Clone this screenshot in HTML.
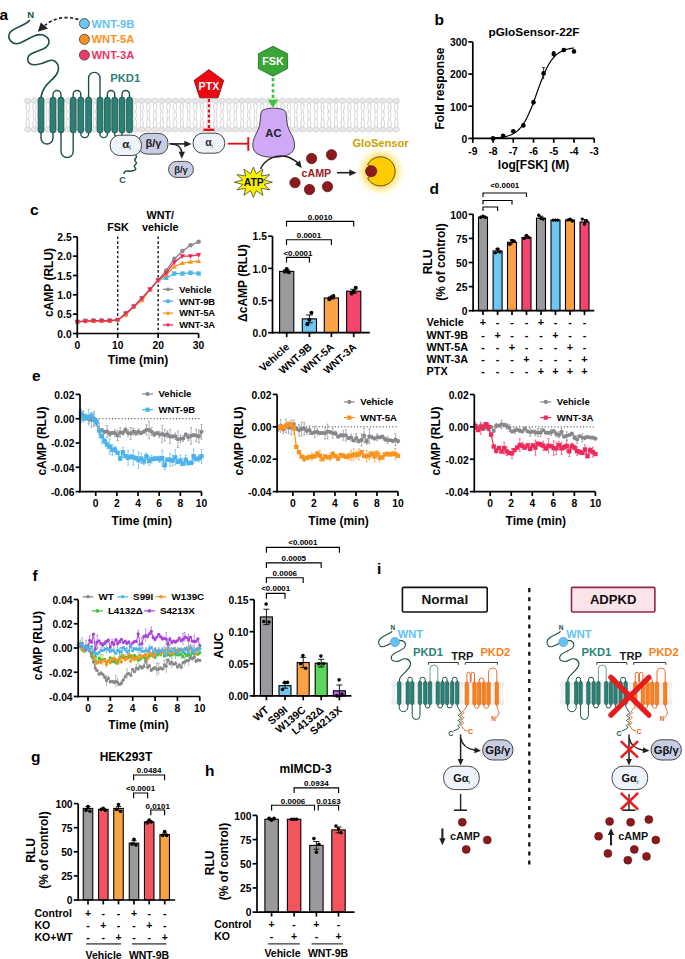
<!DOCTYPE html>
<html><head><meta charset="utf-8"><style>
html,body{margin:0;padding:0;background:#fff;}
svg{display:block;font-family:"Liberation Sans", sans-serif;}
</style></head><body>
<svg width="685" height="959" viewBox="0 0 685 959">
<rect width="685" height="959" fill="#fff"/>
<text x="-0.5" y="19.75" font-size="15.5" font-weight="bold" text-anchor="start" fill="#000">a</text>
<path d="M26.75,102.87 L25.95,107.15 L27.05,111.43 L26.25,114.86 M28.75,102.87 L29.55,107.15 L28.45,111.43 L29.25,114.86 M26.75,127.33 L25.95,123.05 L27.05,118.77 L26.25,115.34 M28.75,127.33 L29.55,123.05 L28.45,118.77 L29.25,115.34 M33.45,102.87 L32.65,107.15 L33.75,111.43 L32.95,114.86 M35.45,102.87 L36.25,107.15 L35.15,111.43 L35.95,114.86 M33.45,127.33 L32.65,123.05 L33.75,118.77 L32.95,115.34 M35.45,127.33 L36.25,123.05 L35.15,118.77 L35.95,115.34 M40.15,102.87 L39.35,107.15 L40.45,111.43 L39.65,114.86 M42.15,102.87 L42.95,107.15 L41.85,111.43 L42.65,114.86 M40.15,127.33 L39.35,123.05 L40.45,118.77 L39.65,115.34 M42.15,127.33 L42.95,123.05 L41.85,118.77 L42.65,115.34 M46.85,102.87 L46.05,107.15 L47.15,111.43 L46.35,114.86 M48.85,102.87 L49.65,107.15 L48.55,111.43 L49.35,114.86 M46.85,127.33 L46.05,123.05 L47.15,118.77 L46.35,115.34 M48.85,127.33 L49.65,123.05 L48.55,118.77 L49.35,115.34 M53.55,102.87 L52.75,107.15 L53.85,111.43 L53.05,114.86 M55.55,102.87 L56.35,107.15 L55.25,111.43 L56.05,114.86 M53.55,127.33 L52.75,123.05 L53.85,118.77 L53.05,115.34 M55.55,127.33 L56.35,123.05 L55.25,118.77 L56.05,115.34 M60.25,102.87 L59.45,107.15 L60.55,111.43 L59.75,114.86 M62.25,102.87 L63.05,107.15 L61.95,111.43 L62.75,114.86 M60.25,127.33 L59.45,123.05 L60.55,118.77 L59.75,115.34 M62.25,127.33 L63.05,123.05 L61.95,118.77 L62.75,115.34 M66.95,102.87 L66.15,107.15 L67.25,111.43 L66.45,114.86 M68.95,102.87 L69.75,107.15 L68.65,111.43 L69.45,114.86 M66.95,127.33 L66.15,123.05 L67.25,118.77 L66.45,115.34 M68.95,127.33 L69.75,123.05 L68.65,118.77 L69.45,115.34 M73.65,102.87 L72.85,107.15 L73.95,111.43 L73.15,114.86 M75.65,102.87 L76.45,107.15 L75.35,111.43 L76.15,114.86 M73.65,127.33 L72.85,123.05 L73.95,118.77 L73.15,115.34 M75.65,127.33 L76.45,123.05 L75.35,118.77 L76.15,115.34 M80.35,102.87 L79.55,107.15 L80.65,111.43 L79.85,114.86 M82.35,102.87 L83.15,107.15 L82.05,111.43 L82.85,114.86 M80.35,127.33 L79.55,123.05 L80.65,118.77 L79.85,115.34 M82.35,127.33 L83.15,123.05 L82.05,118.77 L82.85,115.34 M87.05,102.87 L86.25,107.15 L87.35,111.43 L86.55,114.86 M89.05,102.87 L89.85,107.15 L88.75,111.43 L89.55,114.86 M87.05,127.33 L86.25,123.05 L87.35,118.77 L86.55,115.34 M89.05,127.33 L89.85,123.05 L88.75,118.77 L89.55,115.34 M93.75,102.87 L92.95,107.15 L94.05,111.43 L93.25,114.86 M95.75,102.87 L96.55,107.15 L95.45,111.43 L96.25,114.86 M93.75,127.33 L92.95,123.05 L94.05,118.77 L93.25,115.34 M95.75,127.33 L96.55,123.05 L95.45,118.77 L96.25,115.34 M100.45,102.87 L99.65,107.15 L100.75,111.43 L99.95,114.86 M102.45,102.87 L103.25,107.15 L102.15,111.43 L102.95,114.86 M100.45,127.33 L99.65,123.05 L100.75,118.77 L99.95,115.34 M102.45,127.33 L103.25,123.05 L102.15,118.77 L102.95,115.34 M107.15,102.87 L106.35,107.15 L107.45,111.43 L106.65,114.86 M109.15,102.87 L109.95,107.15 L108.85,111.43 L109.65,114.86 M107.15,127.33 L106.35,123.05 L107.45,118.77 L106.65,115.34 M109.15,127.33 L109.95,123.05 L108.85,118.77 L109.65,115.34 M113.85,102.87 L113.05,107.15 L114.15,111.43 L113.35,114.86 M115.85,102.87 L116.65,107.15 L115.55,111.43 L116.35,114.86 M113.85,127.33 L113.05,123.05 L114.15,118.77 L113.35,115.34 M115.85,127.33 L116.65,123.05 L115.55,118.77 L116.35,115.34 M120.55,102.87 L119.75,107.15 L120.85,111.43 L120.05,114.86 M122.55,102.87 L123.35,107.15 L122.25,111.43 L123.05,114.86 M120.55,127.33 L119.75,123.05 L120.85,118.77 L120.05,115.34 M122.55,127.33 L123.35,123.05 L122.25,118.77 L123.05,115.34 M127.25,102.87 L126.45,107.15 L127.55,111.43 L126.75,114.86 M129.25,102.87 L130.05,107.15 L128.95,111.43 L129.75,114.86 M127.25,127.33 L126.45,123.05 L127.55,118.77 L126.75,115.34 M129.25,127.33 L130.05,123.05 L128.95,118.77 L129.75,115.34 M133.95,102.87 L133.15,107.15 L134.25,111.43 L133.45,114.86 M135.95,102.87 L136.75,107.15 L135.65,111.43 L136.45,114.86 M133.95,127.33 L133.15,123.05 L134.25,118.77 L133.45,115.34 M135.95,127.33 L136.75,123.05 L135.65,118.77 L136.45,115.34 M140.65,102.87 L139.85,107.15 L140.95,111.43 L140.15,114.86 M142.65,102.87 L143.45,107.15 L142.35,111.43 L143.15,114.86 M140.65,127.33 L139.85,123.05 L140.95,118.77 L140.15,115.34 M142.65,127.33 L143.45,123.05 L142.35,118.77 L143.15,115.34 M147.35,102.87 L146.55,107.15 L147.65,111.43 L146.85,114.86 M149.35,102.87 L150.15,107.15 L149.05,111.43 L149.85,114.86 M147.35,127.33 L146.55,123.05 L147.65,118.77 L146.85,115.34 M149.35,127.33 L150.15,123.05 L149.05,118.77 L149.85,115.34 M154.05,102.87 L153.25,107.15 L154.35,111.43 L153.55,114.86 M156.05,102.87 L156.85,107.15 L155.75,111.43 L156.55,114.86 M154.05,127.33 L153.25,123.05 L154.35,118.77 L153.55,115.34 M156.05,127.33 L156.85,123.05 L155.75,118.77 L156.55,115.34 M160.75,102.87 L159.95,107.15 L161.05,111.43 L160.25,114.86 M162.75,102.87 L163.55,107.15 L162.45,111.43 L163.25,114.86 M160.75,127.33 L159.95,123.05 L161.05,118.77 L160.25,115.34 M162.75,127.33 L163.55,123.05 L162.45,118.77 L163.25,115.34 M167.45,102.87 L166.65,107.15 L167.75,111.43 L166.95,114.86 M169.45,102.87 L170.25,107.15 L169.15,111.43 L169.95,114.86 M167.45,127.33 L166.65,123.05 L167.75,118.77 L166.95,115.34 M169.45,127.33 L170.25,123.05 L169.15,118.77 L169.95,115.34 M174.15,102.87 L173.35,107.15 L174.45,111.43 L173.65,114.86 M176.15,102.87 L176.95,107.15 L175.85,111.43 L176.65,114.86 M174.15,127.33 L173.35,123.05 L174.45,118.77 L173.65,115.34 M176.15,127.33 L176.95,123.05 L175.85,118.77 L176.65,115.34 M180.85,102.87 L180.05,107.15 L181.15,111.43 L180.35,114.86 M182.85,102.87 L183.65,107.15 L182.55,111.43 L183.35,114.86 M180.85,127.33 L180.05,123.05 L181.15,118.77 L180.35,115.34 M182.85,127.33 L183.65,123.05 L182.55,118.77 L183.35,115.34 M187.55,102.87 L186.75,107.15 L187.85,111.43 L187.05,114.86 M189.55,102.87 L190.35,107.15 L189.25,111.43 L190.05,114.86 M187.55,127.33 L186.75,123.05 L187.85,118.77 L187.05,115.34 M189.55,127.33 L190.35,123.05 L189.25,118.77 L190.05,115.34 M194.25,102.87 L193.45,107.15 L194.55,111.43 L193.75,114.86 M196.25,102.87 L197.05,107.15 L195.95,111.43 L196.75,114.86 M194.25,127.33 L193.45,123.05 L194.55,118.77 L193.75,115.34 M196.25,127.33 L197.05,123.05 L195.95,118.77 L196.75,115.34 M200.95,102.87 L200.15,107.15 L201.25,111.43 L200.45,114.86 M202.95,102.87 L203.75,107.15 L202.65,111.43 L203.45,114.86 M200.95,127.33 L200.15,123.05 L201.25,118.77 L200.45,115.34 M202.95,127.33 L203.75,123.05 L202.65,118.77 L203.45,115.34 M207.65,102.87 L206.85,107.15 L207.95,111.43 L207.15,114.86 M209.65,102.87 L210.45,107.15 L209.35,111.43 L210.15,114.86 M207.65,127.33 L206.85,123.05 L207.95,118.77 L207.15,115.34 M209.65,127.33 L210.45,123.05 L209.35,118.77 L210.15,115.34 M214.35,102.87 L213.55,107.15 L214.65,111.43 L213.85,114.86 M216.35,102.87 L217.15,107.15 L216.05,111.43 L216.85,114.86 M214.35,127.33 L213.55,123.05 L214.65,118.77 L213.85,115.34 M216.35,127.33 L217.15,123.05 L216.05,118.77 L216.85,115.34 M221.05,102.87 L220.25,107.15 L221.35,111.43 L220.55,114.86 M223.05,102.87 L223.85,107.15 L222.75,111.43 L223.55,114.86 M221.05,127.33 L220.25,123.05 L221.35,118.77 L220.55,115.34 M223.05,127.33 L223.85,123.05 L222.75,118.77 L223.55,115.34 M227.75,102.87 L226.95,107.15 L228.05,111.43 L227.25,114.86 M229.75,102.87 L230.55,107.15 L229.45,111.43 L230.25,114.86 M227.75,127.33 L226.95,123.05 L228.05,118.77 L227.25,115.34 M229.75,127.33 L230.55,123.05 L229.45,118.77 L230.25,115.34 M234.45,102.87 L233.65,107.15 L234.75,111.43 L233.95,114.86 M236.45,102.87 L237.25,107.15 L236.15,111.43 L236.95,114.86 M234.45,127.33 L233.65,123.05 L234.75,118.77 L233.95,115.34 M236.45,127.33 L237.25,123.05 L236.15,118.77 L236.95,115.34 M241.15,102.87 L240.35,107.15 L241.45,111.43 L240.65,114.86 M243.15,102.87 L243.95,107.15 L242.85,111.43 L243.65,114.86 M241.15,127.33 L240.35,123.05 L241.45,118.77 L240.65,115.34 M243.15,127.33 L243.95,123.05 L242.85,118.77 L243.65,115.34 M247.85,102.87 L247.05,107.15 L248.15,111.43 L247.35,114.86 M249.85,102.87 L250.65,107.15 L249.55,111.43 L250.35,114.86 M247.85,127.33 L247.05,123.05 L248.15,118.77 L247.35,115.34 M249.85,127.33 L250.65,123.05 L249.55,118.77 L250.35,115.34 M254.55,102.87 L253.75,107.15 L254.85,111.43 L254.05,114.86 M256.55,102.87 L257.35,107.15 L256.25,111.43 L257.05,114.86 M254.55,127.33 L253.75,123.05 L254.85,118.77 L254.05,115.34 M256.55,127.33 L257.35,123.05 L256.25,118.77 L257.05,115.34 M261.25,102.87 L260.45,107.15 L261.55,111.43 L260.75,114.86 M263.25,102.87 L264.05,107.15 L262.95,111.43 L263.75,114.86 M261.25,127.33 L260.45,123.05 L261.55,118.77 L260.75,115.34 M263.25,127.33 L264.05,123.05 L262.95,118.77 L263.75,115.34 M267.95,102.87 L267.15,107.15 L268.25,111.43 L267.45,114.86 M269.95,102.87 L270.75,107.15 L269.65,111.43 L270.45,114.86 M267.95,127.33 L267.15,123.05 L268.25,118.77 L267.45,115.34 M269.95,127.33 L270.75,123.05 L269.65,118.77 L270.45,115.34 M274.65,102.87 L273.85,107.15 L274.95,111.43 L274.15,114.86 M276.65,102.87 L277.45,107.15 L276.35,111.43 L277.15,114.86 M274.65,127.33 L273.85,123.05 L274.95,118.77 L274.15,115.34 M276.65,127.33 L277.45,123.05 L276.35,118.77 L277.15,115.34 M281.35,102.87 L280.55,107.15 L281.65,111.43 L280.85,114.86 M283.35,102.87 L284.15,107.15 L283.05,111.43 L283.85,114.86 M281.35,127.33 L280.55,123.05 L281.65,118.77 L280.85,115.34 M283.35,127.33 L284.15,123.05 L283.05,118.77 L283.85,115.34 M288.05,102.87 L287.25,107.15 L288.35,111.43 L287.55,114.86 M290.05,102.87 L290.85,107.15 L289.75,111.43 L290.55,114.86 M288.05,127.33 L287.25,123.05 L288.35,118.77 L287.55,115.34 M290.05,127.33 L290.85,123.05 L289.75,118.77 L290.55,115.34 M294.75,102.87 L293.95,107.15 L295.05,111.43 L294.25,114.86 M296.75,102.87 L297.55,107.15 L296.45,111.43 L297.25,114.86 M294.75,127.33 L293.95,123.05 L295.05,118.77 L294.25,115.34 M296.75,127.33 L297.55,123.05 L296.45,118.77 L297.25,115.34 M301.45,102.87 L300.65,107.15 L301.75,111.43 L300.95,114.86 M303.45,102.87 L304.25,107.15 L303.15,111.43 L303.95,114.86 M301.45,127.33 L300.65,123.05 L301.75,118.77 L300.95,115.34 M303.45,127.33 L304.25,123.05 L303.15,118.77 L303.95,115.34 M308.15,102.87 L307.35,107.15 L308.45,111.43 L307.65,114.86 M310.15,102.87 L310.95,107.15 L309.85,111.43 L310.65,114.86 M308.15,127.33 L307.35,123.05 L308.45,118.77 L307.65,115.34 M310.15,127.33 L310.95,123.05 L309.85,118.77 L310.65,115.34 M314.85,102.87 L314.05,107.15 L315.15,111.43 L314.35,114.86 M316.85,102.87 L317.65,107.15 L316.55,111.43 L317.35,114.86 M314.85,127.33 L314.05,123.05 L315.15,118.77 L314.35,115.34 M316.85,127.33 L317.65,123.05 L316.55,118.77 L317.35,115.34 M321.55,102.87 L320.75,107.15 L321.85,111.43 L321.05,114.86 M323.55,102.87 L324.35,107.15 L323.25,111.43 L324.05,114.86 M321.55,127.33 L320.75,123.05 L321.85,118.77 L321.05,115.34 M323.55,127.33 L324.35,123.05 L323.25,118.77 L324.05,115.34 M328.25,102.87 L327.45,107.15 L328.55,111.43 L327.75,114.86 M330.25,102.87 L331.05,107.15 L329.95,111.43 L330.75,114.86 M328.25,127.33 L327.45,123.05 L328.55,118.77 L327.75,115.34 M330.25,127.33 L331.05,123.05 L329.95,118.77 L330.75,115.34 M334.95,102.87 L334.15,107.15 L335.25,111.43 L334.45,114.86 M336.95,102.87 L337.75,107.15 L336.65,111.43 L337.45,114.86 M334.95,127.33 L334.15,123.05 L335.25,118.77 L334.45,115.34 M336.95,127.33 L337.75,123.05 L336.65,118.77 L337.45,115.34 M341.65,102.87 L340.85,107.15 L341.95,111.43 L341.15,114.86 M343.65,102.87 L344.45,107.15 L343.35,111.43 L344.15,114.86 M341.65,127.33 L340.85,123.05 L341.95,118.77 L341.15,115.34 M343.65,127.33 L344.45,123.05 L343.35,118.77 L344.15,115.34 M348.35,102.87 L347.55,107.15 L348.65,111.43 L347.85,114.86 M350.35,102.87 L351.15,107.15 L350.05,111.43 L350.85,114.86 M348.35,127.33 L347.55,123.05 L348.65,118.77 L347.85,115.34 M350.35,127.33 L351.15,123.05 L350.05,118.77 L350.85,115.34 M355.05,102.87 L354.25,107.15 L355.35,111.43 L354.55,114.86 M357.05,102.87 L357.85,107.15 L356.75,111.43 L357.55,114.86 M355.05,127.33 L354.25,123.05 L355.35,118.77 L354.55,115.34 M357.05,127.33 L357.85,123.05 L356.75,118.77 L357.55,115.34 M361.75,102.87 L360.95,107.15 L362.05,111.43 L361.25,114.86 M363.75,102.87 L364.55,107.15 L363.45,111.43 L364.25,114.86 M361.75,127.33 L360.95,123.05 L362.05,118.77 L361.25,115.34 M363.75,127.33 L364.55,123.05 L363.45,118.77 L364.25,115.34 M368.45,102.87 L367.65,107.15 L368.75,111.43 L367.95,114.86 M370.45,102.87 L371.25,107.15 L370.15,111.43 L370.95,114.86 M368.45,127.33 L367.65,123.05 L368.75,118.77 L367.95,115.34 M370.45,127.33 L371.25,123.05 L370.15,118.77 L370.95,115.34 M375.15,102.87 L374.35,107.15 L375.45,111.43 L374.65,114.86 M377.15,102.87 L377.95,107.15 L376.85,111.43 L377.65,114.86 M375.15,127.33 L374.35,123.05 L375.45,118.77 L374.65,115.34 M377.15,127.33 L377.95,123.05 L376.85,118.77 L377.65,115.34 M381.85,102.87 L381.05,107.15 L382.15,111.43 L381.35,114.86 M383.85,102.87 L384.65,107.15 L383.55,111.43 L384.35,114.86 M381.85,127.33 L381.05,123.05 L382.15,118.77 L381.35,115.34 M383.85,127.33 L384.65,123.05 L383.55,118.77 L384.35,115.34 M388.55,102.87 L387.75,107.15 L388.85,111.43 L388.05,114.86 M390.55,102.87 L391.35,107.15 L390.25,111.43 L391.05,114.86 M388.55,127.33 L387.75,123.05 L388.85,118.77 L388.05,115.34 M390.55,127.33 L391.35,123.05 L390.25,118.77 L391.05,115.34 M395.25,102.87 L394.45,107.15 L395.55,111.43 L394.75,114.86 M397.25,102.87 L398.05,107.15 L396.95,111.43 L397.75,114.86 M395.25,127.33 L394.45,123.05 L395.55,118.77 L394.75,115.34 M397.25,127.33 L398.05,123.05 L396.95,118.77 L397.75,115.34" stroke="#b9b9b9" stroke-width="0.6" fill="none"/>
<g fill="#e7e7e7" stroke="#c9c9c9" stroke-width="0.55"><ellipse cx="27.75" cy="100.75" rx="3.2" ry="2.65"/><ellipse cx="27.75" cy="129.45" rx="3.2" ry="2.65"/><ellipse cx="34.45" cy="100.75" rx="3.2" ry="2.65"/><ellipse cx="34.45" cy="129.45" rx="3.2" ry="2.65"/><ellipse cx="41.15" cy="100.75" rx="3.2" ry="2.65"/><ellipse cx="41.15" cy="129.45" rx="3.2" ry="2.65"/><ellipse cx="47.85" cy="100.75" rx="3.2" ry="2.65"/><ellipse cx="47.85" cy="129.45" rx="3.2" ry="2.65"/><ellipse cx="54.55" cy="100.75" rx="3.2" ry="2.65"/><ellipse cx="54.55" cy="129.45" rx="3.2" ry="2.65"/><ellipse cx="61.25" cy="100.75" rx="3.2" ry="2.65"/><ellipse cx="61.25" cy="129.45" rx="3.2" ry="2.65"/><ellipse cx="67.95" cy="100.75" rx="3.2" ry="2.65"/><ellipse cx="67.95" cy="129.45" rx="3.2" ry="2.65"/><ellipse cx="74.65" cy="100.75" rx="3.2" ry="2.65"/><ellipse cx="74.65" cy="129.45" rx="3.2" ry="2.65"/><ellipse cx="81.35" cy="100.75" rx="3.2" ry="2.65"/><ellipse cx="81.35" cy="129.45" rx="3.2" ry="2.65"/><ellipse cx="88.05" cy="100.75" rx="3.2" ry="2.65"/><ellipse cx="88.05" cy="129.45" rx="3.2" ry="2.65"/><ellipse cx="94.75" cy="100.75" rx="3.2" ry="2.65"/><ellipse cx="94.75" cy="129.45" rx="3.2" ry="2.65"/><ellipse cx="101.45" cy="100.75" rx="3.2" ry="2.65"/><ellipse cx="101.45" cy="129.45" rx="3.2" ry="2.65"/><ellipse cx="108.15" cy="100.75" rx="3.2" ry="2.65"/><ellipse cx="108.15" cy="129.45" rx="3.2" ry="2.65"/><ellipse cx="114.85" cy="100.75" rx="3.2" ry="2.65"/><ellipse cx="114.85" cy="129.45" rx="3.2" ry="2.65"/><ellipse cx="121.55" cy="100.75" rx="3.2" ry="2.65"/><ellipse cx="121.55" cy="129.45" rx="3.2" ry="2.65"/><ellipse cx="128.25" cy="100.75" rx="3.2" ry="2.65"/><ellipse cx="128.25" cy="129.45" rx="3.2" ry="2.65"/><ellipse cx="134.95" cy="100.75" rx="3.2" ry="2.65"/><ellipse cx="134.95" cy="129.45" rx="3.2" ry="2.65"/><ellipse cx="141.65" cy="100.75" rx="3.2" ry="2.65"/><ellipse cx="141.65" cy="129.45" rx="3.2" ry="2.65"/><ellipse cx="148.35" cy="100.75" rx="3.2" ry="2.65"/><ellipse cx="148.35" cy="129.45" rx="3.2" ry="2.65"/><ellipse cx="155.05" cy="100.75" rx="3.2" ry="2.65"/><ellipse cx="155.05" cy="129.45" rx="3.2" ry="2.65"/><ellipse cx="161.75" cy="100.75" rx="3.2" ry="2.65"/><ellipse cx="161.75" cy="129.45" rx="3.2" ry="2.65"/><ellipse cx="168.45" cy="100.75" rx="3.2" ry="2.65"/><ellipse cx="168.45" cy="129.45" rx="3.2" ry="2.65"/><ellipse cx="175.15" cy="100.75" rx="3.2" ry="2.65"/><ellipse cx="175.15" cy="129.45" rx="3.2" ry="2.65"/><ellipse cx="181.85" cy="100.75" rx="3.2" ry="2.65"/><ellipse cx="181.85" cy="129.45" rx="3.2" ry="2.65"/><ellipse cx="188.55" cy="100.75" rx="3.2" ry="2.65"/><ellipse cx="188.55" cy="129.45" rx="3.2" ry="2.65"/><ellipse cx="195.25" cy="100.75" rx="3.2" ry="2.65"/><ellipse cx="195.25" cy="129.45" rx="3.2" ry="2.65"/><ellipse cx="201.95" cy="100.75" rx="3.2" ry="2.65"/><ellipse cx="201.95" cy="129.45" rx="3.2" ry="2.65"/><ellipse cx="208.65" cy="100.75" rx="3.2" ry="2.65"/><ellipse cx="208.65" cy="129.45" rx="3.2" ry="2.65"/><ellipse cx="215.35" cy="100.75" rx="3.2" ry="2.65"/><ellipse cx="215.35" cy="129.45" rx="3.2" ry="2.65"/><ellipse cx="222.05" cy="100.75" rx="3.2" ry="2.65"/><ellipse cx="222.05" cy="129.45" rx="3.2" ry="2.65"/><ellipse cx="228.75" cy="100.75" rx="3.2" ry="2.65"/><ellipse cx="228.75" cy="129.45" rx="3.2" ry="2.65"/><ellipse cx="235.45" cy="100.75" rx="3.2" ry="2.65"/><ellipse cx="235.45" cy="129.45" rx="3.2" ry="2.65"/><ellipse cx="242.15" cy="100.75" rx="3.2" ry="2.65"/><ellipse cx="242.15" cy="129.45" rx="3.2" ry="2.65"/><ellipse cx="248.85" cy="100.75" rx="3.2" ry="2.65"/><ellipse cx="248.85" cy="129.45" rx="3.2" ry="2.65"/><ellipse cx="255.55" cy="100.75" rx="3.2" ry="2.65"/><ellipse cx="255.55" cy="129.45" rx="3.2" ry="2.65"/><ellipse cx="262.25" cy="100.75" rx="3.2" ry="2.65"/><ellipse cx="262.25" cy="129.45" rx="3.2" ry="2.65"/><ellipse cx="268.95" cy="100.75" rx="3.2" ry="2.65"/><ellipse cx="268.95" cy="129.45" rx="3.2" ry="2.65"/><ellipse cx="275.65" cy="100.75" rx="3.2" ry="2.65"/><ellipse cx="275.65" cy="129.45" rx="3.2" ry="2.65"/><ellipse cx="282.35" cy="100.75" rx="3.2" ry="2.65"/><ellipse cx="282.35" cy="129.45" rx="3.2" ry="2.65"/><ellipse cx="289.05" cy="100.75" rx="3.2" ry="2.65"/><ellipse cx="289.05" cy="129.45" rx="3.2" ry="2.65"/><ellipse cx="295.75" cy="100.75" rx="3.2" ry="2.65"/><ellipse cx="295.75" cy="129.45" rx="3.2" ry="2.65"/><ellipse cx="302.45" cy="100.75" rx="3.2" ry="2.65"/><ellipse cx="302.45" cy="129.45" rx="3.2" ry="2.65"/><ellipse cx="309.15" cy="100.75" rx="3.2" ry="2.65"/><ellipse cx="309.15" cy="129.45" rx="3.2" ry="2.65"/><ellipse cx="315.85" cy="100.75" rx="3.2" ry="2.65"/><ellipse cx="315.85" cy="129.45" rx="3.2" ry="2.65"/><ellipse cx="322.55" cy="100.75" rx="3.2" ry="2.65"/><ellipse cx="322.55" cy="129.45" rx="3.2" ry="2.65"/><ellipse cx="329.25" cy="100.75" rx="3.2" ry="2.65"/><ellipse cx="329.25" cy="129.45" rx="3.2" ry="2.65"/><ellipse cx="335.95" cy="100.75" rx="3.2" ry="2.65"/><ellipse cx="335.95" cy="129.45" rx="3.2" ry="2.65"/><ellipse cx="342.65" cy="100.75" rx="3.2" ry="2.65"/><ellipse cx="342.65" cy="129.45" rx="3.2" ry="2.65"/><ellipse cx="349.35" cy="100.75" rx="3.2" ry="2.65"/><ellipse cx="349.35" cy="129.45" rx="3.2" ry="2.65"/><ellipse cx="356.05" cy="100.75" rx="3.2" ry="2.65"/><ellipse cx="356.05" cy="129.45" rx="3.2" ry="2.65"/><ellipse cx="362.75" cy="100.75" rx="3.2" ry="2.65"/><ellipse cx="362.75" cy="129.45" rx="3.2" ry="2.65"/><ellipse cx="369.45" cy="100.75" rx="3.2" ry="2.65"/><ellipse cx="369.45" cy="129.45" rx="3.2" ry="2.65"/><ellipse cx="376.15" cy="100.75" rx="3.2" ry="2.65"/><ellipse cx="376.15" cy="129.45" rx="3.2" ry="2.65"/><ellipse cx="382.85" cy="100.75" rx="3.2" ry="2.65"/><ellipse cx="382.85" cy="129.45" rx="3.2" ry="2.65"/><ellipse cx="389.55" cy="100.75" rx="3.2" ry="2.65"/><ellipse cx="389.55" cy="129.45" rx="3.2" ry="2.65"/><ellipse cx="396.25" cy="100.75" rx="3.2" ry="2.65"/><ellipse cx="396.25" cy="129.45" rx="3.2" ry="2.65"/></g>
<circle cx="84.4" cy="23.6" r="5" fill="#6cc6f2" stroke="#3c3c3c" stroke-width="0.8"/>
<text x="91.5" y="27.61" font-size="11.2" font-weight="bold" text-anchor="start" fill="#62c2f2">WNT-9B</text>
<circle cx="84.4" cy="39.35" r="5" fill="#f7911f" stroke="#3c3c3c" stroke-width="0.8"/>
<text x="91.5" y="43.36" font-size="11.2" font-weight="bold" text-anchor="start" fill="#f7911f">WNT-5A</text>
<circle cx="84.4" cy="55.1" r="5" fill="#ee3a66" stroke="#3c3c3c" stroke-width="0.8"/>
<text x="91.5" y="59.11" font-size="11.2" font-weight="bold" text-anchor="start" fill="#ec3563">WNT-3A</text>
<path d="M78.5,19.5 C66,15.5 53,18 45,25.5" stroke="#222" stroke-width="1.7" fill="none" stroke-dasharray="3.2,2.3"/>
<path d="M37.8,31.8 L40.8,22.6 L48,28.6 Z" stroke="none" stroke-width="0" fill="#222"/>
<text x="30.6" y="18.2" font-size="9.5" font-weight="bold" text-anchor="middle" fill="#1c4f49">N</text>
<path d="M29.8,20 C27,25 15,27 10.5,32 C6,38 12,46 20,43 C28,40 35,33 43,35 C51,38 51,45 43,49 C35,52 26,54 28,61 C30,67 40,65 48,61 C56,58 61,66 57,73.5 C53,81 43,84 41,97" stroke="#1c4f49" stroke-width="1.6" fill="none"/>
<path d="M53,100 L53,94.5 A4,4 0 0 1 61,94.5 L61,100" stroke="#1c4f49" stroke-width="1.4" fill="none"/>
<path d="M73.2,100 L73.2,94.3 A3.8,3.8 0 0 1 80.8,94.3 L80.8,100" stroke="#1c4f49" stroke-width="1.4" fill="none"/>
<path d="M88.6,100 L88.6,78.1 A5.7,5.7 0 0 1 100,78.1 L100,100" stroke="#1c4f49" stroke-width="1.4" fill="none"/>
<path d="M107.4,100 L107.4,94.15 A3.65,3.65 0 0 1 114.7,94.15 L114.7,100" stroke="#1c4f49" stroke-width="1.4" fill="none"/>
<path d="M122,100 L122,94.25 A3.75,3.75 0 0 1 129.5,94.25 L129.5,100" stroke="#1c4f49" stroke-width="1.4" fill="none"/>
<path d="M41,130 L41,138 A6,6 0 0 0 53,138 L53,130" stroke="#1c4f49" stroke-width="1.4" fill="none"/>
<path d="M61,130 L61,151.4 A6.1,6.1 0 0 0 73.2,151.4 L73.2,130" stroke="#1c4f49" stroke-width="1.4" fill="none"/>
<path d="M80.8,130 L80.8,133.7 A3.9,3.9 0 0 0 88.6,133.7 L88.6,130" stroke="#1c4f49" stroke-width="1.4" fill="none"/>
<path d="M100,130 L100,133.9 A3.7,3.7 0 0 0 107.4,133.9 L107.4,130" stroke="#1c4f49" stroke-width="1.4" fill="none"/>
<path d="M114.7,130 L114.7,133.95 A3.65,3.65 0 0 0 122,133.95 L122,130" stroke="#1c4f49" stroke-width="1.4" fill="none"/>
<rect x="38.1" y="97" width="5.8" height="36" rx="2.9" fill="#2a8276" stroke="#1c4f49" stroke-width="0.8"/>
<rect x="50.1" y="97" width="5.8" height="36" rx="2.9" fill="#2a8276" stroke="#1c4f49" stroke-width="0.8"/>
<rect x="58.1" y="97" width="5.8" height="36" rx="2.9" fill="#2a8276" stroke="#1c4f49" stroke-width="0.8"/>
<rect x="70.3" y="97" width="5.8" height="36" rx="2.9" fill="#2a8276" stroke="#1c4f49" stroke-width="0.8"/>
<rect x="77.9" y="97" width="5.8" height="36" rx="2.9" fill="#2a8276" stroke="#1c4f49" stroke-width="0.8"/>
<rect x="85.7" y="97" width="5.8" height="36" rx="2.9" fill="#2a8276" stroke="#1c4f49" stroke-width="0.8"/>
<rect x="97.1" y="97" width="5.8" height="36" rx="2.9" fill="#2a8276" stroke="#1c4f49" stroke-width="0.8"/>
<rect x="104.5" y="97" width="5.8" height="36" rx="2.9" fill="#2a8276" stroke="#1c4f49" stroke-width="0.8"/>
<rect x="111.8" y="97" width="5.8" height="36" rx="2.9" fill="#2a8276" stroke="#1c4f49" stroke-width="0.8"/>
<rect x="119.1" y="97" width="5.8" height="36" rx="2.9" fill="#2a8276" stroke="#1c4f49" stroke-width="0.8"/>
<rect x="126.6" y="97" width="5.8" height="36" rx="2.9" fill="#2a8276" stroke="#1c4f49" stroke-width="0.8"/>
<text x="125.2" y="82.25" font-size="11.3" font-weight="bold" text-anchor="middle" fill="#2a8276">PKD1</text>
<path d="M135.5,155 C139,157.5 132.5,159 135.5,161.5 C139,164 132,165 135,167.5 C138,170.5 131,171.5 128,171 C125,170.5 124,172.5 123.8,174" stroke="#1c4f49" stroke-width="1.5" fill="none"/>
<text x="122.6" y="182.72" font-size="9" font-weight="bold" text-anchor="middle" fill="#1c4f49">C</text>
<rect x="138.2" y="133.4" width="29.7" height="20.7" rx="9" fill="#c8cde4" stroke="#333" stroke-width="0.9"/>
<rect x="110.2" y="135.2" width="31.3" height="20.3" rx="9.5" fill="#eef2fa" stroke="#333" stroke-width="0.9"/>
<text x="126.5" y="148.45" font-size="11.5" font-weight="bold" text-anchor="middle" fill="#222">α<tspan font-size="6.33" dy="2" font-weight="normal">i</tspan></text>
<text x="153.5" y="147.31" font-size="11.2" font-weight="bold" text-anchor="middle" fill="#222">β/γ</text>
<line x1="169.3" y1="143.9" x2="185" y2="143.9" stroke="#222" stroke-width="1.6"/>
<path d="M191.5,143.9 L184.3,147.14 L184.3,140.66 Z" stroke="none" stroke-width="0" fill="#222"/>
<path d="M171,143.9 C178,144 181.5,148 181.8,152.5" stroke="#222" stroke-width="1.6" fill="none"/>
<path d="M181.8,158.8 L178.65,151.8 L184.95,151.8 Z" stroke="none" stroke-width="0" fill="#222"/>
<rect x="168.6" y="161.4" width="24.8" height="16" rx="8" fill="#c8cde4" stroke="#333" stroke-width="0.9"/>
<text x="181" y="172.8" font-size="9.5" font-weight="bold" text-anchor="middle" fill="#222">β/γ</text>
<rect x="193.1" y="133.2" width="31.6" height="20" rx="9.5" fill="#eef2fa" stroke="#333" stroke-width="0.9"/>
<text x="209" y="146.35" font-size="10.5" font-weight="bold" text-anchor="middle" fill="#222">α<tspan font-size="5.78" dy="2" font-weight="normal">i</tspan></text>
<polygon points="208.9,69.6 223.74,80.38 218.07,97.82 199.73,97.82 194.06,80.38" fill="#ea0a12" stroke="#8a0a0a" stroke-width="0.8"/>
<text x="208.9" y="89.79" font-size="10.6" font-weight="bold" text-anchor="middle" fill="#fff">PTX</text>
<line x1="208.9" y1="99" x2="208.9" y2="128" stroke="#ea0a12" stroke-width="2.2" stroke-dasharray="3,2.2"/>
<line x1="203.5" y1="129.8" x2="214.3" y2="129.8" stroke="#ea0a12" stroke-width="2.4"/>
<line x1="227.7" y1="143.7" x2="248.3" y2="143.7" stroke="#ea0a12" stroke-width="1.8"/>
<line x1="248.3" y1="137" x2="248.3" y2="150.8" stroke="#ea0a12" stroke-width="1.9"/>
<polygon points="273,46.2 287.6,53.8 287.6,68.6 273,76.2 258.4,68.6 258.4,53.8" fill="#38a534" stroke="#1d6b1d" stroke-width="0.8"/>
<text x="273" y="65.27" font-size="10.8" font-weight="bold" text-anchor="middle" fill="#fff">FSK</text>
<line x1="273" y1="78" x2="273" y2="100.5" stroke="#3cc43c" stroke-width="2.6" stroke-dasharray="3.2,2.4"/>
<path d="M267.8,99.8 L278.2,99.8 L273,107.6 Z" stroke="none" stroke-width="0" fill="#3cc43c"/>
<path d="M261,113 C261,106.5 286,106.5 286,113 L287.2,124 C288.5,132 295,137 294.6,146 C294.2,154.5 284,157.3 273.5,157.3 C263,157.3 253,154.5 252.8,146 C252.5,137 258.5,132 259.8,124 Z" stroke="#333" stroke-width="0.9" fill="#cfa8f6"/>
<text x="273.4" y="136.81" font-size="11.2" font-weight="bold" text-anchor="middle" fill="#222">AC</text>
<polygon points="253.4,167 256.25,173.7 262.9,169.04 261.18,175.98 269.85,174.6 264.03,179.92 272.4,182.2 264.03,184.48 269.85,189.8 261.18,188.42 262.9,195.36 256.25,190.7 253.4,197.4 250.55,190.7 243.9,195.36 245.62,188.42 236.95,189.8 242.77,184.48 234.4,182.2 242.77,179.92 236.95,174.6 245.62,175.98 243.9,169.04 250.55,173.7" fill="#f7f000" stroke="#333" stroke-width="0.7"/>
<text x="253.7" y="186.42" font-size="10.4" font-weight="bold" text-anchor="middle" fill="#111">ATP</text>
<path d="M260.5,169 C265,159 277,153.5 288,157 C293,159 296,161 298,163.5" stroke="#222" stroke-width="1.5" fill="none"/>
<path d="M301.8,168 L295.01,164.42 L299.97,160.54 Z" stroke="none" stroke-width="0" fill="#222"/>
<text x="316.4" y="177.23" font-size="10.7" font-weight="bold" text-anchor="middle" fill="#9a1c1f">cAMP</text>
<circle cx="311.6" cy="158.5" r="5.2" fill="#8c1a1c" stroke="#4a0c0c" stroke-width="0.6"/>
<circle cx="331.5" cy="154.8" r="5.2" fill="#8c1a1c" stroke="#4a0c0c" stroke-width="0.6"/>
<circle cx="295" cy="182.6" r="5.2" fill="#8c1a1c" stroke="#4a0c0c" stroke-width="0.6"/>
<circle cx="309.5" cy="189.5" r="5.2" fill="#8c1a1c" stroke="#4a0c0c" stroke-width="0.6"/>
<circle cx="327.5" cy="186.6" r="5.2" fill="#8c1a1c" stroke="#4a0c0c" stroke-width="0.6"/>
<line x1="337" y1="172.7" x2="350" y2="172.7" stroke="#222" stroke-width="1.6"/>
<path d="M356.5,172.7 L349.3,175.94 L349.3,169.46 Z" stroke="none" stroke-width="0" fill="#222"/>
<defs><radialGradient id="glow"><stop offset="0.55" stop-color="#ffd94a" stop-opacity="0.95"/><stop offset="0.75" stop-color="#ffe98a" stop-opacity="0.6"/><stop offset="1" stop-color="#fff6c8" stop-opacity="0"/></radialGradient></defs>
<circle cx="380.5" cy="171.4" r="25" fill="url(#glow)" stroke="none" stroke-width="1"/>
<path d="M367.6,164.6 A14.6,14.6 0 1 1 367.6,178.2 A7.4,7.4 0 0 0 367.6,164.6 Z" stroke="#333" stroke-width="0.8" fill="#fecc00"/>
<circle cx="371.2" cy="171.2" r="5.6" fill="#8c1a1c" stroke="#4a0c0c" stroke-width="0.6"/>
<text x="380.5" y="147.17" font-size="11.1" font-weight="bold" text-anchor="middle" fill="#c9a000">GloSensor</text>
<text x="434.5" y="25.05" font-size="15.5" font-weight="bold" text-anchor="start" fill="#000">b</text>
<text x="534" y="36.42" font-size="11.8" font-weight="bold" text-anchor="middle" fill="#000">pGloSensor-22F</text>
<line x1="472.8" y1="41.9" x2="472.8" y2="139.25" stroke="#000" stroke-width="1.7"/>
<line x1="468.4" y1="138.4" x2="472.8" y2="138.4" stroke="#000" stroke-width="1.7"/>
<text x="467.2" y="142.69" font-size="10.3" font-weight="bold" text-anchor="end" fill="#000">0</text>
<line x1="468.4" y1="106.23" x2="472.8" y2="106.23" stroke="#000" stroke-width="1.7"/>
<text x="467.2" y="110.52" font-size="10.3" font-weight="bold" text-anchor="end" fill="#000">100</text>
<line x1="468.4" y1="74.07" x2="472.8" y2="74.07" stroke="#000" stroke-width="1.7"/>
<text x="467.2" y="78.35" font-size="10.3" font-weight="bold" text-anchor="end" fill="#000">200</text>
<line x1="468.4" y1="41.9" x2="472.8" y2="41.9" stroke="#000" stroke-width="1.7"/>
<text x="467.2" y="46.19" font-size="10.3" font-weight="bold" text-anchor="end" fill="#000">300</text>
<line x1="471.95" y1="138.4" x2="594.2" y2="138.4" stroke="#000" stroke-width="1.7"/>
<line x1="472.8" y1="138.4" x2="472.8" y2="142.8" stroke="#000" stroke-width="1.7"/>
<text x="472.8" y="154.89" font-size="10.3" font-weight="bold" text-anchor="middle" fill="#000">-9</text>
<line x1="493.03" y1="138.4" x2="493.03" y2="142.8" stroke="#000" stroke-width="1.7"/>
<text x="493.03" y="154.89" font-size="10.3" font-weight="bold" text-anchor="middle" fill="#000">-8</text>
<line x1="513.27" y1="138.4" x2="513.27" y2="142.8" stroke="#000" stroke-width="1.7"/>
<text x="513.27" y="154.89" font-size="10.3" font-weight="bold" text-anchor="middle" fill="#000">-7</text>
<line x1="533.5" y1="138.4" x2="533.5" y2="142.8" stroke="#000" stroke-width="1.7"/>
<text x="533.5" y="154.89" font-size="10.3" font-weight="bold" text-anchor="middle" fill="#000">-6</text>
<line x1="553.73" y1="138.4" x2="553.73" y2="142.8" stroke="#000" stroke-width="1.7"/>
<text x="553.73" y="154.89" font-size="10.3" font-weight="bold" text-anchor="middle" fill="#000">-5</text>
<line x1="573.97" y1="138.4" x2="573.97" y2="142.8" stroke="#000" stroke-width="1.7"/>
<text x="573.97" y="154.89" font-size="10.3" font-weight="bold" text-anchor="middle" fill="#000">-4</text>
<line x1="594.2" y1="138.4" x2="594.2" y2="142.8" stroke="#000" stroke-width="1.7"/>
<text x="594.2" y="154.89" font-size="10.3" font-weight="bold" text-anchor="middle" fill="#000">-3</text>
<text x="533.5" y="169.2" font-size="12" font-weight="bold" text-anchor="middle" fill="#000">log[FSK] (M)</text>
<text x="440.2" y="92.8" font-size="12" font-weight="bold" text-anchor="middle" fill="#000" transform="rotate(-90 440.2 88.5)">Fold response</text>
<path d="M493.03,137.99 L494.05,137.93 L495.06,137.87 L496.07,137.8 L497.08,137.72 L498.09,137.64 L499.1,137.54 L500.12,137.42 L501.13,137.29 L502.14,137.15 L503.15,136.99 L504.16,136.8 L505.17,136.6 L506.19,136.36 L507.2,136.1 L508.21,135.8 L509.22,135.47 L510.23,135.1 L511.24,134.68 L512.25,134.21 L513.27,133.68 L514.28,133.09 L515.29,132.43 L516.3,131.7 L517.31,130.89 L518.33,129.98 L519.34,128.98 L520.35,127.88 L521.36,126.67 L522.37,125.34 L523.38,123.88 L524.39,122.3 L525.41,120.58 L526.42,118.73 L527.43,116.74 L528.44,114.62 L529.45,112.37 L530.47,110 L531.48,107.51 L532.49,104.92 L533.5,102.24 L534.51,99.49 L535.52,96.69 L536.54,93.86 L537.55,91.02 L538.56,88.19 L539.57,85.4 L540.58,82.67 L541.59,80.01 L542.61,77.43 L543.62,74.97 L544.63,72.62 L545.64,70.39 L546.65,68.3 L547.66,66.34 L548.68,64.51 L549.69,62.82 L550.7,61.27 L551.71,59.84 L552.72,58.53 L553.73,57.34 L554.75,56.26 L555.76,55.28 L556.77,54.39 L557.78,53.59 L558.79,52.88 L559.8,52.23 L560.82,51.66 L561.83,51.14 L562.84,50.68 L563.85,50.27 L564.86,49.91 L565.87,49.58 L566.88,49.29 L567.9,49.04 L568.91,48.81 L569.92,48.61 L570.93,48.43 L571.94,48.27 L572.96,48.13 L573.97,48" stroke="#000" stroke-width="1.2" fill="none"/>
<line x1="493.03" y1="137.76" x2="493.03" y2="139.04" stroke="#000" stroke-width="0.8"/>
<line x1="491.53" y1="137.76" x2="494.53" y2="137.76" stroke="#000" stroke-width="0.8"/>
<circle cx="493.03" cy="138.4" r="2.3" fill="#000" stroke="none" stroke-width="1"/>
<line x1="503.15" y1="134.86" x2="503.15" y2="136.79" stroke="#000" stroke-width="0.8"/>
<line x1="501.65" y1="134.86" x2="504.65" y2="134.86" stroke="#000" stroke-width="0.8"/>
<circle cx="503.15" cy="135.83" r="2.3" fill="#000" stroke="none" stroke-width="1"/>
<line x1="513.27" y1="130.36" x2="513.27" y2="132.29" stroke="#000" stroke-width="0.8"/>
<line x1="511.77" y1="130.36" x2="514.77" y2="130.36" stroke="#000" stroke-width="0.8"/>
<circle cx="513.27" cy="131.32" r="2.3" fill="#000" stroke="none" stroke-width="1"/>
<line x1="523.38" y1="123.6" x2="523.38" y2="127.46" stroke="#000" stroke-width="0.8"/>
<line x1="521.88" y1="123.6" x2="524.88" y2="123.6" stroke="#000" stroke-width="0.8"/>
<circle cx="523.38" cy="125.53" r="2.3" fill="#000" stroke="none" stroke-width="1"/>
<line x1="533.5" y1="100.44" x2="533.5" y2="104.3" stroke="#000" stroke-width="0.8"/>
<line x1="532" y1="100.44" x2="535" y2="100.44" stroke="#000" stroke-width="0.8"/>
<circle cx="533.5" cy="102.37" r="2.3" fill="#000" stroke="none" stroke-width="1"/>
<line x1="543.62" y1="67.63" x2="543.62" y2="79.21" stroke="#000" stroke-width="0.8"/>
<line x1="542.12" y1="67.63" x2="545.12" y2="67.63" stroke="#000" stroke-width="0.8"/>
<circle cx="543.62" cy="73.42" r="2.3" fill="#000" stroke="none" stroke-width="1"/>
<line x1="553.73" y1="51.55" x2="553.73" y2="56.7" stroke="#000" stroke-width="0.8"/>
<line x1="552.23" y1="51.55" x2="555.23" y2="51.55" stroke="#000" stroke-width="0.8"/>
<circle cx="553.73" cy="54.12" r="2.3" fill="#000" stroke="none" stroke-width="1"/>
<line x1="563.85" y1="48.66" x2="563.85" y2="51.23" stroke="#000" stroke-width="0.8"/>
<line x1="562.35" y1="48.66" x2="565.35" y2="48.66" stroke="#000" stroke-width="0.8"/>
<circle cx="563.85" cy="49.94" r="2.3" fill="#000" stroke="none" stroke-width="1"/>
<line x1="573.97" y1="49.94" x2="573.97" y2="53.16" stroke="#000" stroke-width="0.8"/>
<line x1="572.47" y1="49.94" x2="575.47" y2="49.94" stroke="#000" stroke-width="0.8"/>
<circle cx="573.97" cy="51.55" r="2.3" fill="#000" stroke="none" stroke-width="1"/>
<text x="30" y="214.85" font-size="15.5" font-weight="bold" text-anchor="start" fill="#000">c</text>
<line x1="117.73" y1="236.5" x2="117.73" y2="333.5" stroke="#111" stroke-width="1.35" stroke-dasharray="2.6,2.2"/>
<line x1="158.17" y1="236.5" x2="158.17" y2="333.5" stroke="#111" stroke-width="1.35" stroke-dasharray="2.6,2.2"/>
<text x="118" y="231.17" font-size="10.8" font-weight="bold" text-anchor="middle" fill="#000">FSK</text>
<text x="160.3" y="219.17" font-size="10.8" font-weight="bold" text-anchor="middle" fill="#000">WNT/</text>
<text x="160.3" y="231.17" font-size="10.8" font-weight="bold" text-anchor="middle" fill="#000">vehicle</text>
<path d="M77.3,321.9 L85.39,321.12 L93.47,320.74 L101.56,320.74 L109.65,320.74 L117.73,319.96 L125.82,313.39 L133.91,306.42 L141.99,298.3 L150.08,289.4 L158.17,280.12 L166.25,270.45 L174.34,258.85 L182.43,251.11 L190.51,245.31 L198.6,241.83" stroke="#86868b" stroke-width="1.3" fill="none"/>
<circle cx="77.3" cy="321.9" r="2.28" fill="#8a8a8f" stroke="none" stroke-width="1"/>
<circle cx="85.39" cy="321.12" r="2.28" fill="#8a8a8f" stroke="none" stroke-width="1"/>
<circle cx="93.47" cy="320.74" r="2.28" fill="#8a8a8f" stroke="none" stroke-width="1"/>
<circle cx="101.56" cy="320.74" r="2.28" fill="#8a8a8f" stroke="none" stroke-width="1"/>
<circle cx="109.65" cy="320.74" r="2.28" fill="#8a8a8f" stroke="none" stroke-width="1"/>
<circle cx="117.73" cy="319.96" r="2.28" fill="#8a8a8f" stroke="none" stroke-width="1"/>
<circle cx="125.82" cy="313.39" r="2.28" fill="#8a8a8f" stroke="none" stroke-width="1"/>
<circle cx="133.91" cy="306.42" r="2.28" fill="#8a8a8f" stroke="none" stroke-width="1"/>
<circle cx="141.99" cy="298.3" r="2.28" fill="#8a8a8f" stroke="none" stroke-width="1"/>
<circle cx="150.08" cy="289.4" r="2.28" fill="#8a8a8f" stroke="none" stroke-width="1"/>
<circle cx="158.17" cy="280.12" r="2.28" fill="#8a8a8f" stroke="none" stroke-width="1"/>
<circle cx="166.25" cy="270.45" r="2.28" fill="#8a8a8f" stroke="none" stroke-width="1"/>
<circle cx="174.34" cy="258.85" r="2.28" fill="#8a8a8f" stroke="none" stroke-width="1"/>
<circle cx="182.43" cy="251.11" r="2.28" fill="#8a8a8f" stroke="none" stroke-width="1"/>
<circle cx="190.51" cy="245.31" r="2.28" fill="#8a8a8f" stroke="none" stroke-width="1"/>
<circle cx="198.6" cy="241.83" r="2.28" fill="#8a8a8f" stroke="none" stroke-width="1"/>
<path d="M77.3,321.9 L85.39,320.74 L93.47,320.74 L101.56,320.74 L109.65,320.74 L117.73,319.96 L125.82,314.16 L133.91,306.42 L141.99,298.3 L150.08,289.4 L158.17,280.12 L166.25,277.8 L174.34,273.55 L182.43,273.55 L190.51,272.77 L198.6,273.55" stroke="#56b6ea" stroke-width="1.3" fill="none"/>
<rect x="75.11" y="319.71" width="4.37" height="4.37" fill="#4fb3ec" stroke="none" stroke-width="0"/>
<rect x="83.2" y="318.55" width="4.37" height="4.37" fill="#4fb3ec" stroke="none" stroke-width="0"/>
<rect x="91.29" y="318.55" width="4.37" height="4.37" fill="#4fb3ec" stroke="none" stroke-width="0"/>
<rect x="99.38" y="318.55" width="4.37" height="4.37" fill="#4fb3ec" stroke="none" stroke-width="0"/>
<rect x="107.46" y="318.55" width="4.37" height="4.37" fill="#4fb3ec" stroke="none" stroke-width="0"/>
<rect x="115.55" y="317.78" width="4.37" height="4.37" fill="#4fb3ec" stroke="none" stroke-width="0"/>
<rect x="123.63" y="311.98" width="4.37" height="4.37" fill="#4fb3ec" stroke="none" stroke-width="0"/>
<rect x="131.72" y="304.24" width="4.37" height="4.37" fill="#4fb3ec" stroke="none" stroke-width="0"/>
<rect x="139.81" y="296.12" width="4.37" height="4.37" fill="#4fb3ec" stroke="none" stroke-width="0"/>
<rect x="147.89" y="287.22" width="4.37" height="4.37" fill="#4fb3ec" stroke="none" stroke-width="0"/>
<rect x="155.98" y="277.94" width="4.37" height="4.37" fill="#4fb3ec" stroke="none" stroke-width="0"/>
<rect x="164.07" y="275.62" width="4.37" height="4.37" fill="#4fb3ec" stroke="none" stroke-width="0"/>
<rect x="172.15" y="271.36" width="4.37" height="4.37" fill="#4fb3ec" stroke="none" stroke-width="0"/>
<rect x="180.24" y="271.36" width="4.37" height="4.37" fill="#4fb3ec" stroke="none" stroke-width="0"/>
<rect x="188.33" y="270.59" width="4.37" height="4.37" fill="#4fb3ec" stroke="none" stroke-width="0"/>
<rect x="196.41" y="271.36" width="4.37" height="4.37" fill="#4fb3ec" stroke="none" stroke-width="0"/>
<path d="M77.3,321.9 L85.39,321.12 L93.47,320.74 L101.56,320.74 L109.65,320.74 L117.73,319.96 L125.82,314.93 L133.91,306.42 L141.99,300.24 L150.08,289.4 L158.17,280.12 L166.25,274.71 L174.34,266.58 L182.43,263.1 L190.51,261.94 L198.6,261.17" stroke="#f7941f" stroke-width="1.3" fill="none"/>
<path d="M77.3,319.24 L79.86,323.8 L74.73,323.8 Z" stroke="none" stroke-width="0" fill="#f7941f"/>
<path d="M85.39,318.46 L87.95,323.02 L82.82,323.02 Z" stroke="none" stroke-width="0" fill="#f7941f"/>
<path d="M93.47,318.08 L96.04,322.64 L90.91,322.64 Z" stroke="none" stroke-width="0" fill="#f7941f"/>
<path d="M101.56,318.08 L104.12,322.64 L99,322.64 Z" stroke="none" stroke-width="0" fill="#f7941f"/>
<path d="M109.65,318.08 L112.21,322.64 L107.08,322.64 Z" stroke="none" stroke-width="0" fill="#f7941f"/>
<path d="M117.73,317.3 L120.3,321.86 L115.17,321.86 Z" stroke="none" stroke-width="0" fill="#f7941f"/>
<path d="M125.82,312.27 L128.38,316.83 L123.25,316.83 Z" stroke="none" stroke-width="0" fill="#f7941f"/>
<path d="M133.91,303.76 L136.47,308.32 L131.34,308.32 Z" stroke="none" stroke-width="0" fill="#f7941f"/>
<path d="M141.99,297.58 L144.56,302.14 L139.43,302.14 Z" stroke="none" stroke-width="0" fill="#f7941f"/>
<path d="M150.08,286.74 L152.64,291.3 L147.51,291.3 Z" stroke="none" stroke-width="0" fill="#f7941f"/>
<path d="M158.17,277.46 L160.73,282.02 L155.6,282.02 Z" stroke="none" stroke-width="0" fill="#f7941f"/>
<path d="M166.25,272.05 L168.82,276.61 L163.69,276.61 Z" stroke="none" stroke-width="0" fill="#f7941f"/>
<path d="M174.34,263.92 L176.9,268.48 L171.77,268.48 Z" stroke="none" stroke-width="0" fill="#f7941f"/>
<path d="M182.43,260.44 L184.99,265 L179.86,265 Z" stroke="none" stroke-width="0" fill="#f7941f"/>
<path d="M190.51,259.28 L193.08,263.84 L187.95,263.84 Z" stroke="none" stroke-width="0" fill="#f7941f"/>
<path d="M198.6,258.51 L201.16,263.07 L196.03,263.07 Z" stroke="none" stroke-width="0" fill="#f7941f"/>
<path d="M77.3,321.9 L85.39,321.12 L93.47,320.74 L101.56,320.74 L109.65,320.74 L117.73,319.96 L125.82,313.39 L133.91,306.42 L141.99,298.3 L150.08,289.4 L158.17,280.12 L166.25,273.16 L174.34,262.33 L182.43,256.14 L190.51,256.14 L198.6,254.98" stroke="#ef2659" stroke-width="1.3" fill="none"/>
<path d="M77.3,324.56 L79.86,320 L74.73,320 Z" stroke="none" stroke-width="0" fill="#ef2659"/>
<path d="M85.39,323.78 L87.95,319.22 L82.82,319.22 Z" stroke="none" stroke-width="0" fill="#ef2659"/>
<path d="M93.47,323.4 L96.04,318.84 L90.91,318.84 Z" stroke="none" stroke-width="0" fill="#ef2659"/>
<path d="M101.56,323.4 L104.12,318.84 L99,318.84 Z" stroke="none" stroke-width="0" fill="#ef2659"/>
<path d="M109.65,323.4 L112.21,318.84 L107.08,318.84 Z" stroke="none" stroke-width="0" fill="#ef2659"/>
<path d="M117.73,322.62 L120.3,318.06 L115.17,318.06 Z" stroke="none" stroke-width="0" fill="#ef2659"/>
<path d="M125.82,316.05 L128.38,311.49 L123.25,311.49 Z" stroke="none" stroke-width="0" fill="#ef2659"/>
<path d="M133.91,309.08 L136.47,304.52 L131.34,304.52 Z" stroke="none" stroke-width="0" fill="#ef2659"/>
<path d="M141.99,300.96 L144.56,296.4 L139.43,296.4 Z" stroke="none" stroke-width="0" fill="#ef2659"/>
<path d="M150.08,292.06 L152.64,287.5 L147.51,287.5 Z" stroke="none" stroke-width="0" fill="#ef2659"/>
<path d="M158.17,282.78 L160.73,278.22 L155.6,278.22 Z" stroke="none" stroke-width="0" fill="#ef2659"/>
<path d="M166.25,275.82 L168.82,271.26 L163.69,271.26 Z" stroke="none" stroke-width="0" fill="#ef2659"/>
<path d="M174.34,264.99 L176.9,260.43 L171.77,260.43 Z" stroke="none" stroke-width="0" fill="#ef2659"/>
<path d="M182.43,258.8 L184.99,254.24 L179.86,254.24 Z" stroke="none" stroke-width="0" fill="#ef2659"/>
<path d="M190.51,258.8 L193.08,254.24 L187.95,254.24 Z" stroke="none" stroke-width="0" fill="#ef2659"/>
<path d="M198.6,257.64 L201.16,253.08 L196.03,253.08 Z" stroke="none" stroke-width="0" fill="#ef2659"/>
<line x1="77.3" y1="236.8" x2="77.3" y2="334.35" stroke="#000" stroke-width="1.7"/>
<line x1="72.9" y1="333.5" x2="77.3" y2="333.5" stroke="#000" stroke-width="1.7"/>
<text x="71.7" y="337.79" font-size="10.3" font-weight="bold" text-anchor="end" fill="#000">0.0</text>
<line x1="72.9" y1="314.16" x2="77.3" y2="314.16" stroke="#000" stroke-width="1.7"/>
<text x="71.7" y="318.45" font-size="10.3" font-weight="bold" text-anchor="end" fill="#000">0.5</text>
<line x1="72.9" y1="294.82" x2="77.3" y2="294.82" stroke="#000" stroke-width="1.7"/>
<text x="71.7" y="299.11" font-size="10.3" font-weight="bold" text-anchor="end" fill="#000">1.0</text>
<line x1="72.9" y1="275.48" x2="77.3" y2="275.48" stroke="#000" stroke-width="1.7"/>
<text x="71.7" y="279.77" font-size="10.3" font-weight="bold" text-anchor="end" fill="#000">1.5</text>
<line x1="72.9" y1="256.14" x2="77.3" y2="256.14" stroke="#000" stroke-width="1.7"/>
<text x="71.7" y="260.43" font-size="10.3" font-weight="bold" text-anchor="end" fill="#000">2.0</text>
<line x1="72.9" y1="236.8" x2="77.3" y2="236.8" stroke="#000" stroke-width="1.7"/>
<text x="71.7" y="241.09" font-size="10.3" font-weight="bold" text-anchor="end" fill="#000">2.5</text>
<line x1="76.45" y1="333.5" x2="198.6" y2="333.5" stroke="#000" stroke-width="1.7"/>
<line x1="77.3" y1="333.5" x2="77.3" y2="337.9" stroke="#000" stroke-width="1.7"/>
<text x="77.3" y="349.39" font-size="10.3" font-weight="bold" text-anchor="middle" fill="#000">0</text>
<line x1="117.73" y1="333.5" x2="117.73" y2="337.9" stroke="#000" stroke-width="1.7"/>
<text x="117.73" y="349.39" font-size="10.3" font-weight="bold" text-anchor="middle" fill="#000">10</text>
<line x1="158.17" y1="333.5" x2="158.17" y2="337.9" stroke="#000" stroke-width="1.7"/>
<text x="158.17" y="349.39" font-size="10.3" font-weight="bold" text-anchor="middle" fill="#000">20</text>
<line x1="198.6" y1="333.5" x2="198.6" y2="337.9" stroke="#000" stroke-width="1.7"/>
<text x="198.6" y="349.39" font-size="10.3" font-weight="bold" text-anchor="middle" fill="#000">30</text>
<text x="138" y="363.7" font-size="12" font-weight="bold" text-anchor="middle" fill="#000">Time (min)</text>
<text x="48.8" y="286.8" font-size="12" font-weight="bold" text-anchor="middle" fill="#000" transform="rotate(-90 48.8 282.5)">cAMP (RLU)</text>
<line x1="162.8" y1="289.3" x2="173.2" y2="289.3" stroke="#86868b" stroke-width="1.3"/>
<circle cx="168" cy="289.3" r="1.92" fill="#8a8a8f" stroke="none" stroke-width="1"/>
<text x="179.2" y="292.67" font-size="9.4" font-weight="bold" text-anchor="start" fill="#000">Vehicle</text>
<line x1="162.8" y1="301.2" x2="173.2" y2="301.2" stroke="#56b6ea" stroke-width="1.3"/>
<rect x="166.16" y="299.36" width="3.68" height="3.68" fill="#4fb3ec" stroke="none" stroke-width="0"/>
<text x="179.2" y="304.57" font-size="9.4" font-weight="bold" text-anchor="start" fill="#000">WNT-9B</text>
<line x1="162.8" y1="313.1" x2="173.2" y2="313.1" stroke="#f7941f" stroke-width="1.3"/>
<path d="M168,310.86 L170.16,314.7 L165.84,314.7 Z" stroke="none" stroke-width="0" fill="#f7941f"/>
<text x="179.2" y="316.47" font-size="9.4" font-weight="bold" text-anchor="start" fill="#000">WNT-5A</text>
<line x1="162.8" y1="325" x2="173.2" y2="325" stroke="#ef2659" stroke-width="1.3"/>
<path d="M168,327.24 L170.16,323.4 L165.84,323.4 Z" stroke="none" stroke-width="0" fill="#ef2659"/>
<text x="179.2" y="328.37" font-size="9.4" font-weight="bold" text-anchor="start" fill="#000">WNT-3A</text>
<rect x="279.6" y="271.39" width="14.2" height="61.31" fill="#9a999e" stroke="#000" stroke-width="1.1"/>
<rect x="302.3" y="318.87" width="14.2" height="13.83" fill="#6ec6f2" stroke="#000" stroke-width="1.1"/>
<rect x="324.3" y="297.96" width="14.2" height="34.74" fill="#fba244" stroke="#000" stroke-width="1.1"/>
<rect x="346.6" y="291.2" width="14.2" height="41.5" fill="#f5456f" stroke="#000" stroke-width="1.1"/>
<line x1="286.7" y1="270.1" x2="286.7" y2="272.68" stroke="#000" stroke-width="0.9"/>
<line x1="283.2" y1="270.1" x2="290.2" y2="270.1" stroke="#000" stroke-width="0.9"/>
<line x1="283.2" y1="272.68" x2="290.2" y2="272.68" stroke="#000" stroke-width="0.9"/>
<circle cx="284.7" cy="271.58" r="2" fill="#000" stroke="none" stroke-width="1"/>
<circle cx="286.7" cy="269.01" r="2" fill="#000" stroke="none" stroke-width="1"/>
<circle cx="288.7" cy="272.23" r="2" fill="#000" stroke="none" stroke-width="1"/>
<line x1="309.4" y1="315.01" x2="309.4" y2="322.73" stroke="#000" stroke-width="0.9"/>
<line x1="305.9" y1="315.01" x2="312.9" y2="315.01" stroke="#000" stroke-width="0.9"/>
<line x1="305.9" y1="322.73" x2="312.9" y2="322.73" stroke="#000" stroke-width="0.9"/>
<circle cx="307.4" cy="324.34" r="2" fill="#000" stroke="none" stroke-width="1"/>
<circle cx="309.4" cy="319.83" r="2" fill="#000" stroke="none" stroke-width="1"/>
<circle cx="311.4" cy="312.76" r="2" fill="#000" stroke="none" stroke-width="1"/>
<line x1="331.4" y1="297" x2="331.4" y2="298.93" stroke="#000" stroke-width="0.9"/>
<line x1="327.9" y1="297" x2="334.9" y2="297" stroke="#000" stroke-width="0.9"/>
<line x1="327.9" y1="298.93" x2="334.9" y2="298.93" stroke="#000" stroke-width="0.9"/>
<circle cx="329.4" cy="299.25" r="2" fill="#000" stroke="none" stroke-width="1"/>
<circle cx="331.4" cy="297.32" r="2" fill="#000" stroke="none" stroke-width="1"/>
<circle cx="333.4" cy="296.03" r="2" fill="#000" stroke="none" stroke-width="1"/>
<line x1="353.7" y1="289.27" x2="353.7" y2="293.13" stroke="#000" stroke-width="0.9"/>
<line x1="350.2" y1="289.27" x2="357.2" y2="289.27" stroke="#000" stroke-width="0.9"/>
<line x1="350.2" y1="293.13" x2="357.2" y2="293.13" stroke="#000" stroke-width="0.9"/>
<circle cx="351.7" cy="293.46" r="2" fill="#000" stroke="none" stroke-width="1"/>
<circle cx="353.7" cy="291.53" r="2" fill="#000" stroke="none" stroke-width="1"/>
<circle cx="355.7" cy="287.67" r="2" fill="#000" stroke="none" stroke-width="1"/>
<line x1="272.5" y1="236.2" x2="272.5" y2="333.55" stroke="#000" stroke-width="1.7"/>
<line x1="268.1" y1="332.7" x2="272.5" y2="332.7" stroke="#000" stroke-width="1.7"/>
<text x="266.9" y="336.99" font-size="10.3" font-weight="bold" text-anchor="end" fill="#000">0.0</text>
<line x1="268.1" y1="300.53" x2="272.5" y2="300.53" stroke="#000" stroke-width="1.7"/>
<text x="266.9" y="304.82" font-size="10.3" font-weight="bold" text-anchor="end" fill="#000">0.5</text>
<line x1="268.1" y1="268.37" x2="272.5" y2="268.37" stroke="#000" stroke-width="1.7"/>
<text x="266.9" y="272.65" font-size="10.3" font-weight="bold" text-anchor="end" fill="#000">1.0</text>
<line x1="268.1" y1="236.2" x2="272.5" y2="236.2" stroke="#000" stroke-width="1.7"/>
<text x="266.9" y="240.49" font-size="10.3" font-weight="bold" text-anchor="end" fill="#000">1.5</text>
<line x1="271.65" y1="332.7" x2="369.8" y2="332.7" stroke="#000" stroke-width="1.7"/>
<line x1="286.7" y1="332.7" x2="286.7" y2="337.1" stroke="#000" stroke-width="1.7"/>
<line x1="309.4" y1="332.7" x2="309.4" y2="337.1" stroke="#000" stroke-width="1.7"/>
<line x1="331.4" y1="332.7" x2="331.4" y2="337.1" stroke="#000" stroke-width="1.7"/>
<line x1="353.7" y1="332.7" x2="353.7" y2="337.1" stroke="#000" stroke-width="1.7"/>
<text x="287.6" y="348.9" font-size="10.4" font-weight="bold" text-anchor="end" transform="rotate(-42 287.6 345.3)">Vehicle</text>
<text x="310.3" y="348.9" font-size="10.4" font-weight="bold" text-anchor="end" transform="rotate(-42 310.3 345.3)">WNT-9B</text>
<text x="332.3" y="348.9" font-size="10.4" font-weight="bold" text-anchor="end" transform="rotate(-42 332.3 345.3)">WNT-5A</text>
<text x="354.6" y="348.9" font-size="10.4" font-weight="bold" text-anchor="end" transform="rotate(-42 354.6 345.3)">WNT-3A</text>
<text x="242.4" y="287.3" font-size="12" font-weight="bold" text-anchor="middle" fill="#000" transform="rotate(-90 242.4 283)">ΔcAMP (RLU)</text>
<path d="M286.5,262.6 L286.5,257.3 L309.4,257.3 L309.4,262.6" stroke="#000" stroke-width="1.15" fill="none"/>
<text x="297.95" y="255.56" font-size="8" font-weight="bold" text-anchor="middle" fill="#000">&lt;0.0001</text>
<path d="M286.5,245 L286.5,239.7 L331.4,239.7 L331.4,245" stroke="#000" stroke-width="1.15" fill="none"/>
<text x="308.95" y="237.96" font-size="8" font-weight="bold" text-anchor="middle" fill="#000">0.0001</text>
<path d="M286.5,226.6 L286.5,221.3 L353.7,221.3 L353.7,226.6" stroke="#000" stroke-width="1.15" fill="none"/>
<text x="320.1" y="219.56" font-size="8" font-weight="bold" text-anchor="middle" fill="#000">0.0010</text>
<text x="429.5" y="194.05" font-size="15.5" font-weight="bold" text-anchor="start" fill="#000">d</text>
<rect x="478.5" y="217.19" width="9" height="93.51" fill="#9a999e" stroke="#000" stroke-width="1.1"/>
<rect x="493.1" y="250.93" width="9" height="59.77" fill="#6ec6f2" stroke="#000" stroke-width="1.1"/>
<rect x="507.5" y="242.26" width="9" height="68.44" fill="#fba244" stroke="#000" stroke-width="1.1"/>
<rect x="522" y="237.44" width="9" height="73.26" fill="#f5456f" stroke="#000" stroke-width="1.1"/>
<rect x="536.5" y="218.16" width="9" height="92.54" fill="#9a999e" stroke="#000" stroke-width="1.1"/>
<rect x="551" y="220.08" width="9" height="90.62" fill="#6ec6f2" stroke="#000" stroke-width="1.1"/>
<rect x="565.5" y="220.08" width="9" height="90.62" fill="#fba244" stroke="#000" stroke-width="1.1"/>
<rect x="580" y="222.01" width="9" height="88.69" fill="#f5456f" stroke="#000" stroke-width="1.1"/>
<line x1="483" y1="216.23" x2="483" y2="218.16" stroke="#000" stroke-width="0.9"/>
<line x1="480.5" y1="216.23" x2="485.5" y2="216.23" stroke="#000" stroke-width="0.9"/>
<circle cx="480.8" cy="217.19" r="1.7" fill="#000" stroke="none" stroke-width="1"/>
<circle cx="483" cy="216.23" r="1.7" fill="#000" stroke="none" stroke-width="1"/>
<circle cx="485.2" cy="217.19" r="1.7" fill="#000" stroke="none" stroke-width="1"/>
<line x1="497.6" y1="249" x2="497.6" y2="252.86" stroke="#000" stroke-width="0.9"/>
<line x1="495.1" y1="249" x2="500.1" y2="249" stroke="#000" stroke-width="0.9"/>
<circle cx="495.4" cy="252.86" r="1.7" fill="#000" stroke="none" stroke-width="1"/>
<circle cx="497.6" cy="249" r="1.7" fill="#000" stroke="none" stroke-width="1"/>
<circle cx="499.8" cy="251.9" r="1.7" fill="#000" stroke="none" stroke-width="1"/>
<line x1="512" y1="239.85" x2="512" y2="244.67" stroke="#000" stroke-width="0.9"/>
<line x1="509.5" y1="239.85" x2="514.5" y2="239.85" stroke="#000" stroke-width="0.9"/>
<circle cx="509.8" cy="244.18" r="1.7" fill="#000" stroke="none" stroke-width="1"/>
<circle cx="512" cy="240.33" r="1.7" fill="#000" stroke="none" stroke-width="1"/>
<circle cx="514.2" cy="241.29" r="1.7" fill="#000" stroke="none" stroke-width="1"/>
<line x1="526.5" y1="235.99" x2="526.5" y2="238.88" stroke="#000" stroke-width="0.9"/>
<line x1="524" y1="235.99" x2="529" y2="235.99" stroke="#000" stroke-width="0.9"/>
<circle cx="524.3" cy="238.4" r="1.7" fill="#000" stroke="none" stroke-width="1"/>
<circle cx="526.5" cy="235.51" r="1.7" fill="#000" stroke="none" stroke-width="1"/>
<circle cx="528.7" cy="237.44" r="1.7" fill="#000" stroke="none" stroke-width="1"/>
<line x1="541" y1="216.23" x2="541" y2="220.08" stroke="#000" stroke-width="0.9"/>
<line x1="538.5" y1="216.23" x2="543.5" y2="216.23" stroke="#000" stroke-width="0.9"/>
<circle cx="538.8" cy="215.26" r="1.7" fill="#000" stroke="none" stroke-width="1"/>
<circle cx="541" cy="218.16" r="1.7" fill="#000" stroke="none" stroke-width="1"/>
<circle cx="543.2" cy="219.12" r="1.7" fill="#000" stroke="none" stroke-width="1"/>
<line x1="555.5" y1="219.6" x2="555.5" y2="220.57" stroke="#000" stroke-width="0.9"/>
<line x1="553" y1="219.6" x2="558" y2="219.6" stroke="#000" stroke-width="0.9"/>
<circle cx="553.3" cy="220.08" r="1.7" fill="#000" stroke="none" stroke-width="1"/>
<circle cx="555.5" cy="220.08" r="1.7" fill="#000" stroke="none" stroke-width="1"/>
<circle cx="557.7" cy="220.08" r="1.7" fill="#000" stroke="none" stroke-width="1"/>
<line x1="570" y1="219.12" x2="570" y2="221.05" stroke="#000" stroke-width="0.9"/>
<line x1="567.5" y1="219.12" x2="572.5" y2="219.12" stroke="#000" stroke-width="0.9"/>
<circle cx="567.8" cy="220.08" r="1.7" fill="#000" stroke="none" stroke-width="1"/>
<circle cx="570" cy="219.12" r="1.7" fill="#000" stroke="none" stroke-width="1"/>
<circle cx="572.2" cy="221.05" r="1.7" fill="#000" stroke="none" stroke-width="1"/>
<line x1="584.5" y1="219.6" x2="584.5" y2="224.42" stroke="#000" stroke-width="0.9"/>
<line x1="582" y1="219.6" x2="587" y2="219.6" stroke="#000" stroke-width="0.9"/>
<circle cx="582.3" cy="219.12" r="1.7" fill="#000" stroke="none" stroke-width="1"/>
<circle cx="584.5" cy="223.94" r="1.7" fill="#000" stroke="none" stroke-width="1"/>
<circle cx="586.7" cy="221.05" r="1.7" fill="#000" stroke="none" stroke-width="1"/>
<line x1="473.1" y1="214.3" x2="473.1" y2="311.55" stroke="#000" stroke-width="1.7"/>
<line x1="468.7" y1="310.7" x2="473.1" y2="310.7" stroke="#000" stroke-width="1.7"/>
<text x="467.5" y="314.99" font-size="10.3" font-weight="bold" text-anchor="end" fill="#000">0</text>
<line x1="468.7" y1="286.6" x2="473.1" y2="286.6" stroke="#000" stroke-width="1.7"/>
<text x="467.5" y="290.89" font-size="10.3" font-weight="bold" text-anchor="end" fill="#000">25</text>
<line x1="468.7" y1="262.5" x2="473.1" y2="262.5" stroke="#000" stroke-width="1.7"/>
<text x="467.5" y="266.79" font-size="10.3" font-weight="bold" text-anchor="end" fill="#000">50</text>
<line x1="468.7" y1="238.4" x2="473.1" y2="238.4" stroke="#000" stroke-width="1.7"/>
<text x="467.5" y="242.69" font-size="10.3" font-weight="bold" text-anchor="end" fill="#000">75</text>
<line x1="468.7" y1="214.3" x2="473.1" y2="214.3" stroke="#000" stroke-width="1.7"/>
<text x="467.5" y="218.59" font-size="10.3" font-weight="bold" text-anchor="end" fill="#000">100</text>
<line x1="472.25" y1="310.7" x2="594.3" y2="310.7" stroke="#000" stroke-width="1.7"/>
<line x1="483" y1="310.7" x2="483" y2="315.1" stroke="#000" stroke-width="1.7"/>
<line x1="497.6" y1="310.7" x2="497.6" y2="315.1" stroke="#000" stroke-width="1.7"/>
<line x1="512" y1="310.7" x2="512" y2="315.1" stroke="#000" stroke-width="1.7"/>
<line x1="526.5" y1="310.7" x2="526.5" y2="315.1" stroke="#000" stroke-width="1.7"/>
<line x1="541" y1="310.7" x2="541" y2="315.1" stroke="#000" stroke-width="1.7"/>
<line x1="555.5" y1="310.7" x2="555.5" y2="315.1" stroke="#000" stroke-width="1.7"/>
<line x1="570" y1="310.7" x2="570" y2="315.1" stroke="#000" stroke-width="1.7"/>
<line x1="584.5" y1="310.7" x2="584.5" y2="315.1" stroke="#000" stroke-width="1.7"/>
<text x="427.3" y="266.3" font-size="12" font-weight="bold" text-anchor="middle" fill="#000" transform="rotate(-90 427.3 262)">RLU</text>
<text x="440.5" y="266.3" font-size="12" font-weight="bold" text-anchor="middle" fill="#000" transform="rotate(-90 440.5 262)">(% of control)</text>
<path d="M483,211 L483,207 L497.6,207 L497.6,211" stroke="#000" stroke-width="1.15" fill="none"/>
<text x="490.3" y="205.26" font-size="8" font-weight="bold" text-anchor="middle" fill="#000"></text>
<path d="M483,204.5 L483,200.5 L512,200.5 L512,204.5" stroke="#000" stroke-width="1.15" fill="none"/>
<text x="497.5" y="198.76" font-size="8" font-weight="bold" text-anchor="middle" fill="#000"></text>
<path d="M483,197 L483,193 L526.5,193 L526.5,197" stroke="#000" stroke-width="1.15" fill="none"/>
<text x="504.75" y="188.26" font-size="8" font-weight="bold" text-anchor="middle" fill="#000">&lt;0.0001</text>
<text x="426.6" y="326.47" font-size="10.8" font-weight="bold" text-anchor="start" fill="#000">Vehicle</text>
<text x="483" y="326.47" font-size="10.8" font-weight="bold" text-anchor="middle" fill="#000">+</text>
<text x="497.6" y="326.47" font-size="10.8" font-weight="bold" text-anchor="middle" fill="#000">-</text>
<text x="512" y="326.47" font-size="10.8" font-weight="bold" text-anchor="middle" fill="#000">-</text>
<text x="526.5" y="326.47" font-size="10.8" font-weight="bold" text-anchor="middle" fill="#000">-</text>
<text x="541" y="326.47" font-size="10.8" font-weight="bold" text-anchor="middle" fill="#000">+</text>
<text x="555.5" y="326.47" font-size="10.8" font-weight="bold" text-anchor="middle" fill="#000">-</text>
<text x="570" y="326.47" font-size="10.8" font-weight="bold" text-anchor="middle" fill="#000">-</text>
<text x="584.5" y="326.47" font-size="10.8" font-weight="bold" text-anchor="middle" fill="#000">-</text>
<text x="426.6" y="338.67" font-size="10.8" font-weight="bold" text-anchor="start" fill="#000">WNT-9B</text>
<text x="483" y="338.67" font-size="10.8" font-weight="bold" text-anchor="middle" fill="#000">-</text>
<text x="497.6" y="338.67" font-size="10.8" font-weight="bold" text-anchor="middle" fill="#000">+</text>
<text x="512" y="338.67" font-size="10.8" font-weight="bold" text-anchor="middle" fill="#000">-</text>
<text x="526.5" y="338.67" font-size="10.8" font-weight="bold" text-anchor="middle" fill="#000">-</text>
<text x="541" y="338.67" font-size="10.8" font-weight="bold" text-anchor="middle" fill="#000">-</text>
<text x="555.5" y="338.67" font-size="10.8" font-weight="bold" text-anchor="middle" fill="#000">+</text>
<text x="570" y="338.67" font-size="10.8" font-weight="bold" text-anchor="middle" fill="#000">-</text>
<text x="584.5" y="338.67" font-size="10.8" font-weight="bold" text-anchor="middle" fill="#000">-</text>
<text x="426.6" y="350.87" font-size="10.8" font-weight="bold" text-anchor="start" fill="#000">WNT-5A</text>
<text x="483" y="350.87" font-size="10.8" font-weight="bold" text-anchor="middle" fill="#000">-</text>
<text x="497.6" y="350.87" font-size="10.8" font-weight="bold" text-anchor="middle" fill="#000">-</text>
<text x="512" y="350.87" font-size="10.8" font-weight="bold" text-anchor="middle" fill="#000">+</text>
<text x="526.5" y="350.87" font-size="10.8" font-weight="bold" text-anchor="middle" fill="#000">-</text>
<text x="541" y="350.87" font-size="10.8" font-weight="bold" text-anchor="middle" fill="#000">-</text>
<text x="555.5" y="350.87" font-size="10.8" font-weight="bold" text-anchor="middle" fill="#000">-</text>
<text x="570" y="350.87" font-size="10.8" font-weight="bold" text-anchor="middle" fill="#000">+</text>
<text x="584.5" y="350.87" font-size="10.8" font-weight="bold" text-anchor="middle" fill="#000">-</text>
<text x="426.6" y="363.07" font-size="10.8" font-weight="bold" text-anchor="start" fill="#000">WNT-3A</text>
<text x="483" y="363.07" font-size="10.8" font-weight="bold" text-anchor="middle" fill="#000">-</text>
<text x="497.6" y="363.07" font-size="10.8" font-weight="bold" text-anchor="middle" fill="#000">-</text>
<text x="512" y="363.07" font-size="10.8" font-weight="bold" text-anchor="middle" fill="#000">-</text>
<text x="526.5" y="363.07" font-size="10.8" font-weight="bold" text-anchor="middle" fill="#000">+</text>
<text x="541" y="363.07" font-size="10.8" font-weight="bold" text-anchor="middle" fill="#000">-</text>
<text x="555.5" y="363.07" font-size="10.8" font-weight="bold" text-anchor="middle" fill="#000">-</text>
<text x="570" y="363.07" font-size="10.8" font-weight="bold" text-anchor="middle" fill="#000">-</text>
<text x="584.5" y="363.07" font-size="10.8" font-weight="bold" text-anchor="middle" fill="#000">+</text>
<text x="426.6" y="375.27" font-size="10.8" font-weight="bold" text-anchor="start" fill="#000">PTX</text>
<text x="483" y="375.27" font-size="10.8" font-weight="bold" text-anchor="middle" fill="#000">-</text>
<text x="497.6" y="375.27" font-size="10.8" font-weight="bold" text-anchor="middle" fill="#000">-</text>
<text x="512" y="375.27" font-size="10.8" font-weight="bold" text-anchor="middle" fill="#000">-</text>
<text x="526.5" y="375.27" font-size="10.8" font-weight="bold" text-anchor="middle" fill="#000">-</text>
<text x="541" y="375.27" font-size="10.8" font-weight="bold" text-anchor="middle" fill="#000">+</text>
<text x="555.5" y="375.27" font-size="10.8" font-weight="bold" text-anchor="middle" fill="#000">+</text>
<text x="570" y="375.27" font-size="10.8" font-weight="bold" text-anchor="middle" fill="#000">+</text>
<text x="584.5" y="375.27" font-size="10.8" font-weight="bold" text-anchor="middle" fill="#000">+</text>
<text x="32" y="381.05" font-size="15.5" font-weight="bold" text-anchor="start" fill="#000">e</text>
<line x1="80" y1="418.7" x2="201.5" y2="418.7" stroke="#222" stroke-width="0.9" stroke-dasharray="1.1,2.1"/>
<line x1="80.89" y1="409.03" x2="80.89" y2="422.18" stroke="#88878c" stroke-width="0.65"/>
<line x1="79.89" y1="409.03" x2="81.89" y2="409.03" stroke="#88878c" stroke-width="0.65"/>
<line x1="79.89" y1="422.18" x2="81.89" y2="422.18" stroke="#88878c" stroke-width="0.65"/>
<line x1="83.51" y1="410.88" x2="83.51" y2="420.3" stroke="#88878c" stroke-width="0.65"/>
<line x1="82.51" y1="410.88" x2="84.51" y2="410.88" stroke="#88878c" stroke-width="0.65"/>
<line x1="82.51" y1="420.3" x2="84.51" y2="420.3" stroke="#88878c" stroke-width="0.65"/>
<line x1="86.13" y1="415.89" x2="86.13" y2="419.75" stroke="#88878c" stroke-width="0.65"/>
<line x1="85.13" y1="415.89" x2="87.13" y2="415.89" stroke="#88878c" stroke-width="0.65"/>
<line x1="85.13" y1="419.75" x2="87.13" y2="419.75" stroke="#88878c" stroke-width="0.65"/>
<line x1="88.75" y1="415.35" x2="88.75" y2="423.14" stroke="#88878c" stroke-width="0.65"/>
<line x1="87.75" y1="415.35" x2="89.75" y2="415.35" stroke="#88878c" stroke-width="0.65"/>
<line x1="87.75" y1="423.14" x2="89.75" y2="423.14" stroke="#88878c" stroke-width="0.65"/>
<line x1="91.38" y1="412.67" x2="91.38" y2="427.21" stroke="#88878c" stroke-width="0.65"/>
<line x1="90.38" y1="412.67" x2="92.38" y2="412.67" stroke="#88878c" stroke-width="0.65"/>
<line x1="90.38" y1="427.21" x2="92.38" y2="427.21" stroke="#88878c" stroke-width="0.65"/>
<line x1="94" y1="411.73" x2="94" y2="425.3" stroke="#88878c" stroke-width="0.65"/>
<line x1="93" y1="411.73" x2="95" y2="411.73" stroke="#88878c" stroke-width="0.65"/>
<line x1="93" y1="425.3" x2="95" y2="425.3" stroke="#88878c" stroke-width="0.65"/>
<line x1="96.62" y1="419.81" x2="96.62" y2="426.21" stroke="#88878c" stroke-width="0.65"/>
<line x1="95.62" y1="419.81" x2="97.62" y2="419.81" stroke="#88878c" stroke-width="0.65"/>
<line x1="95.62" y1="426.21" x2="97.62" y2="426.21" stroke="#88878c" stroke-width="0.65"/>
<line x1="99.24" y1="426.86" x2="99.24" y2="434.68" stroke="#88878c" stroke-width="0.65"/>
<line x1="98.24" y1="426.86" x2="100.24" y2="426.86" stroke="#88878c" stroke-width="0.65"/>
<line x1="98.24" y1="434.68" x2="100.24" y2="434.68" stroke="#88878c" stroke-width="0.65"/>
<line x1="101.86" y1="428.97" x2="101.86" y2="431.41" stroke="#88878c" stroke-width="0.65"/>
<line x1="100.86" y1="428.97" x2="102.86" y2="428.97" stroke="#88878c" stroke-width="0.65"/>
<line x1="100.86" y1="431.41" x2="102.86" y2="431.41" stroke="#88878c" stroke-width="0.65"/>
<line x1="104.49" y1="430.23" x2="104.49" y2="433.57" stroke="#88878c" stroke-width="0.65"/>
<line x1="103.49" y1="430.23" x2="105.49" y2="430.23" stroke="#88878c" stroke-width="0.65"/>
<line x1="103.49" y1="433.57" x2="105.49" y2="433.57" stroke="#88878c" stroke-width="0.65"/>
<line x1="107.11" y1="425.39" x2="107.11" y2="437.71" stroke="#88878c" stroke-width="0.65"/>
<line x1="106.11" y1="425.39" x2="108.11" y2="425.39" stroke="#88878c" stroke-width="0.65"/>
<line x1="106.11" y1="437.71" x2="108.11" y2="437.71" stroke="#88878c" stroke-width="0.65"/>
<line x1="109.73" y1="431.38" x2="109.73" y2="436.48" stroke="#88878c" stroke-width="0.65"/>
<line x1="108.73" y1="431.38" x2="110.73" y2="431.38" stroke="#88878c" stroke-width="0.65"/>
<line x1="108.73" y1="436.48" x2="110.73" y2="436.48" stroke="#88878c" stroke-width="0.65"/>
<line x1="112.35" y1="431.39" x2="112.35" y2="434.29" stroke="#88878c" stroke-width="0.65"/>
<line x1="111.35" y1="431.39" x2="113.35" y2="431.39" stroke="#88878c" stroke-width="0.65"/>
<line x1="111.35" y1="434.29" x2="113.35" y2="434.29" stroke="#88878c" stroke-width="0.65"/>
<line x1="114.97" y1="429.64" x2="114.97" y2="436.75" stroke="#88878c" stroke-width="0.65"/>
<line x1="113.97" y1="429.64" x2="115.97" y2="429.64" stroke="#88878c" stroke-width="0.65"/>
<line x1="113.97" y1="436.75" x2="115.97" y2="436.75" stroke="#88878c" stroke-width="0.65"/>
<line x1="117.6" y1="430.42" x2="117.6" y2="440.53" stroke="#88878c" stroke-width="0.65"/>
<line x1="116.6" y1="430.42" x2="118.6" y2="430.42" stroke="#88878c" stroke-width="0.65"/>
<line x1="116.6" y1="440.53" x2="118.6" y2="440.53" stroke="#88878c" stroke-width="0.65"/>
<line x1="120.22" y1="427.74" x2="120.22" y2="437.25" stroke="#88878c" stroke-width="0.65"/>
<line x1="119.22" y1="427.74" x2="121.22" y2="427.74" stroke="#88878c" stroke-width="0.65"/>
<line x1="119.22" y1="437.25" x2="121.22" y2="437.25" stroke="#88878c" stroke-width="0.65"/>
<line x1="122.84" y1="430.51" x2="122.84" y2="435.12" stroke="#88878c" stroke-width="0.65"/>
<line x1="121.84" y1="430.51" x2="123.84" y2="430.51" stroke="#88878c" stroke-width="0.65"/>
<line x1="121.84" y1="435.12" x2="123.84" y2="435.12" stroke="#88878c" stroke-width="0.65"/>
<line x1="125.46" y1="427.08" x2="125.46" y2="432.51" stroke="#88878c" stroke-width="0.65"/>
<line x1="124.46" y1="427.08" x2="126.46" y2="427.08" stroke="#88878c" stroke-width="0.65"/>
<line x1="124.46" y1="432.51" x2="126.46" y2="432.51" stroke="#88878c" stroke-width="0.65"/>
<line x1="128.08" y1="429.76" x2="128.08" y2="436.21" stroke="#88878c" stroke-width="0.65"/>
<line x1="127.08" y1="429.76" x2="129.08" y2="429.76" stroke="#88878c" stroke-width="0.65"/>
<line x1="127.08" y1="436.21" x2="129.08" y2="436.21" stroke="#88878c" stroke-width="0.65"/>
<line x1="130.71" y1="427.56" x2="130.71" y2="439.42" stroke="#88878c" stroke-width="0.65"/>
<line x1="129.71" y1="427.56" x2="131.71" y2="427.56" stroke="#88878c" stroke-width="0.65"/>
<line x1="129.71" y1="439.42" x2="131.71" y2="439.42" stroke="#88878c" stroke-width="0.65"/>
<line x1="133.33" y1="428.16" x2="133.33" y2="434.81" stroke="#88878c" stroke-width="0.65"/>
<line x1="132.33" y1="428.16" x2="134.33" y2="428.16" stroke="#88878c" stroke-width="0.65"/>
<line x1="132.33" y1="434.81" x2="134.33" y2="434.81" stroke="#88878c" stroke-width="0.65"/>
<line x1="135.95" y1="430.57" x2="135.95" y2="435.41" stroke="#88878c" stroke-width="0.65"/>
<line x1="134.95" y1="430.57" x2="136.95" y2="430.57" stroke="#88878c" stroke-width="0.65"/>
<line x1="134.95" y1="435.41" x2="136.95" y2="435.41" stroke="#88878c" stroke-width="0.65"/>
<line x1="138.57" y1="428.75" x2="138.57" y2="434.91" stroke="#88878c" stroke-width="0.65"/>
<line x1="137.57" y1="428.75" x2="139.57" y2="428.75" stroke="#88878c" stroke-width="0.65"/>
<line x1="137.57" y1="434.91" x2="139.57" y2="434.91" stroke="#88878c" stroke-width="0.65"/>
<line x1="141.19" y1="431.86" x2="141.19" y2="434.31" stroke="#88878c" stroke-width="0.65"/>
<line x1="140.19" y1="431.86" x2="142.19" y2="431.86" stroke="#88878c" stroke-width="0.65"/>
<line x1="140.19" y1="434.31" x2="142.19" y2="434.31" stroke="#88878c" stroke-width="0.65"/>
<line x1="143.82" y1="430.4" x2="143.82" y2="432.86" stroke="#88878c" stroke-width="0.65"/>
<line x1="142.82" y1="430.4" x2="144.82" y2="430.4" stroke="#88878c" stroke-width="0.65"/>
<line x1="142.82" y1="432.86" x2="144.82" y2="432.86" stroke="#88878c" stroke-width="0.65"/>
<line x1="146.44" y1="424.79" x2="146.44" y2="434.92" stroke="#88878c" stroke-width="0.65"/>
<line x1="145.44" y1="424.79" x2="147.44" y2="424.79" stroke="#88878c" stroke-width="0.65"/>
<line x1="145.44" y1="434.92" x2="147.44" y2="434.92" stroke="#88878c" stroke-width="0.65"/>
<line x1="149.06" y1="421.26" x2="149.06" y2="438.73" stroke="#88878c" stroke-width="0.65"/>
<line x1="148.06" y1="421.26" x2="150.06" y2="421.26" stroke="#88878c" stroke-width="0.65"/>
<line x1="148.06" y1="438.73" x2="150.06" y2="438.73" stroke="#88878c" stroke-width="0.65"/>
<line x1="151.68" y1="427.77" x2="151.68" y2="435.68" stroke="#88878c" stroke-width="0.65"/>
<line x1="150.68" y1="427.77" x2="152.68" y2="427.77" stroke="#88878c" stroke-width="0.65"/>
<line x1="150.68" y1="435.68" x2="152.68" y2="435.68" stroke="#88878c" stroke-width="0.65"/>
<line x1="154.3" y1="431.97" x2="154.3" y2="436.81" stroke="#88878c" stroke-width="0.65"/>
<line x1="153.3" y1="431.97" x2="155.3" y2="431.97" stroke="#88878c" stroke-width="0.65"/>
<line x1="153.3" y1="436.81" x2="155.3" y2="436.81" stroke="#88878c" stroke-width="0.65"/>
<line x1="156.93" y1="431.63" x2="156.93" y2="434.51" stroke="#88878c" stroke-width="0.65"/>
<line x1="155.93" y1="431.63" x2="157.93" y2="431.63" stroke="#88878c" stroke-width="0.65"/>
<line x1="155.93" y1="434.51" x2="157.93" y2="434.51" stroke="#88878c" stroke-width="0.65"/>
<line x1="159.55" y1="431.27" x2="159.55" y2="437.62" stroke="#88878c" stroke-width="0.65"/>
<line x1="158.55" y1="431.27" x2="160.55" y2="431.27" stroke="#88878c" stroke-width="0.65"/>
<line x1="158.55" y1="437.62" x2="160.55" y2="437.62" stroke="#88878c" stroke-width="0.65"/>
<line x1="162.17" y1="425.24" x2="162.17" y2="442.67" stroke="#88878c" stroke-width="0.65"/>
<line x1="161.17" y1="425.24" x2="163.17" y2="425.24" stroke="#88878c" stroke-width="0.65"/>
<line x1="161.17" y1="442.67" x2="163.17" y2="442.67" stroke="#88878c" stroke-width="0.65"/>
<line x1="164.79" y1="429.31" x2="164.79" y2="440.98" stroke="#88878c" stroke-width="0.65"/>
<line x1="163.79" y1="429.31" x2="165.79" y2="429.31" stroke="#88878c" stroke-width="0.65"/>
<line x1="163.79" y1="440.98" x2="165.79" y2="440.98" stroke="#88878c" stroke-width="0.65"/>
<line x1="167.41" y1="430.85" x2="167.41" y2="437.81" stroke="#88878c" stroke-width="0.65"/>
<line x1="166.41" y1="430.85" x2="168.41" y2="430.85" stroke="#88878c" stroke-width="0.65"/>
<line x1="166.41" y1="437.81" x2="168.41" y2="437.81" stroke="#88878c" stroke-width="0.65"/>
<line x1="170.04" y1="429.47" x2="170.04" y2="443.41" stroke="#88878c" stroke-width="0.65"/>
<line x1="169.04" y1="429.47" x2="171.04" y2="429.47" stroke="#88878c" stroke-width="0.65"/>
<line x1="169.04" y1="443.41" x2="171.04" y2="443.41" stroke="#88878c" stroke-width="0.65"/>
<line x1="172.66" y1="434.89" x2="172.66" y2="438.16" stroke="#88878c" stroke-width="0.65"/>
<line x1="171.66" y1="434.89" x2="173.66" y2="434.89" stroke="#88878c" stroke-width="0.65"/>
<line x1="171.66" y1="438.16" x2="173.66" y2="438.16" stroke="#88878c" stroke-width="0.65"/>
<line x1="175.28" y1="433.03" x2="175.28" y2="439.56" stroke="#88878c" stroke-width="0.65"/>
<line x1="174.28" y1="433.03" x2="176.28" y2="433.03" stroke="#88878c" stroke-width="0.65"/>
<line x1="174.28" y1="439.56" x2="176.28" y2="439.56" stroke="#88878c" stroke-width="0.65"/>
<line x1="177.9" y1="431.04" x2="177.9" y2="447.57" stroke="#88878c" stroke-width="0.65"/>
<line x1="176.9" y1="431.04" x2="178.9" y2="431.04" stroke="#88878c" stroke-width="0.65"/>
<line x1="176.9" y1="447.57" x2="178.9" y2="447.57" stroke="#88878c" stroke-width="0.65"/>
<line x1="180.52" y1="434.89" x2="180.52" y2="442.52" stroke="#88878c" stroke-width="0.65"/>
<line x1="179.52" y1="434.89" x2="181.52" y2="434.89" stroke="#88878c" stroke-width="0.65"/>
<line x1="179.52" y1="442.52" x2="181.52" y2="442.52" stroke="#88878c" stroke-width="0.65"/>
<line x1="183.15" y1="435.69" x2="183.15" y2="441.4" stroke="#88878c" stroke-width="0.65"/>
<line x1="182.15" y1="435.69" x2="184.15" y2="435.69" stroke="#88878c" stroke-width="0.65"/>
<line x1="182.15" y1="441.4" x2="184.15" y2="441.4" stroke="#88878c" stroke-width="0.65"/>
<line x1="185.77" y1="432.85" x2="185.77" y2="436.41" stroke="#88878c" stroke-width="0.65"/>
<line x1="184.77" y1="432.85" x2="186.77" y2="432.85" stroke="#88878c" stroke-width="0.65"/>
<line x1="184.77" y1="436.41" x2="186.77" y2="436.41" stroke="#88878c" stroke-width="0.65"/>
<line x1="188.39" y1="433.8" x2="188.39" y2="440.9" stroke="#88878c" stroke-width="0.65"/>
<line x1="187.39" y1="433.8" x2="189.39" y2="433.8" stroke="#88878c" stroke-width="0.65"/>
<line x1="187.39" y1="440.9" x2="189.39" y2="440.9" stroke="#88878c" stroke-width="0.65"/>
<line x1="191.01" y1="427.6" x2="191.01" y2="444.28" stroke="#88878c" stroke-width="0.65"/>
<line x1="190.01" y1="427.6" x2="192.01" y2="427.6" stroke="#88878c" stroke-width="0.65"/>
<line x1="190.01" y1="444.28" x2="192.01" y2="444.28" stroke="#88878c" stroke-width="0.65"/>
<line x1="193.63" y1="433.87" x2="193.63" y2="436.3" stroke="#88878c" stroke-width="0.65"/>
<line x1="192.63" y1="433.87" x2="194.63" y2="433.87" stroke="#88878c" stroke-width="0.65"/>
<line x1="192.63" y1="436.3" x2="194.63" y2="436.3" stroke="#88878c" stroke-width="0.65"/>
<line x1="196.26" y1="429.51" x2="196.26" y2="441.49" stroke="#88878c" stroke-width="0.65"/>
<line x1="195.26" y1="429.51" x2="197.26" y2="429.51" stroke="#88878c" stroke-width="0.65"/>
<line x1="195.26" y1="441.49" x2="197.26" y2="441.49" stroke="#88878c" stroke-width="0.65"/>
<line x1="198.88" y1="429.99" x2="198.88" y2="442.89" stroke="#88878c" stroke-width="0.65"/>
<line x1="197.88" y1="429.99" x2="199.88" y2="429.99" stroke="#88878c" stroke-width="0.65"/>
<line x1="197.88" y1="442.89" x2="199.88" y2="442.89" stroke="#88878c" stroke-width="0.65"/>
<line x1="201.5" y1="424.55" x2="201.5" y2="439.19" stroke="#88878c" stroke-width="0.65"/>
<line x1="200.5" y1="424.55" x2="202.5" y2="424.55" stroke="#88878c" stroke-width="0.65"/>
<line x1="200.5" y1="439.19" x2="202.5" y2="439.19" stroke="#88878c" stroke-width="0.65"/>
<path d="M80.89,415.61 L83.51,415.59 L86.13,417.82 L88.75,419.24 L91.38,419.94 L94,418.51 L96.62,423.01 L99.24,430.77 L101.86,430.19 L104.49,431.9 L107.11,431.55 L109.73,433.93 L112.35,432.84 L114.97,433.19 L117.6,435.48 L120.22,432.5 L122.84,432.81 L125.46,429.8 L128.08,432.98 L130.71,433.49 L133.33,431.48 L135.95,432.99 L138.57,431.83 L141.19,433.08 L143.82,431.63 L146.44,429.85 L149.06,429.99 L151.68,431.72 L154.3,434.39 L156.93,433.07 L159.55,434.45 L162.17,433.96 L164.79,435.15 L167.41,434.33 L170.04,436.44 L172.66,436.52 L175.28,436.3 L177.9,439.3 L180.52,438.7 L183.15,438.55 L185.77,434.63 L188.39,437.35 L191.01,435.94 L193.63,435.09 L196.26,435.5 L198.88,436.44 L201.5,431.87" stroke="#88878c" stroke-width="1.2" fill="none"/>
<circle cx="80.89" cy="415.61" r="2.07" fill="#88878c" stroke="none" stroke-width="1"/>
<circle cx="83.51" cy="415.59" r="2.07" fill="#88878c" stroke="none" stroke-width="1"/>
<circle cx="86.13" cy="417.82" r="2.07" fill="#88878c" stroke="none" stroke-width="1"/>
<circle cx="88.75" cy="419.24" r="2.07" fill="#88878c" stroke="none" stroke-width="1"/>
<circle cx="91.38" cy="419.94" r="2.07" fill="#88878c" stroke="none" stroke-width="1"/>
<circle cx="94" cy="418.51" r="2.07" fill="#88878c" stroke="none" stroke-width="1"/>
<circle cx="96.62" cy="423.01" r="2.07" fill="#88878c" stroke="none" stroke-width="1"/>
<circle cx="99.24" cy="430.77" r="2.07" fill="#88878c" stroke="none" stroke-width="1"/>
<circle cx="101.86" cy="430.19" r="2.07" fill="#88878c" stroke="none" stroke-width="1"/>
<circle cx="104.49" cy="431.9" r="2.07" fill="#88878c" stroke="none" stroke-width="1"/>
<circle cx="107.11" cy="431.55" r="2.07" fill="#88878c" stroke="none" stroke-width="1"/>
<circle cx="109.73" cy="433.93" r="2.07" fill="#88878c" stroke="none" stroke-width="1"/>
<circle cx="112.35" cy="432.84" r="2.07" fill="#88878c" stroke="none" stroke-width="1"/>
<circle cx="114.97" cy="433.19" r="2.07" fill="#88878c" stroke="none" stroke-width="1"/>
<circle cx="117.6" cy="435.48" r="2.07" fill="#88878c" stroke="none" stroke-width="1"/>
<circle cx="120.22" cy="432.5" r="2.07" fill="#88878c" stroke="none" stroke-width="1"/>
<circle cx="122.84" cy="432.81" r="2.07" fill="#88878c" stroke="none" stroke-width="1"/>
<circle cx="125.46" cy="429.8" r="2.07" fill="#88878c" stroke="none" stroke-width="1"/>
<circle cx="128.08" cy="432.98" r="2.07" fill="#88878c" stroke="none" stroke-width="1"/>
<circle cx="130.71" cy="433.49" r="2.07" fill="#88878c" stroke="none" stroke-width="1"/>
<circle cx="133.33" cy="431.48" r="2.07" fill="#88878c" stroke="none" stroke-width="1"/>
<circle cx="135.95" cy="432.99" r="2.07" fill="#88878c" stroke="none" stroke-width="1"/>
<circle cx="138.57" cy="431.83" r="2.07" fill="#88878c" stroke="none" stroke-width="1"/>
<circle cx="141.19" cy="433.08" r="2.07" fill="#88878c" stroke="none" stroke-width="1"/>
<circle cx="143.82" cy="431.63" r="2.07" fill="#88878c" stroke="none" stroke-width="1"/>
<circle cx="146.44" cy="429.85" r="2.07" fill="#88878c" stroke="none" stroke-width="1"/>
<circle cx="149.06" cy="429.99" r="2.07" fill="#88878c" stroke="none" stroke-width="1"/>
<circle cx="151.68" cy="431.72" r="2.07" fill="#88878c" stroke="none" stroke-width="1"/>
<circle cx="154.3" cy="434.39" r="2.07" fill="#88878c" stroke="none" stroke-width="1"/>
<circle cx="156.93" cy="433.07" r="2.07" fill="#88878c" stroke="none" stroke-width="1"/>
<circle cx="159.55" cy="434.45" r="2.07" fill="#88878c" stroke="none" stroke-width="1"/>
<circle cx="162.17" cy="433.96" r="2.07" fill="#88878c" stroke="none" stroke-width="1"/>
<circle cx="164.79" cy="435.15" r="2.07" fill="#88878c" stroke="none" stroke-width="1"/>
<circle cx="167.41" cy="434.33" r="2.07" fill="#88878c" stroke="none" stroke-width="1"/>
<circle cx="170.04" cy="436.44" r="2.07" fill="#88878c" stroke="none" stroke-width="1"/>
<circle cx="172.66" cy="436.52" r="2.07" fill="#88878c" stroke="none" stroke-width="1"/>
<circle cx="175.28" cy="436.3" r="2.07" fill="#88878c" stroke="none" stroke-width="1"/>
<circle cx="177.9" cy="439.3" r="2.07" fill="#88878c" stroke="none" stroke-width="1"/>
<circle cx="180.52" cy="438.7" r="2.07" fill="#88878c" stroke="none" stroke-width="1"/>
<circle cx="183.15" cy="438.55" r="2.07" fill="#88878c" stroke="none" stroke-width="1"/>
<circle cx="185.77" cy="434.63" r="2.07" fill="#88878c" stroke="none" stroke-width="1"/>
<circle cx="188.39" cy="437.35" r="2.07" fill="#88878c" stroke="none" stroke-width="1"/>
<circle cx="191.01" cy="435.94" r="2.07" fill="#88878c" stroke="none" stroke-width="1"/>
<circle cx="193.63" cy="435.09" r="2.07" fill="#88878c" stroke="none" stroke-width="1"/>
<circle cx="196.26" cy="435.5" r="2.07" fill="#88878c" stroke="none" stroke-width="1"/>
<circle cx="198.88" cy="436.44" r="2.07" fill="#88878c" stroke="none" stroke-width="1"/>
<circle cx="201.5" cy="431.87" r="2.07" fill="#88878c" stroke="none" stroke-width="1"/>
<line x1="80.89" y1="410.64" x2="80.89" y2="416.38" stroke="#4cb3ea" stroke-width="0.65"/>
<line x1="79.89" y1="410.64" x2="81.89" y2="410.64" stroke="#4cb3ea" stroke-width="0.65"/>
<line x1="79.89" y1="416.38" x2="81.89" y2="416.38" stroke="#4cb3ea" stroke-width="0.65"/>
<line x1="83.51" y1="415.21" x2="83.51" y2="422.01" stroke="#4cb3ea" stroke-width="0.65"/>
<line x1="82.51" y1="415.21" x2="84.51" y2="415.21" stroke="#4cb3ea" stroke-width="0.65"/>
<line x1="82.51" y1="422.01" x2="84.51" y2="422.01" stroke="#4cb3ea" stroke-width="0.65"/>
<line x1="86.13" y1="413.73" x2="86.13" y2="419.9" stroke="#4cb3ea" stroke-width="0.65"/>
<line x1="85.13" y1="413.73" x2="87.13" y2="413.73" stroke="#4cb3ea" stroke-width="0.65"/>
<line x1="85.13" y1="419.9" x2="87.13" y2="419.9" stroke="#4cb3ea" stroke-width="0.65"/>
<line x1="88.75" y1="409.37" x2="88.75" y2="425.1" stroke="#4cb3ea" stroke-width="0.65"/>
<line x1="87.75" y1="409.37" x2="89.75" y2="409.37" stroke="#4cb3ea" stroke-width="0.65"/>
<line x1="87.75" y1="425.1" x2="89.75" y2="425.1" stroke="#4cb3ea" stroke-width="0.65"/>
<line x1="91.38" y1="412.9" x2="91.38" y2="419.23" stroke="#4cb3ea" stroke-width="0.65"/>
<line x1="90.38" y1="412.9" x2="92.38" y2="412.9" stroke="#4cb3ea" stroke-width="0.65"/>
<line x1="90.38" y1="419.23" x2="92.38" y2="419.23" stroke="#4cb3ea" stroke-width="0.65"/>
<line x1="94" y1="413.28" x2="94" y2="426.46" stroke="#4cb3ea" stroke-width="0.65"/>
<line x1="93" y1="413.28" x2="95" y2="413.28" stroke="#4cb3ea" stroke-width="0.65"/>
<line x1="93" y1="426.46" x2="95" y2="426.46" stroke="#4cb3ea" stroke-width="0.65"/>
<line x1="96.62" y1="419.17" x2="96.62" y2="423.55" stroke="#4cb3ea" stroke-width="0.65"/>
<line x1="95.62" y1="419.17" x2="97.62" y2="419.17" stroke="#4cb3ea" stroke-width="0.65"/>
<line x1="95.62" y1="423.55" x2="97.62" y2="423.55" stroke="#4cb3ea" stroke-width="0.65"/>
<line x1="99.24" y1="423.16" x2="99.24" y2="437.71" stroke="#4cb3ea" stroke-width="0.65"/>
<line x1="98.24" y1="423.16" x2="100.24" y2="423.16" stroke="#4cb3ea" stroke-width="0.65"/>
<line x1="98.24" y1="437.71" x2="100.24" y2="437.71" stroke="#4cb3ea" stroke-width="0.65"/>
<line x1="101.86" y1="428.75" x2="101.86" y2="443.77" stroke="#4cb3ea" stroke-width="0.65"/>
<line x1="100.86" y1="428.75" x2="102.86" y2="428.75" stroke="#4cb3ea" stroke-width="0.65"/>
<line x1="100.86" y1="443.77" x2="102.86" y2="443.77" stroke="#4cb3ea" stroke-width="0.65"/>
<line x1="104.49" y1="438.13" x2="104.49" y2="443.87" stroke="#4cb3ea" stroke-width="0.65"/>
<line x1="103.49" y1="438.13" x2="105.49" y2="438.13" stroke="#4cb3ea" stroke-width="0.65"/>
<line x1="103.49" y1="443.87" x2="105.49" y2="443.87" stroke="#4cb3ea" stroke-width="0.65"/>
<line x1="107.11" y1="440.91" x2="107.11" y2="448.35" stroke="#4cb3ea" stroke-width="0.65"/>
<line x1="106.11" y1="440.91" x2="108.11" y2="440.91" stroke="#4cb3ea" stroke-width="0.65"/>
<line x1="106.11" y1="448.35" x2="108.11" y2="448.35" stroke="#4cb3ea" stroke-width="0.65"/>
<line x1="109.73" y1="438.86" x2="109.73" y2="454.46" stroke="#4cb3ea" stroke-width="0.65"/>
<line x1="108.73" y1="438.86" x2="110.73" y2="438.86" stroke="#4cb3ea" stroke-width="0.65"/>
<line x1="108.73" y1="454.46" x2="110.73" y2="454.46" stroke="#4cb3ea" stroke-width="0.65"/>
<line x1="112.35" y1="444.65" x2="112.35" y2="455.23" stroke="#4cb3ea" stroke-width="0.65"/>
<line x1="111.35" y1="444.65" x2="113.35" y2="444.65" stroke="#4cb3ea" stroke-width="0.65"/>
<line x1="111.35" y1="455.23" x2="113.35" y2="455.23" stroke="#4cb3ea" stroke-width="0.65"/>
<line x1="114.97" y1="446.43" x2="114.97" y2="452.54" stroke="#4cb3ea" stroke-width="0.65"/>
<line x1="113.97" y1="446.43" x2="115.97" y2="446.43" stroke="#4cb3ea" stroke-width="0.65"/>
<line x1="113.97" y1="452.54" x2="115.97" y2="452.54" stroke="#4cb3ea" stroke-width="0.65"/>
<line x1="117.6" y1="451.18" x2="117.6" y2="454.37" stroke="#4cb3ea" stroke-width="0.65"/>
<line x1="116.6" y1="451.18" x2="118.6" y2="451.18" stroke="#4cb3ea" stroke-width="0.65"/>
<line x1="116.6" y1="454.37" x2="118.6" y2="454.37" stroke="#4cb3ea" stroke-width="0.65"/>
<line x1="120.22" y1="456.45" x2="120.22" y2="460.52" stroke="#4cb3ea" stroke-width="0.65"/>
<line x1="119.22" y1="456.45" x2="121.22" y2="456.45" stroke="#4cb3ea" stroke-width="0.65"/>
<line x1="119.22" y1="460.52" x2="121.22" y2="460.52" stroke="#4cb3ea" stroke-width="0.65"/>
<line x1="122.84" y1="447.21" x2="122.84" y2="457.25" stroke="#4cb3ea" stroke-width="0.65"/>
<line x1="121.84" y1="447.21" x2="123.84" y2="447.21" stroke="#4cb3ea" stroke-width="0.65"/>
<line x1="121.84" y1="457.25" x2="123.84" y2="457.25" stroke="#4cb3ea" stroke-width="0.65"/>
<line x1="125.46" y1="454.69" x2="125.46" y2="457.55" stroke="#4cb3ea" stroke-width="0.65"/>
<line x1="124.46" y1="454.69" x2="126.46" y2="454.69" stroke="#4cb3ea" stroke-width="0.65"/>
<line x1="124.46" y1="457.55" x2="126.46" y2="457.55" stroke="#4cb3ea" stroke-width="0.65"/>
<line x1="128.08" y1="450.15" x2="128.08" y2="465.4" stroke="#4cb3ea" stroke-width="0.65"/>
<line x1="127.08" y1="450.15" x2="129.08" y2="450.15" stroke="#4cb3ea" stroke-width="0.65"/>
<line x1="127.08" y1="465.4" x2="129.08" y2="465.4" stroke="#4cb3ea" stroke-width="0.65"/>
<line x1="130.71" y1="454.88" x2="130.71" y2="458.43" stroke="#4cb3ea" stroke-width="0.65"/>
<line x1="129.71" y1="454.88" x2="131.71" y2="454.88" stroke="#4cb3ea" stroke-width="0.65"/>
<line x1="129.71" y1="458.43" x2="131.71" y2="458.43" stroke="#4cb3ea" stroke-width="0.65"/>
<line x1="133.33" y1="449.65" x2="133.33" y2="465" stroke="#4cb3ea" stroke-width="0.65"/>
<line x1="132.33" y1="449.65" x2="134.33" y2="449.65" stroke="#4cb3ea" stroke-width="0.65"/>
<line x1="132.33" y1="465" x2="134.33" y2="465" stroke="#4cb3ea" stroke-width="0.65"/>
<line x1="135.95" y1="456.27" x2="135.95" y2="460.19" stroke="#4cb3ea" stroke-width="0.65"/>
<line x1="134.95" y1="456.27" x2="136.95" y2="456.27" stroke="#4cb3ea" stroke-width="0.65"/>
<line x1="134.95" y1="460.19" x2="136.95" y2="460.19" stroke="#4cb3ea" stroke-width="0.65"/>
<line x1="138.57" y1="451.91" x2="138.57" y2="468.59" stroke="#4cb3ea" stroke-width="0.65"/>
<line x1="137.57" y1="451.91" x2="139.57" y2="451.91" stroke="#4cb3ea" stroke-width="0.65"/>
<line x1="137.57" y1="468.59" x2="139.57" y2="468.59" stroke="#4cb3ea" stroke-width="0.65"/>
<line x1="141.19" y1="453.38" x2="141.19" y2="463.56" stroke="#4cb3ea" stroke-width="0.65"/>
<line x1="140.19" y1="453.38" x2="142.19" y2="453.38" stroke="#4cb3ea" stroke-width="0.65"/>
<line x1="140.19" y1="463.56" x2="142.19" y2="463.56" stroke="#4cb3ea" stroke-width="0.65"/>
<line x1="143.82" y1="458.22" x2="143.82" y2="464.6" stroke="#4cb3ea" stroke-width="0.65"/>
<line x1="142.82" y1="458.22" x2="144.82" y2="458.22" stroke="#4cb3ea" stroke-width="0.65"/>
<line x1="142.82" y1="464.6" x2="144.82" y2="464.6" stroke="#4cb3ea" stroke-width="0.65"/>
<line x1="146.44" y1="453.04" x2="146.44" y2="459.64" stroke="#4cb3ea" stroke-width="0.65"/>
<line x1="145.44" y1="453.04" x2="147.44" y2="453.04" stroke="#4cb3ea" stroke-width="0.65"/>
<line x1="145.44" y1="459.64" x2="147.44" y2="459.64" stroke="#4cb3ea" stroke-width="0.65"/>
<line x1="149.06" y1="456.43" x2="149.06" y2="465.46" stroke="#4cb3ea" stroke-width="0.65"/>
<line x1="148.06" y1="456.43" x2="150.06" y2="456.43" stroke="#4cb3ea" stroke-width="0.65"/>
<line x1="148.06" y1="465.46" x2="150.06" y2="465.46" stroke="#4cb3ea" stroke-width="0.65"/>
<line x1="151.68" y1="455.24" x2="151.68" y2="463.05" stroke="#4cb3ea" stroke-width="0.65"/>
<line x1="150.68" y1="455.24" x2="152.68" y2="455.24" stroke="#4cb3ea" stroke-width="0.65"/>
<line x1="150.68" y1="463.05" x2="152.68" y2="463.05" stroke="#4cb3ea" stroke-width="0.65"/>
<line x1="154.3" y1="456.79" x2="154.3" y2="460.73" stroke="#4cb3ea" stroke-width="0.65"/>
<line x1="153.3" y1="456.79" x2="155.3" y2="456.79" stroke="#4cb3ea" stroke-width="0.65"/>
<line x1="153.3" y1="460.73" x2="155.3" y2="460.73" stroke="#4cb3ea" stroke-width="0.65"/>
<line x1="156.93" y1="456.87" x2="156.93" y2="459.97" stroke="#4cb3ea" stroke-width="0.65"/>
<line x1="155.93" y1="456.87" x2="157.93" y2="456.87" stroke="#4cb3ea" stroke-width="0.65"/>
<line x1="155.93" y1="459.97" x2="157.93" y2="459.97" stroke="#4cb3ea" stroke-width="0.65"/>
<line x1="159.55" y1="455.98" x2="159.55" y2="462.49" stroke="#4cb3ea" stroke-width="0.65"/>
<line x1="158.55" y1="455.98" x2="160.55" y2="455.98" stroke="#4cb3ea" stroke-width="0.65"/>
<line x1="158.55" y1="462.49" x2="160.55" y2="462.49" stroke="#4cb3ea" stroke-width="0.65"/>
<line x1="162.17" y1="450.14" x2="162.17" y2="466.15" stroke="#4cb3ea" stroke-width="0.65"/>
<line x1="161.17" y1="450.14" x2="163.17" y2="450.14" stroke="#4cb3ea" stroke-width="0.65"/>
<line x1="161.17" y1="466.15" x2="163.17" y2="466.15" stroke="#4cb3ea" stroke-width="0.65"/>
<line x1="164.79" y1="461.06" x2="164.79" y2="469.54" stroke="#4cb3ea" stroke-width="0.65"/>
<line x1="163.79" y1="461.06" x2="165.79" y2="461.06" stroke="#4cb3ea" stroke-width="0.65"/>
<line x1="163.79" y1="469.54" x2="165.79" y2="469.54" stroke="#4cb3ea" stroke-width="0.65"/>
<line x1="167.41" y1="458.41" x2="167.41" y2="460.92" stroke="#4cb3ea" stroke-width="0.65"/>
<line x1="166.41" y1="458.41" x2="168.41" y2="458.41" stroke="#4cb3ea" stroke-width="0.65"/>
<line x1="166.41" y1="460.92" x2="168.41" y2="460.92" stroke="#4cb3ea" stroke-width="0.65"/>
<line x1="170.04" y1="453.46" x2="170.04" y2="466.36" stroke="#4cb3ea" stroke-width="0.65"/>
<line x1="169.04" y1="453.46" x2="171.04" y2="453.46" stroke="#4cb3ea" stroke-width="0.65"/>
<line x1="169.04" y1="466.36" x2="171.04" y2="466.36" stroke="#4cb3ea" stroke-width="0.65"/>
<line x1="172.66" y1="455.21" x2="172.66" y2="465.84" stroke="#4cb3ea" stroke-width="0.65"/>
<line x1="171.66" y1="455.21" x2="173.66" y2="455.21" stroke="#4cb3ea" stroke-width="0.65"/>
<line x1="171.66" y1="465.84" x2="173.66" y2="465.84" stroke="#4cb3ea" stroke-width="0.65"/>
<line x1="175.28" y1="449.72" x2="175.28" y2="464.96" stroke="#4cb3ea" stroke-width="0.65"/>
<line x1="174.28" y1="449.72" x2="176.28" y2="449.72" stroke="#4cb3ea" stroke-width="0.65"/>
<line x1="174.28" y1="464.96" x2="176.28" y2="464.96" stroke="#4cb3ea" stroke-width="0.65"/>
<line x1="177.9" y1="460.25" x2="177.9" y2="463.25" stroke="#4cb3ea" stroke-width="0.65"/>
<line x1="176.9" y1="460.25" x2="178.9" y2="460.25" stroke="#4cb3ea" stroke-width="0.65"/>
<line x1="176.9" y1="463.25" x2="178.9" y2="463.25" stroke="#4cb3ea" stroke-width="0.65"/>
<line x1="180.52" y1="454.84" x2="180.52" y2="465.9" stroke="#4cb3ea" stroke-width="0.65"/>
<line x1="179.52" y1="454.84" x2="181.52" y2="454.84" stroke="#4cb3ea" stroke-width="0.65"/>
<line x1="179.52" y1="465.9" x2="181.52" y2="465.9" stroke="#4cb3ea" stroke-width="0.65"/>
<line x1="183.15" y1="462.45" x2="183.15" y2="464.94" stroke="#4cb3ea" stroke-width="0.65"/>
<line x1="182.15" y1="462.45" x2="184.15" y2="462.45" stroke="#4cb3ea" stroke-width="0.65"/>
<line x1="182.15" y1="464.94" x2="184.15" y2="464.94" stroke="#4cb3ea" stroke-width="0.65"/>
<line x1="185.77" y1="455.24" x2="185.77" y2="464.3" stroke="#4cb3ea" stroke-width="0.65"/>
<line x1="184.77" y1="455.24" x2="186.77" y2="455.24" stroke="#4cb3ea" stroke-width="0.65"/>
<line x1="184.77" y1="464.3" x2="186.77" y2="464.3" stroke="#4cb3ea" stroke-width="0.65"/>
<line x1="188.39" y1="461.21" x2="188.39" y2="464.8" stroke="#4cb3ea" stroke-width="0.65"/>
<line x1="187.39" y1="461.21" x2="189.39" y2="461.21" stroke="#4cb3ea" stroke-width="0.65"/>
<line x1="187.39" y1="464.8" x2="189.39" y2="464.8" stroke="#4cb3ea" stroke-width="0.65"/>
<line x1="191.01" y1="461.3" x2="191.01" y2="464.53" stroke="#4cb3ea" stroke-width="0.65"/>
<line x1="190.01" y1="461.3" x2="192.01" y2="461.3" stroke="#4cb3ea" stroke-width="0.65"/>
<line x1="190.01" y1="464.53" x2="192.01" y2="464.53" stroke="#4cb3ea" stroke-width="0.65"/>
<line x1="193.63" y1="449.03" x2="193.63" y2="463.38" stroke="#4cb3ea" stroke-width="0.65"/>
<line x1="192.63" y1="449.03" x2="194.63" y2="449.03" stroke="#4cb3ea" stroke-width="0.65"/>
<line x1="192.63" y1="463.38" x2="194.63" y2="463.38" stroke="#4cb3ea" stroke-width="0.65"/>
<line x1="196.26" y1="457.7" x2="196.26" y2="460.3" stroke="#4cb3ea" stroke-width="0.65"/>
<line x1="195.26" y1="457.7" x2="197.26" y2="457.7" stroke="#4cb3ea" stroke-width="0.65"/>
<line x1="195.26" y1="460.3" x2="197.26" y2="460.3" stroke="#4cb3ea" stroke-width="0.65"/>
<line x1="198.88" y1="455.07" x2="198.88" y2="461.75" stroke="#4cb3ea" stroke-width="0.65"/>
<line x1="197.88" y1="455.07" x2="199.88" y2="455.07" stroke="#4cb3ea" stroke-width="0.65"/>
<line x1="197.88" y1="461.75" x2="199.88" y2="461.75" stroke="#4cb3ea" stroke-width="0.65"/>
<line x1="201.5" y1="449.41" x2="201.5" y2="463.18" stroke="#4cb3ea" stroke-width="0.65"/>
<line x1="200.5" y1="449.41" x2="202.5" y2="449.41" stroke="#4cb3ea" stroke-width="0.65"/>
<line x1="200.5" y1="463.18" x2="202.5" y2="463.18" stroke="#4cb3ea" stroke-width="0.65"/>
<path d="M80.89,413.51 L83.51,418.61 L86.13,416.81 L88.75,417.24 L91.38,416.06 L94,419.87 L96.62,421.36 L99.24,430.44 L101.86,436.26 L104.49,441 L107.11,444.63 L109.73,446.66 L112.35,449.94 L114.97,449.49 L117.6,452.77 L120.22,458.49 L122.84,452.23 L125.46,456.12 L128.08,457.78 L130.71,456.66 L133.33,457.33 L135.95,458.23 L138.57,460.25 L141.19,458.47 L143.82,461.41 L146.44,456.34 L149.06,460.95 L151.68,459.15 L154.3,458.76 L156.93,458.42 L159.55,459.24 L162.17,458.15 L164.79,465.3 L167.41,459.67 L170.04,459.91 L172.66,460.53 L175.28,457.34 L177.9,461.75 L180.52,460.37 L183.15,463.7 L185.77,459.77 L188.39,463 L191.01,462.92 L193.63,456.2 L196.26,459 L198.88,458.41 L201.5,456.3" stroke="#4cb3ea" stroke-width="1.2" fill="none"/>
<rect x="78.7" y="411.32" width="4.37" height="4.37" fill="#4cb3ea" stroke="none" stroke-width="0"/>
<rect x="81.33" y="416.43" width="4.37" height="4.37" fill="#4cb3ea" stroke="none" stroke-width="0"/>
<rect x="83.95" y="414.63" width="4.37" height="4.37" fill="#4cb3ea" stroke="none" stroke-width="0"/>
<rect x="86.57" y="415.05" width="4.37" height="4.37" fill="#4cb3ea" stroke="none" stroke-width="0"/>
<rect x="89.19" y="413.88" width="4.37" height="4.37" fill="#4cb3ea" stroke="none" stroke-width="0"/>
<rect x="91.81" y="417.68" width="4.37" height="4.37" fill="#4cb3ea" stroke="none" stroke-width="0"/>
<rect x="94.44" y="419.18" width="4.37" height="4.37" fill="#4cb3ea" stroke="none" stroke-width="0"/>
<rect x="97.06" y="428.25" width="4.37" height="4.37" fill="#4cb3ea" stroke="none" stroke-width="0"/>
<rect x="99.68" y="434.07" width="4.37" height="4.37" fill="#4cb3ea" stroke="none" stroke-width="0"/>
<rect x="102.3" y="438.82" width="4.37" height="4.37" fill="#4cb3ea" stroke="none" stroke-width="0"/>
<rect x="104.92" y="442.45" width="4.37" height="4.37" fill="#4cb3ea" stroke="none" stroke-width="0"/>
<rect x="107.55" y="444.47" width="4.37" height="4.37" fill="#4cb3ea" stroke="none" stroke-width="0"/>
<rect x="110.17" y="447.76" width="4.37" height="4.37" fill="#4cb3ea" stroke="none" stroke-width="0"/>
<rect x="112.79" y="447.3" width="4.37" height="4.37" fill="#4cb3ea" stroke="none" stroke-width="0"/>
<rect x="115.41" y="450.59" width="4.37" height="4.37" fill="#4cb3ea" stroke="none" stroke-width="0"/>
<rect x="118.03" y="456.3" width="4.37" height="4.37" fill="#4cb3ea" stroke="none" stroke-width="0"/>
<rect x="120.66" y="450.04" width="4.37" height="4.37" fill="#4cb3ea" stroke="none" stroke-width="0"/>
<rect x="123.28" y="453.94" width="4.37" height="4.37" fill="#4cb3ea" stroke="none" stroke-width="0"/>
<rect x="125.9" y="455.59" width="4.37" height="4.37" fill="#4cb3ea" stroke="none" stroke-width="0"/>
<rect x="128.52" y="454.47" width="4.37" height="4.37" fill="#4cb3ea" stroke="none" stroke-width="0"/>
<rect x="131.14" y="455.14" width="4.37" height="4.37" fill="#4cb3ea" stroke="none" stroke-width="0"/>
<rect x="133.76" y="456.04" width="4.37" height="4.37" fill="#4cb3ea" stroke="none" stroke-width="0"/>
<rect x="136.39" y="458.06" width="4.37" height="4.37" fill="#4cb3ea" stroke="none" stroke-width="0"/>
<rect x="139.01" y="456.28" width="4.37" height="4.37" fill="#4cb3ea" stroke="none" stroke-width="0"/>
<rect x="141.63" y="459.23" width="4.37" height="4.37" fill="#4cb3ea" stroke="none" stroke-width="0"/>
<rect x="144.25" y="454.15" width="4.37" height="4.37" fill="#4cb3ea" stroke="none" stroke-width="0"/>
<rect x="146.88" y="458.76" width="4.37" height="4.37" fill="#4cb3ea" stroke="none" stroke-width="0"/>
<rect x="149.5" y="456.96" width="4.37" height="4.37" fill="#4cb3ea" stroke="none" stroke-width="0"/>
<rect x="152.12" y="456.58" width="4.37" height="4.37" fill="#4cb3ea" stroke="none" stroke-width="0"/>
<rect x="154.74" y="456.24" width="4.37" height="4.37" fill="#4cb3ea" stroke="none" stroke-width="0"/>
<rect x="157.36" y="457.05" width="4.37" height="4.37" fill="#4cb3ea" stroke="none" stroke-width="0"/>
<rect x="159.99" y="455.96" width="4.37" height="4.37" fill="#4cb3ea" stroke="none" stroke-width="0"/>
<rect x="162.61" y="463.11" width="4.37" height="4.37" fill="#4cb3ea" stroke="none" stroke-width="0"/>
<rect x="165.23" y="457.48" width="4.37" height="4.37" fill="#4cb3ea" stroke="none" stroke-width="0"/>
<rect x="167.85" y="457.73" width="4.37" height="4.37" fill="#4cb3ea" stroke="none" stroke-width="0"/>
<rect x="170.47" y="458.34" width="4.37" height="4.37" fill="#4cb3ea" stroke="none" stroke-width="0"/>
<rect x="173.1" y="455.15" width="4.37" height="4.37" fill="#4cb3ea" stroke="none" stroke-width="0"/>
<rect x="175.72" y="459.57" width="4.37" height="4.37" fill="#4cb3ea" stroke="none" stroke-width="0"/>
<rect x="178.34" y="458.19" width="4.37" height="4.37" fill="#4cb3ea" stroke="none" stroke-width="0"/>
<rect x="180.96" y="461.51" width="4.37" height="4.37" fill="#4cb3ea" stroke="none" stroke-width="0"/>
<rect x="183.58" y="457.58" width="4.37" height="4.37" fill="#4cb3ea" stroke="none" stroke-width="0"/>
<rect x="186.21" y="460.82" width="4.37" height="4.37" fill="#4cb3ea" stroke="none" stroke-width="0"/>
<rect x="188.83" y="460.73" width="4.37" height="4.37" fill="#4cb3ea" stroke="none" stroke-width="0"/>
<rect x="191.45" y="454.02" width="4.37" height="4.37" fill="#4cb3ea" stroke="none" stroke-width="0"/>
<rect x="194.07" y="456.81" width="4.37" height="4.37" fill="#4cb3ea" stroke="none" stroke-width="0"/>
<rect x="196.69" y="456.23" width="4.37" height="4.37" fill="#4cb3ea" stroke="none" stroke-width="0"/>
<rect x="199.31" y="454.11" width="4.37" height="4.37" fill="#4cb3ea" stroke="none" stroke-width="0"/>
<line x1="80" y1="394.4" x2="80" y2="492.45" stroke="#000" stroke-width="1.7"/>
<line x1="75.6" y1="394.4" x2="80" y2="394.4" stroke="#000" stroke-width="1.7"/>
<text x="74.4" y="398.69" font-size="10.3" font-weight="bold" text-anchor="end" fill="#000">0.02</text>
<line x1="75.6" y1="418.7" x2="80" y2="418.7" stroke="#000" stroke-width="1.7"/>
<text x="74.4" y="422.99" font-size="10.3" font-weight="bold" text-anchor="end" fill="#000">0.00</text>
<line x1="75.6" y1="443" x2="80" y2="443" stroke="#000" stroke-width="1.7"/>
<text x="74.4" y="447.29" font-size="10.3" font-weight="bold" text-anchor="end" fill="#000">-0.02</text>
<line x1="75.6" y1="467.3" x2="80" y2="467.3" stroke="#000" stroke-width="1.7"/>
<text x="74.4" y="471.59" font-size="10.3" font-weight="bold" text-anchor="end" fill="#000">-0.04</text>
<line x1="75.6" y1="491.6" x2="80" y2="491.6" stroke="#000" stroke-width="1.7"/>
<text x="74.4" y="495.89" font-size="10.3" font-weight="bold" text-anchor="end" fill="#000">-0.06</text>
<line x1="79.15" y1="491.6" x2="201.5" y2="491.6" stroke="#000" stroke-width="1.7"/>
<line x1="95.7" y1="491.6" x2="95.7" y2="496" stroke="#000" stroke-width="1.7"/>
<text x="95.7" y="507.29" font-size="10.3" font-weight="bold" text-anchor="middle" fill="#000">0</text>
<line x1="116.86" y1="491.6" x2="116.86" y2="496" stroke="#000" stroke-width="1.7"/>
<text x="116.86" y="507.29" font-size="10.3" font-weight="bold" text-anchor="middle" fill="#000">2</text>
<line x1="138.02" y1="491.6" x2="138.02" y2="496" stroke="#000" stroke-width="1.7"/>
<text x="138.02" y="507.29" font-size="10.3" font-weight="bold" text-anchor="middle" fill="#000">4</text>
<line x1="159.18" y1="491.6" x2="159.18" y2="496" stroke="#000" stroke-width="1.7"/>
<text x="159.18" y="507.29" font-size="10.3" font-weight="bold" text-anchor="middle" fill="#000">6</text>
<line x1="180.34" y1="491.6" x2="180.34" y2="496" stroke="#000" stroke-width="1.7"/>
<text x="180.34" y="507.29" font-size="10.3" font-weight="bold" text-anchor="middle" fill="#000">8</text>
<line x1="201.5" y1="491.6" x2="201.5" y2="496" stroke="#000" stroke-width="1.7"/>
<text x="201.5" y="507.29" font-size="10.3" font-weight="bold" text-anchor="middle" fill="#000">10</text>
<text x="141.75" y="524.7" font-size="12" font-weight="bold" text-anchor="middle" fill="#000">Time (min)</text>
<text x="42" y="445.3" font-size="12" font-weight="bold" text-anchor="middle" fill="#000" transform="rotate(-90 42 441)">cAMP (RLU)</text>
<line x1="142" y1="394" x2="153" y2="394" stroke="#88878c" stroke-width="1.2"/>
<circle cx="147.5" cy="394" r="2.1" fill="#88878c" stroke="none" stroke-width="1"/>
<text x="158.5" y="397.42" font-size="9.55" font-weight="bold" text-anchor="start" fill="#000">Vehicle</text>
<line x1="142" y1="409.7" x2="153" y2="409.7" stroke="#4cb3ea" stroke-width="1.2"/>
<rect x="145.4" y="407.6" width="4.2" height="4.2" fill="#4cb3ea" stroke="none" stroke-width="0"/>
<text x="158.5" y="413.12" font-size="9.55" font-weight="bold" text-anchor="start" fill="#000">WNT-9B</text>
<line x1="277.1" y1="426.8" x2="398" y2="426.8" stroke="#222" stroke-width="0.9" stroke-dasharray="1.1,2.1"/>
<line x1="278.19" y1="425.03" x2="278.19" y2="431.48" stroke="#88878c" stroke-width="0.65"/>
<line x1="277.19" y1="425.03" x2="279.19" y2="425.03" stroke="#88878c" stroke-width="0.65"/>
<line x1="277.19" y1="431.48" x2="279.19" y2="431.48" stroke="#88878c" stroke-width="0.65"/>
<line x1="280.79" y1="419.6" x2="280.79" y2="432.22" stroke="#88878c" stroke-width="0.65"/>
<line x1="279.79" y1="419.6" x2="281.79" y2="419.6" stroke="#88878c" stroke-width="0.65"/>
<line x1="279.79" y1="432.22" x2="281.79" y2="432.22" stroke="#88878c" stroke-width="0.65"/>
<line x1="283.4" y1="425.48" x2="283.4" y2="433.53" stroke="#88878c" stroke-width="0.65"/>
<line x1="282.4" y1="425.48" x2="284.4" y2="425.48" stroke="#88878c" stroke-width="0.65"/>
<line x1="282.4" y1="433.53" x2="284.4" y2="433.53" stroke="#88878c" stroke-width="0.65"/>
<line x1="286" y1="419.19" x2="286" y2="432.4" stroke="#88878c" stroke-width="0.65"/>
<line x1="285" y1="419.19" x2="287" y2="419.19" stroke="#88878c" stroke-width="0.65"/>
<line x1="285" y1="432.4" x2="287" y2="432.4" stroke="#88878c" stroke-width="0.65"/>
<line x1="288.6" y1="421.97" x2="288.6" y2="433.5" stroke="#88878c" stroke-width="0.65"/>
<line x1="287.6" y1="421.97" x2="289.6" y2="421.97" stroke="#88878c" stroke-width="0.65"/>
<line x1="287.6" y1="433.5" x2="289.6" y2="433.5" stroke="#88878c" stroke-width="0.65"/>
<line x1="291.21" y1="420.08" x2="291.21" y2="434.83" stroke="#88878c" stroke-width="0.65"/>
<line x1="290.21" y1="420.08" x2="292.21" y2="420.08" stroke="#88878c" stroke-width="0.65"/>
<line x1="290.21" y1="434.83" x2="292.21" y2="434.83" stroke="#88878c" stroke-width="0.65"/>
<line x1="293.81" y1="420.05" x2="293.81" y2="427.91" stroke="#88878c" stroke-width="0.65"/>
<line x1="292.81" y1="420.05" x2="294.81" y2="420.05" stroke="#88878c" stroke-width="0.65"/>
<line x1="292.81" y1="427.91" x2="294.81" y2="427.91" stroke="#88878c" stroke-width="0.65"/>
<line x1="296.42" y1="427.5" x2="296.42" y2="429.87" stroke="#88878c" stroke-width="0.65"/>
<line x1="295.42" y1="427.5" x2="297.42" y2="427.5" stroke="#88878c" stroke-width="0.65"/>
<line x1="295.42" y1="429.87" x2="297.42" y2="429.87" stroke="#88878c" stroke-width="0.65"/>
<line x1="299.02" y1="424.39" x2="299.02" y2="436.02" stroke="#88878c" stroke-width="0.65"/>
<line x1="298.02" y1="424.39" x2="300.02" y2="424.39" stroke="#88878c" stroke-width="0.65"/>
<line x1="298.02" y1="436.02" x2="300.02" y2="436.02" stroke="#88878c" stroke-width="0.65"/>
<line x1="301.63" y1="422.05" x2="301.63" y2="436.14" stroke="#88878c" stroke-width="0.65"/>
<line x1="300.63" y1="422.05" x2="302.63" y2="422.05" stroke="#88878c" stroke-width="0.65"/>
<line x1="300.63" y1="436.14" x2="302.63" y2="436.14" stroke="#88878c" stroke-width="0.65"/>
<line x1="304.23" y1="422.34" x2="304.23" y2="434.97" stroke="#88878c" stroke-width="0.65"/>
<line x1="303.23" y1="422.34" x2="305.23" y2="422.34" stroke="#88878c" stroke-width="0.65"/>
<line x1="303.23" y1="434.97" x2="305.23" y2="434.97" stroke="#88878c" stroke-width="0.65"/>
<line x1="306.84" y1="427.88" x2="306.84" y2="434.1" stroke="#88878c" stroke-width="0.65"/>
<line x1="305.84" y1="427.88" x2="307.84" y2="427.88" stroke="#88878c" stroke-width="0.65"/>
<line x1="305.84" y1="434.1" x2="307.84" y2="434.1" stroke="#88878c" stroke-width="0.65"/>
<line x1="309.44" y1="425.84" x2="309.44" y2="434.47" stroke="#88878c" stroke-width="0.65"/>
<line x1="308.44" y1="425.84" x2="310.44" y2="425.84" stroke="#88878c" stroke-width="0.65"/>
<line x1="308.44" y1="434.47" x2="310.44" y2="434.47" stroke="#88878c" stroke-width="0.65"/>
<line x1="312.05" y1="431.9" x2="312.05" y2="434.5" stroke="#88878c" stroke-width="0.65"/>
<line x1="311.05" y1="431.9" x2="313.05" y2="431.9" stroke="#88878c" stroke-width="0.65"/>
<line x1="311.05" y1="434.5" x2="313.05" y2="434.5" stroke="#88878c" stroke-width="0.65"/>
<line x1="314.65" y1="426.71" x2="314.65" y2="437.69" stroke="#88878c" stroke-width="0.65"/>
<line x1="313.65" y1="426.71" x2="315.65" y2="426.71" stroke="#88878c" stroke-width="0.65"/>
<line x1="313.65" y1="437.69" x2="315.65" y2="437.69" stroke="#88878c" stroke-width="0.65"/>
<line x1="317.26" y1="428.78" x2="317.26" y2="435.07" stroke="#88878c" stroke-width="0.65"/>
<line x1="316.26" y1="428.78" x2="318.26" y2="428.78" stroke="#88878c" stroke-width="0.65"/>
<line x1="316.26" y1="435.07" x2="318.26" y2="435.07" stroke="#88878c" stroke-width="0.65"/>
<line x1="319.86" y1="431.58" x2="319.86" y2="434.66" stroke="#88878c" stroke-width="0.65"/>
<line x1="318.86" y1="431.58" x2="320.86" y2="431.58" stroke="#88878c" stroke-width="0.65"/>
<line x1="318.86" y1="434.66" x2="320.86" y2="434.66" stroke="#88878c" stroke-width="0.65"/>
<line x1="322.47" y1="431.99" x2="322.47" y2="434.07" stroke="#88878c" stroke-width="0.65"/>
<line x1="321.47" y1="431.99" x2="323.47" y2="431.99" stroke="#88878c" stroke-width="0.65"/>
<line x1="321.47" y1="434.07" x2="323.47" y2="434.07" stroke="#88878c" stroke-width="0.65"/>
<line x1="325.07" y1="427.4" x2="325.07" y2="438.87" stroke="#88878c" stroke-width="0.65"/>
<line x1="324.07" y1="427.4" x2="326.07" y2="427.4" stroke="#88878c" stroke-width="0.65"/>
<line x1="324.07" y1="438.87" x2="326.07" y2="438.87" stroke="#88878c" stroke-width="0.65"/>
<line x1="327.67" y1="424.1" x2="327.67" y2="438.83" stroke="#88878c" stroke-width="0.65"/>
<line x1="326.67" y1="424.1" x2="328.67" y2="424.1" stroke="#88878c" stroke-width="0.65"/>
<line x1="326.67" y1="438.83" x2="328.67" y2="438.83" stroke="#88878c" stroke-width="0.65"/>
<line x1="330.28" y1="431.09" x2="330.28" y2="433.21" stroke="#88878c" stroke-width="0.65"/>
<line x1="329.28" y1="431.09" x2="331.28" y2="431.09" stroke="#88878c" stroke-width="0.65"/>
<line x1="329.28" y1="433.21" x2="331.28" y2="433.21" stroke="#88878c" stroke-width="0.65"/>
<line x1="332.88" y1="428.05" x2="332.88" y2="438.38" stroke="#88878c" stroke-width="0.65"/>
<line x1="331.88" y1="428.05" x2="333.88" y2="428.05" stroke="#88878c" stroke-width="0.65"/>
<line x1="331.88" y1="438.38" x2="333.88" y2="438.38" stroke="#88878c" stroke-width="0.65"/>
<line x1="335.49" y1="431.22" x2="335.49" y2="435.43" stroke="#88878c" stroke-width="0.65"/>
<line x1="334.49" y1="431.22" x2="336.49" y2="431.22" stroke="#88878c" stroke-width="0.65"/>
<line x1="334.49" y1="435.43" x2="336.49" y2="435.43" stroke="#88878c" stroke-width="0.65"/>
<line x1="338.09" y1="435.47" x2="338.09" y2="437.79" stroke="#88878c" stroke-width="0.65"/>
<line x1="337.09" y1="435.47" x2="339.09" y2="435.47" stroke="#88878c" stroke-width="0.65"/>
<line x1="337.09" y1="437.79" x2="339.09" y2="437.79" stroke="#88878c" stroke-width="0.65"/>
<line x1="340.7" y1="433.62" x2="340.7" y2="436.77" stroke="#88878c" stroke-width="0.65"/>
<line x1="339.7" y1="433.62" x2="341.7" y2="433.62" stroke="#88878c" stroke-width="0.65"/>
<line x1="339.7" y1="436.77" x2="341.7" y2="436.77" stroke="#88878c" stroke-width="0.65"/>
<line x1="343.3" y1="430.59" x2="343.3" y2="440.28" stroke="#88878c" stroke-width="0.65"/>
<line x1="342.3" y1="430.59" x2="344.3" y2="430.59" stroke="#88878c" stroke-width="0.65"/>
<line x1="342.3" y1="440.28" x2="344.3" y2="440.28" stroke="#88878c" stroke-width="0.65"/>
<line x1="345.91" y1="429.26" x2="345.91" y2="441.15" stroke="#88878c" stroke-width="0.65"/>
<line x1="344.91" y1="429.26" x2="346.91" y2="429.26" stroke="#88878c" stroke-width="0.65"/>
<line x1="344.91" y1="441.15" x2="346.91" y2="441.15" stroke="#88878c" stroke-width="0.65"/>
<line x1="348.51" y1="437.16" x2="348.51" y2="439.21" stroke="#88878c" stroke-width="0.65"/>
<line x1="347.51" y1="437.16" x2="349.51" y2="437.16" stroke="#88878c" stroke-width="0.65"/>
<line x1="347.51" y1="439.21" x2="349.51" y2="439.21" stroke="#88878c" stroke-width="0.65"/>
<line x1="351.12" y1="434.06" x2="351.12" y2="440.98" stroke="#88878c" stroke-width="0.65"/>
<line x1="350.12" y1="434.06" x2="352.12" y2="434.06" stroke="#88878c" stroke-width="0.65"/>
<line x1="350.12" y1="440.98" x2="352.12" y2="440.98" stroke="#88878c" stroke-width="0.65"/>
<line x1="353.72" y1="439.51" x2="353.72" y2="441.56" stroke="#88878c" stroke-width="0.65"/>
<line x1="352.72" y1="439.51" x2="354.72" y2="439.51" stroke="#88878c" stroke-width="0.65"/>
<line x1="352.72" y1="441.56" x2="354.72" y2="441.56" stroke="#88878c" stroke-width="0.65"/>
<line x1="356.33" y1="433.62" x2="356.33" y2="442.33" stroke="#88878c" stroke-width="0.65"/>
<line x1="355.33" y1="433.62" x2="357.33" y2="433.62" stroke="#88878c" stroke-width="0.65"/>
<line x1="355.33" y1="442.33" x2="357.33" y2="442.33" stroke="#88878c" stroke-width="0.65"/>
<line x1="358.93" y1="439.4" x2="358.93" y2="442.85" stroke="#88878c" stroke-width="0.65"/>
<line x1="357.93" y1="439.4" x2="359.93" y2="439.4" stroke="#88878c" stroke-width="0.65"/>
<line x1="357.93" y1="442.85" x2="359.93" y2="442.85" stroke="#88878c" stroke-width="0.65"/>
<line x1="361.53" y1="433.83" x2="361.53" y2="445.92" stroke="#88878c" stroke-width="0.65"/>
<line x1="360.53" y1="433.83" x2="362.53" y2="433.83" stroke="#88878c" stroke-width="0.65"/>
<line x1="360.53" y1="445.92" x2="362.53" y2="445.92" stroke="#88878c" stroke-width="0.65"/>
<line x1="364.14" y1="428.27" x2="364.14" y2="442.76" stroke="#88878c" stroke-width="0.65"/>
<line x1="363.14" y1="428.27" x2="365.14" y2="428.27" stroke="#88878c" stroke-width="0.65"/>
<line x1="363.14" y1="442.76" x2="365.14" y2="442.76" stroke="#88878c" stroke-width="0.65"/>
<line x1="366.74" y1="438.87" x2="366.74" y2="444.21" stroke="#88878c" stroke-width="0.65"/>
<line x1="365.74" y1="438.87" x2="367.74" y2="438.87" stroke="#88878c" stroke-width="0.65"/>
<line x1="365.74" y1="444.21" x2="367.74" y2="444.21" stroke="#88878c" stroke-width="0.65"/>
<line x1="369.35" y1="428.85" x2="369.35" y2="443.8" stroke="#88878c" stroke-width="0.65"/>
<line x1="368.35" y1="428.85" x2="370.35" y2="428.85" stroke="#88878c" stroke-width="0.65"/>
<line x1="368.35" y1="443.8" x2="370.35" y2="443.8" stroke="#88878c" stroke-width="0.65"/>
<line x1="371.95" y1="435.66" x2="371.95" y2="438.93" stroke="#88878c" stroke-width="0.65"/>
<line x1="370.95" y1="435.66" x2="372.95" y2="435.66" stroke="#88878c" stroke-width="0.65"/>
<line x1="370.95" y1="438.93" x2="372.95" y2="438.93" stroke="#88878c" stroke-width="0.65"/>
<line x1="374.56" y1="437.52" x2="374.56" y2="439.62" stroke="#88878c" stroke-width="0.65"/>
<line x1="373.56" y1="437.52" x2="375.56" y2="437.52" stroke="#88878c" stroke-width="0.65"/>
<line x1="373.56" y1="439.62" x2="375.56" y2="439.62" stroke="#88878c" stroke-width="0.65"/>
<line x1="377.16" y1="433.99" x2="377.16" y2="440.68" stroke="#88878c" stroke-width="0.65"/>
<line x1="376.16" y1="433.99" x2="378.16" y2="433.99" stroke="#88878c" stroke-width="0.65"/>
<line x1="376.16" y1="440.68" x2="378.16" y2="440.68" stroke="#88878c" stroke-width="0.65"/>
<line x1="379.77" y1="436.4" x2="379.77" y2="438.43" stroke="#88878c" stroke-width="0.65"/>
<line x1="378.77" y1="436.4" x2="380.77" y2="436.4" stroke="#88878c" stroke-width="0.65"/>
<line x1="378.77" y1="438.43" x2="380.77" y2="438.43" stroke="#88878c" stroke-width="0.65"/>
<line x1="382.37" y1="435.43" x2="382.37" y2="437.96" stroke="#88878c" stroke-width="0.65"/>
<line x1="381.37" y1="435.43" x2="383.37" y2="435.43" stroke="#88878c" stroke-width="0.65"/>
<line x1="381.37" y1="437.96" x2="383.37" y2="437.96" stroke="#88878c" stroke-width="0.65"/>
<line x1="384.98" y1="437.08" x2="384.98" y2="441.26" stroke="#88878c" stroke-width="0.65"/>
<line x1="383.98" y1="437.08" x2="385.98" y2="437.08" stroke="#88878c" stroke-width="0.65"/>
<line x1="383.98" y1="441.26" x2="385.98" y2="441.26" stroke="#88878c" stroke-width="0.65"/>
<line x1="387.58" y1="436.58" x2="387.58" y2="443.44" stroke="#88878c" stroke-width="0.65"/>
<line x1="386.58" y1="436.58" x2="388.58" y2="436.58" stroke="#88878c" stroke-width="0.65"/>
<line x1="386.58" y1="443.44" x2="388.58" y2="443.44" stroke="#88878c" stroke-width="0.65"/>
<line x1="390.19" y1="439.06" x2="390.19" y2="441.41" stroke="#88878c" stroke-width="0.65"/>
<line x1="389.19" y1="439.06" x2="391.19" y2="439.06" stroke="#88878c" stroke-width="0.65"/>
<line x1="389.19" y1="441.41" x2="391.19" y2="441.41" stroke="#88878c" stroke-width="0.65"/>
<line x1="392.79" y1="440.09" x2="392.79" y2="442.14" stroke="#88878c" stroke-width="0.65"/>
<line x1="391.79" y1="440.09" x2="393.79" y2="440.09" stroke="#88878c" stroke-width="0.65"/>
<line x1="391.79" y1="442.14" x2="393.79" y2="442.14" stroke="#88878c" stroke-width="0.65"/>
<line x1="395.4" y1="433.75" x2="395.4" y2="445.53" stroke="#88878c" stroke-width="0.65"/>
<line x1="394.4" y1="433.75" x2="396.4" y2="433.75" stroke="#88878c" stroke-width="0.65"/>
<line x1="394.4" y1="445.53" x2="396.4" y2="445.53" stroke="#88878c" stroke-width="0.65"/>
<line x1="398" y1="439.51" x2="398" y2="442.81" stroke="#88878c" stroke-width="0.65"/>
<line x1="397" y1="439.51" x2="399" y2="439.51" stroke="#88878c" stroke-width="0.65"/>
<line x1="397" y1="442.81" x2="399" y2="442.81" stroke="#88878c" stroke-width="0.65"/>
<path d="M278.19,428.25 L280.79,425.91 L283.4,429.51 L286,425.79 L288.6,427.73 L291.21,427.45 L293.81,423.98 L296.42,428.69 L299.02,430.21 L301.63,429.1 L304.23,428.66 L306.84,430.99 L309.44,430.15 L312.05,433.2 L314.65,432.2 L317.26,431.93 L319.86,433.12 L322.47,433.03 L325.07,433.14 L327.67,431.47 L330.28,432.15 L332.88,433.22 L335.49,433.33 L338.09,436.63 L340.7,435.2 L343.3,435.43 L345.91,435.21 L348.51,438.19 L351.12,437.52 L353.72,440.54 L356.33,437.98 L358.93,441.13 L361.53,439.88 L364.14,435.52 L366.74,441.54 L369.35,436.32 L371.95,437.3 L374.56,438.57 L377.16,437.34 L379.77,437.41 L382.37,436.69 L384.98,439.17 L387.58,440.01 L390.19,440.24 L392.79,441.12 L395.4,439.64 L398,441.16" stroke="#88878c" stroke-width="1.2" fill="none"/>
<circle cx="278.19" cy="428.25" r="2.07" fill="#88878c" stroke="none" stroke-width="1"/>
<circle cx="280.79" cy="425.91" r="2.07" fill="#88878c" stroke="none" stroke-width="1"/>
<circle cx="283.4" cy="429.51" r="2.07" fill="#88878c" stroke="none" stroke-width="1"/>
<circle cx="286" cy="425.79" r="2.07" fill="#88878c" stroke="none" stroke-width="1"/>
<circle cx="288.6" cy="427.73" r="2.07" fill="#88878c" stroke="none" stroke-width="1"/>
<circle cx="291.21" cy="427.45" r="2.07" fill="#88878c" stroke="none" stroke-width="1"/>
<circle cx="293.81" cy="423.98" r="2.07" fill="#88878c" stroke="none" stroke-width="1"/>
<circle cx="296.42" cy="428.69" r="2.07" fill="#88878c" stroke="none" stroke-width="1"/>
<circle cx="299.02" cy="430.21" r="2.07" fill="#88878c" stroke="none" stroke-width="1"/>
<circle cx="301.63" cy="429.1" r="2.07" fill="#88878c" stroke="none" stroke-width="1"/>
<circle cx="304.23" cy="428.66" r="2.07" fill="#88878c" stroke="none" stroke-width="1"/>
<circle cx="306.84" cy="430.99" r="2.07" fill="#88878c" stroke="none" stroke-width="1"/>
<circle cx="309.44" cy="430.15" r="2.07" fill="#88878c" stroke="none" stroke-width="1"/>
<circle cx="312.05" cy="433.2" r="2.07" fill="#88878c" stroke="none" stroke-width="1"/>
<circle cx="314.65" cy="432.2" r="2.07" fill="#88878c" stroke="none" stroke-width="1"/>
<circle cx="317.26" cy="431.93" r="2.07" fill="#88878c" stroke="none" stroke-width="1"/>
<circle cx="319.86" cy="433.12" r="2.07" fill="#88878c" stroke="none" stroke-width="1"/>
<circle cx="322.47" cy="433.03" r="2.07" fill="#88878c" stroke="none" stroke-width="1"/>
<circle cx="325.07" cy="433.14" r="2.07" fill="#88878c" stroke="none" stroke-width="1"/>
<circle cx="327.67" cy="431.47" r="2.07" fill="#88878c" stroke="none" stroke-width="1"/>
<circle cx="330.28" cy="432.15" r="2.07" fill="#88878c" stroke="none" stroke-width="1"/>
<circle cx="332.88" cy="433.22" r="2.07" fill="#88878c" stroke="none" stroke-width="1"/>
<circle cx="335.49" cy="433.33" r="2.07" fill="#88878c" stroke="none" stroke-width="1"/>
<circle cx="338.09" cy="436.63" r="2.07" fill="#88878c" stroke="none" stroke-width="1"/>
<circle cx="340.7" cy="435.2" r="2.07" fill="#88878c" stroke="none" stroke-width="1"/>
<circle cx="343.3" cy="435.43" r="2.07" fill="#88878c" stroke="none" stroke-width="1"/>
<circle cx="345.91" cy="435.21" r="2.07" fill="#88878c" stroke="none" stroke-width="1"/>
<circle cx="348.51" cy="438.19" r="2.07" fill="#88878c" stroke="none" stroke-width="1"/>
<circle cx="351.12" cy="437.52" r="2.07" fill="#88878c" stroke="none" stroke-width="1"/>
<circle cx="353.72" cy="440.54" r="2.07" fill="#88878c" stroke="none" stroke-width="1"/>
<circle cx="356.33" cy="437.98" r="2.07" fill="#88878c" stroke="none" stroke-width="1"/>
<circle cx="358.93" cy="441.13" r="2.07" fill="#88878c" stroke="none" stroke-width="1"/>
<circle cx="361.53" cy="439.88" r="2.07" fill="#88878c" stroke="none" stroke-width="1"/>
<circle cx="364.14" cy="435.52" r="2.07" fill="#88878c" stroke="none" stroke-width="1"/>
<circle cx="366.74" cy="441.54" r="2.07" fill="#88878c" stroke="none" stroke-width="1"/>
<circle cx="369.35" cy="436.32" r="2.07" fill="#88878c" stroke="none" stroke-width="1"/>
<circle cx="371.95" cy="437.3" r="2.07" fill="#88878c" stroke="none" stroke-width="1"/>
<circle cx="374.56" cy="438.57" r="2.07" fill="#88878c" stroke="none" stroke-width="1"/>
<circle cx="377.16" cy="437.34" r="2.07" fill="#88878c" stroke="none" stroke-width="1"/>
<circle cx="379.77" cy="437.41" r="2.07" fill="#88878c" stroke="none" stroke-width="1"/>
<circle cx="382.37" cy="436.69" r="2.07" fill="#88878c" stroke="none" stroke-width="1"/>
<circle cx="384.98" cy="439.17" r="2.07" fill="#88878c" stroke="none" stroke-width="1"/>
<circle cx="387.58" cy="440.01" r="2.07" fill="#88878c" stroke="none" stroke-width="1"/>
<circle cx="390.19" cy="440.24" r="2.07" fill="#88878c" stroke="none" stroke-width="1"/>
<circle cx="392.79" cy="441.12" r="2.07" fill="#88878c" stroke="none" stroke-width="1"/>
<circle cx="395.4" cy="439.64" r="2.07" fill="#88878c" stroke="none" stroke-width="1"/>
<circle cx="398" cy="441.16" r="2.07" fill="#88878c" stroke="none" stroke-width="1"/>
<line x1="278.19" y1="427.54" x2="278.19" y2="429.18" stroke="#f7931e" stroke-width="0.65"/>
<line x1="277.19" y1="427.54" x2="279.19" y2="427.54" stroke="#f7931e" stroke-width="0.65"/>
<line x1="277.19" y1="429.18" x2="279.19" y2="429.18" stroke="#f7931e" stroke-width="0.65"/>
<line x1="280.79" y1="424.17" x2="280.79" y2="429.86" stroke="#f7931e" stroke-width="0.65"/>
<line x1="279.79" y1="424.17" x2="281.79" y2="424.17" stroke="#f7931e" stroke-width="0.65"/>
<line x1="279.79" y1="429.86" x2="281.79" y2="429.86" stroke="#f7931e" stroke-width="0.65"/>
<line x1="283.4" y1="426.41" x2="283.4" y2="428.85" stroke="#f7931e" stroke-width="0.65"/>
<line x1="282.4" y1="426.41" x2="284.4" y2="426.41" stroke="#f7931e" stroke-width="0.65"/>
<line x1="282.4" y1="428.85" x2="284.4" y2="428.85" stroke="#f7931e" stroke-width="0.65"/>
<line x1="286" y1="423.42" x2="286" y2="428.01" stroke="#f7931e" stroke-width="0.65"/>
<line x1="285" y1="423.42" x2="287" y2="423.42" stroke="#f7931e" stroke-width="0.65"/>
<line x1="285" y1="428.01" x2="287" y2="428.01" stroke="#f7931e" stroke-width="0.65"/>
<line x1="288.6" y1="422.19" x2="288.6" y2="426.11" stroke="#f7931e" stroke-width="0.65"/>
<line x1="287.6" y1="422.19" x2="289.6" y2="422.19" stroke="#f7931e" stroke-width="0.65"/>
<line x1="287.6" y1="426.11" x2="289.6" y2="426.11" stroke="#f7931e" stroke-width="0.65"/>
<line x1="291.21" y1="423.16" x2="291.21" y2="426" stroke="#f7931e" stroke-width="0.65"/>
<line x1="290.21" y1="423.16" x2="292.21" y2="423.16" stroke="#f7931e" stroke-width="0.65"/>
<line x1="290.21" y1="426" x2="292.21" y2="426" stroke="#f7931e" stroke-width="0.65"/>
<line x1="293.81" y1="422.57" x2="293.81" y2="434.5" stroke="#f7931e" stroke-width="0.65"/>
<line x1="292.81" y1="422.57" x2="294.81" y2="422.57" stroke="#f7931e" stroke-width="0.65"/>
<line x1="292.81" y1="434.5" x2="294.81" y2="434.5" stroke="#f7931e" stroke-width="0.65"/>
<line x1="296.42" y1="445.84" x2="296.42" y2="447.86" stroke="#f7931e" stroke-width="0.65"/>
<line x1="295.42" y1="445.84" x2="297.42" y2="445.84" stroke="#f7931e" stroke-width="0.65"/>
<line x1="295.42" y1="447.86" x2="297.42" y2="447.86" stroke="#f7931e" stroke-width="0.65"/>
<line x1="299.02" y1="450.46" x2="299.02" y2="453.85" stroke="#f7931e" stroke-width="0.65"/>
<line x1="298.02" y1="450.46" x2="300.02" y2="450.46" stroke="#f7931e" stroke-width="0.65"/>
<line x1="298.02" y1="453.85" x2="300.02" y2="453.85" stroke="#f7931e" stroke-width="0.65"/>
<line x1="301.63" y1="455.53" x2="301.63" y2="457.57" stroke="#f7931e" stroke-width="0.65"/>
<line x1="300.63" y1="455.53" x2="302.63" y2="455.53" stroke="#f7931e" stroke-width="0.65"/>
<line x1="300.63" y1="457.57" x2="302.63" y2="457.57" stroke="#f7931e" stroke-width="0.65"/>
<line x1="304.23" y1="455.81" x2="304.23" y2="461.58" stroke="#f7931e" stroke-width="0.65"/>
<line x1="303.23" y1="455.81" x2="305.23" y2="455.81" stroke="#f7931e" stroke-width="0.65"/>
<line x1="303.23" y1="461.58" x2="305.23" y2="461.58" stroke="#f7931e" stroke-width="0.65"/>
<line x1="306.84" y1="456.51" x2="306.84" y2="458.92" stroke="#f7931e" stroke-width="0.65"/>
<line x1="305.84" y1="456.51" x2="307.84" y2="456.51" stroke="#f7931e" stroke-width="0.65"/>
<line x1="305.84" y1="458.92" x2="307.84" y2="458.92" stroke="#f7931e" stroke-width="0.65"/>
<line x1="309.44" y1="455.56" x2="309.44" y2="458.49" stroke="#f7931e" stroke-width="0.65"/>
<line x1="308.44" y1="455.56" x2="310.44" y2="455.56" stroke="#f7931e" stroke-width="0.65"/>
<line x1="308.44" y1="458.49" x2="310.44" y2="458.49" stroke="#f7931e" stroke-width="0.65"/>
<line x1="312.05" y1="452.93" x2="312.05" y2="460.34" stroke="#f7931e" stroke-width="0.65"/>
<line x1="311.05" y1="452.93" x2="313.05" y2="452.93" stroke="#f7931e" stroke-width="0.65"/>
<line x1="311.05" y1="460.34" x2="313.05" y2="460.34" stroke="#f7931e" stroke-width="0.65"/>
<line x1="314.65" y1="455.06" x2="314.65" y2="457.75" stroke="#f7931e" stroke-width="0.65"/>
<line x1="313.65" y1="455.06" x2="315.65" y2="455.06" stroke="#f7931e" stroke-width="0.65"/>
<line x1="313.65" y1="457.75" x2="315.65" y2="457.75" stroke="#f7931e" stroke-width="0.65"/>
<line x1="317.26" y1="451.36" x2="317.26" y2="456.22" stroke="#f7931e" stroke-width="0.65"/>
<line x1="316.26" y1="451.36" x2="318.26" y2="451.36" stroke="#f7931e" stroke-width="0.65"/>
<line x1="316.26" y1="456.22" x2="318.26" y2="456.22" stroke="#f7931e" stroke-width="0.65"/>
<line x1="319.86" y1="450.64" x2="319.86" y2="460.74" stroke="#f7931e" stroke-width="0.65"/>
<line x1="318.86" y1="450.64" x2="320.86" y2="450.64" stroke="#f7931e" stroke-width="0.65"/>
<line x1="318.86" y1="460.74" x2="320.86" y2="460.74" stroke="#f7931e" stroke-width="0.65"/>
<line x1="322.47" y1="458.31" x2="322.47" y2="460.03" stroke="#f7931e" stroke-width="0.65"/>
<line x1="321.47" y1="458.31" x2="323.47" y2="458.31" stroke="#f7931e" stroke-width="0.65"/>
<line x1="321.47" y1="460.03" x2="323.47" y2="460.03" stroke="#f7931e" stroke-width="0.65"/>
<line x1="325.07" y1="455.59" x2="325.07" y2="457.25" stroke="#f7931e" stroke-width="0.65"/>
<line x1="324.07" y1="455.59" x2="326.07" y2="455.59" stroke="#f7931e" stroke-width="0.65"/>
<line x1="324.07" y1="457.25" x2="326.07" y2="457.25" stroke="#f7931e" stroke-width="0.65"/>
<line x1="327.67" y1="456.35" x2="327.67" y2="458.51" stroke="#f7931e" stroke-width="0.65"/>
<line x1="326.67" y1="456.35" x2="328.67" y2="456.35" stroke="#f7931e" stroke-width="0.65"/>
<line x1="326.67" y1="458.51" x2="328.67" y2="458.51" stroke="#f7931e" stroke-width="0.65"/>
<line x1="330.28" y1="453.23" x2="330.28" y2="460.92" stroke="#f7931e" stroke-width="0.65"/>
<line x1="329.28" y1="453.23" x2="331.28" y2="453.23" stroke="#f7931e" stroke-width="0.65"/>
<line x1="329.28" y1="460.92" x2="331.28" y2="460.92" stroke="#f7931e" stroke-width="0.65"/>
<line x1="332.88" y1="451.44" x2="332.88" y2="456.99" stroke="#f7931e" stroke-width="0.65"/>
<line x1="331.88" y1="451.44" x2="333.88" y2="451.44" stroke="#f7931e" stroke-width="0.65"/>
<line x1="331.88" y1="456.99" x2="333.88" y2="456.99" stroke="#f7931e" stroke-width="0.65"/>
<line x1="335.49" y1="455.14" x2="335.49" y2="457.34" stroke="#f7931e" stroke-width="0.65"/>
<line x1="334.49" y1="455.14" x2="336.49" y2="455.14" stroke="#f7931e" stroke-width="0.65"/>
<line x1="334.49" y1="457.34" x2="336.49" y2="457.34" stroke="#f7931e" stroke-width="0.65"/>
<line x1="338.09" y1="457.18" x2="338.09" y2="459.94" stroke="#f7931e" stroke-width="0.65"/>
<line x1="337.09" y1="457.18" x2="339.09" y2="457.18" stroke="#f7931e" stroke-width="0.65"/>
<line x1="337.09" y1="459.94" x2="339.09" y2="459.94" stroke="#f7931e" stroke-width="0.65"/>
<line x1="340.7" y1="454.09" x2="340.7" y2="456.04" stroke="#f7931e" stroke-width="0.65"/>
<line x1="339.7" y1="454.09" x2="341.7" y2="454.09" stroke="#f7931e" stroke-width="0.65"/>
<line x1="339.7" y1="456.04" x2="341.7" y2="456.04" stroke="#f7931e" stroke-width="0.65"/>
<line x1="343.3" y1="453.84" x2="343.3" y2="457.64" stroke="#f7931e" stroke-width="0.65"/>
<line x1="342.3" y1="453.84" x2="344.3" y2="453.84" stroke="#f7931e" stroke-width="0.65"/>
<line x1="342.3" y1="457.64" x2="344.3" y2="457.64" stroke="#f7931e" stroke-width="0.65"/>
<line x1="345.91" y1="456.01" x2="345.91" y2="457.65" stroke="#f7931e" stroke-width="0.65"/>
<line x1="344.91" y1="456.01" x2="346.91" y2="456.01" stroke="#f7931e" stroke-width="0.65"/>
<line x1="344.91" y1="457.65" x2="346.91" y2="457.65" stroke="#f7931e" stroke-width="0.65"/>
<line x1="348.51" y1="452.93" x2="348.51" y2="459.59" stroke="#f7931e" stroke-width="0.65"/>
<line x1="347.51" y1="452.93" x2="349.51" y2="452.93" stroke="#f7931e" stroke-width="0.65"/>
<line x1="347.51" y1="459.59" x2="349.51" y2="459.59" stroke="#f7931e" stroke-width="0.65"/>
<line x1="351.12" y1="450.65" x2="351.12" y2="460.6" stroke="#f7931e" stroke-width="0.65"/>
<line x1="350.12" y1="450.65" x2="352.12" y2="450.65" stroke="#f7931e" stroke-width="0.65"/>
<line x1="350.12" y1="460.6" x2="352.12" y2="460.6" stroke="#f7931e" stroke-width="0.65"/>
<line x1="353.72" y1="449.01" x2="353.72" y2="460.08" stroke="#f7931e" stroke-width="0.65"/>
<line x1="352.72" y1="449.01" x2="354.72" y2="449.01" stroke="#f7931e" stroke-width="0.65"/>
<line x1="352.72" y1="460.08" x2="354.72" y2="460.08" stroke="#f7931e" stroke-width="0.65"/>
<line x1="356.33" y1="451.38" x2="356.33" y2="458.59" stroke="#f7931e" stroke-width="0.65"/>
<line x1="355.33" y1="451.38" x2="357.33" y2="451.38" stroke="#f7931e" stroke-width="0.65"/>
<line x1="355.33" y1="458.59" x2="357.33" y2="458.59" stroke="#f7931e" stroke-width="0.65"/>
<line x1="358.93" y1="448.83" x2="358.93" y2="460.01" stroke="#f7931e" stroke-width="0.65"/>
<line x1="357.93" y1="448.83" x2="359.93" y2="448.83" stroke="#f7931e" stroke-width="0.65"/>
<line x1="357.93" y1="460.01" x2="359.93" y2="460.01" stroke="#f7931e" stroke-width="0.65"/>
<line x1="361.53" y1="451.19" x2="361.53" y2="452.82" stroke="#f7931e" stroke-width="0.65"/>
<line x1="360.53" y1="451.19" x2="362.53" y2="451.19" stroke="#f7931e" stroke-width="0.65"/>
<line x1="360.53" y1="452.82" x2="362.53" y2="452.82" stroke="#f7931e" stroke-width="0.65"/>
<line x1="364.14" y1="454.77" x2="364.14" y2="457.25" stroke="#f7931e" stroke-width="0.65"/>
<line x1="363.14" y1="454.77" x2="365.14" y2="454.77" stroke="#f7931e" stroke-width="0.65"/>
<line x1="363.14" y1="457.25" x2="365.14" y2="457.25" stroke="#f7931e" stroke-width="0.65"/>
<line x1="366.74" y1="450.53" x2="366.74" y2="461.83" stroke="#f7931e" stroke-width="0.65"/>
<line x1="365.74" y1="450.53" x2="367.74" y2="450.53" stroke="#f7931e" stroke-width="0.65"/>
<line x1="365.74" y1="461.83" x2="367.74" y2="461.83" stroke="#f7931e" stroke-width="0.65"/>
<line x1="369.35" y1="451.6" x2="369.35" y2="459.45" stroke="#f7931e" stroke-width="0.65"/>
<line x1="368.35" y1="451.6" x2="370.35" y2="451.6" stroke="#f7931e" stroke-width="0.65"/>
<line x1="368.35" y1="459.45" x2="370.35" y2="459.45" stroke="#f7931e" stroke-width="0.65"/>
<line x1="371.95" y1="452.05" x2="371.95" y2="455.41" stroke="#f7931e" stroke-width="0.65"/>
<line x1="370.95" y1="452.05" x2="372.95" y2="452.05" stroke="#f7931e" stroke-width="0.65"/>
<line x1="370.95" y1="455.41" x2="372.95" y2="455.41" stroke="#f7931e" stroke-width="0.65"/>
<line x1="374.56" y1="451.09" x2="374.56" y2="461.94" stroke="#f7931e" stroke-width="0.65"/>
<line x1="373.56" y1="451.09" x2="375.56" y2="451.09" stroke="#f7931e" stroke-width="0.65"/>
<line x1="373.56" y1="461.94" x2="375.56" y2="461.94" stroke="#f7931e" stroke-width="0.65"/>
<line x1="377.16" y1="450.75" x2="377.16" y2="456.36" stroke="#f7931e" stroke-width="0.65"/>
<line x1="376.16" y1="450.75" x2="378.16" y2="450.75" stroke="#f7931e" stroke-width="0.65"/>
<line x1="376.16" y1="456.36" x2="378.16" y2="456.36" stroke="#f7931e" stroke-width="0.65"/>
<line x1="379.77" y1="453.44" x2="379.77" y2="461.99" stroke="#f7931e" stroke-width="0.65"/>
<line x1="378.77" y1="453.44" x2="380.77" y2="453.44" stroke="#f7931e" stroke-width="0.65"/>
<line x1="378.77" y1="461.99" x2="380.77" y2="461.99" stroke="#f7931e" stroke-width="0.65"/>
<line x1="382.37" y1="456.12" x2="382.37" y2="458.64" stroke="#f7931e" stroke-width="0.65"/>
<line x1="381.37" y1="456.12" x2="383.37" y2="456.12" stroke="#f7931e" stroke-width="0.65"/>
<line x1="381.37" y1="458.64" x2="383.37" y2="458.64" stroke="#f7931e" stroke-width="0.65"/>
<line x1="384.98" y1="453.35" x2="384.98" y2="455.35" stroke="#f7931e" stroke-width="0.65"/>
<line x1="383.98" y1="453.35" x2="385.98" y2="453.35" stroke="#f7931e" stroke-width="0.65"/>
<line x1="383.98" y1="455.35" x2="385.98" y2="455.35" stroke="#f7931e" stroke-width="0.65"/>
<line x1="387.58" y1="452.17" x2="387.58" y2="455.84" stroke="#f7931e" stroke-width="0.65"/>
<line x1="386.58" y1="452.17" x2="388.58" y2="452.17" stroke="#f7931e" stroke-width="0.65"/>
<line x1="386.58" y1="455.84" x2="388.58" y2="455.84" stroke="#f7931e" stroke-width="0.65"/>
<line x1="390.19" y1="453.55" x2="390.19" y2="455.36" stroke="#f7931e" stroke-width="0.65"/>
<line x1="389.19" y1="453.55" x2="391.19" y2="453.55" stroke="#f7931e" stroke-width="0.65"/>
<line x1="389.19" y1="455.36" x2="391.19" y2="455.36" stroke="#f7931e" stroke-width="0.65"/>
<line x1="392.79" y1="452.13" x2="392.79" y2="455.26" stroke="#f7931e" stroke-width="0.65"/>
<line x1="391.79" y1="452.13" x2="393.79" y2="452.13" stroke="#f7931e" stroke-width="0.65"/>
<line x1="391.79" y1="455.26" x2="393.79" y2="455.26" stroke="#f7931e" stroke-width="0.65"/>
<line x1="395.4" y1="448.5" x2="395.4" y2="459.71" stroke="#f7931e" stroke-width="0.65"/>
<line x1="394.4" y1="448.5" x2="396.4" y2="448.5" stroke="#f7931e" stroke-width="0.65"/>
<line x1="394.4" y1="459.71" x2="396.4" y2="459.71" stroke="#f7931e" stroke-width="0.65"/>
<line x1="398" y1="454.41" x2="398" y2="457.17" stroke="#f7931e" stroke-width="0.65"/>
<line x1="397" y1="454.41" x2="399" y2="454.41" stroke="#f7931e" stroke-width="0.65"/>
<line x1="397" y1="457.17" x2="399" y2="457.17" stroke="#f7931e" stroke-width="0.65"/>
<path d="M278.19,428.36 L280.79,427.01 L283.4,427.63 L286,425.72 L288.6,424.15 L291.21,424.58 L293.81,428.54 L296.42,446.85 L299.02,452.15 L301.63,456.55 L304.23,458.69 L306.84,457.72 L309.44,457.02 L312.05,456.64 L314.65,456.41 L317.26,453.79 L319.86,455.69 L322.47,459.17 L325.07,456.42 L327.67,457.43 L330.28,457.07 L332.88,454.21 L335.49,456.24 L338.09,458.56 L340.7,455.06 L343.3,455.74 L345.91,456.83 L348.51,456.26 L351.12,455.62 L353.72,454.55 L356.33,454.98 L358.93,454.42 L361.53,452.01 L364.14,456.01 L366.74,456.18 L369.35,455.53 L371.95,453.73 L374.56,456.52 L377.16,453.56 L379.77,457.72 L382.37,457.38 L384.98,454.35 L387.58,454.01 L390.19,454.45 L392.79,453.7 L395.4,454.1 L398,455.79" stroke="#f7931e" stroke-width="1.2" fill="none"/>
<rect x="276" y="426.18" width="4.37" height="4.37" fill="#f7931e" stroke="none" stroke-width="0"/>
<rect x="278.61" y="424.83" width="4.37" height="4.37" fill="#f7931e" stroke="none" stroke-width="0"/>
<rect x="281.21" y="425.45" width="4.37" height="4.37" fill="#f7931e" stroke="none" stroke-width="0"/>
<rect x="283.81" y="423.53" width="4.37" height="4.37" fill="#f7931e" stroke="none" stroke-width="0"/>
<rect x="286.42" y="421.96" width="4.37" height="4.37" fill="#f7931e" stroke="none" stroke-width="0"/>
<rect x="289.02" y="422.4" width="4.37" height="4.37" fill="#f7931e" stroke="none" stroke-width="0"/>
<rect x="291.63" y="426.35" width="4.37" height="4.37" fill="#f7931e" stroke="none" stroke-width="0"/>
<rect x="294.23" y="444.66" width="4.37" height="4.37" fill="#f7931e" stroke="none" stroke-width="0"/>
<rect x="296.84" y="449.97" width="4.37" height="4.37" fill="#f7931e" stroke="none" stroke-width="0"/>
<rect x="299.44" y="454.36" width="4.37" height="4.37" fill="#f7931e" stroke="none" stroke-width="0"/>
<rect x="302.05" y="456.51" width="4.37" height="4.37" fill="#f7931e" stroke="none" stroke-width="0"/>
<rect x="304.65" y="455.53" width="4.37" height="4.37" fill="#f7931e" stroke="none" stroke-width="0"/>
<rect x="307.26" y="454.84" width="4.37" height="4.37" fill="#f7931e" stroke="none" stroke-width="0"/>
<rect x="309.86" y="454.45" width="4.37" height="4.37" fill="#f7931e" stroke="none" stroke-width="0"/>
<rect x="312.47" y="454.22" width="4.37" height="4.37" fill="#f7931e" stroke="none" stroke-width="0"/>
<rect x="315.07" y="451.6" width="4.37" height="4.37" fill="#f7931e" stroke="none" stroke-width="0"/>
<rect x="317.68" y="453.5" width="4.37" height="4.37" fill="#f7931e" stroke="none" stroke-width="0"/>
<rect x="320.28" y="456.99" width="4.37" height="4.37" fill="#f7931e" stroke="none" stroke-width="0"/>
<rect x="322.88" y="454.24" width="4.37" height="4.37" fill="#f7931e" stroke="none" stroke-width="0"/>
<rect x="325.49" y="455.24" width="4.37" height="4.37" fill="#f7931e" stroke="none" stroke-width="0"/>
<rect x="328.09" y="454.89" width="4.37" height="4.37" fill="#f7931e" stroke="none" stroke-width="0"/>
<rect x="330.7" y="452.03" width="4.37" height="4.37" fill="#f7931e" stroke="none" stroke-width="0"/>
<rect x="333.3" y="454.06" width="4.37" height="4.37" fill="#f7931e" stroke="none" stroke-width="0"/>
<rect x="335.91" y="456.38" width="4.37" height="4.37" fill="#f7931e" stroke="none" stroke-width="0"/>
<rect x="338.51" y="452.88" width="4.37" height="4.37" fill="#f7931e" stroke="none" stroke-width="0"/>
<rect x="341.12" y="453.56" width="4.37" height="4.37" fill="#f7931e" stroke="none" stroke-width="0"/>
<rect x="343.72" y="454.64" width="4.37" height="4.37" fill="#f7931e" stroke="none" stroke-width="0"/>
<rect x="346.33" y="454.07" width="4.37" height="4.37" fill="#f7931e" stroke="none" stroke-width="0"/>
<rect x="348.93" y="453.44" width="4.37" height="4.37" fill="#f7931e" stroke="none" stroke-width="0"/>
<rect x="351.54" y="452.36" width="4.37" height="4.37" fill="#f7931e" stroke="none" stroke-width="0"/>
<rect x="354.14" y="452.8" width="4.37" height="4.37" fill="#f7931e" stroke="none" stroke-width="0"/>
<rect x="356.75" y="452.23" width="4.37" height="4.37" fill="#f7931e" stroke="none" stroke-width="0"/>
<rect x="359.35" y="449.82" width="4.37" height="4.37" fill="#f7931e" stroke="none" stroke-width="0"/>
<rect x="361.95" y="453.83" width="4.37" height="4.37" fill="#f7931e" stroke="none" stroke-width="0"/>
<rect x="364.56" y="454" width="4.37" height="4.37" fill="#f7931e" stroke="none" stroke-width="0"/>
<rect x="367.16" y="453.34" width="4.37" height="4.37" fill="#f7931e" stroke="none" stroke-width="0"/>
<rect x="369.77" y="451.54" width="4.37" height="4.37" fill="#f7931e" stroke="none" stroke-width="0"/>
<rect x="372.37" y="454.33" width="4.37" height="4.37" fill="#f7931e" stroke="none" stroke-width="0"/>
<rect x="374.98" y="451.37" width="4.37" height="4.37" fill="#f7931e" stroke="none" stroke-width="0"/>
<rect x="377.58" y="455.53" width="4.37" height="4.37" fill="#f7931e" stroke="none" stroke-width="0"/>
<rect x="380.19" y="455.2" width="4.37" height="4.37" fill="#f7931e" stroke="none" stroke-width="0"/>
<rect x="382.79" y="452.16" width="4.37" height="4.37" fill="#f7931e" stroke="none" stroke-width="0"/>
<rect x="385.4" y="451.82" width="4.37" height="4.37" fill="#f7931e" stroke="none" stroke-width="0"/>
<rect x="388" y="452.27" width="4.37" height="4.37" fill="#f7931e" stroke="none" stroke-width="0"/>
<rect x="390.61" y="451.51" width="4.37" height="4.37" fill="#f7931e" stroke="none" stroke-width="0"/>
<rect x="393.21" y="451.92" width="4.37" height="4.37" fill="#f7931e" stroke="none" stroke-width="0"/>
<rect x="395.81" y="453.61" width="4.37" height="4.37" fill="#f7931e" stroke="none" stroke-width="0"/>
<line x1="277.1" y1="394.4" x2="277.1" y2="492.45" stroke="#000" stroke-width="1.7"/>
<line x1="272.7" y1="394.4" x2="277.1" y2="394.4" stroke="#000" stroke-width="1.7"/>
<text x="271.5" y="398.69" font-size="10.3" font-weight="bold" text-anchor="end" fill="#000">0.02</text>
<line x1="272.7" y1="426.8" x2="277.1" y2="426.8" stroke="#000" stroke-width="1.7"/>
<text x="271.5" y="431.09" font-size="10.3" font-weight="bold" text-anchor="end" fill="#000">0.00</text>
<line x1="272.7" y1="459.2" x2="277.1" y2="459.2" stroke="#000" stroke-width="1.7"/>
<text x="271.5" y="463.49" font-size="10.3" font-weight="bold" text-anchor="end" fill="#000">-0.02</text>
<line x1="272.7" y1="491.6" x2="277.1" y2="491.6" stroke="#000" stroke-width="1.7"/>
<text x="271.5" y="495.89" font-size="10.3" font-weight="bold" text-anchor="end" fill="#000">-0.04</text>
<line x1="276.25" y1="491.6" x2="398" y2="491.6" stroke="#000" stroke-width="1.7"/>
<line x1="292.9" y1="491.6" x2="292.9" y2="496" stroke="#000" stroke-width="1.7"/>
<text x="292.9" y="507.29" font-size="10.3" font-weight="bold" text-anchor="middle" fill="#000">0</text>
<line x1="313.92" y1="491.6" x2="313.92" y2="496" stroke="#000" stroke-width="1.7"/>
<text x="313.92" y="507.29" font-size="10.3" font-weight="bold" text-anchor="middle" fill="#000">2</text>
<line x1="334.94" y1="491.6" x2="334.94" y2="496" stroke="#000" stroke-width="1.7"/>
<text x="334.94" y="507.29" font-size="10.3" font-weight="bold" text-anchor="middle" fill="#000">4</text>
<line x1="355.96" y1="491.6" x2="355.96" y2="496" stroke="#000" stroke-width="1.7"/>
<text x="355.96" y="507.29" font-size="10.3" font-weight="bold" text-anchor="middle" fill="#000">6</text>
<line x1="376.98" y1="491.6" x2="376.98" y2="496" stroke="#000" stroke-width="1.7"/>
<text x="376.98" y="507.29" font-size="10.3" font-weight="bold" text-anchor="middle" fill="#000">8</text>
<line x1="398" y1="491.6" x2="398" y2="496" stroke="#000" stroke-width="1.7"/>
<text x="398" y="507.29" font-size="10.3" font-weight="bold" text-anchor="middle" fill="#000">10</text>
<text x="338.55" y="524.7" font-size="12" font-weight="bold" text-anchor="middle" fill="#000">Time (min)</text>
<text x="238.5" y="445.3" font-size="12" font-weight="bold" text-anchor="middle" fill="#000" transform="rotate(-90 238.5 441)">cAMP (RLU)</text>
<line x1="343.8" y1="401.9" x2="354.8" y2="401.9" stroke="#88878c" stroke-width="1.2"/>
<circle cx="349.3" cy="401.9" r="2.1" fill="#88878c" stroke="none" stroke-width="1"/>
<text x="360.3" y="405.32" font-size="9.55" font-weight="bold" text-anchor="start" fill="#000">Vehicle</text>
<line x1="343.8" y1="417.6" x2="354.8" y2="417.6" stroke="#f7931e" stroke-width="1.2"/>
<rect x="347.2" y="415.5" width="4.2" height="4.2" fill="#f7931e" stroke="none" stroke-width="0"/>
<text x="360.3" y="421.02" font-size="9.55" font-weight="bold" text-anchor="start" fill="#000">WNT-5A</text>
<line x1="474.3" y1="426.87" x2="595.4" y2="426.87" stroke="#222" stroke-width="0.9" stroke-dasharray="1.1,2.1"/>
<line x1="475.47" y1="426.79" x2="475.47" y2="428" stroke="#88878c" stroke-width="0.65"/>
<line x1="474.47" y1="426.79" x2="476.47" y2="426.79" stroke="#88878c" stroke-width="0.65"/>
<line x1="474.47" y1="428" x2="476.47" y2="428" stroke="#88878c" stroke-width="0.65"/>
<line x1="478.08" y1="425.11" x2="478.08" y2="429.89" stroke="#88878c" stroke-width="0.65"/>
<line x1="477.08" y1="425.11" x2="479.08" y2="425.11" stroke="#88878c" stroke-width="0.65"/>
<line x1="477.08" y1="429.89" x2="479.08" y2="429.89" stroke="#88878c" stroke-width="0.65"/>
<line x1="480.69" y1="424.54" x2="480.69" y2="426.64" stroke="#88878c" stroke-width="0.65"/>
<line x1="479.69" y1="424.54" x2="481.69" y2="424.54" stroke="#88878c" stroke-width="0.65"/>
<line x1="479.69" y1="426.64" x2="481.69" y2="426.64" stroke="#88878c" stroke-width="0.65"/>
<line x1="483.29" y1="428.11" x2="483.29" y2="430.07" stroke="#88878c" stroke-width="0.65"/>
<line x1="482.29" y1="428.11" x2="484.29" y2="428.11" stroke="#88878c" stroke-width="0.65"/>
<line x1="482.29" y1="430.07" x2="484.29" y2="430.07" stroke="#88878c" stroke-width="0.65"/>
<line x1="485.9" y1="423.58" x2="485.9" y2="430" stroke="#88878c" stroke-width="0.65"/>
<line x1="484.9" y1="423.58" x2="486.9" y2="423.58" stroke="#88878c" stroke-width="0.65"/>
<line x1="484.9" y1="430" x2="486.9" y2="430" stroke="#88878c" stroke-width="0.65"/>
<line x1="488.51" y1="427.82" x2="488.51" y2="430.83" stroke="#88878c" stroke-width="0.65"/>
<line x1="487.51" y1="427.82" x2="489.51" y2="427.82" stroke="#88878c" stroke-width="0.65"/>
<line x1="487.51" y1="430.83" x2="489.51" y2="430.83" stroke="#88878c" stroke-width="0.65"/>
<line x1="491.11" y1="426.03" x2="491.11" y2="428.02" stroke="#88878c" stroke-width="0.65"/>
<line x1="490.11" y1="426.03" x2="492.11" y2="426.03" stroke="#88878c" stroke-width="0.65"/>
<line x1="490.11" y1="428.02" x2="492.11" y2="428.02" stroke="#88878c" stroke-width="0.65"/>
<line x1="493.72" y1="429.42" x2="493.72" y2="432.44" stroke="#88878c" stroke-width="0.65"/>
<line x1="492.72" y1="429.42" x2="494.72" y2="429.42" stroke="#88878c" stroke-width="0.65"/>
<line x1="492.72" y1="432.44" x2="494.72" y2="432.44" stroke="#88878c" stroke-width="0.65"/>
<line x1="496.33" y1="423.08" x2="496.33" y2="428.15" stroke="#88878c" stroke-width="0.65"/>
<line x1="495.33" y1="423.08" x2="497.33" y2="423.08" stroke="#88878c" stroke-width="0.65"/>
<line x1="495.33" y1="428.15" x2="497.33" y2="428.15" stroke="#88878c" stroke-width="0.65"/>
<line x1="498.94" y1="425.07" x2="498.94" y2="426.31" stroke="#88878c" stroke-width="0.65"/>
<line x1="497.94" y1="425.07" x2="499.94" y2="425.07" stroke="#88878c" stroke-width="0.65"/>
<line x1="497.94" y1="426.31" x2="499.94" y2="426.31" stroke="#88878c" stroke-width="0.65"/>
<line x1="501.54" y1="420.11" x2="501.54" y2="428.71" stroke="#88878c" stroke-width="0.65"/>
<line x1="500.54" y1="420.11" x2="502.54" y2="420.11" stroke="#88878c" stroke-width="0.65"/>
<line x1="500.54" y1="428.71" x2="502.54" y2="428.71" stroke="#88878c" stroke-width="0.65"/>
<line x1="504.15" y1="424.33" x2="504.15" y2="425.55" stroke="#88878c" stroke-width="0.65"/>
<line x1="503.15" y1="424.33" x2="505.15" y2="424.33" stroke="#88878c" stroke-width="0.65"/>
<line x1="503.15" y1="425.55" x2="505.15" y2="425.55" stroke="#88878c" stroke-width="0.65"/>
<line x1="506.76" y1="423.32" x2="506.76" y2="428.9" stroke="#88878c" stroke-width="0.65"/>
<line x1="505.76" y1="423.32" x2="507.76" y2="423.32" stroke="#88878c" stroke-width="0.65"/>
<line x1="505.76" y1="428.9" x2="507.76" y2="428.9" stroke="#88878c" stroke-width="0.65"/>
<line x1="509.36" y1="424.54" x2="509.36" y2="431.3" stroke="#88878c" stroke-width="0.65"/>
<line x1="508.36" y1="424.54" x2="510.36" y2="424.54" stroke="#88878c" stroke-width="0.65"/>
<line x1="508.36" y1="431.3" x2="510.36" y2="431.3" stroke="#88878c" stroke-width="0.65"/>
<line x1="511.97" y1="430.98" x2="511.97" y2="432.19" stroke="#88878c" stroke-width="0.65"/>
<line x1="510.97" y1="430.98" x2="512.97" y2="430.98" stroke="#88878c" stroke-width="0.65"/>
<line x1="510.97" y1="432.19" x2="512.97" y2="432.19" stroke="#88878c" stroke-width="0.65"/>
<line x1="514.58" y1="427.74" x2="514.58" y2="433.78" stroke="#88878c" stroke-width="0.65"/>
<line x1="513.58" y1="427.74" x2="515.58" y2="427.74" stroke="#88878c" stroke-width="0.65"/>
<line x1="513.58" y1="433.78" x2="515.58" y2="433.78" stroke="#88878c" stroke-width="0.65"/>
<line x1="517.19" y1="428.64" x2="517.19" y2="430.9" stroke="#88878c" stroke-width="0.65"/>
<line x1="516.19" y1="428.64" x2="518.19" y2="428.64" stroke="#88878c" stroke-width="0.65"/>
<line x1="516.19" y1="430.9" x2="518.19" y2="430.9" stroke="#88878c" stroke-width="0.65"/>
<line x1="519.79" y1="428.79" x2="519.79" y2="432.6" stroke="#88878c" stroke-width="0.65"/>
<line x1="518.79" y1="428.79" x2="520.79" y2="428.79" stroke="#88878c" stroke-width="0.65"/>
<line x1="518.79" y1="432.6" x2="520.79" y2="432.6" stroke="#88878c" stroke-width="0.65"/>
<line x1="522.4" y1="430.82" x2="522.4" y2="432.03" stroke="#88878c" stroke-width="0.65"/>
<line x1="521.4" y1="430.82" x2="523.4" y2="430.82" stroke="#88878c" stroke-width="0.65"/>
<line x1="521.4" y1="432.03" x2="523.4" y2="432.03" stroke="#88878c" stroke-width="0.65"/>
<line x1="525.01" y1="428.07" x2="525.01" y2="429.3" stroke="#88878c" stroke-width="0.65"/>
<line x1="524.01" y1="428.07" x2="526.01" y2="428.07" stroke="#88878c" stroke-width="0.65"/>
<line x1="524.01" y1="429.3" x2="526.01" y2="429.3" stroke="#88878c" stroke-width="0.65"/>
<line x1="527.61" y1="430.56" x2="527.61" y2="432.03" stroke="#88878c" stroke-width="0.65"/>
<line x1="526.61" y1="430.56" x2="528.61" y2="430.56" stroke="#88878c" stroke-width="0.65"/>
<line x1="526.61" y1="432.03" x2="528.61" y2="432.03" stroke="#88878c" stroke-width="0.65"/>
<line x1="530.22" y1="428.08" x2="530.22" y2="436.38" stroke="#88878c" stroke-width="0.65"/>
<line x1="529.22" y1="428.08" x2="531.22" y2="428.08" stroke="#88878c" stroke-width="0.65"/>
<line x1="529.22" y1="436.38" x2="531.22" y2="436.38" stroke="#88878c" stroke-width="0.65"/>
<line x1="532.83" y1="430.83" x2="532.83" y2="432.34" stroke="#88878c" stroke-width="0.65"/>
<line x1="531.83" y1="430.83" x2="533.83" y2="430.83" stroke="#88878c" stroke-width="0.65"/>
<line x1="531.83" y1="432.34" x2="533.83" y2="432.34" stroke="#88878c" stroke-width="0.65"/>
<line x1="535.44" y1="429.73" x2="535.44" y2="435.38" stroke="#88878c" stroke-width="0.65"/>
<line x1="534.44" y1="429.73" x2="536.44" y2="429.73" stroke="#88878c" stroke-width="0.65"/>
<line x1="534.44" y1="435.38" x2="536.44" y2="435.38" stroke="#88878c" stroke-width="0.65"/>
<line x1="538.04" y1="428.64" x2="538.04" y2="436.56" stroke="#88878c" stroke-width="0.65"/>
<line x1="537.04" y1="428.64" x2="539.04" y2="428.64" stroke="#88878c" stroke-width="0.65"/>
<line x1="537.04" y1="436.56" x2="539.04" y2="436.56" stroke="#88878c" stroke-width="0.65"/>
<line x1="540.65" y1="428.71" x2="540.65" y2="436.82" stroke="#88878c" stroke-width="0.65"/>
<line x1="539.65" y1="428.71" x2="541.65" y2="428.71" stroke="#88878c" stroke-width="0.65"/>
<line x1="539.65" y1="436.82" x2="541.65" y2="436.82" stroke="#88878c" stroke-width="0.65"/>
<line x1="543.26" y1="429.2" x2="543.26" y2="431.34" stroke="#88878c" stroke-width="0.65"/>
<line x1="542.26" y1="429.2" x2="544.26" y2="429.2" stroke="#88878c" stroke-width="0.65"/>
<line x1="542.26" y1="431.34" x2="544.26" y2="431.34" stroke="#88878c" stroke-width="0.65"/>
<line x1="545.86" y1="431.65" x2="545.86" y2="433.84" stroke="#88878c" stroke-width="0.65"/>
<line x1="544.86" y1="431.65" x2="546.86" y2="431.65" stroke="#88878c" stroke-width="0.65"/>
<line x1="544.86" y1="433.84" x2="546.86" y2="433.84" stroke="#88878c" stroke-width="0.65"/>
<line x1="548.47" y1="431.09" x2="548.47" y2="434.44" stroke="#88878c" stroke-width="0.65"/>
<line x1="547.47" y1="431.09" x2="549.47" y2="431.09" stroke="#88878c" stroke-width="0.65"/>
<line x1="547.47" y1="434.44" x2="549.47" y2="434.44" stroke="#88878c" stroke-width="0.65"/>
<line x1="551.08" y1="429.46" x2="551.08" y2="435.35" stroke="#88878c" stroke-width="0.65"/>
<line x1="550.08" y1="429.46" x2="552.08" y2="429.46" stroke="#88878c" stroke-width="0.65"/>
<line x1="550.08" y1="435.35" x2="552.08" y2="435.35" stroke="#88878c" stroke-width="0.65"/>
<line x1="553.69" y1="430.46" x2="553.69" y2="431.76" stroke="#88878c" stroke-width="0.65"/>
<line x1="552.69" y1="430.46" x2="554.69" y2="430.46" stroke="#88878c" stroke-width="0.65"/>
<line x1="552.69" y1="431.76" x2="554.69" y2="431.76" stroke="#88878c" stroke-width="0.65"/>
<line x1="556.29" y1="431.27" x2="556.29" y2="436.83" stroke="#88878c" stroke-width="0.65"/>
<line x1="555.29" y1="431.27" x2="557.29" y2="431.27" stroke="#88878c" stroke-width="0.65"/>
<line x1="555.29" y1="436.83" x2="557.29" y2="436.83" stroke="#88878c" stroke-width="0.65"/>
<line x1="558.9" y1="431.83" x2="558.9" y2="437.98" stroke="#88878c" stroke-width="0.65"/>
<line x1="557.9" y1="431.83" x2="559.9" y2="431.83" stroke="#88878c" stroke-width="0.65"/>
<line x1="557.9" y1="437.98" x2="559.9" y2="437.98" stroke="#88878c" stroke-width="0.65"/>
<line x1="561.51" y1="428.32" x2="561.51" y2="435.27" stroke="#88878c" stroke-width="0.65"/>
<line x1="560.51" y1="428.32" x2="562.51" y2="428.32" stroke="#88878c" stroke-width="0.65"/>
<line x1="560.51" y1="435.27" x2="562.51" y2="435.27" stroke="#88878c" stroke-width="0.65"/>
<line x1="564.11" y1="436.04" x2="564.11" y2="437.27" stroke="#88878c" stroke-width="0.65"/>
<line x1="563.11" y1="436.04" x2="565.11" y2="436.04" stroke="#88878c" stroke-width="0.65"/>
<line x1="563.11" y1="437.27" x2="565.11" y2="437.27" stroke="#88878c" stroke-width="0.65"/>
<line x1="566.72" y1="431.74" x2="566.72" y2="439.9" stroke="#88878c" stroke-width="0.65"/>
<line x1="565.72" y1="431.74" x2="567.72" y2="431.74" stroke="#88878c" stroke-width="0.65"/>
<line x1="565.72" y1="439.9" x2="567.72" y2="439.9" stroke="#88878c" stroke-width="0.65"/>
<line x1="569.33" y1="434.41" x2="569.33" y2="435.69" stroke="#88878c" stroke-width="0.65"/>
<line x1="568.33" y1="434.41" x2="570.33" y2="434.41" stroke="#88878c" stroke-width="0.65"/>
<line x1="568.33" y1="435.69" x2="570.33" y2="435.69" stroke="#88878c" stroke-width="0.65"/>
<line x1="571.94" y1="432.56" x2="571.94" y2="434.67" stroke="#88878c" stroke-width="0.65"/>
<line x1="570.94" y1="432.56" x2="572.94" y2="432.56" stroke="#88878c" stroke-width="0.65"/>
<line x1="570.94" y1="434.67" x2="572.94" y2="434.67" stroke="#88878c" stroke-width="0.65"/>
<line x1="574.54" y1="435.61" x2="574.54" y2="439.72" stroke="#88878c" stroke-width="0.65"/>
<line x1="573.54" y1="435.61" x2="575.54" y2="435.61" stroke="#88878c" stroke-width="0.65"/>
<line x1="573.54" y1="439.72" x2="575.54" y2="439.72" stroke="#88878c" stroke-width="0.65"/>
<line x1="577.15" y1="435.66" x2="577.15" y2="443.42" stroke="#88878c" stroke-width="0.65"/>
<line x1="576.15" y1="435.66" x2="578.15" y2="435.66" stroke="#88878c" stroke-width="0.65"/>
<line x1="576.15" y1="443.42" x2="578.15" y2="443.42" stroke="#88878c" stroke-width="0.65"/>
<line x1="579.76" y1="435.19" x2="579.76" y2="437.3" stroke="#88878c" stroke-width="0.65"/>
<line x1="578.76" y1="435.19" x2="580.76" y2="435.19" stroke="#88878c" stroke-width="0.65"/>
<line x1="578.76" y1="437.3" x2="580.76" y2="437.3" stroke="#88878c" stroke-width="0.65"/>
<line x1="582.36" y1="433.86" x2="582.36" y2="441.71" stroke="#88878c" stroke-width="0.65"/>
<line x1="581.36" y1="433.86" x2="583.36" y2="433.86" stroke="#88878c" stroke-width="0.65"/>
<line x1="581.36" y1="441.71" x2="583.36" y2="441.71" stroke="#88878c" stroke-width="0.65"/>
<line x1="584.97" y1="436.07" x2="584.97" y2="439.59" stroke="#88878c" stroke-width="0.65"/>
<line x1="583.97" y1="436.07" x2="585.97" y2="436.07" stroke="#88878c" stroke-width="0.65"/>
<line x1="583.97" y1="439.59" x2="585.97" y2="439.59" stroke="#88878c" stroke-width="0.65"/>
<line x1="587.58" y1="436.08" x2="587.58" y2="438.06" stroke="#88878c" stroke-width="0.65"/>
<line x1="586.58" y1="436.08" x2="588.58" y2="436.08" stroke="#88878c" stroke-width="0.65"/>
<line x1="586.58" y1="438.06" x2="588.58" y2="438.06" stroke="#88878c" stroke-width="0.65"/>
<line x1="590.19" y1="436.54" x2="590.19" y2="438.54" stroke="#88878c" stroke-width="0.65"/>
<line x1="589.19" y1="436.54" x2="591.19" y2="436.54" stroke="#88878c" stroke-width="0.65"/>
<line x1="589.19" y1="438.54" x2="591.19" y2="438.54" stroke="#88878c" stroke-width="0.65"/>
<line x1="592.79" y1="436.94" x2="592.79" y2="438.39" stroke="#88878c" stroke-width="0.65"/>
<line x1="591.79" y1="436.94" x2="593.79" y2="436.94" stroke="#88878c" stroke-width="0.65"/>
<line x1="591.79" y1="438.39" x2="593.79" y2="438.39" stroke="#88878c" stroke-width="0.65"/>
<line x1="595.4" y1="438.05" x2="595.4" y2="439.31" stroke="#88878c" stroke-width="0.65"/>
<line x1="594.4" y1="438.05" x2="596.4" y2="438.05" stroke="#88878c" stroke-width="0.65"/>
<line x1="594.4" y1="439.31" x2="596.4" y2="439.31" stroke="#88878c" stroke-width="0.65"/>
<path d="M475.47,427.39 L478.08,427.5 L480.69,425.59 L483.29,429.09 L485.9,426.79 L488.51,429.33 L491.11,427.03 L493.72,430.93 L496.33,425.61 L498.94,425.69 L501.54,424.41 L504.15,424.94 L506.76,426.11 L509.36,427.92 L511.97,431.58 L514.58,430.76 L517.19,429.77 L519.79,430.7 L522.4,431.43 L525.01,428.68 L527.61,431.3 L530.22,432.23 L532.83,431.58 L535.44,432.56 L538.04,432.6 L540.65,432.76 L543.26,430.27 L545.86,432.74 L548.47,432.77 L551.08,432.4 L553.69,431.11 L556.29,434.05 L558.9,434.91 L561.51,431.8 L564.11,436.65 L566.72,435.82 L569.33,435.05 L571.94,433.62 L574.54,437.67 L577.15,439.54 L579.76,436.24 L582.36,437.78 L584.97,437.83 L587.58,437.07 L590.19,437.54 L592.79,437.66 L595.4,438.68" stroke="#88878c" stroke-width="1.2" fill="none"/>
<circle cx="475.47" cy="427.39" r="2.07" fill="#88878c" stroke="none" stroke-width="1"/>
<circle cx="478.08" cy="427.5" r="2.07" fill="#88878c" stroke="none" stroke-width="1"/>
<circle cx="480.69" cy="425.59" r="2.07" fill="#88878c" stroke="none" stroke-width="1"/>
<circle cx="483.29" cy="429.09" r="2.07" fill="#88878c" stroke="none" stroke-width="1"/>
<circle cx="485.9" cy="426.79" r="2.07" fill="#88878c" stroke="none" stroke-width="1"/>
<circle cx="488.51" cy="429.33" r="2.07" fill="#88878c" stroke="none" stroke-width="1"/>
<circle cx="491.11" cy="427.03" r="2.07" fill="#88878c" stroke="none" stroke-width="1"/>
<circle cx="493.72" cy="430.93" r="2.07" fill="#88878c" stroke="none" stroke-width="1"/>
<circle cx="496.33" cy="425.61" r="2.07" fill="#88878c" stroke="none" stroke-width="1"/>
<circle cx="498.94" cy="425.69" r="2.07" fill="#88878c" stroke="none" stroke-width="1"/>
<circle cx="501.54" cy="424.41" r="2.07" fill="#88878c" stroke="none" stroke-width="1"/>
<circle cx="504.15" cy="424.94" r="2.07" fill="#88878c" stroke="none" stroke-width="1"/>
<circle cx="506.76" cy="426.11" r="2.07" fill="#88878c" stroke="none" stroke-width="1"/>
<circle cx="509.36" cy="427.92" r="2.07" fill="#88878c" stroke="none" stroke-width="1"/>
<circle cx="511.97" cy="431.58" r="2.07" fill="#88878c" stroke="none" stroke-width="1"/>
<circle cx="514.58" cy="430.76" r="2.07" fill="#88878c" stroke="none" stroke-width="1"/>
<circle cx="517.19" cy="429.77" r="2.07" fill="#88878c" stroke="none" stroke-width="1"/>
<circle cx="519.79" cy="430.7" r="2.07" fill="#88878c" stroke="none" stroke-width="1"/>
<circle cx="522.4" cy="431.43" r="2.07" fill="#88878c" stroke="none" stroke-width="1"/>
<circle cx="525.01" cy="428.68" r="2.07" fill="#88878c" stroke="none" stroke-width="1"/>
<circle cx="527.61" cy="431.3" r="2.07" fill="#88878c" stroke="none" stroke-width="1"/>
<circle cx="530.22" cy="432.23" r="2.07" fill="#88878c" stroke="none" stroke-width="1"/>
<circle cx="532.83" cy="431.58" r="2.07" fill="#88878c" stroke="none" stroke-width="1"/>
<circle cx="535.44" cy="432.56" r="2.07" fill="#88878c" stroke="none" stroke-width="1"/>
<circle cx="538.04" cy="432.6" r="2.07" fill="#88878c" stroke="none" stroke-width="1"/>
<circle cx="540.65" cy="432.76" r="2.07" fill="#88878c" stroke="none" stroke-width="1"/>
<circle cx="543.26" cy="430.27" r="2.07" fill="#88878c" stroke="none" stroke-width="1"/>
<circle cx="545.86" cy="432.74" r="2.07" fill="#88878c" stroke="none" stroke-width="1"/>
<circle cx="548.47" cy="432.77" r="2.07" fill="#88878c" stroke="none" stroke-width="1"/>
<circle cx="551.08" cy="432.4" r="2.07" fill="#88878c" stroke="none" stroke-width="1"/>
<circle cx="553.69" cy="431.11" r="2.07" fill="#88878c" stroke="none" stroke-width="1"/>
<circle cx="556.29" cy="434.05" r="2.07" fill="#88878c" stroke="none" stroke-width="1"/>
<circle cx="558.9" cy="434.91" r="2.07" fill="#88878c" stroke="none" stroke-width="1"/>
<circle cx="561.51" cy="431.8" r="2.07" fill="#88878c" stroke="none" stroke-width="1"/>
<circle cx="564.11" cy="436.65" r="2.07" fill="#88878c" stroke="none" stroke-width="1"/>
<circle cx="566.72" cy="435.82" r="2.07" fill="#88878c" stroke="none" stroke-width="1"/>
<circle cx="569.33" cy="435.05" r="2.07" fill="#88878c" stroke="none" stroke-width="1"/>
<circle cx="571.94" cy="433.62" r="2.07" fill="#88878c" stroke="none" stroke-width="1"/>
<circle cx="574.54" cy="437.67" r="2.07" fill="#88878c" stroke="none" stroke-width="1"/>
<circle cx="577.15" cy="439.54" r="2.07" fill="#88878c" stroke="none" stroke-width="1"/>
<circle cx="579.76" cy="436.24" r="2.07" fill="#88878c" stroke="none" stroke-width="1"/>
<circle cx="582.36" cy="437.78" r="2.07" fill="#88878c" stroke="none" stroke-width="1"/>
<circle cx="584.97" cy="437.83" r="2.07" fill="#88878c" stroke="none" stroke-width="1"/>
<circle cx="587.58" cy="437.07" r="2.07" fill="#88878c" stroke="none" stroke-width="1"/>
<circle cx="590.19" cy="437.54" r="2.07" fill="#88878c" stroke="none" stroke-width="1"/>
<circle cx="592.79" cy="437.66" r="2.07" fill="#88878c" stroke="none" stroke-width="1"/>
<circle cx="595.4" cy="438.68" r="2.07" fill="#88878c" stroke="none" stroke-width="1"/>
<line x1="475.47" y1="422.72" x2="475.47" y2="429.24" stroke="#ee2a5b" stroke-width="0.65"/>
<line x1="474.47" y1="422.72" x2="476.47" y2="422.72" stroke="#ee2a5b" stroke-width="0.65"/>
<line x1="474.47" y1="429.24" x2="476.47" y2="429.24" stroke="#ee2a5b" stroke-width="0.65"/>
<line x1="478.08" y1="428.99" x2="478.08" y2="431.12" stroke="#ee2a5b" stroke-width="0.65"/>
<line x1="477.08" y1="428.99" x2="479.08" y2="428.99" stroke="#ee2a5b" stroke-width="0.65"/>
<line x1="477.08" y1="431.12" x2="479.08" y2="431.12" stroke="#ee2a5b" stroke-width="0.65"/>
<line x1="480.69" y1="422.22" x2="480.69" y2="434.27" stroke="#ee2a5b" stroke-width="0.65"/>
<line x1="479.69" y1="422.22" x2="481.69" y2="422.22" stroke="#ee2a5b" stroke-width="0.65"/>
<line x1="479.69" y1="434.27" x2="481.69" y2="434.27" stroke="#ee2a5b" stroke-width="0.65"/>
<line x1="483.29" y1="423.94" x2="483.29" y2="429.53" stroke="#ee2a5b" stroke-width="0.65"/>
<line x1="482.29" y1="423.94" x2="484.29" y2="423.94" stroke="#ee2a5b" stroke-width="0.65"/>
<line x1="482.29" y1="429.53" x2="484.29" y2="429.53" stroke="#ee2a5b" stroke-width="0.65"/>
<line x1="485.9" y1="423.14" x2="485.9" y2="425.34" stroke="#ee2a5b" stroke-width="0.65"/>
<line x1="484.9" y1="423.14" x2="486.9" y2="423.14" stroke="#ee2a5b" stroke-width="0.65"/>
<line x1="484.9" y1="425.34" x2="486.9" y2="425.34" stroke="#ee2a5b" stroke-width="0.65"/>
<line x1="488.51" y1="423" x2="488.51" y2="430.71" stroke="#ee2a5b" stroke-width="0.65"/>
<line x1="487.51" y1="423" x2="489.51" y2="423" stroke="#ee2a5b" stroke-width="0.65"/>
<line x1="487.51" y1="430.71" x2="489.51" y2="430.71" stroke="#ee2a5b" stroke-width="0.65"/>
<line x1="491.11" y1="432.96" x2="491.11" y2="436.25" stroke="#ee2a5b" stroke-width="0.65"/>
<line x1="490.11" y1="432.96" x2="492.11" y2="432.96" stroke="#ee2a5b" stroke-width="0.65"/>
<line x1="490.11" y1="436.25" x2="492.11" y2="436.25" stroke="#ee2a5b" stroke-width="0.65"/>
<line x1="493.72" y1="445.29" x2="493.72" y2="447.81" stroke="#ee2a5b" stroke-width="0.65"/>
<line x1="492.72" y1="445.29" x2="494.72" y2="445.29" stroke="#ee2a5b" stroke-width="0.65"/>
<line x1="492.72" y1="447.81" x2="494.72" y2="447.81" stroke="#ee2a5b" stroke-width="0.65"/>
<line x1="496.33" y1="448.22" x2="496.33" y2="453.27" stroke="#ee2a5b" stroke-width="0.65"/>
<line x1="495.33" y1="448.22" x2="497.33" y2="448.22" stroke="#ee2a5b" stroke-width="0.65"/>
<line x1="495.33" y1="453.27" x2="497.33" y2="453.27" stroke="#ee2a5b" stroke-width="0.65"/>
<line x1="498.94" y1="446.79" x2="498.94" y2="449.06" stroke="#ee2a5b" stroke-width="0.65"/>
<line x1="497.94" y1="446.79" x2="499.94" y2="446.79" stroke="#ee2a5b" stroke-width="0.65"/>
<line x1="497.94" y1="449.06" x2="499.94" y2="449.06" stroke="#ee2a5b" stroke-width="0.65"/>
<line x1="501.54" y1="450.3" x2="501.54" y2="452.89" stroke="#ee2a5b" stroke-width="0.65"/>
<line x1="500.54" y1="450.3" x2="502.54" y2="450.3" stroke="#ee2a5b" stroke-width="0.65"/>
<line x1="500.54" y1="452.89" x2="502.54" y2="452.89" stroke="#ee2a5b" stroke-width="0.65"/>
<line x1="504.15" y1="442.11" x2="504.15" y2="453.83" stroke="#ee2a5b" stroke-width="0.65"/>
<line x1="503.15" y1="442.11" x2="505.15" y2="442.11" stroke="#ee2a5b" stroke-width="0.65"/>
<line x1="503.15" y1="453.83" x2="505.15" y2="453.83" stroke="#ee2a5b" stroke-width="0.65"/>
<line x1="506.76" y1="447.21" x2="506.76" y2="455.54" stroke="#ee2a5b" stroke-width="0.65"/>
<line x1="505.76" y1="447.21" x2="507.76" y2="447.21" stroke="#ee2a5b" stroke-width="0.65"/>
<line x1="505.76" y1="455.54" x2="507.76" y2="455.54" stroke="#ee2a5b" stroke-width="0.65"/>
<line x1="509.36" y1="451.95" x2="509.36" y2="453.98" stroke="#ee2a5b" stroke-width="0.65"/>
<line x1="508.36" y1="451.95" x2="510.36" y2="451.95" stroke="#ee2a5b" stroke-width="0.65"/>
<line x1="508.36" y1="453.98" x2="510.36" y2="453.98" stroke="#ee2a5b" stroke-width="0.65"/>
<line x1="511.97" y1="448.49" x2="511.97" y2="458.35" stroke="#ee2a5b" stroke-width="0.65"/>
<line x1="510.97" y1="448.49" x2="512.97" y2="448.49" stroke="#ee2a5b" stroke-width="0.65"/>
<line x1="510.97" y1="458.35" x2="512.97" y2="458.35" stroke="#ee2a5b" stroke-width="0.65"/>
<line x1="514.58" y1="449.23" x2="514.58" y2="451.26" stroke="#ee2a5b" stroke-width="0.65"/>
<line x1="513.58" y1="449.23" x2="515.58" y2="449.23" stroke="#ee2a5b" stroke-width="0.65"/>
<line x1="513.58" y1="451.26" x2="515.58" y2="451.26" stroke="#ee2a5b" stroke-width="0.65"/>
<line x1="517.19" y1="445.88" x2="517.19" y2="449.33" stroke="#ee2a5b" stroke-width="0.65"/>
<line x1="516.19" y1="445.88" x2="518.19" y2="445.88" stroke="#ee2a5b" stroke-width="0.65"/>
<line x1="516.19" y1="449.33" x2="518.19" y2="449.33" stroke="#ee2a5b" stroke-width="0.65"/>
<line x1="519.79" y1="438.77" x2="519.79" y2="451.38" stroke="#ee2a5b" stroke-width="0.65"/>
<line x1="518.79" y1="438.77" x2="520.79" y2="438.77" stroke="#ee2a5b" stroke-width="0.65"/>
<line x1="518.79" y1="451.38" x2="520.79" y2="451.38" stroke="#ee2a5b" stroke-width="0.65"/>
<line x1="522.4" y1="442.31" x2="522.4" y2="449.31" stroke="#ee2a5b" stroke-width="0.65"/>
<line x1="521.4" y1="442.31" x2="523.4" y2="442.31" stroke="#ee2a5b" stroke-width="0.65"/>
<line x1="521.4" y1="449.31" x2="523.4" y2="449.31" stroke="#ee2a5b" stroke-width="0.65"/>
<line x1="525.01" y1="445.98" x2="525.01" y2="449.22" stroke="#ee2a5b" stroke-width="0.65"/>
<line x1="524.01" y1="445.98" x2="526.01" y2="445.98" stroke="#ee2a5b" stroke-width="0.65"/>
<line x1="524.01" y1="449.22" x2="526.01" y2="449.22" stroke="#ee2a5b" stroke-width="0.65"/>
<line x1="527.61" y1="443.46" x2="527.61" y2="447.33" stroke="#ee2a5b" stroke-width="0.65"/>
<line x1="526.61" y1="443.46" x2="528.61" y2="443.46" stroke="#ee2a5b" stroke-width="0.65"/>
<line x1="526.61" y1="447.33" x2="528.61" y2="447.33" stroke="#ee2a5b" stroke-width="0.65"/>
<line x1="530.22" y1="446.85" x2="530.22" y2="450.84" stroke="#ee2a5b" stroke-width="0.65"/>
<line x1="529.22" y1="446.85" x2="531.22" y2="446.85" stroke="#ee2a5b" stroke-width="0.65"/>
<line x1="529.22" y1="450.84" x2="531.22" y2="450.84" stroke="#ee2a5b" stroke-width="0.65"/>
<line x1="532.83" y1="444.27" x2="532.83" y2="446.5" stroke="#ee2a5b" stroke-width="0.65"/>
<line x1="531.83" y1="444.27" x2="533.83" y2="444.27" stroke="#ee2a5b" stroke-width="0.65"/>
<line x1="531.83" y1="446.5" x2="533.83" y2="446.5" stroke="#ee2a5b" stroke-width="0.65"/>
<line x1="535.44" y1="440.14" x2="535.44" y2="455.11" stroke="#ee2a5b" stroke-width="0.65"/>
<line x1="534.44" y1="440.14" x2="536.44" y2="440.14" stroke="#ee2a5b" stroke-width="0.65"/>
<line x1="534.44" y1="455.11" x2="536.44" y2="455.11" stroke="#ee2a5b" stroke-width="0.65"/>
<line x1="538.04" y1="442.59" x2="538.04" y2="444.65" stroke="#ee2a5b" stroke-width="0.65"/>
<line x1="537.04" y1="442.59" x2="539.04" y2="442.59" stroke="#ee2a5b" stroke-width="0.65"/>
<line x1="537.04" y1="444.65" x2="539.04" y2="444.65" stroke="#ee2a5b" stroke-width="0.65"/>
<line x1="540.65" y1="442.35" x2="540.65" y2="446.69" stroke="#ee2a5b" stroke-width="0.65"/>
<line x1="539.65" y1="442.35" x2="541.65" y2="442.35" stroke="#ee2a5b" stroke-width="0.65"/>
<line x1="539.65" y1="446.69" x2="541.65" y2="446.69" stroke="#ee2a5b" stroke-width="0.65"/>
<line x1="543.26" y1="441.05" x2="543.26" y2="450.29" stroke="#ee2a5b" stroke-width="0.65"/>
<line x1="542.26" y1="441.05" x2="544.26" y2="441.05" stroke="#ee2a5b" stroke-width="0.65"/>
<line x1="542.26" y1="450.29" x2="544.26" y2="450.29" stroke="#ee2a5b" stroke-width="0.65"/>
<line x1="545.86" y1="446.31" x2="545.86" y2="450.38" stroke="#ee2a5b" stroke-width="0.65"/>
<line x1="544.86" y1="446.31" x2="546.86" y2="446.31" stroke="#ee2a5b" stroke-width="0.65"/>
<line x1="544.86" y1="450.38" x2="546.86" y2="450.38" stroke="#ee2a5b" stroke-width="0.65"/>
<line x1="548.47" y1="438.5" x2="548.47" y2="452.98" stroke="#ee2a5b" stroke-width="0.65"/>
<line x1="547.47" y1="438.5" x2="549.47" y2="438.5" stroke="#ee2a5b" stroke-width="0.65"/>
<line x1="547.47" y1="452.98" x2="549.47" y2="452.98" stroke="#ee2a5b" stroke-width="0.65"/>
<line x1="551.08" y1="444.87" x2="551.08" y2="447.67" stroke="#ee2a5b" stroke-width="0.65"/>
<line x1="550.08" y1="444.87" x2="552.08" y2="444.87" stroke="#ee2a5b" stroke-width="0.65"/>
<line x1="550.08" y1="447.67" x2="552.08" y2="447.67" stroke="#ee2a5b" stroke-width="0.65"/>
<line x1="553.69" y1="440.88" x2="553.69" y2="455.32" stroke="#ee2a5b" stroke-width="0.65"/>
<line x1="552.69" y1="440.88" x2="554.69" y2="440.88" stroke="#ee2a5b" stroke-width="0.65"/>
<line x1="552.69" y1="455.32" x2="554.69" y2="455.32" stroke="#ee2a5b" stroke-width="0.65"/>
<line x1="556.29" y1="442.27" x2="556.29" y2="454.6" stroke="#ee2a5b" stroke-width="0.65"/>
<line x1="555.29" y1="442.27" x2="557.29" y2="442.27" stroke="#ee2a5b" stroke-width="0.65"/>
<line x1="555.29" y1="454.6" x2="557.29" y2="454.6" stroke="#ee2a5b" stroke-width="0.65"/>
<line x1="558.9" y1="441.34" x2="558.9" y2="449.18" stroke="#ee2a5b" stroke-width="0.65"/>
<line x1="557.9" y1="441.34" x2="559.9" y2="441.34" stroke="#ee2a5b" stroke-width="0.65"/>
<line x1="557.9" y1="449.18" x2="559.9" y2="449.18" stroke="#ee2a5b" stroke-width="0.65"/>
<line x1="561.51" y1="442.31" x2="561.51" y2="454.57" stroke="#ee2a5b" stroke-width="0.65"/>
<line x1="560.51" y1="442.31" x2="562.51" y2="442.31" stroke="#ee2a5b" stroke-width="0.65"/>
<line x1="560.51" y1="454.57" x2="562.51" y2="454.57" stroke="#ee2a5b" stroke-width="0.65"/>
<line x1="564.11" y1="444.85" x2="564.11" y2="449.46" stroke="#ee2a5b" stroke-width="0.65"/>
<line x1="563.11" y1="444.85" x2="565.11" y2="444.85" stroke="#ee2a5b" stroke-width="0.65"/>
<line x1="563.11" y1="449.46" x2="565.11" y2="449.46" stroke="#ee2a5b" stroke-width="0.65"/>
<line x1="566.72" y1="440.39" x2="566.72" y2="451.36" stroke="#ee2a5b" stroke-width="0.65"/>
<line x1="565.72" y1="440.39" x2="567.72" y2="440.39" stroke="#ee2a5b" stroke-width="0.65"/>
<line x1="565.72" y1="451.36" x2="567.72" y2="451.36" stroke="#ee2a5b" stroke-width="0.65"/>
<line x1="569.33" y1="446.28" x2="569.33" y2="456.51" stroke="#ee2a5b" stroke-width="0.65"/>
<line x1="568.33" y1="446.28" x2="570.33" y2="446.28" stroke="#ee2a5b" stroke-width="0.65"/>
<line x1="568.33" y1="456.51" x2="570.33" y2="456.51" stroke="#ee2a5b" stroke-width="0.65"/>
<line x1="571.94" y1="443.23" x2="571.94" y2="448.71" stroke="#ee2a5b" stroke-width="0.65"/>
<line x1="570.94" y1="443.23" x2="572.94" y2="443.23" stroke="#ee2a5b" stroke-width="0.65"/>
<line x1="570.94" y1="448.71" x2="572.94" y2="448.71" stroke="#ee2a5b" stroke-width="0.65"/>
<line x1="574.54" y1="445.3" x2="574.54" y2="450.19" stroke="#ee2a5b" stroke-width="0.65"/>
<line x1="573.54" y1="445.3" x2="575.54" y2="445.3" stroke="#ee2a5b" stroke-width="0.65"/>
<line x1="573.54" y1="450.19" x2="575.54" y2="450.19" stroke="#ee2a5b" stroke-width="0.65"/>
<line x1="577.15" y1="446.87" x2="577.15" y2="455.34" stroke="#ee2a5b" stroke-width="0.65"/>
<line x1="576.15" y1="446.87" x2="578.15" y2="446.87" stroke="#ee2a5b" stroke-width="0.65"/>
<line x1="576.15" y1="455.34" x2="578.15" y2="455.34" stroke="#ee2a5b" stroke-width="0.65"/>
<line x1="579.76" y1="449.95" x2="579.76" y2="454.14" stroke="#ee2a5b" stroke-width="0.65"/>
<line x1="578.76" y1="449.95" x2="580.76" y2="449.95" stroke="#ee2a5b" stroke-width="0.65"/>
<line x1="578.76" y1="454.14" x2="580.76" y2="454.14" stroke="#ee2a5b" stroke-width="0.65"/>
<line x1="582.36" y1="451.87" x2="582.36" y2="453.99" stroke="#ee2a5b" stroke-width="0.65"/>
<line x1="581.36" y1="451.87" x2="583.36" y2="451.87" stroke="#ee2a5b" stroke-width="0.65"/>
<line x1="581.36" y1="453.99" x2="583.36" y2="453.99" stroke="#ee2a5b" stroke-width="0.65"/>
<line x1="584.97" y1="444.87" x2="584.97" y2="454.11" stroke="#ee2a5b" stroke-width="0.65"/>
<line x1="583.97" y1="444.87" x2="585.97" y2="444.87" stroke="#ee2a5b" stroke-width="0.65"/>
<line x1="583.97" y1="454.11" x2="585.97" y2="454.11" stroke="#ee2a5b" stroke-width="0.65"/>
<line x1="587.58" y1="454.67" x2="587.58" y2="457.6" stroke="#ee2a5b" stroke-width="0.65"/>
<line x1="586.58" y1="454.67" x2="588.58" y2="454.67" stroke="#ee2a5b" stroke-width="0.65"/>
<line x1="586.58" y1="457.6" x2="588.58" y2="457.6" stroke="#ee2a5b" stroke-width="0.65"/>
<line x1="590.19" y1="447.75" x2="590.19" y2="452.85" stroke="#ee2a5b" stroke-width="0.65"/>
<line x1="589.19" y1="447.75" x2="591.19" y2="447.75" stroke="#ee2a5b" stroke-width="0.65"/>
<line x1="589.19" y1="452.85" x2="591.19" y2="452.85" stroke="#ee2a5b" stroke-width="0.65"/>
<line x1="592.79" y1="447.07" x2="592.79" y2="457.05" stroke="#ee2a5b" stroke-width="0.65"/>
<line x1="591.79" y1="447.07" x2="593.79" y2="447.07" stroke="#ee2a5b" stroke-width="0.65"/>
<line x1="591.79" y1="457.05" x2="593.79" y2="457.05" stroke="#ee2a5b" stroke-width="0.65"/>
<line x1="595.4" y1="452.77" x2="595.4" y2="455.18" stroke="#ee2a5b" stroke-width="0.65"/>
<line x1="594.4" y1="452.77" x2="596.4" y2="452.77" stroke="#ee2a5b" stroke-width="0.65"/>
<line x1="594.4" y1="455.18" x2="596.4" y2="455.18" stroke="#ee2a5b" stroke-width="0.65"/>
<path d="M475.47,425.98 L478.08,430.05 L480.69,428.25 L483.29,426.74 L485.9,424.24 L488.51,426.86 L491.11,434.61 L493.72,446.55 L496.33,450.74 L498.94,447.93 L501.54,451.6 L504.15,447.97 L506.76,451.37 L509.36,452.97 L511.97,453.42 L514.58,450.24 L517.19,447.6 L519.79,445.08 L522.4,445.81 L525.01,447.6 L527.61,445.4 L530.22,448.84 L532.83,445.39 L535.44,447.62 L538.04,443.62 L540.65,444.52 L543.26,445.67 L545.86,448.34 L548.47,445.74 L551.08,446.27 L553.69,448.1 L556.29,448.43 L558.9,445.26 L561.51,448.44 L564.11,447.16 L566.72,445.87 L569.33,451.39 L571.94,445.97 L574.54,447.75 L577.15,451.11 L579.76,452.05 L582.36,452.93 L584.97,449.49 L587.58,456.14 L590.19,450.3 L592.79,452.06 L595.4,453.98" stroke="#ee2a5b" stroke-width="1.2" fill="none"/>
<rect x="473.29" y="423.79" width="4.37" height="4.37" fill="#ee2a5b" stroke="none" stroke-width="0"/>
<rect x="475.89" y="427.87" width="4.37" height="4.37" fill="#ee2a5b" stroke="none" stroke-width="0"/>
<rect x="478.5" y="426.06" width="4.37" height="4.37" fill="#ee2a5b" stroke="none" stroke-width="0"/>
<rect x="481.11" y="424.55" width="4.37" height="4.37" fill="#ee2a5b" stroke="none" stroke-width="0"/>
<rect x="483.72" y="422.06" width="4.37" height="4.37" fill="#ee2a5b" stroke="none" stroke-width="0"/>
<rect x="486.32" y="424.67" width="4.37" height="4.37" fill="#ee2a5b" stroke="none" stroke-width="0"/>
<rect x="488.93" y="432.42" width="4.37" height="4.37" fill="#ee2a5b" stroke="none" stroke-width="0"/>
<rect x="491.54" y="444.36" width="4.37" height="4.37" fill="#ee2a5b" stroke="none" stroke-width="0"/>
<rect x="494.14" y="448.56" width="4.37" height="4.37" fill="#ee2a5b" stroke="none" stroke-width="0"/>
<rect x="496.75" y="445.74" width="4.37" height="4.37" fill="#ee2a5b" stroke="none" stroke-width="0"/>
<rect x="499.36" y="449.41" width="4.37" height="4.37" fill="#ee2a5b" stroke="none" stroke-width="0"/>
<rect x="501.97" y="445.79" width="4.37" height="4.37" fill="#ee2a5b" stroke="none" stroke-width="0"/>
<rect x="504.57" y="449.19" width="4.37" height="4.37" fill="#ee2a5b" stroke="none" stroke-width="0"/>
<rect x="507.18" y="450.78" width="4.37" height="4.37" fill="#ee2a5b" stroke="none" stroke-width="0"/>
<rect x="509.79" y="451.24" width="4.37" height="4.37" fill="#ee2a5b" stroke="none" stroke-width="0"/>
<rect x="512.39" y="448.06" width="4.37" height="4.37" fill="#ee2a5b" stroke="none" stroke-width="0"/>
<rect x="515" y="445.42" width="4.37" height="4.37" fill="#ee2a5b" stroke="none" stroke-width="0"/>
<rect x="517.61" y="442.89" width="4.37" height="4.37" fill="#ee2a5b" stroke="none" stroke-width="0"/>
<rect x="520.22" y="443.63" width="4.37" height="4.37" fill="#ee2a5b" stroke="none" stroke-width="0"/>
<rect x="522.82" y="445.42" width="4.37" height="4.37" fill="#ee2a5b" stroke="none" stroke-width="0"/>
<rect x="525.43" y="443.21" width="4.37" height="4.37" fill="#ee2a5b" stroke="none" stroke-width="0"/>
<rect x="528.04" y="446.66" width="4.37" height="4.37" fill="#ee2a5b" stroke="none" stroke-width="0"/>
<rect x="530.64" y="443.2" width="4.37" height="4.37" fill="#ee2a5b" stroke="none" stroke-width="0"/>
<rect x="533.25" y="445.44" width="4.37" height="4.37" fill="#ee2a5b" stroke="none" stroke-width="0"/>
<rect x="535.86" y="441.44" width="4.37" height="4.37" fill="#ee2a5b" stroke="none" stroke-width="0"/>
<rect x="538.47" y="442.34" width="4.37" height="4.37" fill="#ee2a5b" stroke="none" stroke-width="0"/>
<rect x="541.07" y="443.48" width="4.37" height="4.37" fill="#ee2a5b" stroke="none" stroke-width="0"/>
<rect x="543.68" y="446.16" width="4.37" height="4.37" fill="#ee2a5b" stroke="none" stroke-width="0"/>
<rect x="546.29" y="443.56" width="4.37" height="4.37" fill="#ee2a5b" stroke="none" stroke-width="0"/>
<rect x="548.89" y="444.08" width="4.37" height="4.37" fill="#ee2a5b" stroke="none" stroke-width="0"/>
<rect x="551.5" y="445.92" width="4.37" height="4.37" fill="#ee2a5b" stroke="none" stroke-width="0"/>
<rect x="554.11" y="446.25" width="4.37" height="4.37" fill="#ee2a5b" stroke="none" stroke-width="0"/>
<rect x="556.72" y="443.08" width="4.37" height="4.37" fill="#ee2a5b" stroke="none" stroke-width="0"/>
<rect x="559.32" y="446.25" width="4.37" height="4.37" fill="#ee2a5b" stroke="none" stroke-width="0"/>
<rect x="561.93" y="444.97" width="4.37" height="4.37" fill="#ee2a5b" stroke="none" stroke-width="0"/>
<rect x="564.54" y="443.69" width="4.37" height="4.37" fill="#ee2a5b" stroke="none" stroke-width="0"/>
<rect x="567.14" y="449.21" width="4.37" height="4.37" fill="#ee2a5b" stroke="none" stroke-width="0"/>
<rect x="569.75" y="443.78" width="4.37" height="4.37" fill="#ee2a5b" stroke="none" stroke-width="0"/>
<rect x="572.36" y="445.56" width="4.37" height="4.37" fill="#ee2a5b" stroke="none" stroke-width="0"/>
<rect x="574.97" y="448.92" width="4.37" height="4.37" fill="#ee2a5b" stroke="none" stroke-width="0"/>
<rect x="577.57" y="449.86" width="4.37" height="4.37" fill="#ee2a5b" stroke="none" stroke-width="0"/>
<rect x="580.18" y="450.74" width="4.37" height="4.37" fill="#ee2a5b" stroke="none" stroke-width="0"/>
<rect x="582.79" y="447.31" width="4.37" height="4.37" fill="#ee2a5b" stroke="none" stroke-width="0"/>
<rect x="585.39" y="453.95" width="4.37" height="4.37" fill="#ee2a5b" stroke="none" stroke-width="0"/>
<rect x="588" y="448.11" width="4.37" height="4.37" fill="#ee2a5b" stroke="none" stroke-width="0"/>
<rect x="590.61" y="449.87" width="4.37" height="4.37" fill="#ee2a5b" stroke="none" stroke-width="0"/>
<rect x="593.22" y="451.79" width="4.37" height="4.37" fill="#ee2a5b" stroke="none" stroke-width="0"/>
<line x1="474.3" y1="394.5" x2="474.3" y2="492.45" stroke="#000" stroke-width="1.7"/>
<line x1="469.9" y1="394.5" x2="474.3" y2="394.5" stroke="#000" stroke-width="1.7"/>
<text x="468.7" y="398.79" font-size="10.3" font-weight="bold" text-anchor="end" fill="#000">0.02</text>
<line x1="469.9" y1="426.87" x2="474.3" y2="426.87" stroke="#000" stroke-width="1.7"/>
<text x="468.7" y="431.15" font-size="10.3" font-weight="bold" text-anchor="end" fill="#000">0.00</text>
<line x1="469.9" y1="459.23" x2="474.3" y2="459.23" stroke="#000" stroke-width="1.7"/>
<text x="468.7" y="463.52" font-size="10.3" font-weight="bold" text-anchor="end" fill="#000">-0.02</text>
<line x1="469.9" y1="491.6" x2="474.3" y2="491.6" stroke="#000" stroke-width="1.7"/>
<text x="468.7" y="495.89" font-size="10.3" font-weight="bold" text-anchor="end" fill="#000">-0.04</text>
<line x1="473.45" y1="491.6" x2="595.4" y2="491.6" stroke="#000" stroke-width="1.7"/>
<line x1="490.2" y1="491.6" x2="490.2" y2="496" stroke="#000" stroke-width="1.7"/>
<text x="490.2" y="507.29" font-size="10.3" font-weight="bold" text-anchor="middle" fill="#000">0</text>
<line x1="511.24" y1="491.6" x2="511.24" y2="496" stroke="#000" stroke-width="1.7"/>
<text x="511.24" y="507.29" font-size="10.3" font-weight="bold" text-anchor="middle" fill="#000">2</text>
<line x1="532.28" y1="491.6" x2="532.28" y2="496" stroke="#000" stroke-width="1.7"/>
<text x="532.28" y="507.29" font-size="10.3" font-weight="bold" text-anchor="middle" fill="#000">4</text>
<line x1="553.32" y1="491.6" x2="553.32" y2="496" stroke="#000" stroke-width="1.7"/>
<text x="553.32" y="507.29" font-size="10.3" font-weight="bold" text-anchor="middle" fill="#000">6</text>
<line x1="574.36" y1="491.6" x2="574.36" y2="496" stroke="#000" stroke-width="1.7"/>
<text x="574.36" y="507.29" font-size="10.3" font-weight="bold" text-anchor="middle" fill="#000">8</text>
<line x1="595.4" y1="491.6" x2="595.4" y2="496" stroke="#000" stroke-width="1.7"/>
<text x="595.4" y="507.29" font-size="10.3" font-weight="bold" text-anchor="middle" fill="#000">10</text>
<text x="535.85" y="524.7" font-size="12" font-weight="bold" text-anchor="middle" fill="#000">Time (min)</text>
<text x="436" y="445.35" font-size="12" font-weight="bold" text-anchor="middle" fill="#000" transform="rotate(-90 436 441.05)">cAMP (RLU)</text>
<line x1="540.3" y1="401.9" x2="551.3" y2="401.9" stroke="#88878c" stroke-width="1.2"/>
<circle cx="545.8" cy="401.9" r="2.1" fill="#88878c" stroke="none" stroke-width="1"/>
<text x="556.8" y="405.32" font-size="9.55" font-weight="bold" text-anchor="start" fill="#000">Vehicle</text>
<line x1="540.3" y1="417.6" x2="551.3" y2="417.6" stroke="#ee2a5b" stroke-width="1.2"/>
<rect x="543.7" y="415.5" width="4.2" height="4.2" fill="#ee2a5b" stroke="none" stroke-width="0"/>
<text x="556.8" y="421.02" font-size="9.55" font-weight="bold" text-anchor="start" fill="#000">WNT-3A</text>
<text x="32.5" y="580.55" font-size="15.5" font-weight="bold" text-anchor="start" fill="#000">f</text>
<line x1="78.2" y1="648" x2="199.8" y2="648" stroke="#222" stroke-width="0.9" stroke-dasharray="1.1,2.1"/>
<line x1="78.5" y1="643.1" x2="78.5" y2="645.74" stroke="#3cc43c" stroke-width="0.6"/>
<line x1="77.7" y1="643.1" x2="79.3" y2="643.1" stroke="#3cc43c" stroke-width="0.6"/>
<line x1="80.36" y1="640.11" x2="80.36" y2="650.18" stroke="#3cc43c" stroke-width="0.6"/>
<line x1="79.56" y1="640.11" x2="81.16" y2="640.11" stroke="#3cc43c" stroke-width="0.6"/>
<line x1="82.23" y1="649.14" x2="82.23" y2="650.7" stroke="#3cc43c" stroke-width="0.6"/>
<line x1="81.43" y1="649.14" x2="83.03" y2="649.14" stroke="#3cc43c" stroke-width="0.6"/>
<line x1="84.1" y1="650.41" x2="84.1" y2="652.12" stroke="#3cc43c" stroke-width="0.6"/>
<line x1="83.3" y1="650.41" x2="84.9" y2="650.41" stroke="#3cc43c" stroke-width="0.6"/>
<line x1="85.96" y1="646.99" x2="85.96" y2="648.88" stroke="#3cc43c" stroke-width="0.6"/>
<line x1="85.16" y1="646.99" x2="86.76" y2="646.99" stroke="#3cc43c" stroke-width="0.6"/>
<line x1="87.83" y1="644.16" x2="87.83" y2="648.84" stroke="#3cc43c" stroke-width="0.6"/>
<line x1="87.03" y1="644.16" x2="88.63" y2="644.16" stroke="#3cc43c" stroke-width="0.6"/>
<line x1="89.69" y1="650.68" x2="89.69" y2="651.14" stroke="#3cc43c" stroke-width="0.6"/>
<line x1="88.89" y1="650.68" x2="90.49" y2="650.68" stroke="#3cc43c" stroke-width="0.6"/>
<line x1="91.56" y1="653.18" x2="91.56" y2="659.51" stroke="#3cc43c" stroke-width="0.6"/>
<line x1="90.76" y1="653.18" x2="92.36" y2="653.18" stroke="#3cc43c" stroke-width="0.6"/>
<line x1="93.43" y1="652.29" x2="93.43" y2="662.45" stroke="#3cc43c" stroke-width="0.6"/>
<line x1="92.63" y1="652.29" x2="94.23" y2="652.29" stroke="#3cc43c" stroke-width="0.6"/>
<line x1="95.29" y1="654.89" x2="95.29" y2="658.14" stroke="#3cc43c" stroke-width="0.6"/>
<line x1="94.49" y1="654.89" x2="96.09" y2="654.89" stroke="#3cc43c" stroke-width="0.6"/>
<line x1="97.16" y1="661.57" x2="97.16" y2="664.26" stroke="#3cc43c" stroke-width="0.6"/>
<line x1="96.36" y1="661.57" x2="97.96" y2="661.57" stroke="#3cc43c" stroke-width="0.6"/>
<line x1="99.03" y1="656.03" x2="99.03" y2="660.69" stroke="#3cc43c" stroke-width="0.6"/>
<line x1="98.23" y1="656.03" x2="99.83" y2="656.03" stroke="#3cc43c" stroke-width="0.6"/>
<line x1="100.89" y1="654.5" x2="100.89" y2="664.57" stroke="#3cc43c" stroke-width="0.6"/>
<line x1="100.09" y1="654.5" x2="101.69" y2="654.5" stroke="#3cc43c" stroke-width="0.6"/>
<line x1="102.76" y1="659.44" x2="102.76" y2="660.1" stroke="#3cc43c" stroke-width="0.6"/>
<line x1="101.96" y1="659.44" x2="103.56" y2="659.44" stroke="#3cc43c" stroke-width="0.6"/>
<line x1="104.62" y1="659.01" x2="104.62" y2="659.73" stroke="#3cc43c" stroke-width="0.6"/>
<line x1="103.82" y1="659.01" x2="105.42" y2="659.01" stroke="#3cc43c" stroke-width="0.6"/>
<line x1="106.49" y1="661.8" x2="106.49" y2="662.35" stroke="#3cc43c" stroke-width="0.6"/>
<line x1="105.69" y1="661.8" x2="107.29" y2="661.8" stroke="#3cc43c" stroke-width="0.6"/>
<line x1="108.36" y1="660.6" x2="108.36" y2="662.2" stroke="#3cc43c" stroke-width="0.6"/>
<line x1="107.56" y1="660.6" x2="109.16" y2="660.6" stroke="#3cc43c" stroke-width="0.6"/>
<line x1="110.22" y1="657.28" x2="110.22" y2="658.38" stroke="#3cc43c" stroke-width="0.6"/>
<line x1="109.42" y1="657.28" x2="111.02" y2="657.28" stroke="#3cc43c" stroke-width="0.6"/>
<line x1="112.09" y1="660.63" x2="112.09" y2="662.79" stroke="#3cc43c" stroke-width="0.6"/>
<line x1="111.29" y1="660.63" x2="112.89" y2="660.63" stroke="#3cc43c" stroke-width="0.6"/>
<line x1="113.95" y1="660.92" x2="113.95" y2="661.82" stroke="#3cc43c" stroke-width="0.6"/>
<line x1="113.15" y1="660.92" x2="114.75" y2="660.92" stroke="#3cc43c" stroke-width="0.6"/>
<line x1="115.82" y1="662.64" x2="115.82" y2="663.1" stroke="#3cc43c" stroke-width="0.6"/>
<line x1="115.02" y1="662.64" x2="116.62" y2="662.64" stroke="#3cc43c" stroke-width="0.6"/>
<line x1="117.69" y1="660.29" x2="117.69" y2="661.03" stroke="#3cc43c" stroke-width="0.6"/>
<line x1="116.89" y1="660.29" x2="118.49" y2="660.29" stroke="#3cc43c" stroke-width="0.6"/>
<line x1="119.55" y1="652.46" x2="119.55" y2="663.35" stroke="#3cc43c" stroke-width="0.6"/>
<line x1="118.75" y1="652.46" x2="120.35" y2="652.46" stroke="#3cc43c" stroke-width="0.6"/>
<line x1="121.42" y1="654.09" x2="121.42" y2="658.94" stroke="#3cc43c" stroke-width="0.6"/>
<line x1="120.62" y1="654.09" x2="122.22" y2="654.09" stroke="#3cc43c" stroke-width="0.6"/>
<line x1="123.29" y1="656.32" x2="123.29" y2="658.61" stroke="#3cc43c" stroke-width="0.6"/>
<line x1="122.49" y1="656.32" x2="124.09" y2="656.32" stroke="#3cc43c" stroke-width="0.6"/>
<line x1="125.15" y1="655.79" x2="125.15" y2="658.79" stroke="#3cc43c" stroke-width="0.6"/>
<line x1="124.35" y1="655.79" x2="125.95" y2="655.79" stroke="#3cc43c" stroke-width="0.6"/>
<line x1="127.02" y1="656.77" x2="127.02" y2="657.6" stroke="#3cc43c" stroke-width="0.6"/>
<line x1="126.22" y1="656.77" x2="127.82" y2="656.77" stroke="#3cc43c" stroke-width="0.6"/>
<line x1="128.88" y1="657.14" x2="128.88" y2="657.78" stroke="#3cc43c" stroke-width="0.6"/>
<line x1="128.08" y1="657.14" x2="129.68" y2="657.14" stroke="#3cc43c" stroke-width="0.6"/>
<line x1="130.75" y1="655.2" x2="130.75" y2="656.72" stroke="#3cc43c" stroke-width="0.6"/>
<line x1="129.95" y1="655.2" x2="131.55" y2="655.2" stroke="#3cc43c" stroke-width="0.6"/>
<line x1="132.62" y1="657.72" x2="132.62" y2="658.24" stroke="#3cc43c" stroke-width="0.6"/>
<line x1="131.82" y1="657.72" x2="133.42" y2="657.72" stroke="#3cc43c" stroke-width="0.6"/>
<line x1="134.48" y1="655.14" x2="134.48" y2="655.71" stroke="#3cc43c" stroke-width="0.6"/>
<line x1="133.68" y1="655.14" x2="135.28" y2="655.14" stroke="#3cc43c" stroke-width="0.6"/>
<line x1="136.35" y1="657.13" x2="136.35" y2="657.74" stroke="#3cc43c" stroke-width="0.6"/>
<line x1="135.55" y1="657.13" x2="137.15" y2="657.13" stroke="#3cc43c" stroke-width="0.6"/>
<line x1="138.22" y1="655.72" x2="138.22" y2="664.63" stroke="#3cc43c" stroke-width="0.6"/>
<line x1="137.42" y1="655.72" x2="139.02" y2="655.72" stroke="#3cc43c" stroke-width="0.6"/>
<line x1="140.08" y1="659.04" x2="140.08" y2="659.69" stroke="#3cc43c" stroke-width="0.6"/>
<line x1="139.28" y1="659.04" x2="140.88" y2="659.04" stroke="#3cc43c" stroke-width="0.6"/>
<line x1="141.95" y1="656.75" x2="141.95" y2="657.38" stroke="#3cc43c" stroke-width="0.6"/>
<line x1="141.15" y1="656.75" x2="142.75" y2="656.75" stroke="#3cc43c" stroke-width="0.6"/>
<line x1="143.81" y1="656.61" x2="143.81" y2="658.13" stroke="#3cc43c" stroke-width="0.6"/>
<line x1="143.01" y1="656.61" x2="144.61" y2="656.61" stroke="#3cc43c" stroke-width="0.6"/>
<line x1="145.68" y1="653.85" x2="145.68" y2="663.53" stroke="#3cc43c" stroke-width="0.6"/>
<line x1="144.88" y1="653.85" x2="146.48" y2="653.85" stroke="#3cc43c" stroke-width="0.6"/>
<line x1="147.55" y1="657.33" x2="147.55" y2="658.03" stroke="#3cc43c" stroke-width="0.6"/>
<line x1="146.75" y1="657.33" x2="148.35" y2="657.33" stroke="#3cc43c" stroke-width="0.6"/>
<line x1="149.41" y1="652.16" x2="149.41" y2="659.3" stroke="#3cc43c" stroke-width="0.6"/>
<line x1="148.61" y1="652.16" x2="150.21" y2="652.16" stroke="#3cc43c" stroke-width="0.6"/>
<line x1="151.28" y1="653.75" x2="151.28" y2="656.59" stroke="#3cc43c" stroke-width="0.6"/>
<line x1="150.48" y1="653.75" x2="152.08" y2="653.75" stroke="#3cc43c" stroke-width="0.6"/>
<line x1="153.15" y1="653.49" x2="153.15" y2="654.86" stroke="#3cc43c" stroke-width="0.6"/>
<line x1="152.34" y1="653.49" x2="153.95" y2="653.49" stroke="#3cc43c" stroke-width="0.6"/>
<line x1="155.01" y1="656.59" x2="155.01" y2="658.08" stroke="#3cc43c" stroke-width="0.6"/>
<line x1="154.21" y1="656.59" x2="155.81" y2="656.59" stroke="#3cc43c" stroke-width="0.6"/>
<line x1="156.88" y1="653.29" x2="156.88" y2="656.33" stroke="#3cc43c" stroke-width="0.6"/>
<line x1="156.08" y1="653.29" x2="157.68" y2="653.29" stroke="#3cc43c" stroke-width="0.6"/>
<line x1="158.74" y1="649.88" x2="158.74" y2="656.95" stroke="#3cc43c" stroke-width="0.6"/>
<line x1="157.94" y1="649.88" x2="159.54" y2="649.88" stroke="#3cc43c" stroke-width="0.6"/>
<line x1="160.61" y1="652.58" x2="160.61" y2="656.6" stroke="#3cc43c" stroke-width="0.6"/>
<line x1="159.81" y1="652.58" x2="161.41" y2="652.58" stroke="#3cc43c" stroke-width="0.6"/>
<line x1="162.48" y1="650.49" x2="162.48" y2="653" stroke="#3cc43c" stroke-width="0.6"/>
<line x1="161.68" y1="650.49" x2="163.28" y2="650.49" stroke="#3cc43c" stroke-width="0.6"/>
<line x1="164.34" y1="654.5" x2="164.34" y2="657.32" stroke="#3cc43c" stroke-width="0.6"/>
<line x1="163.54" y1="654.5" x2="165.14" y2="654.5" stroke="#3cc43c" stroke-width="0.6"/>
<line x1="166.21" y1="654.44" x2="166.21" y2="655.32" stroke="#3cc43c" stroke-width="0.6"/>
<line x1="165.41" y1="654.44" x2="167.01" y2="654.44" stroke="#3cc43c" stroke-width="0.6"/>
<line x1="168.07" y1="652.82" x2="168.07" y2="655.96" stroke="#3cc43c" stroke-width="0.6"/>
<line x1="167.27" y1="652.82" x2="168.87" y2="652.82" stroke="#3cc43c" stroke-width="0.6"/>
<line x1="169.94" y1="653.17" x2="169.94" y2="657.57" stroke="#3cc43c" stroke-width="0.6"/>
<line x1="169.14" y1="653.17" x2="170.74" y2="653.17" stroke="#3cc43c" stroke-width="0.6"/>
<line x1="171.81" y1="653.46" x2="171.81" y2="655.66" stroke="#3cc43c" stroke-width="0.6"/>
<line x1="171.01" y1="653.46" x2="172.61" y2="653.46" stroke="#3cc43c" stroke-width="0.6"/>
<line x1="173.67" y1="653.51" x2="173.67" y2="654.25" stroke="#3cc43c" stroke-width="0.6"/>
<line x1="172.87" y1="653.51" x2="174.47" y2="653.51" stroke="#3cc43c" stroke-width="0.6"/>
<line x1="175.54" y1="649.44" x2="175.54" y2="659.08" stroke="#3cc43c" stroke-width="0.6"/>
<line x1="174.74" y1="649.44" x2="176.34" y2="649.44" stroke="#3cc43c" stroke-width="0.6"/>
<line x1="177.41" y1="654.24" x2="177.41" y2="655.79" stroke="#3cc43c" stroke-width="0.6"/>
<line x1="176.61" y1="654.24" x2="178.21" y2="654.24" stroke="#3cc43c" stroke-width="0.6"/>
<line x1="179.27" y1="654.49" x2="179.27" y2="655.13" stroke="#3cc43c" stroke-width="0.6"/>
<line x1="178.47" y1="654.49" x2="180.07" y2="654.49" stroke="#3cc43c" stroke-width="0.6"/>
<line x1="181.14" y1="649.01" x2="181.14" y2="658.99" stroke="#3cc43c" stroke-width="0.6"/>
<line x1="180.34" y1="649.01" x2="181.94" y2="649.01" stroke="#3cc43c" stroke-width="0.6"/>
<line x1="183" y1="656.14" x2="183" y2="657.24" stroke="#3cc43c" stroke-width="0.6"/>
<line x1="182.2" y1="656.14" x2="183.8" y2="656.14" stroke="#3cc43c" stroke-width="0.6"/>
<line x1="184.87" y1="651.98" x2="184.87" y2="654.61" stroke="#3cc43c" stroke-width="0.6"/>
<line x1="184.07" y1="651.98" x2="185.67" y2="651.98" stroke="#3cc43c" stroke-width="0.6"/>
<line x1="186.74" y1="654.55" x2="186.74" y2="656.74" stroke="#3cc43c" stroke-width="0.6"/>
<line x1="185.94" y1="654.55" x2="187.54" y2="654.55" stroke="#3cc43c" stroke-width="0.6"/>
<line x1="188.6" y1="653.11" x2="188.6" y2="654.73" stroke="#3cc43c" stroke-width="0.6"/>
<line x1="187.8" y1="653.11" x2="189.4" y2="653.11" stroke="#3cc43c" stroke-width="0.6"/>
<line x1="190.47" y1="654.47" x2="190.47" y2="656.38" stroke="#3cc43c" stroke-width="0.6"/>
<line x1="189.67" y1="654.47" x2="191.27" y2="654.47" stroke="#3cc43c" stroke-width="0.6"/>
<line x1="192.34" y1="652.13" x2="192.34" y2="653.98" stroke="#3cc43c" stroke-width="0.6"/>
<line x1="191.54" y1="652.13" x2="193.14" y2="652.13" stroke="#3cc43c" stroke-width="0.6"/>
<line x1="194.2" y1="653.01" x2="194.2" y2="654.72" stroke="#3cc43c" stroke-width="0.6"/>
<line x1="193.4" y1="653.01" x2="195" y2="653.01" stroke="#3cc43c" stroke-width="0.6"/>
<line x1="196.07" y1="653.22" x2="196.07" y2="653.87" stroke="#3cc43c" stroke-width="0.6"/>
<line x1="195.27" y1="653.22" x2="196.87" y2="653.22" stroke="#3cc43c" stroke-width="0.6"/>
<line x1="197.93" y1="653.84" x2="197.93" y2="654.88" stroke="#3cc43c" stroke-width="0.6"/>
<line x1="197.13" y1="653.84" x2="198.73" y2="653.84" stroke="#3cc43c" stroke-width="0.6"/>
<line x1="199.8" y1="651.96" x2="199.8" y2="653.28" stroke="#3cc43c" stroke-width="0.6"/>
<line x1="199" y1="651.96" x2="200.6" y2="651.96" stroke="#3cc43c" stroke-width="0.6"/>
<path d="M78.5,644.42 L80.36,645.15 L82.23,649.92 L84.1,651.26 L85.96,647.94 L87.83,646.5 L89.69,650.91 L91.56,656.35 L93.43,657.37 L95.29,656.51 L97.16,662.92 L99.03,658.36 L100.89,659.53 L102.76,659.77 L104.62,659.37 L106.49,662.07 L108.36,661.4 L110.22,657.83 L112.09,661.71 L113.95,661.37 L115.82,662.87 L117.69,660.66 L119.55,657.91 L121.42,656.51 L123.29,657.46 L125.15,657.29 L127.02,657.18 L128.88,657.46 L130.75,655.96 L132.62,657.98 L134.48,655.43 L136.35,657.43 L138.22,660.18 L140.08,659.36 L141.95,657.06 L143.81,657.37 L145.68,658.69 L147.55,657.68 L149.41,655.73 L151.28,655.17 L153.15,654.17 L155.01,657.33 L156.88,654.81 L158.74,653.42 L160.61,654.59 L162.48,651.74 L164.34,655.91 L166.21,654.88 L168.07,654.39 L169.94,655.37 L171.81,654.56 L173.67,653.88 L175.54,654.26 L177.41,655.02 L179.27,654.81 L181.14,654 L183,656.69 L184.87,653.3 L186.74,655.65 L188.6,653.92 L190.47,655.43 L192.34,653.06 L194.2,653.87 L196.07,653.54 L197.93,654.36 L199.8,652.62" stroke="#3cc43c" stroke-width="1" fill="none"/>
<circle cx="78.5" cy="644.42" r="1.6" fill="#3cc43c" stroke="none" stroke-width="1"/>
<circle cx="80.36" cy="645.15" r="1.6" fill="#3cc43c" stroke="none" stroke-width="1"/>
<circle cx="82.23" cy="649.92" r="1.6" fill="#3cc43c" stroke="none" stroke-width="1"/>
<circle cx="84.1" cy="651.26" r="1.6" fill="#3cc43c" stroke="none" stroke-width="1"/>
<circle cx="85.96" cy="647.94" r="1.6" fill="#3cc43c" stroke="none" stroke-width="1"/>
<circle cx="87.83" cy="646.5" r="1.6" fill="#3cc43c" stroke="none" stroke-width="1"/>
<circle cx="89.69" cy="650.91" r="1.6" fill="#3cc43c" stroke="none" stroke-width="1"/>
<circle cx="91.56" cy="656.35" r="1.6" fill="#3cc43c" stroke="none" stroke-width="1"/>
<circle cx="93.43" cy="657.37" r="1.6" fill="#3cc43c" stroke="none" stroke-width="1"/>
<circle cx="95.29" cy="656.51" r="1.6" fill="#3cc43c" stroke="none" stroke-width="1"/>
<circle cx="97.16" cy="662.92" r="1.6" fill="#3cc43c" stroke="none" stroke-width="1"/>
<circle cx="99.03" cy="658.36" r="1.6" fill="#3cc43c" stroke="none" stroke-width="1"/>
<circle cx="100.89" cy="659.53" r="1.6" fill="#3cc43c" stroke="none" stroke-width="1"/>
<circle cx="102.76" cy="659.77" r="1.6" fill="#3cc43c" stroke="none" stroke-width="1"/>
<circle cx="104.62" cy="659.37" r="1.6" fill="#3cc43c" stroke="none" stroke-width="1"/>
<circle cx="106.49" cy="662.07" r="1.6" fill="#3cc43c" stroke="none" stroke-width="1"/>
<circle cx="108.36" cy="661.4" r="1.6" fill="#3cc43c" stroke="none" stroke-width="1"/>
<circle cx="110.22" cy="657.83" r="1.6" fill="#3cc43c" stroke="none" stroke-width="1"/>
<circle cx="112.09" cy="661.71" r="1.6" fill="#3cc43c" stroke="none" stroke-width="1"/>
<circle cx="113.95" cy="661.37" r="1.6" fill="#3cc43c" stroke="none" stroke-width="1"/>
<circle cx="115.82" cy="662.87" r="1.6" fill="#3cc43c" stroke="none" stroke-width="1"/>
<circle cx="117.69" cy="660.66" r="1.6" fill="#3cc43c" stroke="none" stroke-width="1"/>
<circle cx="119.55" cy="657.91" r="1.6" fill="#3cc43c" stroke="none" stroke-width="1"/>
<circle cx="121.42" cy="656.51" r="1.6" fill="#3cc43c" stroke="none" stroke-width="1"/>
<circle cx="123.29" cy="657.46" r="1.6" fill="#3cc43c" stroke="none" stroke-width="1"/>
<circle cx="125.15" cy="657.29" r="1.6" fill="#3cc43c" stroke="none" stroke-width="1"/>
<circle cx="127.02" cy="657.18" r="1.6" fill="#3cc43c" stroke="none" stroke-width="1"/>
<circle cx="128.88" cy="657.46" r="1.6" fill="#3cc43c" stroke="none" stroke-width="1"/>
<circle cx="130.75" cy="655.96" r="1.6" fill="#3cc43c" stroke="none" stroke-width="1"/>
<circle cx="132.62" cy="657.98" r="1.6" fill="#3cc43c" stroke="none" stroke-width="1"/>
<circle cx="134.48" cy="655.43" r="1.6" fill="#3cc43c" stroke="none" stroke-width="1"/>
<circle cx="136.35" cy="657.43" r="1.6" fill="#3cc43c" stroke="none" stroke-width="1"/>
<circle cx="138.22" cy="660.18" r="1.6" fill="#3cc43c" stroke="none" stroke-width="1"/>
<circle cx="140.08" cy="659.36" r="1.6" fill="#3cc43c" stroke="none" stroke-width="1"/>
<circle cx="141.95" cy="657.06" r="1.6" fill="#3cc43c" stroke="none" stroke-width="1"/>
<circle cx="143.81" cy="657.37" r="1.6" fill="#3cc43c" stroke="none" stroke-width="1"/>
<circle cx="145.68" cy="658.69" r="1.6" fill="#3cc43c" stroke="none" stroke-width="1"/>
<circle cx="147.55" cy="657.68" r="1.6" fill="#3cc43c" stroke="none" stroke-width="1"/>
<circle cx="149.41" cy="655.73" r="1.6" fill="#3cc43c" stroke="none" stroke-width="1"/>
<circle cx="151.28" cy="655.17" r="1.6" fill="#3cc43c" stroke="none" stroke-width="1"/>
<circle cx="153.15" cy="654.17" r="1.6" fill="#3cc43c" stroke="none" stroke-width="1"/>
<circle cx="155.01" cy="657.33" r="1.6" fill="#3cc43c" stroke="none" stroke-width="1"/>
<circle cx="156.88" cy="654.81" r="1.6" fill="#3cc43c" stroke="none" stroke-width="1"/>
<circle cx="158.74" cy="653.42" r="1.6" fill="#3cc43c" stroke="none" stroke-width="1"/>
<circle cx="160.61" cy="654.59" r="1.6" fill="#3cc43c" stroke="none" stroke-width="1"/>
<circle cx="162.48" cy="651.74" r="1.6" fill="#3cc43c" stroke="none" stroke-width="1"/>
<circle cx="164.34" cy="655.91" r="1.6" fill="#3cc43c" stroke="none" stroke-width="1"/>
<circle cx="166.21" cy="654.88" r="1.6" fill="#3cc43c" stroke="none" stroke-width="1"/>
<circle cx="168.07" cy="654.39" r="1.6" fill="#3cc43c" stroke="none" stroke-width="1"/>
<circle cx="169.94" cy="655.37" r="1.6" fill="#3cc43c" stroke="none" stroke-width="1"/>
<circle cx="171.81" cy="654.56" r="1.6" fill="#3cc43c" stroke="none" stroke-width="1"/>
<circle cx="173.67" cy="653.88" r="1.6" fill="#3cc43c" stroke="none" stroke-width="1"/>
<circle cx="175.54" cy="654.26" r="1.6" fill="#3cc43c" stroke="none" stroke-width="1"/>
<circle cx="177.41" cy="655.02" r="1.6" fill="#3cc43c" stroke="none" stroke-width="1"/>
<circle cx="179.27" cy="654.81" r="1.6" fill="#3cc43c" stroke="none" stroke-width="1"/>
<circle cx="181.14" cy="654" r="1.6" fill="#3cc43c" stroke="none" stroke-width="1"/>
<circle cx="183" cy="656.69" r="1.6" fill="#3cc43c" stroke="none" stroke-width="1"/>
<circle cx="184.87" cy="653.3" r="1.6" fill="#3cc43c" stroke="none" stroke-width="1"/>
<circle cx="186.74" cy="655.65" r="1.6" fill="#3cc43c" stroke="none" stroke-width="1"/>
<circle cx="188.6" cy="653.92" r="1.6" fill="#3cc43c" stroke="none" stroke-width="1"/>
<circle cx="190.47" cy="655.43" r="1.6" fill="#3cc43c" stroke="none" stroke-width="1"/>
<circle cx="192.34" cy="653.06" r="1.6" fill="#3cc43c" stroke="none" stroke-width="1"/>
<circle cx="194.2" cy="653.87" r="1.6" fill="#3cc43c" stroke="none" stroke-width="1"/>
<circle cx="196.07" cy="653.54" r="1.6" fill="#3cc43c" stroke="none" stroke-width="1"/>
<circle cx="197.93" cy="654.36" r="1.6" fill="#3cc43c" stroke="none" stroke-width="1"/>
<circle cx="199.8" cy="652.62" r="1.6" fill="#3cc43c" stroke="none" stroke-width="1"/>
<line x1="78.5" y1="645.78" x2="78.5" y2="648.13" stroke="#f7931e" stroke-width="0.6"/>
<line x1="77.7" y1="645.78" x2="79.3" y2="645.78" stroke="#f7931e" stroke-width="0.6"/>
<line x1="80.36" y1="642.83" x2="80.36" y2="645.33" stroke="#f7931e" stroke-width="0.6"/>
<line x1="79.56" y1="642.83" x2="81.16" y2="642.83" stroke="#f7931e" stroke-width="0.6"/>
<line x1="82.23" y1="647.96" x2="82.23" y2="649.6" stroke="#f7931e" stroke-width="0.6"/>
<line x1="81.43" y1="647.96" x2="83.03" y2="647.96" stroke="#f7931e" stroke-width="0.6"/>
<line x1="84.1" y1="650.69" x2="84.1" y2="651.22" stroke="#f7931e" stroke-width="0.6"/>
<line x1="83.3" y1="650.69" x2="84.9" y2="650.69" stroke="#f7931e" stroke-width="0.6"/>
<line x1="85.96" y1="646.71" x2="85.96" y2="647.66" stroke="#f7931e" stroke-width="0.6"/>
<line x1="85.16" y1="646.71" x2="86.76" y2="646.71" stroke="#f7931e" stroke-width="0.6"/>
<line x1="87.83" y1="645.36" x2="87.83" y2="648.01" stroke="#f7931e" stroke-width="0.6"/>
<line x1="87.03" y1="645.36" x2="88.63" y2="645.36" stroke="#f7931e" stroke-width="0.6"/>
<line x1="89.69" y1="648.68" x2="89.69" y2="651.42" stroke="#f7931e" stroke-width="0.6"/>
<line x1="88.89" y1="648.68" x2="90.49" y2="648.68" stroke="#f7931e" stroke-width="0.6"/>
<line x1="91.56" y1="651.8" x2="91.56" y2="654.13" stroke="#f7931e" stroke-width="0.6"/>
<line x1="90.76" y1="651.8" x2="92.36" y2="651.8" stroke="#f7931e" stroke-width="0.6"/>
<line x1="93.43" y1="657.06" x2="93.43" y2="657.64" stroke="#f7931e" stroke-width="0.6"/>
<line x1="92.63" y1="657.06" x2="94.23" y2="657.06" stroke="#f7931e" stroke-width="0.6"/>
<line x1="95.29" y1="657.16" x2="95.29" y2="665.74" stroke="#f7931e" stroke-width="0.6"/>
<line x1="94.49" y1="657.16" x2="96.09" y2="657.16" stroke="#f7931e" stroke-width="0.6"/>
<line x1="97.16" y1="661.33" x2="97.16" y2="664.21" stroke="#f7931e" stroke-width="0.6"/>
<line x1="96.36" y1="661.33" x2="97.96" y2="661.33" stroke="#f7931e" stroke-width="0.6"/>
<line x1="99.03" y1="660.89" x2="99.03" y2="662.84" stroke="#f7931e" stroke-width="0.6"/>
<line x1="98.23" y1="660.89" x2="99.83" y2="660.89" stroke="#f7931e" stroke-width="0.6"/>
<line x1="100.89" y1="662.08" x2="100.89" y2="662.59" stroke="#f7931e" stroke-width="0.6"/>
<line x1="100.09" y1="662.08" x2="101.69" y2="662.08" stroke="#f7931e" stroke-width="0.6"/>
<line x1="102.76" y1="654.6" x2="102.76" y2="665.27" stroke="#f7931e" stroke-width="0.6"/>
<line x1="101.96" y1="654.6" x2="103.56" y2="654.6" stroke="#f7931e" stroke-width="0.6"/>
<line x1="104.62" y1="659.92" x2="104.62" y2="661.44" stroke="#f7931e" stroke-width="0.6"/>
<line x1="103.82" y1="659.92" x2="105.42" y2="659.92" stroke="#f7931e" stroke-width="0.6"/>
<line x1="106.49" y1="661.2" x2="106.49" y2="667.78" stroke="#f7931e" stroke-width="0.6"/>
<line x1="105.69" y1="661.2" x2="107.29" y2="661.2" stroke="#f7931e" stroke-width="0.6"/>
<line x1="108.36" y1="659.86" x2="108.36" y2="661.81" stroke="#f7931e" stroke-width="0.6"/>
<line x1="107.56" y1="659.86" x2="109.16" y2="659.86" stroke="#f7931e" stroke-width="0.6"/>
<line x1="110.22" y1="659.79" x2="110.22" y2="665" stroke="#f7931e" stroke-width="0.6"/>
<line x1="109.42" y1="659.79" x2="111.02" y2="659.79" stroke="#f7931e" stroke-width="0.6"/>
<line x1="112.09" y1="657.22" x2="112.09" y2="662.01" stroke="#f7931e" stroke-width="0.6"/>
<line x1="111.29" y1="657.22" x2="112.89" y2="657.22" stroke="#f7931e" stroke-width="0.6"/>
<line x1="113.95" y1="655.8" x2="113.95" y2="660.7" stroke="#f7931e" stroke-width="0.6"/>
<line x1="113.15" y1="655.8" x2="114.75" y2="655.8" stroke="#f7931e" stroke-width="0.6"/>
<line x1="115.82" y1="659.07" x2="115.82" y2="659.9" stroke="#f7931e" stroke-width="0.6"/>
<line x1="115.02" y1="659.07" x2="116.62" y2="659.07" stroke="#f7931e" stroke-width="0.6"/>
<line x1="117.69" y1="662.44" x2="117.69" y2="664.43" stroke="#f7931e" stroke-width="0.6"/>
<line x1="116.89" y1="662.44" x2="118.49" y2="662.44" stroke="#f7931e" stroke-width="0.6"/>
<line x1="119.55" y1="656.76" x2="119.55" y2="659.4" stroke="#f7931e" stroke-width="0.6"/>
<line x1="118.75" y1="656.76" x2="120.35" y2="656.76" stroke="#f7931e" stroke-width="0.6"/>
<line x1="121.42" y1="661.44" x2="121.42" y2="662.15" stroke="#f7931e" stroke-width="0.6"/>
<line x1="120.62" y1="661.44" x2="122.22" y2="661.44" stroke="#f7931e" stroke-width="0.6"/>
<line x1="123.29" y1="655.18" x2="123.29" y2="655.72" stroke="#f7931e" stroke-width="0.6"/>
<line x1="122.49" y1="655.18" x2="124.09" y2="655.18" stroke="#f7931e" stroke-width="0.6"/>
<line x1="125.15" y1="656.57" x2="125.15" y2="662.63" stroke="#f7931e" stroke-width="0.6"/>
<line x1="124.35" y1="656.57" x2="125.95" y2="656.57" stroke="#f7931e" stroke-width="0.6"/>
<line x1="127.02" y1="657.66" x2="127.02" y2="659.3" stroke="#f7931e" stroke-width="0.6"/>
<line x1="126.22" y1="657.66" x2="127.82" y2="657.66" stroke="#f7931e" stroke-width="0.6"/>
<line x1="128.88" y1="653.34" x2="128.88" y2="655.35" stroke="#f7931e" stroke-width="0.6"/>
<line x1="128.08" y1="653.34" x2="129.68" y2="653.34" stroke="#f7931e" stroke-width="0.6"/>
<line x1="130.75" y1="660.92" x2="130.75" y2="661.39" stroke="#f7931e" stroke-width="0.6"/>
<line x1="129.95" y1="660.92" x2="131.55" y2="660.92" stroke="#f7931e" stroke-width="0.6"/>
<line x1="132.62" y1="654.68" x2="132.62" y2="660.21" stroke="#f7931e" stroke-width="0.6"/>
<line x1="131.82" y1="654.68" x2="133.42" y2="654.68" stroke="#f7931e" stroke-width="0.6"/>
<line x1="134.48" y1="657.14" x2="134.48" y2="661.66" stroke="#f7931e" stroke-width="0.6"/>
<line x1="133.68" y1="657.14" x2="135.28" y2="657.14" stroke="#f7931e" stroke-width="0.6"/>
<line x1="136.35" y1="655.92" x2="136.35" y2="660.3" stroke="#f7931e" stroke-width="0.6"/>
<line x1="135.55" y1="655.92" x2="137.15" y2="655.92" stroke="#f7931e" stroke-width="0.6"/>
<line x1="138.22" y1="658.23" x2="138.22" y2="658.69" stroke="#f7931e" stroke-width="0.6"/>
<line x1="137.42" y1="658.23" x2="139.02" y2="658.23" stroke="#f7931e" stroke-width="0.6"/>
<line x1="140.08" y1="654.84" x2="140.08" y2="655.86" stroke="#f7931e" stroke-width="0.6"/>
<line x1="139.28" y1="654.84" x2="140.88" y2="654.84" stroke="#f7931e" stroke-width="0.6"/>
<line x1="141.95" y1="655.75" x2="141.95" y2="658.41" stroke="#f7931e" stroke-width="0.6"/>
<line x1="141.15" y1="655.75" x2="142.75" y2="655.75" stroke="#f7931e" stroke-width="0.6"/>
<line x1="143.81" y1="655.36" x2="143.81" y2="655.84" stroke="#f7931e" stroke-width="0.6"/>
<line x1="143.01" y1="655.36" x2="144.61" y2="655.36" stroke="#f7931e" stroke-width="0.6"/>
<line x1="145.68" y1="653.68" x2="145.68" y2="655.2" stroke="#f7931e" stroke-width="0.6"/>
<line x1="144.88" y1="653.68" x2="146.48" y2="653.68" stroke="#f7931e" stroke-width="0.6"/>
<line x1="147.55" y1="652.86" x2="147.55" y2="664.03" stroke="#f7931e" stroke-width="0.6"/>
<line x1="146.75" y1="652.86" x2="148.35" y2="652.86" stroke="#f7931e" stroke-width="0.6"/>
<line x1="149.41" y1="651.48" x2="149.41" y2="651.98" stroke="#f7931e" stroke-width="0.6"/>
<line x1="148.61" y1="651.48" x2="150.21" y2="651.48" stroke="#f7931e" stroke-width="0.6"/>
<line x1="151.28" y1="653.16" x2="151.28" y2="655.55" stroke="#f7931e" stroke-width="0.6"/>
<line x1="150.48" y1="653.16" x2="152.08" y2="653.16" stroke="#f7931e" stroke-width="0.6"/>
<line x1="153.15" y1="655.41" x2="153.15" y2="657.63" stroke="#f7931e" stroke-width="0.6"/>
<line x1="152.34" y1="655.41" x2="153.95" y2="655.41" stroke="#f7931e" stroke-width="0.6"/>
<line x1="155.01" y1="651.46" x2="155.01" y2="656.44" stroke="#f7931e" stroke-width="0.6"/>
<line x1="154.21" y1="651.46" x2="155.81" y2="651.46" stroke="#f7931e" stroke-width="0.6"/>
<line x1="156.88" y1="650.59" x2="156.88" y2="651.06" stroke="#f7931e" stroke-width="0.6"/>
<line x1="156.08" y1="650.59" x2="157.68" y2="650.59" stroke="#f7931e" stroke-width="0.6"/>
<line x1="158.74" y1="649.92" x2="158.74" y2="651.01" stroke="#f7931e" stroke-width="0.6"/>
<line x1="157.94" y1="649.92" x2="159.54" y2="649.92" stroke="#f7931e" stroke-width="0.6"/>
<line x1="160.61" y1="652.27" x2="160.61" y2="655.09" stroke="#f7931e" stroke-width="0.6"/>
<line x1="159.81" y1="652.27" x2="161.41" y2="652.27" stroke="#f7931e" stroke-width="0.6"/>
<line x1="162.48" y1="650.79" x2="162.48" y2="653.27" stroke="#f7931e" stroke-width="0.6"/>
<line x1="161.68" y1="650.79" x2="163.28" y2="650.79" stroke="#f7931e" stroke-width="0.6"/>
<line x1="164.34" y1="650.9" x2="164.34" y2="652.41" stroke="#f7931e" stroke-width="0.6"/>
<line x1="163.54" y1="650.9" x2="165.14" y2="650.9" stroke="#f7931e" stroke-width="0.6"/>
<line x1="166.21" y1="648.69" x2="166.21" y2="651.29" stroke="#f7931e" stroke-width="0.6"/>
<line x1="165.41" y1="648.69" x2="167.01" y2="648.69" stroke="#f7931e" stroke-width="0.6"/>
<line x1="168.07" y1="650.24" x2="168.07" y2="654.14" stroke="#f7931e" stroke-width="0.6"/>
<line x1="167.27" y1="650.24" x2="168.87" y2="650.24" stroke="#f7931e" stroke-width="0.6"/>
<line x1="169.94" y1="644.57" x2="169.94" y2="655.21" stroke="#f7931e" stroke-width="0.6"/>
<line x1="169.14" y1="644.57" x2="170.74" y2="644.57" stroke="#f7931e" stroke-width="0.6"/>
<line x1="171.81" y1="651.43" x2="171.81" y2="655.53" stroke="#f7931e" stroke-width="0.6"/>
<line x1="171.01" y1="651.43" x2="172.61" y2="651.43" stroke="#f7931e" stroke-width="0.6"/>
<line x1="173.67" y1="652.49" x2="173.67" y2="653.59" stroke="#f7931e" stroke-width="0.6"/>
<line x1="172.87" y1="652.49" x2="174.47" y2="652.49" stroke="#f7931e" stroke-width="0.6"/>
<line x1="175.54" y1="647.27" x2="175.54" y2="653.14" stroke="#f7931e" stroke-width="0.6"/>
<line x1="174.74" y1="647.27" x2="176.34" y2="647.27" stroke="#f7931e" stroke-width="0.6"/>
<line x1="177.41" y1="649.63" x2="177.41" y2="650.34" stroke="#f7931e" stroke-width="0.6"/>
<line x1="176.61" y1="649.63" x2="178.21" y2="649.63" stroke="#f7931e" stroke-width="0.6"/>
<line x1="179.27" y1="651.08" x2="179.27" y2="651.54" stroke="#f7931e" stroke-width="0.6"/>
<line x1="178.47" y1="651.08" x2="180.07" y2="651.08" stroke="#f7931e" stroke-width="0.6"/>
<line x1="181.14" y1="649.23" x2="181.14" y2="650.41" stroke="#f7931e" stroke-width="0.6"/>
<line x1="180.34" y1="649.23" x2="181.94" y2="649.23" stroke="#f7931e" stroke-width="0.6"/>
<line x1="183" y1="648.97" x2="183" y2="651.83" stroke="#f7931e" stroke-width="0.6"/>
<line x1="182.2" y1="648.97" x2="183.8" y2="648.97" stroke="#f7931e" stroke-width="0.6"/>
<line x1="184.87" y1="648.07" x2="184.87" y2="650.11" stroke="#f7931e" stroke-width="0.6"/>
<line x1="184.07" y1="648.07" x2="185.67" y2="648.07" stroke="#f7931e" stroke-width="0.6"/>
<line x1="186.74" y1="647.78" x2="186.74" y2="648.43" stroke="#f7931e" stroke-width="0.6"/>
<line x1="185.94" y1="647.78" x2="187.54" y2="647.78" stroke="#f7931e" stroke-width="0.6"/>
<line x1="188.6" y1="646.15" x2="188.6" y2="652.2" stroke="#f7931e" stroke-width="0.6"/>
<line x1="187.8" y1="646.15" x2="189.4" y2="646.15" stroke="#f7931e" stroke-width="0.6"/>
<line x1="190.47" y1="644.12" x2="190.47" y2="652.63" stroke="#f7931e" stroke-width="0.6"/>
<line x1="189.67" y1="644.12" x2="191.27" y2="644.12" stroke="#f7931e" stroke-width="0.6"/>
<line x1="192.34" y1="649.49" x2="192.34" y2="651.66" stroke="#f7931e" stroke-width="0.6"/>
<line x1="191.54" y1="649.49" x2="193.14" y2="649.49" stroke="#f7931e" stroke-width="0.6"/>
<line x1="194.2" y1="649.97" x2="194.2" y2="651.43" stroke="#f7931e" stroke-width="0.6"/>
<line x1="193.4" y1="649.97" x2="195" y2="649.97" stroke="#f7931e" stroke-width="0.6"/>
<line x1="196.07" y1="652.67" x2="196.07" y2="655.41" stroke="#f7931e" stroke-width="0.6"/>
<line x1="195.27" y1="652.67" x2="196.87" y2="652.67" stroke="#f7931e" stroke-width="0.6"/>
<line x1="197.93" y1="647.33" x2="197.93" y2="649.43" stroke="#f7931e" stroke-width="0.6"/>
<line x1="197.13" y1="647.33" x2="198.73" y2="647.33" stroke="#f7931e" stroke-width="0.6"/>
<line x1="199.8" y1="647.77" x2="199.8" y2="650.08" stroke="#f7931e" stroke-width="0.6"/>
<line x1="199" y1="647.77" x2="200.6" y2="647.77" stroke="#f7931e" stroke-width="0.6"/>
<path d="M78.5,646.95 L80.36,644.08 L82.23,648.78 L84.1,650.96 L85.96,647.19 L87.83,646.69 L89.69,650.05 L91.56,652.96 L93.43,657.35 L95.29,661.45 L97.16,662.77 L99.03,661.87 L100.89,662.33 L102.76,659.93 L104.62,660.68 L106.49,664.49 L108.36,660.83 L110.22,662.4 L112.09,659.61 L113.95,658.25 L115.82,659.49 L117.69,663.44 L119.55,658.08 L121.42,661.8 L123.29,655.45 L125.15,659.6 L127.02,658.48 L128.88,654.34 L130.75,661.16 L132.62,657.44 L134.48,659.4 L136.35,658.11 L138.22,658.46 L140.08,655.35 L141.95,657.08 L143.81,655.6 L145.68,654.44 L147.55,658.45 L149.41,651.73 L151.28,654.35 L153.15,656.52 L155.01,653.95 L156.88,650.82 L158.74,650.47 L160.61,653.68 L162.48,652.03 L164.34,651.66 L166.21,649.99 L168.07,652.19 L169.94,649.89 L171.81,653.48 L173.67,653.04 L175.54,650.21 L177.41,649.99 L179.27,651.31 L181.14,649.82 L183,650.4 L184.87,649.09 L186.74,648.11 L188.6,649.18 L190.47,648.38 L192.34,650.58 L194.2,650.7 L196.07,654.04 L197.93,648.38 L199.8,648.92" stroke="#f7931e" stroke-width="1" fill="none"/>
<circle cx="78.5" cy="646.95" r="1.6" fill="#f7931e" stroke="none" stroke-width="1"/>
<circle cx="80.36" cy="644.08" r="1.6" fill="#f7931e" stroke="none" stroke-width="1"/>
<circle cx="82.23" cy="648.78" r="1.6" fill="#f7931e" stroke="none" stroke-width="1"/>
<circle cx="84.1" cy="650.96" r="1.6" fill="#f7931e" stroke="none" stroke-width="1"/>
<circle cx="85.96" cy="647.19" r="1.6" fill="#f7931e" stroke="none" stroke-width="1"/>
<circle cx="87.83" cy="646.69" r="1.6" fill="#f7931e" stroke="none" stroke-width="1"/>
<circle cx="89.69" cy="650.05" r="1.6" fill="#f7931e" stroke="none" stroke-width="1"/>
<circle cx="91.56" cy="652.96" r="1.6" fill="#f7931e" stroke="none" stroke-width="1"/>
<circle cx="93.43" cy="657.35" r="1.6" fill="#f7931e" stroke="none" stroke-width="1"/>
<circle cx="95.29" cy="661.45" r="1.6" fill="#f7931e" stroke="none" stroke-width="1"/>
<circle cx="97.16" cy="662.77" r="1.6" fill="#f7931e" stroke="none" stroke-width="1"/>
<circle cx="99.03" cy="661.87" r="1.6" fill="#f7931e" stroke="none" stroke-width="1"/>
<circle cx="100.89" cy="662.33" r="1.6" fill="#f7931e" stroke="none" stroke-width="1"/>
<circle cx="102.76" cy="659.93" r="1.6" fill="#f7931e" stroke="none" stroke-width="1"/>
<circle cx="104.62" cy="660.68" r="1.6" fill="#f7931e" stroke="none" stroke-width="1"/>
<circle cx="106.49" cy="664.49" r="1.6" fill="#f7931e" stroke="none" stroke-width="1"/>
<circle cx="108.36" cy="660.83" r="1.6" fill="#f7931e" stroke="none" stroke-width="1"/>
<circle cx="110.22" cy="662.4" r="1.6" fill="#f7931e" stroke="none" stroke-width="1"/>
<circle cx="112.09" cy="659.61" r="1.6" fill="#f7931e" stroke="none" stroke-width="1"/>
<circle cx="113.95" cy="658.25" r="1.6" fill="#f7931e" stroke="none" stroke-width="1"/>
<circle cx="115.82" cy="659.49" r="1.6" fill="#f7931e" stroke="none" stroke-width="1"/>
<circle cx="117.69" cy="663.44" r="1.6" fill="#f7931e" stroke="none" stroke-width="1"/>
<circle cx="119.55" cy="658.08" r="1.6" fill="#f7931e" stroke="none" stroke-width="1"/>
<circle cx="121.42" cy="661.8" r="1.6" fill="#f7931e" stroke="none" stroke-width="1"/>
<circle cx="123.29" cy="655.45" r="1.6" fill="#f7931e" stroke="none" stroke-width="1"/>
<circle cx="125.15" cy="659.6" r="1.6" fill="#f7931e" stroke="none" stroke-width="1"/>
<circle cx="127.02" cy="658.48" r="1.6" fill="#f7931e" stroke="none" stroke-width="1"/>
<circle cx="128.88" cy="654.34" r="1.6" fill="#f7931e" stroke="none" stroke-width="1"/>
<circle cx="130.75" cy="661.16" r="1.6" fill="#f7931e" stroke="none" stroke-width="1"/>
<circle cx="132.62" cy="657.44" r="1.6" fill="#f7931e" stroke="none" stroke-width="1"/>
<circle cx="134.48" cy="659.4" r="1.6" fill="#f7931e" stroke="none" stroke-width="1"/>
<circle cx="136.35" cy="658.11" r="1.6" fill="#f7931e" stroke="none" stroke-width="1"/>
<circle cx="138.22" cy="658.46" r="1.6" fill="#f7931e" stroke="none" stroke-width="1"/>
<circle cx="140.08" cy="655.35" r="1.6" fill="#f7931e" stroke="none" stroke-width="1"/>
<circle cx="141.95" cy="657.08" r="1.6" fill="#f7931e" stroke="none" stroke-width="1"/>
<circle cx="143.81" cy="655.6" r="1.6" fill="#f7931e" stroke="none" stroke-width="1"/>
<circle cx="145.68" cy="654.44" r="1.6" fill="#f7931e" stroke="none" stroke-width="1"/>
<circle cx="147.55" cy="658.45" r="1.6" fill="#f7931e" stroke="none" stroke-width="1"/>
<circle cx="149.41" cy="651.73" r="1.6" fill="#f7931e" stroke="none" stroke-width="1"/>
<circle cx="151.28" cy="654.35" r="1.6" fill="#f7931e" stroke="none" stroke-width="1"/>
<circle cx="153.15" cy="656.52" r="1.6" fill="#f7931e" stroke="none" stroke-width="1"/>
<circle cx="155.01" cy="653.95" r="1.6" fill="#f7931e" stroke="none" stroke-width="1"/>
<circle cx="156.88" cy="650.82" r="1.6" fill="#f7931e" stroke="none" stroke-width="1"/>
<circle cx="158.74" cy="650.47" r="1.6" fill="#f7931e" stroke="none" stroke-width="1"/>
<circle cx="160.61" cy="653.68" r="1.6" fill="#f7931e" stroke="none" stroke-width="1"/>
<circle cx="162.48" cy="652.03" r="1.6" fill="#f7931e" stroke="none" stroke-width="1"/>
<circle cx="164.34" cy="651.66" r="1.6" fill="#f7931e" stroke="none" stroke-width="1"/>
<circle cx="166.21" cy="649.99" r="1.6" fill="#f7931e" stroke="none" stroke-width="1"/>
<circle cx="168.07" cy="652.19" r="1.6" fill="#f7931e" stroke="none" stroke-width="1"/>
<circle cx="169.94" cy="649.89" r="1.6" fill="#f7931e" stroke="none" stroke-width="1"/>
<circle cx="171.81" cy="653.48" r="1.6" fill="#f7931e" stroke="none" stroke-width="1"/>
<circle cx="173.67" cy="653.04" r="1.6" fill="#f7931e" stroke="none" stroke-width="1"/>
<circle cx="175.54" cy="650.21" r="1.6" fill="#f7931e" stroke="none" stroke-width="1"/>
<circle cx="177.41" cy="649.99" r="1.6" fill="#f7931e" stroke="none" stroke-width="1"/>
<circle cx="179.27" cy="651.31" r="1.6" fill="#f7931e" stroke="none" stroke-width="1"/>
<circle cx="181.14" cy="649.82" r="1.6" fill="#f7931e" stroke="none" stroke-width="1"/>
<circle cx="183" cy="650.4" r="1.6" fill="#f7931e" stroke="none" stroke-width="1"/>
<circle cx="184.87" cy="649.09" r="1.6" fill="#f7931e" stroke="none" stroke-width="1"/>
<circle cx="186.74" cy="648.11" r="1.6" fill="#f7931e" stroke="none" stroke-width="1"/>
<circle cx="188.6" cy="649.18" r="1.6" fill="#f7931e" stroke="none" stroke-width="1"/>
<circle cx="190.47" cy="648.38" r="1.6" fill="#f7931e" stroke="none" stroke-width="1"/>
<circle cx="192.34" cy="650.58" r="1.6" fill="#f7931e" stroke="none" stroke-width="1"/>
<circle cx="194.2" cy="650.7" r="1.6" fill="#f7931e" stroke="none" stroke-width="1"/>
<circle cx="196.07" cy="654.04" r="1.6" fill="#f7931e" stroke="none" stroke-width="1"/>
<circle cx="197.93" cy="648.38" r="1.6" fill="#f7931e" stroke="none" stroke-width="1"/>
<circle cx="199.8" cy="648.92" r="1.6" fill="#f7931e" stroke="none" stroke-width="1"/>
<line x1="78.5" y1="642.62" x2="78.5" y2="647.8" stroke="#a545d8" stroke-width="0.6"/>
<line x1="77.7" y1="642.62" x2="79.3" y2="642.62" stroke="#a545d8" stroke-width="0.6"/>
<line x1="80.36" y1="644.74" x2="80.36" y2="647.04" stroke="#a545d8" stroke-width="0.6"/>
<line x1="79.56" y1="644.74" x2="81.16" y2="644.74" stroke="#a545d8" stroke-width="0.6"/>
<line x1="82.23" y1="645.36" x2="82.23" y2="646.99" stroke="#a545d8" stroke-width="0.6"/>
<line x1="81.43" y1="645.36" x2="83.03" y2="645.36" stroke="#a545d8" stroke-width="0.6"/>
<line x1="84.1" y1="645.68" x2="84.1" y2="649.73" stroke="#a545d8" stroke-width="0.6"/>
<line x1="83.3" y1="645.68" x2="84.9" y2="645.68" stroke="#a545d8" stroke-width="0.6"/>
<line x1="85.96" y1="640.23" x2="85.96" y2="651.93" stroke="#a545d8" stroke-width="0.6"/>
<line x1="85.16" y1="640.23" x2="86.76" y2="640.23" stroke="#a545d8" stroke-width="0.6"/>
<line x1="87.83" y1="644.73" x2="87.83" y2="648.88" stroke="#a545d8" stroke-width="0.6"/>
<line x1="87.03" y1="644.73" x2="88.63" y2="644.73" stroke="#a545d8" stroke-width="0.6"/>
<line x1="89.69" y1="635.66" x2="89.69" y2="645.24" stroke="#a545d8" stroke-width="0.6"/>
<line x1="88.89" y1="635.66" x2="90.49" y2="635.66" stroke="#a545d8" stroke-width="0.6"/>
<line x1="91.56" y1="640.51" x2="91.56" y2="643.75" stroke="#a545d8" stroke-width="0.6"/>
<line x1="90.76" y1="640.51" x2="92.36" y2="640.51" stroke="#a545d8" stroke-width="0.6"/>
<line x1="93.43" y1="633.87" x2="93.43" y2="634.52" stroke="#a545d8" stroke-width="0.6"/>
<line x1="92.63" y1="633.87" x2="94.23" y2="633.87" stroke="#a545d8" stroke-width="0.6"/>
<line x1="95.29" y1="642.71" x2="95.29" y2="655.69" stroke="#a545d8" stroke-width="0.6"/>
<line x1="94.49" y1="642.71" x2="96.09" y2="642.71" stroke="#a545d8" stroke-width="0.6"/>
<line x1="97.16" y1="634.95" x2="97.16" y2="649.19" stroke="#a545d8" stroke-width="0.6"/>
<line x1="96.36" y1="634.95" x2="97.96" y2="634.95" stroke="#a545d8" stroke-width="0.6"/>
<line x1="99.03" y1="640.51" x2="99.03" y2="641.25" stroke="#a545d8" stroke-width="0.6"/>
<line x1="98.23" y1="640.51" x2="99.83" y2="640.51" stroke="#a545d8" stroke-width="0.6"/>
<line x1="100.89" y1="642.83" x2="100.89" y2="644.49" stroke="#a545d8" stroke-width="0.6"/>
<line x1="100.09" y1="642.83" x2="101.69" y2="642.83" stroke="#a545d8" stroke-width="0.6"/>
<line x1="102.76" y1="642.42" x2="102.76" y2="647.68" stroke="#a545d8" stroke-width="0.6"/>
<line x1="101.96" y1="642.42" x2="103.56" y2="642.42" stroke="#a545d8" stroke-width="0.6"/>
<line x1="104.62" y1="641.04" x2="104.62" y2="645.56" stroke="#a545d8" stroke-width="0.6"/>
<line x1="103.82" y1="641.04" x2="105.42" y2="641.04" stroke="#a545d8" stroke-width="0.6"/>
<line x1="106.49" y1="641.09" x2="106.49" y2="641.73" stroke="#a545d8" stroke-width="0.6"/>
<line x1="105.69" y1="641.09" x2="107.29" y2="641.09" stroke="#a545d8" stroke-width="0.6"/>
<line x1="108.36" y1="638.97" x2="108.36" y2="641.14" stroke="#a545d8" stroke-width="0.6"/>
<line x1="107.56" y1="638.97" x2="109.16" y2="638.97" stroke="#a545d8" stroke-width="0.6"/>
<line x1="110.22" y1="645.23" x2="110.22" y2="648.77" stroke="#a545d8" stroke-width="0.6"/>
<line x1="109.42" y1="645.23" x2="111.02" y2="645.23" stroke="#a545d8" stroke-width="0.6"/>
<line x1="112.09" y1="639.19" x2="112.09" y2="645.72" stroke="#a545d8" stroke-width="0.6"/>
<line x1="111.29" y1="639.19" x2="112.89" y2="639.19" stroke="#a545d8" stroke-width="0.6"/>
<line x1="113.95" y1="641.9" x2="113.95" y2="646.92" stroke="#a545d8" stroke-width="0.6"/>
<line x1="113.15" y1="641.9" x2="114.75" y2="641.9" stroke="#a545d8" stroke-width="0.6"/>
<line x1="115.82" y1="638.42" x2="115.82" y2="641.52" stroke="#a545d8" stroke-width="0.6"/>
<line x1="115.02" y1="638.42" x2="116.62" y2="638.42" stroke="#a545d8" stroke-width="0.6"/>
<line x1="117.69" y1="640.22" x2="117.69" y2="647.13" stroke="#a545d8" stroke-width="0.6"/>
<line x1="116.89" y1="640.22" x2="118.49" y2="640.22" stroke="#a545d8" stroke-width="0.6"/>
<line x1="119.55" y1="640.55" x2="119.55" y2="643.14" stroke="#a545d8" stroke-width="0.6"/>
<line x1="118.75" y1="640.55" x2="120.35" y2="640.55" stroke="#a545d8" stroke-width="0.6"/>
<line x1="121.42" y1="638.84" x2="121.42" y2="639.75" stroke="#a545d8" stroke-width="0.6"/>
<line x1="120.62" y1="638.84" x2="122.22" y2="638.84" stroke="#a545d8" stroke-width="0.6"/>
<line x1="123.29" y1="641.5" x2="123.29" y2="643.72" stroke="#a545d8" stroke-width="0.6"/>
<line x1="122.49" y1="641.5" x2="124.09" y2="641.5" stroke="#a545d8" stroke-width="0.6"/>
<line x1="125.15" y1="640.75" x2="125.15" y2="641.39" stroke="#a545d8" stroke-width="0.6"/>
<line x1="124.35" y1="640.75" x2="125.95" y2="640.75" stroke="#a545d8" stroke-width="0.6"/>
<line x1="127.02" y1="641.63" x2="127.02" y2="645.26" stroke="#a545d8" stroke-width="0.6"/>
<line x1="126.22" y1="641.63" x2="127.82" y2="641.63" stroke="#a545d8" stroke-width="0.6"/>
<line x1="128.88" y1="640.87" x2="128.88" y2="643.22" stroke="#a545d8" stroke-width="0.6"/>
<line x1="128.08" y1="640.87" x2="129.68" y2="640.87" stroke="#a545d8" stroke-width="0.6"/>
<line x1="130.75" y1="643.97" x2="130.75" y2="648.05" stroke="#a545d8" stroke-width="0.6"/>
<line x1="129.95" y1="643.97" x2="131.55" y2="643.97" stroke="#a545d8" stroke-width="0.6"/>
<line x1="132.62" y1="642.54" x2="132.62" y2="643.67" stroke="#a545d8" stroke-width="0.6"/>
<line x1="131.82" y1="642.54" x2="133.42" y2="642.54" stroke="#a545d8" stroke-width="0.6"/>
<line x1="134.48" y1="640.56" x2="134.48" y2="642.76" stroke="#a545d8" stroke-width="0.6"/>
<line x1="133.68" y1="640.56" x2="135.28" y2="640.56" stroke="#a545d8" stroke-width="0.6"/>
<line x1="136.35" y1="640.17" x2="136.35" y2="642.83" stroke="#a545d8" stroke-width="0.6"/>
<line x1="135.55" y1="640.17" x2="137.15" y2="640.17" stroke="#a545d8" stroke-width="0.6"/>
<line x1="138.22" y1="630.28" x2="138.22" y2="637.22" stroke="#a545d8" stroke-width="0.6"/>
<line x1="137.42" y1="630.28" x2="139.02" y2="630.28" stroke="#a545d8" stroke-width="0.6"/>
<line x1="140.08" y1="643.8" x2="140.08" y2="644.83" stroke="#a545d8" stroke-width="0.6"/>
<line x1="139.28" y1="643.8" x2="140.88" y2="643.8" stroke="#a545d8" stroke-width="0.6"/>
<line x1="141.95" y1="637.91" x2="141.95" y2="649.2" stroke="#a545d8" stroke-width="0.6"/>
<line x1="141.15" y1="637.91" x2="142.75" y2="637.91" stroke="#a545d8" stroke-width="0.6"/>
<line x1="143.81" y1="635.13" x2="143.81" y2="638.38" stroke="#a545d8" stroke-width="0.6"/>
<line x1="143.01" y1="635.13" x2="144.61" y2="635.13" stroke="#a545d8" stroke-width="0.6"/>
<line x1="145.68" y1="629.09" x2="145.68" y2="642.05" stroke="#a545d8" stroke-width="0.6"/>
<line x1="144.88" y1="629.09" x2="146.48" y2="629.09" stroke="#a545d8" stroke-width="0.6"/>
<line x1="147.55" y1="634.59" x2="147.55" y2="638.48" stroke="#a545d8" stroke-width="0.6"/>
<line x1="146.75" y1="634.59" x2="148.35" y2="634.59" stroke="#a545d8" stroke-width="0.6"/>
<line x1="149.41" y1="633.48" x2="149.41" y2="634.12" stroke="#a545d8" stroke-width="0.6"/>
<line x1="148.61" y1="633.48" x2="150.21" y2="633.48" stroke="#a545d8" stroke-width="0.6"/>
<line x1="151.28" y1="627.14" x2="151.28" y2="635.34" stroke="#a545d8" stroke-width="0.6"/>
<line x1="150.48" y1="627.14" x2="152.08" y2="627.14" stroke="#a545d8" stroke-width="0.6"/>
<line x1="153.15" y1="635.61" x2="153.15" y2="639.38" stroke="#a545d8" stroke-width="0.6"/>
<line x1="152.34" y1="635.61" x2="153.95" y2="635.61" stroke="#a545d8" stroke-width="0.6"/>
<line x1="155.01" y1="637.39" x2="155.01" y2="641.57" stroke="#a545d8" stroke-width="0.6"/>
<line x1="154.21" y1="637.39" x2="155.81" y2="637.39" stroke="#a545d8" stroke-width="0.6"/>
<line x1="156.88" y1="636.24" x2="156.88" y2="637.97" stroke="#a545d8" stroke-width="0.6"/>
<line x1="156.08" y1="636.24" x2="157.68" y2="636.24" stroke="#a545d8" stroke-width="0.6"/>
<line x1="158.74" y1="633.95" x2="158.74" y2="634.67" stroke="#a545d8" stroke-width="0.6"/>
<line x1="157.94" y1="633.95" x2="159.54" y2="633.95" stroke="#a545d8" stroke-width="0.6"/>
<line x1="160.61" y1="635.35" x2="160.61" y2="638.31" stroke="#a545d8" stroke-width="0.6"/>
<line x1="159.81" y1="635.35" x2="161.41" y2="635.35" stroke="#a545d8" stroke-width="0.6"/>
<line x1="162.48" y1="636.71" x2="162.48" y2="641.31" stroke="#a545d8" stroke-width="0.6"/>
<line x1="161.68" y1="636.71" x2="163.28" y2="636.71" stroke="#a545d8" stroke-width="0.6"/>
<line x1="164.34" y1="637.78" x2="164.34" y2="638.87" stroke="#a545d8" stroke-width="0.6"/>
<line x1="163.54" y1="637.78" x2="165.14" y2="637.78" stroke="#a545d8" stroke-width="0.6"/>
<line x1="166.21" y1="632.27" x2="166.21" y2="645.71" stroke="#a545d8" stroke-width="0.6"/>
<line x1="165.41" y1="632.27" x2="167.01" y2="632.27" stroke="#a545d8" stroke-width="0.6"/>
<line x1="168.07" y1="640.02" x2="168.07" y2="648.51" stroke="#a545d8" stroke-width="0.6"/>
<line x1="167.27" y1="640.02" x2="168.87" y2="640.02" stroke="#a545d8" stroke-width="0.6"/>
<line x1="169.94" y1="637.27" x2="169.94" y2="640.74" stroke="#a545d8" stroke-width="0.6"/>
<line x1="169.14" y1="637.27" x2="170.74" y2="637.27" stroke="#a545d8" stroke-width="0.6"/>
<line x1="171.81" y1="640.68" x2="171.81" y2="644.18" stroke="#a545d8" stroke-width="0.6"/>
<line x1="171.01" y1="640.68" x2="172.61" y2="640.68" stroke="#a545d8" stroke-width="0.6"/>
<line x1="173.67" y1="640.09" x2="173.67" y2="642.21" stroke="#a545d8" stroke-width="0.6"/>
<line x1="172.87" y1="640.09" x2="174.47" y2="640.09" stroke="#a545d8" stroke-width="0.6"/>
<line x1="175.54" y1="640.72" x2="175.54" y2="643.37" stroke="#a545d8" stroke-width="0.6"/>
<line x1="174.74" y1="640.72" x2="176.34" y2="640.72" stroke="#a545d8" stroke-width="0.6"/>
<line x1="177.41" y1="640.19" x2="177.41" y2="641.29" stroke="#a545d8" stroke-width="0.6"/>
<line x1="176.61" y1="640.19" x2="178.21" y2="640.19" stroke="#a545d8" stroke-width="0.6"/>
<line x1="179.27" y1="637.86" x2="179.27" y2="638.51" stroke="#a545d8" stroke-width="0.6"/>
<line x1="178.47" y1="637.86" x2="180.07" y2="637.86" stroke="#a545d8" stroke-width="0.6"/>
<line x1="181.14" y1="639.39" x2="181.14" y2="641.91" stroke="#a545d8" stroke-width="0.6"/>
<line x1="180.34" y1="639.39" x2="181.94" y2="639.39" stroke="#a545d8" stroke-width="0.6"/>
<line x1="183" y1="633.23" x2="183" y2="645.42" stroke="#a545d8" stroke-width="0.6"/>
<line x1="182.2" y1="633.23" x2="183.8" y2="633.23" stroke="#a545d8" stroke-width="0.6"/>
<line x1="184.87" y1="632.36" x2="184.87" y2="641.7" stroke="#a545d8" stroke-width="0.6"/>
<line x1="184.07" y1="632.36" x2="185.67" y2="632.36" stroke="#a545d8" stroke-width="0.6"/>
<line x1="186.74" y1="637.4" x2="186.74" y2="638.09" stroke="#a545d8" stroke-width="0.6"/>
<line x1="185.94" y1="637.4" x2="187.54" y2="637.4" stroke="#a545d8" stroke-width="0.6"/>
<line x1="188.6" y1="634.4" x2="188.6" y2="645.99" stroke="#a545d8" stroke-width="0.6"/>
<line x1="187.8" y1="634.4" x2="189.4" y2="634.4" stroke="#a545d8" stroke-width="0.6"/>
<line x1="190.47" y1="636.29" x2="190.47" y2="638.28" stroke="#a545d8" stroke-width="0.6"/>
<line x1="189.67" y1="636.29" x2="191.27" y2="636.29" stroke="#a545d8" stroke-width="0.6"/>
<line x1="192.34" y1="640.6" x2="192.34" y2="641.69" stroke="#a545d8" stroke-width="0.6"/>
<line x1="191.54" y1="640.6" x2="193.14" y2="640.6" stroke="#a545d8" stroke-width="0.6"/>
<line x1="194.2" y1="635.12" x2="194.2" y2="648.1" stroke="#a545d8" stroke-width="0.6"/>
<line x1="193.4" y1="635.12" x2="195" y2="635.12" stroke="#a545d8" stroke-width="0.6"/>
<line x1="196.07" y1="640.84" x2="196.07" y2="641.54" stroke="#a545d8" stroke-width="0.6"/>
<line x1="195.27" y1="640.84" x2="196.87" y2="640.84" stroke="#a545d8" stroke-width="0.6"/>
<line x1="197.93" y1="638.39" x2="197.93" y2="639.06" stroke="#a545d8" stroke-width="0.6"/>
<line x1="197.13" y1="638.39" x2="198.73" y2="638.39" stroke="#a545d8" stroke-width="0.6"/>
<line x1="199.8" y1="644.97" x2="199.8" y2="646.08" stroke="#a545d8" stroke-width="0.6"/>
<line x1="199" y1="644.97" x2="200.6" y2="644.97" stroke="#a545d8" stroke-width="0.6"/>
<path d="M78.5,645.21 L80.36,645.89 L82.23,646.18 L84.1,647.71 L85.96,646.08 L87.83,646.8 L89.69,640.45 L91.56,642.13 L93.43,634.19 L95.29,649.2 L97.16,642.07 L99.03,640.88 L100.89,643.66 L102.76,645.05 L104.62,643.3 L106.49,641.41 L108.36,640.05 L110.22,647 L112.09,642.45 L113.95,644.41 L115.82,639.97 L117.69,643.68 L119.55,641.84 L121.42,639.29 L123.29,642.61 L125.15,641.07 L127.02,643.45 L128.88,642.05 L130.75,646.01 L132.62,643.11 L134.48,641.66 L136.35,641.5 L138.22,633.75 L140.08,644.32 L141.95,643.55 L143.81,636.76 L145.68,635.57 L147.55,636.54 L149.41,633.8 L151.28,631.24 L153.15,637.5 L155.01,639.48 L156.88,637.11 L158.74,634.31 L160.61,636.83 L162.48,639.01 L164.34,638.33 L166.21,638.99 L168.07,644.27 L169.94,639 L171.81,642.43 L173.67,641.15 L175.54,642.04 L177.41,640.74 L179.27,638.18 L181.14,640.65 L183,639.32 L184.87,637.03 L186.74,637.75 L188.6,640.2 L190.47,637.29 L192.34,641.15 L194.2,641.61 L196.07,641.19 L197.93,638.73 L199.8,645.53" stroke="#a545d8" stroke-width="1" fill="none"/>
<circle cx="78.5" cy="645.21" r="1.6" fill="#a545d8" stroke="none" stroke-width="1"/>
<circle cx="80.36" cy="645.89" r="1.6" fill="#a545d8" stroke="none" stroke-width="1"/>
<circle cx="82.23" cy="646.18" r="1.6" fill="#a545d8" stroke="none" stroke-width="1"/>
<circle cx="84.1" cy="647.71" r="1.6" fill="#a545d8" stroke="none" stroke-width="1"/>
<circle cx="85.96" cy="646.08" r="1.6" fill="#a545d8" stroke="none" stroke-width="1"/>
<circle cx="87.83" cy="646.8" r="1.6" fill="#a545d8" stroke="none" stroke-width="1"/>
<circle cx="89.69" cy="640.45" r="1.6" fill="#a545d8" stroke="none" stroke-width="1"/>
<circle cx="91.56" cy="642.13" r="1.6" fill="#a545d8" stroke="none" stroke-width="1"/>
<circle cx="93.43" cy="634.19" r="1.6" fill="#a545d8" stroke="none" stroke-width="1"/>
<circle cx="95.29" cy="649.2" r="1.6" fill="#a545d8" stroke="none" stroke-width="1"/>
<circle cx="97.16" cy="642.07" r="1.6" fill="#a545d8" stroke="none" stroke-width="1"/>
<circle cx="99.03" cy="640.88" r="1.6" fill="#a545d8" stroke="none" stroke-width="1"/>
<circle cx="100.89" cy="643.66" r="1.6" fill="#a545d8" stroke="none" stroke-width="1"/>
<circle cx="102.76" cy="645.05" r="1.6" fill="#a545d8" stroke="none" stroke-width="1"/>
<circle cx="104.62" cy="643.3" r="1.6" fill="#a545d8" stroke="none" stroke-width="1"/>
<circle cx="106.49" cy="641.41" r="1.6" fill="#a545d8" stroke="none" stroke-width="1"/>
<circle cx="108.36" cy="640.05" r="1.6" fill="#a545d8" stroke="none" stroke-width="1"/>
<circle cx="110.22" cy="647" r="1.6" fill="#a545d8" stroke="none" stroke-width="1"/>
<circle cx="112.09" cy="642.45" r="1.6" fill="#a545d8" stroke="none" stroke-width="1"/>
<circle cx="113.95" cy="644.41" r="1.6" fill="#a545d8" stroke="none" stroke-width="1"/>
<circle cx="115.82" cy="639.97" r="1.6" fill="#a545d8" stroke="none" stroke-width="1"/>
<circle cx="117.69" cy="643.68" r="1.6" fill="#a545d8" stroke="none" stroke-width="1"/>
<circle cx="119.55" cy="641.84" r="1.6" fill="#a545d8" stroke="none" stroke-width="1"/>
<circle cx="121.42" cy="639.29" r="1.6" fill="#a545d8" stroke="none" stroke-width="1"/>
<circle cx="123.29" cy="642.61" r="1.6" fill="#a545d8" stroke="none" stroke-width="1"/>
<circle cx="125.15" cy="641.07" r="1.6" fill="#a545d8" stroke="none" stroke-width="1"/>
<circle cx="127.02" cy="643.45" r="1.6" fill="#a545d8" stroke="none" stroke-width="1"/>
<circle cx="128.88" cy="642.05" r="1.6" fill="#a545d8" stroke="none" stroke-width="1"/>
<circle cx="130.75" cy="646.01" r="1.6" fill="#a545d8" stroke="none" stroke-width="1"/>
<circle cx="132.62" cy="643.11" r="1.6" fill="#a545d8" stroke="none" stroke-width="1"/>
<circle cx="134.48" cy="641.66" r="1.6" fill="#a545d8" stroke="none" stroke-width="1"/>
<circle cx="136.35" cy="641.5" r="1.6" fill="#a545d8" stroke="none" stroke-width="1"/>
<circle cx="138.22" cy="633.75" r="1.6" fill="#a545d8" stroke="none" stroke-width="1"/>
<circle cx="140.08" cy="644.32" r="1.6" fill="#a545d8" stroke="none" stroke-width="1"/>
<circle cx="141.95" cy="643.55" r="1.6" fill="#a545d8" stroke="none" stroke-width="1"/>
<circle cx="143.81" cy="636.76" r="1.6" fill="#a545d8" stroke="none" stroke-width="1"/>
<circle cx="145.68" cy="635.57" r="1.6" fill="#a545d8" stroke="none" stroke-width="1"/>
<circle cx="147.55" cy="636.54" r="1.6" fill="#a545d8" stroke="none" stroke-width="1"/>
<circle cx="149.41" cy="633.8" r="1.6" fill="#a545d8" stroke="none" stroke-width="1"/>
<circle cx="151.28" cy="631.24" r="1.6" fill="#a545d8" stroke="none" stroke-width="1"/>
<circle cx="153.15" cy="637.5" r="1.6" fill="#a545d8" stroke="none" stroke-width="1"/>
<circle cx="155.01" cy="639.48" r="1.6" fill="#a545d8" stroke="none" stroke-width="1"/>
<circle cx="156.88" cy="637.11" r="1.6" fill="#a545d8" stroke="none" stroke-width="1"/>
<circle cx="158.74" cy="634.31" r="1.6" fill="#a545d8" stroke="none" stroke-width="1"/>
<circle cx="160.61" cy="636.83" r="1.6" fill="#a545d8" stroke="none" stroke-width="1"/>
<circle cx="162.48" cy="639.01" r="1.6" fill="#a545d8" stroke="none" stroke-width="1"/>
<circle cx="164.34" cy="638.33" r="1.6" fill="#a545d8" stroke="none" stroke-width="1"/>
<circle cx="166.21" cy="638.99" r="1.6" fill="#a545d8" stroke="none" stroke-width="1"/>
<circle cx="168.07" cy="644.27" r="1.6" fill="#a545d8" stroke="none" stroke-width="1"/>
<circle cx="169.94" cy="639" r="1.6" fill="#a545d8" stroke="none" stroke-width="1"/>
<circle cx="171.81" cy="642.43" r="1.6" fill="#a545d8" stroke="none" stroke-width="1"/>
<circle cx="173.67" cy="641.15" r="1.6" fill="#a545d8" stroke="none" stroke-width="1"/>
<circle cx="175.54" cy="642.04" r="1.6" fill="#a545d8" stroke="none" stroke-width="1"/>
<circle cx="177.41" cy="640.74" r="1.6" fill="#a545d8" stroke="none" stroke-width="1"/>
<circle cx="179.27" cy="638.18" r="1.6" fill="#a545d8" stroke="none" stroke-width="1"/>
<circle cx="181.14" cy="640.65" r="1.6" fill="#a545d8" stroke="none" stroke-width="1"/>
<circle cx="183" cy="639.32" r="1.6" fill="#a545d8" stroke="none" stroke-width="1"/>
<circle cx="184.87" cy="637.03" r="1.6" fill="#a545d8" stroke="none" stroke-width="1"/>
<circle cx="186.74" cy="637.75" r="1.6" fill="#a545d8" stroke="none" stroke-width="1"/>
<circle cx="188.6" cy="640.2" r="1.6" fill="#a545d8" stroke="none" stroke-width="1"/>
<circle cx="190.47" cy="637.29" r="1.6" fill="#a545d8" stroke="none" stroke-width="1"/>
<circle cx="192.34" cy="641.15" r="1.6" fill="#a545d8" stroke="none" stroke-width="1"/>
<circle cx="194.2" cy="641.61" r="1.6" fill="#a545d8" stroke="none" stroke-width="1"/>
<circle cx="196.07" cy="641.19" r="1.6" fill="#a545d8" stroke="none" stroke-width="1"/>
<circle cx="197.93" cy="638.73" r="1.6" fill="#a545d8" stroke="none" stroke-width="1"/>
<circle cx="199.8" cy="645.53" r="1.6" fill="#a545d8" stroke="none" stroke-width="1"/>
<line x1="78.5" y1="644.25" x2="78.5" y2="646.51" stroke="#88878c" stroke-width="0.6"/>
<line x1="77.7" y1="644.25" x2="79.3" y2="644.25" stroke="#88878c" stroke-width="0.6"/>
<line x1="80.36" y1="642.33" x2="80.36" y2="644.5" stroke="#88878c" stroke-width="0.6"/>
<line x1="79.56" y1="642.33" x2="81.16" y2="642.33" stroke="#88878c" stroke-width="0.6"/>
<line x1="82.23" y1="637.87" x2="82.23" y2="648.62" stroke="#88878c" stroke-width="0.6"/>
<line x1="81.43" y1="637.87" x2="83.03" y2="637.87" stroke="#88878c" stroke-width="0.6"/>
<line x1="84.1" y1="646.56" x2="84.1" y2="647.32" stroke="#88878c" stroke-width="0.6"/>
<line x1="83.3" y1="646.56" x2="84.9" y2="646.56" stroke="#88878c" stroke-width="0.6"/>
<line x1="85.96" y1="646.19" x2="85.96" y2="652.56" stroke="#88878c" stroke-width="0.6"/>
<line x1="85.16" y1="646.19" x2="86.76" y2="646.19" stroke="#88878c" stroke-width="0.6"/>
<line x1="87.83" y1="647.31" x2="87.83" y2="648.76" stroke="#88878c" stroke-width="0.6"/>
<line x1="87.03" y1="647.31" x2="88.63" y2="647.31" stroke="#88878c" stroke-width="0.6"/>
<line x1="89.69" y1="650.41" x2="89.69" y2="651.2" stroke="#88878c" stroke-width="0.6"/>
<line x1="88.89" y1="650.41" x2="90.49" y2="650.41" stroke="#88878c" stroke-width="0.6"/>
<line x1="91.56" y1="652.32" x2="91.56" y2="655.13" stroke="#88878c" stroke-width="0.6"/>
<line x1="90.76" y1="652.32" x2="92.36" y2="652.32" stroke="#88878c" stroke-width="0.6"/>
<line x1="93.43" y1="660.8" x2="93.43" y2="663.16" stroke="#88878c" stroke-width="0.6"/>
<line x1="92.63" y1="660.8" x2="94.23" y2="660.8" stroke="#88878c" stroke-width="0.6"/>
<line x1="95.29" y1="664.14" x2="95.29" y2="671.89" stroke="#88878c" stroke-width="0.6"/>
<line x1="94.49" y1="664.14" x2="96.09" y2="664.14" stroke="#88878c" stroke-width="0.6"/>
<line x1="97.16" y1="670.11" x2="97.16" y2="670.8" stroke="#88878c" stroke-width="0.6"/>
<line x1="96.36" y1="670.11" x2="97.96" y2="670.11" stroke="#88878c" stroke-width="0.6"/>
<line x1="99.03" y1="673.48" x2="99.03" y2="674.84" stroke="#88878c" stroke-width="0.6"/>
<line x1="98.23" y1="673.48" x2="99.83" y2="673.48" stroke="#88878c" stroke-width="0.6"/>
<line x1="100.89" y1="672.5" x2="100.89" y2="673.32" stroke="#88878c" stroke-width="0.6"/>
<line x1="100.09" y1="672.5" x2="101.69" y2="672.5" stroke="#88878c" stroke-width="0.6"/>
<line x1="102.76" y1="673.03" x2="102.76" y2="676.14" stroke="#88878c" stroke-width="0.6"/>
<line x1="101.96" y1="673.03" x2="103.56" y2="673.03" stroke="#88878c" stroke-width="0.6"/>
<line x1="104.62" y1="674.99" x2="104.62" y2="679.47" stroke="#88878c" stroke-width="0.6"/>
<line x1="103.82" y1="674.99" x2="105.42" y2="674.99" stroke="#88878c" stroke-width="0.6"/>
<line x1="106.49" y1="675.26" x2="106.49" y2="686.15" stroke="#88878c" stroke-width="0.6"/>
<line x1="105.69" y1="675.26" x2="107.29" y2="675.26" stroke="#88878c" stroke-width="0.6"/>
<line x1="108.36" y1="676.61" x2="108.36" y2="679.99" stroke="#88878c" stroke-width="0.6"/>
<line x1="107.56" y1="676.61" x2="109.16" y2="676.61" stroke="#88878c" stroke-width="0.6"/>
<line x1="110.22" y1="680.07" x2="110.22" y2="683.89" stroke="#88878c" stroke-width="0.6"/>
<line x1="109.42" y1="680.07" x2="111.02" y2="680.07" stroke="#88878c" stroke-width="0.6"/>
<line x1="112.09" y1="680.96" x2="112.09" y2="681.77" stroke="#88878c" stroke-width="0.6"/>
<line x1="111.29" y1="680.96" x2="112.89" y2="680.96" stroke="#88878c" stroke-width="0.6"/>
<line x1="113.95" y1="680.32" x2="113.95" y2="684.55" stroke="#88878c" stroke-width="0.6"/>
<line x1="113.15" y1="680.32" x2="114.75" y2="680.32" stroke="#88878c" stroke-width="0.6"/>
<line x1="115.82" y1="675.33" x2="115.82" y2="687.37" stroke="#88878c" stroke-width="0.6"/>
<line x1="115.02" y1="675.33" x2="116.62" y2="675.33" stroke="#88878c" stroke-width="0.6"/>
<line x1="117.69" y1="678.56" x2="117.69" y2="686.27" stroke="#88878c" stroke-width="0.6"/>
<line x1="116.89" y1="678.56" x2="118.49" y2="678.56" stroke="#88878c" stroke-width="0.6"/>
<line x1="119.55" y1="684.13" x2="119.55" y2="684.8" stroke="#88878c" stroke-width="0.6"/>
<line x1="118.75" y1="684.13" x2="120.35" y2="684.13" stroke="#88878c" stroke-width="0.6"/>
<line x1="121.42" y1="680.82" x2="121.42" y2="685.45" stroke="#88878c" stroke-width="0.6"/>
<line x1="120.62" y1="680.82" x2="122.22" y2="680.82" stroke="#88878c" stroke-width="0.6"/>
<line x1="123.29" y1="678.63" x2="123.29" y2="681.37" stroke="#88878c" stroke-width="0.6"/>
<line x1="122.49" y1="678.63" x2="124.09" y2="678.63" stroke="#88878c" stroke-width="0.6"/>
<line x1="125.15" y1="675.26" x2="125.15" y2="678.29" stroke="#88878c" stroke-width="0.6"/>
<line x1="124.35" y1="675.26" x2="125.95" y2="675.26" stroke="#88878c" stroke-width="0.6"/>
<line x1="127.02" y1="668.9" x2="127.02" y2="679.13" stroke="#88878c" stroke-width="0.6"/>
<line x1="126.22" y1="668.9" x2="127.82" y2="668.9" stroke="#88878c" stroke-width="0.6"/>
<line x1="128.88" y1="673.06" x2="128.88" y2="674.14" stroke="#88878c" stroke-width="0.6"/>
<line x1="128.08" y1="673.06" x2="129.68" y2="673.06" stroke="#88878c" stroke-width="0.6"/>
<line x1="130.75" y1="674.8" x2="130.75" y2="675.8" stroke="#88878c" stroke-width="0.6"/>
<line x1="129.95" y1="674.8" x2="131.55" y2="674.8" stroke="#88878c" stroke-width="0.6"/>
<line x1="132.62" y1="668.99" x2="132.62" y2="669.65" stroke="#88878c" stroke-width="0.6"/>
<line x1="131.82" y1="668.99" x2="133.42" y2="668.99" stroke="#88878c" stroke-width="0.6"/>
<line x1="134.48" y1="670.62" x2="134.48" y2="672.85" stroke="#88878c" stroke-width="0.6"/>
<line x1="133.68" y1="670.62" x2="135.28" y2="670.62" stroke="#88878c" stroke-width="0.6"/>
<line x1="136.35" y1="664.65" x2="136.35" y2="671.38" stroke="#88878c" stroke-width="0.6"/>
<line x1="135.55" y1="664.65" x2="137.15" y2="664.65" stroke="#88878c" stroke-width="0.6"/>
<line x1="138.22" y1="668.5" x2="138.22" y2="669.38" stroke="#88878c" stroke-width="0.6"/>
<line x1="137.42" y1="668.5" x2="139.02" y2="668.5" stroke="#88878c" stroke-width="0.6"/>
<line x1="140.08" y1="665.32" x2="140.08" y2="667.43" stroke="#88878c" stroke-width="0.6"/>
<line x1="139.28" y1="665.32" x2="140.88" y2="665.32" stroke="#88878c" stroke-width="0.6"/>
<line x1="141.95" y1="666" x2="141.95" y2="670" stroke="#88878c" stroke-width="0.6"/>
<line x1="141.15" y1="666" x2="142.75" y2="666" stroke="#88878c" stroke-width="0.6"/>
<line x1="143.81" y1="663.94" x2="143.81" y2="668.85" stroke="#88878c" stroke-width="0.6"/>
<line x1="143.01" y1="663.94" x2="144.61" y2="663.94" stroke="#88878c" stroke-width="0.6"/>
<line x1="145.68" y1="658.79" x2="145.68" y2="663.18" stroke="#88878c" stroke-width="0.6"/>
<line x1="144.88" y1="658.79" x2="146.48" y2="658.79" stroke="#88878c" stroke-width="0.6"/>
<line x1="147.55" y1="664.63" x2="147.55" y2="669.93" stroke="#88878c" stroke-width="0.6"/>
<line x1="146.75" y1="664.63" x2="148.35" y2="664.63" stroke="#88878c" stroke-width="0.6"/>
<line x1="149.41" y1="664.87" x2="149.41" y2="666.85" stroke="#88878c" stroke-width="0.6"/>
<line x1="148.61" y1="664.87" x2="150.21" y2="664.87" stroke="#88878c" stroke-width="0.6"/>
<line x1="151.28" y1="668.44" x2="151.28" y2="672.14" stroke="#88878c" stroke-width="0.6"/>
<line x1="150.48" y1="668.44" x2="152.08" y2="668.44" stroke="#88878c" stroke-width="0.6"/>
<line x1="153.15" y1="667.63" x2="153.15" y2="670.2" stroke="#88878c" stroke-width="0.6"/>
<line x1="152.34" y1="667.63" x2="153.95" y2="667.63" stroke="#88878c" stroke-width="0.6"/>
<line x1="155.01" y1="666.47" x2="155.01" y2="668.91" stroke="#88878c" stroke-width="0.6"/>
<line x1="154.21" y1="666.47" x2="155.81" y2="666.47" stroke="#88878c" stroke-width="0.6"/>
<line x1="156.88" y1="662.91" x2="156.88" y2="676.24" stroke="#88878c" stroke-width="0.6"/>
<line x1="156.08" y1="662.91" x2="157.68" y2="662.91" stroke="#88878c" stroke-width="0.6"/>
<line x1="158.74" y1="663.35" x2="158.74" y2="674.55" stroke="#88878c" stroke-width="0.6"/>
<line x1="157.94" y1="663.35" x2="159.54" y2="663.35" stroke="#88878c" stroke-width="0.6"/>
<line x1="160.61" y1="666.74" x2="160.61" y2="669.7" stroke="#88878c" stroke-width="0.6"/>
<line x1="159.81" y1="666.74" x2="161.41" y2="666.74" stroke="#88878c" stroke-width="0.6"/>
<line x1="162.48" y1="667.72" x2="162.48" y2="670.33" stroke="#88878c" stroke-width="0.6"/>
<line x1="161.68" y1="667.72" x2="163.28" y2="667.72" stroke="#88878c" stroke-width="0.6"/>
<line x1="164.34" y1="660.18" x2="164.34" y2="669.73" stroke="#88878c" stroke-width="0.6"/>
<line x1="163.54" y1="660.18" x2="165.14" y2="660.18" stroke="#88878c" stroke-width="0.6"/>
<line x1="166.21" y1="659.18" x2="166.21" y2="673.31" stroke="#88878c" stroke-width="0.6"/>
<line x1="165.41" y1="659.18" x2="167.01" y2="659.18" stroke="#88878c" stroke-width="0.6"/>
<line x1="168.07" y1="658.82" x2="168.07" y2="661.47" stroke="#88878c" stroke-width="0.6"/>
<line x1="167.27" y1="658.82" x2="168.87" y2="658.82" stroke="#88878c" stroke-width="0.6"/>
<line x1="169.94" y1="661.45" x2="169.94" y2="665.77" stroke="#88878c" stroke-width="0.6"/>
<line x1="169.14" y1="661.45" x2="170.74" y2="661.45" stroke="#88878c" stroke-width="0.6"/>
<line x1="171.81" y1="655.91" x2="171.81" y2="668.6" stroke="#88878c" stroke-width="0.6"/>
<line x1="171.01" y1="655.91" x2="172.61" y2="655.91" stroke="#88878c" stroke-width="0.6"/>
<line x1="173.67" y1="663.25" x2="173.67" y2="665.37" stroke="#88878c" stroke-width="0.6"/>
<line x1="172.87" y1="663.25" x2="174.47" y2="663.25" stroke="#88878c" stroke-width="0.6"/>
<line x1="175.54" y1="661.12" x2="175.54" y2="665.66" stroke="#88878c" stroke-width="0.6"/>
<line x1="174.74" y1="661.12" x2="176.34" y2="661.12" stroke="#88878c" stroke-width="0.6"/>
<line x1="177.41" y1="665.89" x2="177.41" y2="668.16" stroke="#88878c" stroke-width="0.6"/>
<line x1="176.61" y1="665.89" x2="178.21" y2="665.89" stroke="#88878c" stroke-width="0.6"/>
<line x1="179.27" y1="663.85" x2="179.27" y2="665.99" stroke="#88878c" stroke-width="0.6"/>
<line x1="178.47" y1="663.85" x2="180.07" y2="663.85" stroke="#88878c" stroke-width="0.6"/>
<line x1="181.14" y1="665.05" x2="181.14" y2="669.46" stroke="#88878c" stroke-width="0.6"/>
<line x1="180.34" y1="665.05" x2="181.94" y2="665.05" stroke="#88878c" stroke-width="0.6"/>
<line x1="183" y1="662.27" x2="183" y2="663.14" stroke="#88878c" stroke-width="0.6"/>
<line x1="182.2" y1="662.27" x2="183.8" y2="662.27" stroke="#88878c" stroke-width="0.6"/>
<line x1="184.87" y1="657.41" x2="184.87" y2="666.28" stroke="#88878c" stroke-width="0.6"/>
<line x1="184.07" y1="657.41" x2="185.67" y2="657.41" stroke="#88878c" stroke-width="0.6"/>
<line x1="186.74" y1="660.25" x2="186.74" y2="661.15" stroke="#88878c" stroke-width="0.6"/>
<line x1="185.94" y1="660.25" x2="187.54" y2="660.25" stroke="#88878c" stroke-width="0.6"/>
<line x1="188.6" y1="654.68" x2="188.6" y2="666.02" stroke="#88878c" stroke-width="0.6"/>
<line x1="187.8" y1="654.68" x2="189.4" y2="654.68" stroke="#88878c" stroke-width="0.6"/>
<line x1="190.47" y1="656.87" x2="190.47" y2="658.96" stroke="#88878c" stroke-width="0.6"/>
<line x1="189.67" y1="656.87" x2="191.27" y2="656.87" stroke="#88878c" stroke-width="0.6"/>
<line x1="192.34" y1="657.22" x2="192.34" y2="660.51" stroke="#88878c" stroke-width="0.6"/>
<line x1="191.54" y1="657.22" x2="193.14" y2="657.22" stroke="#88878c" stroke-width="0.6"/>
<line x1="194.2" y1="655.87" x2="194.2" y2="658.41" stroke="#88878c" stroke-width="0.6"/>
<line x1="193.4" y1="655.87" x2="195" y2="655.87" stroke="#88878c" stroke-width="0.6"/>
<line x1="196.07" y1="659.84" x2="196.07" y2="662.59" stroke="#88878c" stroke-width="0.6"/>
<line x1="195.27" y1="659.84" x2="196.87" y2="659.84" stroke="#88878c" stroke-width="0.6"/>
<line x1="197.93" y1="659.6" x2="197.93" y2="660.25" stroke="#88878c" stroke-width="0.6"/>
<line x1="197.13" y1="659.6" x2="198.73" y2="659.6" stroke="#88878c" stroke-width="0.6"/>
<line x1="199.8" y1="659.99" x2="199.8" y2="660.84" stroke="#88878c" stroke-width="0.6"/>
<line x1="199" y1="659.99" x2="200.6" y2="659.99" stroke="#88878c" stroke-width="0.6"/>
<path d="M78.5,645.38 L80.36,643.42 L82.23,643.25 L84.1,646.94 L85.96,649.38 L87.83,648.03 L89.69,650.81 L91.56,653.73 L93.43,661.98 L95.29,668.02 L97.16,670.45 L99.03,674.16 L100.89,672.91 L102.76,674.59 L104.62,677.23 L106.49,680.71 L108.36,678.3 L110.22,681.98 L112.09,681.37 L113.95,682.44 L115.82,681.35 L117.69,682.42 L119.55,684.46 L121.42,683.14 L123.29,680 L125.15,676.77 L127.02,674.01 L128.88,673.6 L130.75,675.3 L132.62,669.32 L134.48,671.73 L136.35,668.02 L138.22,668.94 L140.08,666.38 L141.95,668 L143.81,666.4 L145.68,660.98 L147.55,667.28 L149.41,665.86 L151.28,670.29 L153.15,668.91 L155.01,667.69 L156.88,669.57 L158.74,668.95 L160.61,668.22 L162.48,669.02 L164.34,664.96 L166.21,666.24 L168.07,660.15 L169.94,663.61 L171.81,662.25 L173.67,664.31 L175.54,663.39 L177.41,667.03 L179.27,664.92 L181.14,667.25 L183,662.71 L184.87,661.84 L186.74,660.7 L188.6,660.35 L190.47,657.92 L192.34,658.87 L194.2,657.14 L196.07,661.21 L197.93,659.92 L199.8,660.41" stroke="#88878c" stroke-width="1" fill="none"/>
<circle cx="78.5" cy="645.38" r="1.6" fill="#88878c" stroke="none" stroke-width="1"/>
<circle cx="80.36" cy="643.42" r="1.6" fill="#88878c" stroke="none" stroke-width="1"/>
<circle cx="82.23" cy="643.25" r="1.6" fill="#88878c" stroke="none" stroke-width="1"/>
<circle cx="84.1" cy="646.94" r="1.6" fill="#88878c" stroke="none" stroke-width="1"/>
<circle cx="85.96" cy="649.38" r="1.6" fill="#88878c" stroke="none" stroke-width="1"/>
<circle cx="87.83" cy="648.03" r="1.6" fill="#88878c" stroke="none" stroke-width="1"/>
<circle cx="89.69" cy="650.81" r="1.6" fill="#88878c" stroke="none" stroke-width="1"/>
<circle cx="91.56" cy="653.73" r="1.6" fill="#88878c" stroke="none" stroke-width="1"/>
<circle cx="93.43" cy="661.98" r="1.6" fill="#88878c" stroke="none" stroke-width="1"/>
<circle cx="95.29" cy="668.02" r="1.6" fill="#88878c" stroke="none" stroke-width="1"/>
<circle cx="97.16" cy="670.45" r="1.6" fill="#88878c" stroke="none" stroke-width="1"/>
<circle cx="99.03" cy="674.16" r="1.6" fill="#88878c" stroke="none" stroke-width="1"/>
<circle cx="100.89" cy="672.91" r="1.6" fill="#88878c" stroke="none" stroke-width="1"/>
<circle cx="102.76" cy="674.59" r="1.6" fill="#88878c" stroke="none" stroke-width="1"/>
<circle cx="104.62" cy="677.23" r="1.6" fill="#88878c" stroke="none" stroke-width="1"/>
<circle cx="106.49" cy="680.71" r="1.6" fill="#88878c" stroke="none" stroke-width="1"/>
<circle cx="108.36" cy="678.3" r="1.6" fill="#88878c" stroke="none" stroke-width="1"/>
<circle cx="110.22" cy="681.98" r="1.6" fill="#88878c" stroke="none" stroke-width="1"/>
<circle cx="112.09" cy="681.37" r="1.6" fill="#88878c" stroke="none" stroke-width="1"/>
<circle cx="113.95" cy="682.44" r="1.6" fill="#88878c" stroke="none" stroke-width="1"/>
<circle cx="115.82" cy="681.35" r="1.6" fill="#88878c" stroke="none" stroke-width="1"/>
<circle cx="117.69" cy="682.42" r="1.6" fill="#88878c" stroke="none" stroke-width="1"/>
<circle cx="119.55" cy="684.46" r="1.6" fill="#88878c" stroke="none" stroke-width="1"/>
<circle cx="121.42" cy="683.14" r="1.6" fill="#88878c" stroke="none" stroke-width="1"/>
<circle cx="123.29" cy="680" r="1.6" fill="#88878c" stroke="none" stroke-width="1"/>
<circle cx="125.15" cy="676.77" r="1.6" fill="#88878c" stroke="none" stroke-width="1"/>
<circle cx="127.02" cy="674.01" r="1.6" fill="#88878c" stroke="none" stroke-width="1"/>
<circle cx="128.88" cy="673.6" r="1.6" fill="#88878c" stroke="none" stroke-width="1"/>
<circle cx="130.75" cy="675.3" r="1.6" fill="#88878c" stroke="none" stroke-width="1"/>
<circle cx="132.62" cy="669.32" r="1.6" fill="#88878c" stroke="none" stroke-width="1"/>
<circle cx="134.48" cy="671.73" r="1.6" fill="#88878c" stroke="none" stroke-width="1"/>
<circle cx="136.35" cy="668.02" r="1.6" fill="#88878c" stroke="none" stroke-width="1"/>
<circle cx="138.22" cy="668.94" r="1.6" fill="#88878c" stroke="none" stroke-width="1"/>
<circle cx="140.08" cy="666.38" r="1.6" fill="#88878c" stroke="none" stroke-width="1"/>
<circle cx="141.95" cy="668" r="1.6" fill="#88878c" stroke="none" stroke-width="1"/>
<circle cx="143.81" cy="666.4" r="1.6" fill="#88878c" stroke="none" stroke-width="1"/>
<circle cx="145.68" cy="660.98" r="1.6" fill="#88878c" stroke="none" stroke-width="1"/>
<circle cx="147.55" cy="667.28" r="1.6" fill="#88878c" stroke="none" stroke-width="1"/>
<circle cx="149.41" cy="665.86" r="1.6" fill="#88878c" stroke="none" stroke-width="1"/>
<circle cx="151.28" cy="670.29" r="1.6" fill="#88878c" stroke="none" stroke-width="1"/>
<circle cx="153.15" cy="668.91" r="1.6" fill="#88878c" stroke="none" stroke-width="1"/>
<circle cx="155.01" cy="667.69" r="1.6" fill="#88878c" stroke="none" stroke-width="1"/>
<circle cx="156.88" cy="669.57" r="1.6" fill="#88878c" stroke="none" stroke-width="1"/>
<circle cx="158.74" cy="668.95" r="1.6" fill="#88878c" stroke="none" stroke-width="1"/>
<circle cx="160.61" cy="668.22" r="1.6" fill="#88878c" stroke="none" stroke-width="1"/>
<circle cx="162.48" cy="669.02" r="1.6" fill="#88878c" stroke="none" stroke-width="1"/>
<circle cx="164.34" cy="664.96" r="1.6" fill="#88878c" stroke="none" stroke-width="1"/>
<circle cx="166.21" cy="666.24" r="1.6" fill="#88878c" stroke="none" stroke-width="1"/>
<circle cx="168.07" cy="660.15" r="1.6" fill="#88878c" stroke="none" stroke-width="1"/>
<circle cx="169.94" cy="663.61" r="1.6" fill="#88878c" stroke="none" stroke-width="1"/>
<circle cx="171.81" cy="662.25" r="1.6" fill="#88878c" stroke="none" stroke-width="1"/>
<circle cx="173.67" cy="664.31" r="1.6" fill="#88878c" stroke="none" stroke-width="1"/>
<circle cx="175.54" cy="663.39" r="1.6" fill="#88878c" stroke="none" stroke-width="1"/>
<circle cx="177.41" cy="667.03" r="1.6" fill="#88878c" stroke="none" stroke-width="1"/>
<circle cx="179.27" cy="664.92" r="1.6" fill="#88878c" stroke="none" stroke-width="1"/>
<circle cx="181.14" cy="667.25" r="1.6" fill="#88878c" stroke="none" stroke-width="1"/>
<circle cx="183" cy="662.71" r="1.6" fill="#88878c" stroke="none" stroke-width="1"/>
<circle cx="184.87" cy="661.84" r="1.6" fill="#88878c" stroke="none" stroke-width="1"/>
<circle cx="186.74" cy="660.7" r="1.6" fill="#88878c" stroke="none" stroke-width="1"/>
<circle cx="188.6" cy="660.35" r="1.6" fill="#88878c" stroke="none" stroke-width="1"/>
<circle cx="190.47" cy="657.92" r="1.6" fill="#88878c" stroke="none" stroke-width="1"/>
<circle cx="192.34" cy="658.87" r="1.6" fill="#88878c" stroke="none" stroke-width="1"/>
<circle cx="194.2" cy="657.14" r="1.6" fill="#88878c" stroke="none" stroke-width="1"/>
<circle cx="196.07" cy="661.21" r="1.6" fill="#88878c" stroke="none" stroke-width="1"/>
<circle cx="197.93" cy="659.92" r="1.6" fill="#88878c" stroke="none" stroke-width="1"/>
<circle cx="199.8" cy="660.41" r="1.6" fill="#88878c" stroke="none" stroke-width="1"/>
<line x1="78.5" y1="645.51" x2="78.5" y2="646.4" stroke="#4cb3ea" stroke-width="0.6"/>
<line x1="77.7" y1="645.51" x2="79.3" y2="645.51" stroke="#4cb3ea" stroke-width="0.6"/>
<line x1="80.36" y1="642.79" x2="80.36" y2="644.98" stroke="#4cb3ea" stroke-width="0.6"/>
<line x1="79.56" y1="642.79" x2="81.16" y2="642.79" stroke="#4cb3ea" stroke-width="0.6"/>
<line x1="82.23" y1="645.83" x2="82.23" y2="646.31" stroke="#4cb3ea" stroke-width="0.6"/>
<line x1="81.43" y1="645.83" x2="83.03" y2="645.83" stroke="#4cb3ea" stroke-width="0.6"/>
<line x1="84.1" y1="645.43" x2="84.1" y2="649.88" stroke="#4cb3ea" stroke-width="0.6"/>
<line x1="83.3" y1="645.43" x2="84.9" y2="645.43" stroke="#4cb3ea" stroke-width="0.6"/>
<line x1="85.96" y1="645.76" x2="85.96" y2="646.31" stroke="#4cb3ea" stroke-width="0.6"/>
<line x1="85.16" y1="645.76" x2="86.76" y2="645.76" stroke="#4cb3ea" stroke-width="0.6"/>
<line x1="87.83" y1="645.87" x2="87.83" y2="652.08" stroke="#4cb3ea" stroke-width="0.6"/>
<line x1="87.03" y1="645.87" x2="88.63" y2="645.87" stroke="#4cb3ea" stroke-width="0.6"/>
<line x1="89.69" y1="649.88" x2="89.69" y2="650.34" stroke="#4cb3ea" stroke-width="0.6"/>
<line x1="88.89" y1="649.88" x2="90.49" y2="649.88" stroke="#4cb3ea" stroke-width="0.6"/>
<line x1="91.56" y1="646.15" x2="91.56" y2="646.83" stroke="#4cb3ea" stroke-width="0.6"/>
<line x1="90.76" y1="646.15" x2="92.36" y2="646.15" stroke="#4cb3ea" stroke-width="0.6"/>
<line x1="93.43" y1="650.95" x2="93.43" y2="651.75" stroke="#4cb3ea" stroke-width="0.6"/>
<line x1="92.63" y1="650.95" x2="94.23" y2="650.95" stroke="#4cb3ea" stroke-width="0.6"/>
<line x1="95.29" y1="652.43" x2="95.29" y2="654.06" stroke="#4cb3ea" stroke-width="0.6"/>
<line x1="94.49" y1="652.43" x2="96.09" y2="652.43" stroke="#4cb3ea" stroke-width="0.6"/>
<line x1="97.16" y1="653.09" x2="97.16" y2="654.64" stroke="#4cb3ea" stroke-width="0.6"/>
<line x1="96.36" y1="653.09" x2="97.96" y2="653.09" stroke="#4cb3ea" stroke-width="0.6"/>
<line x1="99.03" y1="652.09" x2="99.03" y2="653.16" stroke="#4cb3ea" stroke-width="0.6"/>
<line x1="98.23" y1="652.09" x2="99.83" y2="652.09" stroke="#4cb3ea" stroke-width="0.6"/>
<line x1="100.89" y1="650.25" x2="100.89" y2="650.84" stroke="#4cb3ea" stroke-width="0.6"/>
<line x1="100.09" y1="650.25" x2="101.69" y2="650.25" stroke="#4cb3ea" stroke-width="0.6"/>
<line x1="102.76" y1="650.03" x2="102.76" y2="650.72" stroke="#4cb3ea" stroke-width="0.6"/>
<line x1="101.96" y1="650.03" x2="103.56" y2="650.03" stroke="#4cb3ea" stroke-width="0.6"/>
<line x1="104.62" y1="649.46" x2="104.62" y2="650.58" stroke="#4cb3ea" stroke-width="0.6"/>
<line x1="103.82" y1="649.46" x2="105.42" y2="649.46" stroke="#4cb3ea" stroke-width="0.6"/>
<line x1="106.49" y1="643.62" x2="106.49" y2="654.05" stroke="#4cb3ea" stroke-width="0.6"/>
<line x1="105.69" y1="643.62" x2="107.29" y2="643.62" stroke="#4cb3ea" stroke-width="0.6"/>
<line x1="108.36" y1="648.72" x2="108.36" y2="649.85" stroke="#4cb3ea" stroke-width="0.6"/>
<line x1="107.56" y1="648.72" x2="109.16" y2="648.72" stroke="#4cb3ea" stroke-width="0.6"/>
<line x1="110.22" y1="649.98" x2="110.22" y2="653.1" stroke="#4cb3ea" stroke-width="0.6"/>
<line x1="109.42" y1="649.98" x2="111.02" y2="649.98" stroke="#4cb3ea" stroke-width="0.6"/>
<line x1="112.09" y1="649.76" x2="112.09" y2="650.29" stroke="#4cb3ea" stroke-width="0.6"/>
<line x1="111.29" y1="649.76" x2="112.89" y2="649.76" stroke="#4cb3ea" stroke-width="0.6"/>
<line x1="113.95" y1="649.65" x2="113.95" y2="652.59" stroke="#4cb3ea" stroke-width="0.6"/>
<line x1="113.15" y1="649.65" x2="114.75" y2="649.65" stroke="#4cb3ea" stroke-width="0.6"/>
<line x1="115.82" y1="652.86" x2="115.82" y2="653.71" stroke="#4cb3ea" stroke-width="0.6"/>
<line x1="115.02" y1="652.86" x2="116.62" y2="652.86" stroke="#4cb3ea" stroke-width="0.6"/>
<line x1="117.69" y1="650.09" x2="117.69" y2="650.65" stroke="#4cb3ea" stroke-width="0.6"/>
<line x1="116.89" y1="650.09" x2="118.49" y2="650.09" stroke="#4cb3ea" stroke-width="0.6"/>
<line x1="119.55" y1="648.17" x2="119.55" y2="655.12" stroke="#4cb3ea" stroke-width="0.6"/>
<line x1="118.75" y1="648.17" x2="120.35" y2="648.17" stroke="#4cb3ea" stroke-width="0.6"/>
<line x1="121.42" y1="647.17" x2="121.42" y2="656.76" stroke="#4cb3ea" stroke-width="0.6"/>
<line x1="120.62" y1="647.17" x2="122.22" y2="647.17" stroke="#4cb3ea" stroke-width="0.6"/>
<line x1="123.29" y1="646.69" x2="123.29" y2="648.21" stroke="#4cb3ea" stroke-width="0.6"/>
<line x1="122.49" y1="646.69" x2="124.09" y2="646.69" stroke="#4cb3ea" stroke-width="0.6"/>
<line x1="125.15" y1="648.53" x2="125.15" y2="650.75" stroke="#4cb3ea" stroke-width="0.6"/>
<line x1="124.35" y1="648.53" x2="125.95" y2="648.53" stroke="#4cb3ea" stroke-width="0.6"/>
<line x1="127.02" y1="648.25" x2="127.02" y2="655.53" stroke="#4cb3ea" stroke-width="0.6"/>
<line x1="126.22" y1="648.25" x2="127.82" y2="648.25" stroke="#4cb3ea" stroke-width="0.6"/>
<line x1="128.88" y1="650.49" x2="128.88" y2="651.29" stroke="#4cb3ea" stroke-width="0.6"/>
<line x1="128.08" y1="650.49" x2="129.68" y2="650.49" stroke="#4cb3ea" stroke-width="0.6"/>
<line x1="130.75" y1="644.92" x2="130.75" y2="647" stroke="#4cb3ea" stroke-width="0.6"/>
<line x1="129.95" y1="644.92" x2="131.55" y2="644.92" stroke="#4cb3ea" stroke-width="0.6"/>
<line x1="132.62" y1="650.59" x2="132.62" y2="651.04" stroke="#4cb3ea" stroke-width="0.6"/>
<line x1="131.82" y1="650.59" x2="133.42" y2="650.59" stroke="#4cb3ea" stroke-width="0.6"/>
<line x1="134.48" y1="648.11" x2="134.48" y2="649.64" stroke="#4cb3ea" stroke-width="0.6"/>
<line x1="133.68" y1="648.11" x2="135.28" y2="648.11" stroke="#4cb3ea" stroke-width="0.6"/>
<line x1="136.35" y1="648.32" x2="136.35" y2="649.89" stroke="#4cb3ea" stroke-width="0.6"/>
<line x1="135.55" y1="648.32" x2="137.15" y2="648.32" stroke="#4cb3ea" stroke-width="0.6"/>
<line x1="138.22" y1="643.86" x2="138.22" y2="654.77" stroke="#4cb3ea" stroke-width="0.6"/>
<line x1="137.42" y1="643.86" x2="139.02" y2="643.86" stroke="#4cb3ea" stroke-width="0.6"/>
<line x1="140.08" y1="643.57" x2="140.08" y2="654.76" stroke="#4cb3ea" stroke-width="0.6"/>
<line x1="139.28" y1="643.57" x2="140.88" y2="643.57" stroke="#4cb3ea" stroke-width="0.6"/>
<line x1="141.95" y1="650.67" x2="141.95" y2="651.86" stroke="#4cb3ea" stroke-width="0.6"/>
<line x1="141.15" y1="650.67" x2="142.75" y2="650.67" stroke="#4cb3ea" stroke-width="0.6"/>
<line x1="143.81" y1="650.47" x2="143.81" y2="651.99" stroke="#4cb3ea" stroke-width="0.6"/>
<line x1="143.01" y1="650.47" x2="144.61" y2="650.47" stroke="#4cb3ea" stroke-width="0.6"/>
<line x1="145.68" y1="649.37" x2="145.68" y2="651.89" stroke="#4cb3ea" stroke-width="0.6"/>
<line x1="144.88" y1="649.37" x2="146.48" y2="649.37" stroke="#4cb3ea" stroke-width="0.6"/>
<line x1="147.55" y1="649.89" x2="147.55" y2="652.15" stroke="#4cb3ea" stroke-width="0.6"/>
<line x1="146.75" y1="649.89" x2="148.35" y2="649.89" stroke="#4cb3ea" stroke-width="0.6"/>
<line x1="149.41" y1="644.62" x2="149.41" y2="652.84" stroke="#4cb3ea" stroke-width="0.6"/>
<line x1="148.61" y1="644.62" x2="150.21" y2="644.62" stroke="#4cb3ea" stroke-width="0.6"/>
<line x1="151.28" y1="646.46" x2="151.28" y2="648.11" stroke="#4cb3ea" stroke-width="0.6"/>
<line x1="150.48" y1="646.46" x2="152.08" y2="646.46" stroke="#4cb3ea" stroke-width="0.6"/>
<line x1="153.15" y1="651.05" x2="153.15" y2="653.08" stroke="#4cb3ea" stroke-width="0.6"/>
<line x1="152.34" y1="651.05" x2="153.95" y2="651.05" stroke="#4cb3ea" stroke-width="0.6"/>
<line x1="155.01" y1="648.61" x2="155.01" y2="649.87" stroke="#4cb3ea" stroke-width="0.6"/>
<line x1="154.21" y1="648.61" x2="155.81" y2="648.61" stroke="#4cb3ea" stroke-width="0.6"/>
<line x1="156.88" y1="651.68" x2="156.88" y2="652.8" stroke="#4cb3ea" stroke-width="0.6"/>
<line x1="156.08" y1="651.68" x2="157.68" y2="651.68" stroke="#4cb3ea" stroke-width="0.6"/>
<line x1="158.74" y1="649.01" x2="158.74" y2="654.34" stroke="#4cb3ea" stroke-width="0.6"/>
<line x1="157.94" y1="649.01" x2="159.54" y2="649.01" stroke="#4cb3ea" stroke-width="0.6"/>
<line x1="160.61" y1="650.46" x2="160.61" y2="651.11" stroke="#4cb3ea" stroke-width="0.6"/>
<line x1="159.81" y1="650.46" x2="161.41" y2="650.46" stroke="#4cb3ea" stroke-width="0.6"/>
<line x1="162.48" y1="648.57" x2="162.48" y2="651.64" stroke="#4cb3ea" stroke-width="0.6"/>
<line x1="161.68" y1="648.57" x2="163.28" y2="648.57" stroke="#4cb3ea" stroke-width="0.6"/>
<line x1="164.34" y1="646.54" x2="164.34" y2="655.81" stroke="#4cb3ea" stroke-width="0.6"/>
<line x1="163.54" y1="646.54" x2="165.14" y2="646.54" stroke="#4cb3ea" stroke-width="0.6"/>
<line x1="166.21" y1="655.18" x2="166.21" y2="655.71" stroke="#4cb3ea" stroke-width="0.6"/>
<line x1="165.41" y1="655.18" x2="167.01" y2="655.18" stroke="#4cb3ea" stroke-width="0.6"/>
<line x1="168.07" y1="647.24" x2="168.07" y2="647.94" stroke="#4cb3ea" stroke-width="0.6"/>
<line x1="167.27" y1="647.24" x2="168.87" y2="647.24" stroke="#4cb3ea" stroke-width="0.6"/>
<line x1="169.94" y1="649.51" x2="169.94" y2="652.19" stroke="#4cb3ea" stroke-width="0.6"/>
<line x1="169.14" y1="649.51" x2="170.74" y2="649.51" stroke="#4cb3ea" stroke-width="0.6"/>
<line x1="171.81" y1="650.43" x2="171.81" y2="652.7" stroke="#4cb3ea" stroke-width="0.6"/>
<line x1="171.01" y1="650.43" x2="172.61" y2="650.43" stroke="#4cb3ea" stroke-width="0.6"/>
<line x1="173.67" y1="647.45" x2="173.67" y2="650.5" stroke="#4cb3ea" stroke-width="0.6"/>
<line x1="172.87" y1="647.45" x2="174.47" y2="647.45" stroke="#4cb3ea" stroke-width="0.6"/>
<line x1="175.54" y1="650.88" x2="175.54" y2="652.11" stroke="#4cb3ea" stroke-width="0.6"/>
<line x1="174.74" y1="650.88" x2="176.34" y2="650.88" stroke="#4cb3ea" stroke-width="0.6"/>
<line x1="177.41" y1="652.19" x2="177.41" y2="654.06" stroke="#4cb3ea" stroke-width="0.6"/>
<line x1="176.61" y1="652.19" x2="178.21" y2="652.19" stroke="#4cb3ea" stroke-width="0.6"/>
<line x1="179.27" y1="648.4" x2="179.27" y2="650.3" stroke="#4cb3ea" stroke-width="0.6"/>
<line x1="178.47" y1="648.4" x2="180.07" y2="648.4" stroke="#4cb3ea" stroke-width="0.6"/>
<line x1="181.14" y1="648.51" x2="181.14" y2="650.47" stroke="#4cb3ea" stroke-width="0.6"/>
<line x1="180.34" y1="648.51" x2="181.94" y2="648.51" stroke="#4cb3ea" stroke-width="0.6"/>
<line x1="183" y1="651.6" x2="183" y2="652.29" stroke="#4cb3ea" stroke-width="0.6"/>
<line x1="182.2" y1="651.6" x2="183.8" y2="651.6" stroke="#4cb3ea" stroke-width="0.6"/>
<line x1="184.87" y1="648.35" x2="184.87" y2="648.99" stroke="#4cb3ea" stroke-width="0.6"/>
<line x1="184.07" y1="648.35" x2="185.67" y2="648.35" stroke="#4cb3ea" stroke-width="0.6"/>
<line x1="186.74" y1="646.56" x2="186.74" y2="652.6" stroke="#4cb3ea" stroke-width="0.6"/>
<line x1="185.94" y1="646.56" x2="187.54" y2="646.56" stroke="#4cb3ea" stroke-width="0.6"/>
<line x1="188.6" y1="649.45" x2="188.6" y2="655.64" stroke="#4cb3ea" stroke-width="0.6"/>
<line x1="187.8" y1="649.45" x2="189.4" y2="649.45" stroke="#4cb3ea" stroke-width="0.6"/>
<line x1="190.47" y1="646.62" x2="190.47" y2="647.13" stroke="#4cb3ea" stroke-width="0.6"/>
<line x1="189.67" y1="646.62" x2="191.27" y2="646.62" stroke="#4cb3ea" stroke-width="0.6"/>
<line x1="192.34" y1="645.22" x2="192.34" y2="654.36" stroke="#4cb3ea" stroke-width="0.6"/>
<line x1="191.54" y1="645.22" x2="193.14" y2="645.22" stroke="#4cb3ea" stroke-width="0.6"/>
<line x1="194.2" y1="652.07" x2="194.2" y2="653.03" stroke="#4cb3ea" stroke-width="0.6"/>
<line x1="193.4" y1="652.07" x2="195" y2="652.07" stroke="#4cb3ea" stroke-width="0.6"/>
<line x1="196.07" y1="649.12" x2="196.07" y2="649.74" stroke="#4cb3ea" stroke-width="0.6"/>
<line x1="195.27" y1="649.12" x2="196.87" y2="649.12" stroke="#4cb3ea" stroke-width="0.6"/>
<line x1="197.93" y1="648.39" x2="197.93" y2="651.75" stroke="#4cb3ea" stroke-width="0.6"/>
<line x1="197.13" y1="648.39" x2="198.73" y2="648.39" stroke="#4cb3ea" stroke-width="0.6"/>
<line x1="199.8" y1="646.78" x2="199.8" y2="650.03" stroke="#4cb3ea" stroke-width="0.6"/>
<line x1="199" y1="646.78" x2="200.6" y2="646.78" stroke="#4cb3ea" stroke-width="0.6"/>
<path d="M78.5,645.95 L80.36,643.89 L82.23,646.07 L84.1,647.65 L85.96,646.04 L87.83,648.97 L89.69,650.11 L91.56,646.49 L93.43,651.35 L95.29,653.24 L97.16,653.87 L99.03,652.62 L100.89,650.55 L102.76,650.37 L104.62,650.02 L106.49,648.84 L108.36,649.29 L110.22,651.54 L112.09,650.02 L113.95,651.12 L115.82,653.28 L117.69,650.37 L119.55,651.65 L121.42,651.96 L123.29,647.45 L125.15,649.64 L127.02,651.89 L128.88,650.89 L130.75,645.96 L132.62,650.82 L134.48,648.88 L136.35,649.1 L138.22,649.31 L140.08,649.16 L141.95,651.26 L143.81,651.23 L145.68,650.63 L147.55,651.02 L149.41,648.73 L151.28,647.29 L153.15,652.06 L155.01,649.24 L156.88,652.24 L158.74,651.68 L160.61,650.79 L162.48,650.1 L164.34,651.18 L166.21,655.45 L168.07,647.59 L169.94,650.85 L171.81,651.57 L173.67,648.98 L175.54,651.49 L177.41,653.13 L179.27,649.35 L181.14,649.49 L183,651.94 L184.87,648.67 L186.74,649.58 L188.6,652.55 L190.47,646.87 L192.34,649.79 L194.2,652.55 L196.07,649.43 L197.93,650.07 L199.8,648.41" stroke="#4cb3ea" stroke-width="1" fill="none"/>
<circle cx="78.5" cy="645.95" r="1.6" fill="#4cb3ea" stroke="none" stroke-width="1"/>
<circle cx="80.36" cy="643.89" r="1.6" fill="#4cb3ea" stroke="none" stroke-width="1"/>
<circle cx="82.23" cy="646.07" r="1.6" fill="#4cb3ea" stroke="none" stroke-width="1"/>
<circle cx="84.1" cy="647.65" r="1.6" fill="#4cb3ea" stroke="none" stroke-width="1"/>
<circle cx="85.96" cy="646.04" r="1.6" fill="#4cb3ea" stroke="none" stroke-width="1"/>
<circle cx="87.83" cy="648.97" r="1.6" fill="#4cb3ea" stroke="none" stroke-width="1"/>
<circle cx="89.69" cy="650.11" r="1.6" fill="#4cb3ea" stroke="none" stroke-width="1"/>
<circle cx="91.56" cy="646.49" r="1.6" fill="#4cb3ea" stroke="none" stroke-width="1"/>
<circle cx="93.43" cy="651.35" r="1.6" fill="#4cb3ea" stroke="none" stroke-width="1"/>
<circle cx="95.29" cy="653.24" r="1.6" fill="#4cb3ea" stroke="none" stroke-width="1"/>
<circle cx="97.16" cy="653.87" r="1.6" fill="#4cb3ea" stroke="none" stroke-width="1"/>
<circle cx="99.03" cy="652.62" r="1.6" fill="#4cb3ea" stroke="none" stroke-width="1"/>
<circle cx="100.89" cy="650.55" r="1.6" fill="#4cb3ea" stroke="none" stroke-width="1"/>
<circle cx="102.76" cy="650.37" r="1.6" fill="#4cb3ea" stroke="none" stroke-width="1"/>
<circle cx="104.62" cy="650.02" r="1.6" fill="#4cb3ea" stroke="none" stroke-width="1"/>
<circle cx="106.49" cy="648.84" r="1.6" fill="#4cb3ea" stroke="none" stroke-width="1"/>
<circle cx="108.36" cy="649.29" r="1.6" fill="#4cb3ea" stroke="none" stroke-width="1"/>
<circle cx="110.22" cy="651.54" r="1.6" fill="#4cb3ea" stroke="none" stroke-width="1"/>
<circle cx="112.09" cy="650.02" r="1.6" fill="#4cb3ea" stroke="none" stroke-width="1"/>
<circle cx="113.95" cy="651.12" r="1.6" fill="#4cb3ea" stroke="none" stroke-width="1"/>
<circle cx="115.82" cy="653.28" r="1.6" fill="#4cb3ea" stroke="none" stroke-width="1"/>
<circle cx="117.69" cy="650.37" r="1.6" fill="#4cb3ea" stroke="none" stroke-width="1"/>
<circle cx="119.55" cy="651.65" r="1.6" fill="#4cb3ea" stroke="none" stroke-width="1"/>
<circle cx="121.42" cy="651.96" r="1.6" fill="#4cb3ea" stroke="none" stroke-width="1"/>
<circle cx="123.29" cy="647.45" r="1.6" fill="#4cb3ea" stroke="none" stroke-width="1"/>
<circle cx="125.15" cy="649.64" r="1.6" fill="#4cb3ea" stroke="none" stroke-width="1"/>
<circle cx="127.02" cy="651.89" r="1.6" fill="#4cb3ea" stroke="none" stroke-width="1"/>
<circle cx="128.88" cy="650.89" r="1.6" fill="#4cb3ea" stroke="none" stroke-width="1"/>
<circle cx="130.75" cy="645.96" r="1.6" fill="#4cb3ea" stroke="none" stroke-width="1"/>
<circle cx="132.62" cy="650.82" r="1.6" fill="#4cb3ea" stroke="none" stroke-width="1"/>
<circle cx="134.48" cy="648.88" r="1.6" fill="#4cb3ea" stroke="none" stroke-width="1"/>
<circle cx="136.35" cy="649.1" r="1.6" fill="#4cb3ea" stroke="none" stroke-width="1"/>
<circle cx="138.22" cy="649.31" r="1.6" fill="#4cb3ea" stroke="none" stroke-width="1"/>
<circle cx="140.08" cy="649.16" r="1.6" fill="#4cb3ea" stroke="none" stroke-width="1"/>
<circle cx="141.95" cy="651.26" r="1.6" fill="#4cb3ea" stroke="none" stroke-width="1"/>
<circle cx="143.81" cy="651.23" r="1.6" fill="#4cb3ea" stroke="none" stroke-width="1"/>
<circle cx="145.68" cy="650.63" r="1.6" fill="#4cb3ea" stroke="none" stroke-width="1"/>
<circle cx="147.55" cy="651.02" r="1.6" fill="#4cb3ea" stroke="none" stroke-width="1"/>
<circle cx="149.41" cy="648.73" r="1.6" fill="#4cb3ea" stroke="none" stroke-width="1"/>
<circle cx="151.28" cy="647.29" r="1.6" fill="#4cb3ea" stroke="none" stroke-width="1"/>
<circle cx="153.15" cy="652.06" r="1.6" fill="#4cb3ea" stroke="none" stroke-width="1"/>
<circle cx="155.01" cy="649.24" r="1.6" fill="#4cb3ea" stroke="none" stroke-width="1"/>
<circle cx="156.88" cy="652.24" r="1.6" fill="#4cb3ea" stroke="none" stroke-width="1"/>
<circle cx="158.74" cy="651.68" r="1.6" fill="#4cb3ea" stroke="none" stroke-width="1"/>
<circle cx="160.61" cy="650.79" r="1.6" fill="#4cb3ea" stroke="none" stroke-width="1"/>
<circle cx="162.48" cy="650.1" r="1.6" fill="#4cb3ea" stroke="none" stroke-width="1"/>
<circle cx="164.34" cy="651.18" r="1.6" fill="#4cb3ea" stroke="none" stroke-width="1"/>
<circle cx="166.21" cy="655.45" r="1.6" fill="#4cb3ea" stroke="none" stroke-width="1"/>
<circle cx="168.07" cy="647.59" r="1.6" fill="#4cb3ea" stroke="none" stroke-width="1"/>
<circle cx="169.94" cy="650.85" r="1.6" fill="#4cb3ea" stroke="none" stroke-width="1"/>
<circle cx="171.81" cy="651.57" r="1.6" fill="#4cb3ea" stroke="none" stroke-width="1"/>
<circle cx="173.67" cy="648.98" r="1.6" fill="#4cb3ea" stroke="none" stroke-width="1"/>
<circle cx="175.54" cy="651.49" r="1.6" fill="#4cb3ea" stroke="none" stroke-width="1"/>
<circle cx="177.41" cy="653.13" r="1.6" fill="#4cb3ea" stroke="none" stroke-width="1"/>
<circle cx="179.27" cy="649.35" r="1.6" fill="#4cb3ea" stroke="none" stroke-width="1"/>
<circle cx="181.14" cy="649.49" r="1.6" fill="#4cb3ea" stroke="none" stroke-width="1"/>
<circle cx="183" cy="651.94" r="1.6" fill="#4cb3ea" stroke="none" stroke-width="1"/>
<circle cx="184.87" cy="648.67" r="1.6" fill="#4cb3ea" stroke="none" stroke-width="1"/>
<circle cx="186.74" cy="649.58" r="1.6" fill="#4cb3ea" stroke="none" stroke-width="1"/>
<circle cx="188.6" cy="652.55" r="1.6" fill="#4cb3ea" stroke="none" stroke-width="1"/>
<circle cx="190.47" cy="646.87" r="1.6" fill="#4cb3ea" stroke="none" stroke-width="1"/>
<circle cx="192.34" cy="649.79" r="1.6" fill="#4cb3ea" stroke="none" stroke-width="1"/>
<circle cx="194.2" cy="652.55" r="1.6" fill="#4cb3ea" stroke="none" stroke-width="1"/>
<circle cx="196.07" cy="649.43" r="1.6" fill="#4cb3ea" stroke="none" stroke-width="1"/>
<circle cx="197.93" cy="650.07" r="1.6" fill="#4cb3ea" stroke="none" stroke-width="1"/>
<circle cx="199.8" cy="648.41" r="1.6" fill="#4cb3ea" stroke="none" stroke-width="1"/>
<line x1="78.2" y1="599.5" x2="78.2" y2="697.35" stroke="#000" stroke-width="1.7"/>
<line x1="73.8" y1="599.5" x2="78.2" y2="599.5" stroke="#000" stroke-width="1.7"/>
<text x="72.6" y="603.79" font-size="10.3" font-weight="bold" text-anchor="end" fill="#000">0.04</text>
<line x1="73.8" y1="623.75" x2="78.2" y2="623.75" stroke="#000" stroke-width="1.7"/>
<text x="72.6" y="628.04" font-size="10.3" font-weight="bold" text-anchor="end" fill="#000">0.02</text>
<line x1="73.8" y1="648" x2="78.2" y2="648" stroke="#000" stroke-width="1.7"/>
<text x="72.6" y="652.29" font-size="10.3" font-weight="bold" text-anchor="end" fill="#000">0.00</text>
<line x1="73.8" y1="672.25" x2="78.2" y2="672.25" stroke="#000" stroke-width="1.7"/>
<text x="72.6" y="676.54" font-size="10.3" font-weight="bold" text-anchor="end" fill="#000">-0.02</text>
<line x1="73.8" y1="696.5" x2="78.2" y2="696.5" stroke="#000" stroke-width="1.7"/>
<text x="72.6" y="700.79" font-size="10.3" font-weight="bold" text-anchor="end" fill="#000">-0.04</text>
<line x1="77.35" y1="696.5" x2="199.8" y2="696.5" stroke="#000" stroke-width="1.7"/>
<line x1="88" y1="696.5" x2="88" y2="700.9" stroke="#000" stroke-width="1.7"/>
<text x="88" y="712.29" font-size="10.3" font-weight="bold" text-anchor="middle" fill="#000">0</text>
<line x1="110.36" y1="696.5" x2="110.36" y2="700.9" stroke="#000" stroke-width="1.7"/>
<text x="110.36" y="712.29" font-size="10.3" font-weight="bold" text-anchor="middle" fill="#000">2</text>
<line x1="132.72" y1="696.5" x2="132.72" y2="700.9" stroke="#000" stroke-width="1.7"/>
<text x="132.72" y="712.29" font-size="10.3" font-weight="bold" text-anchor="middle" fill="#000">4</text>
<line x1="155.08" y1="696.5" x2="155.08" y2="700.9" stroke="#000" stroke-width="1.7"/>
<text x="155.08" y="712.29" font-size="10.3" font-weight="bold" text-anchor="middle" fill="#000">6</text>
<line x1="177.44" y1="696.5" x2="177.44" y2="700.9" stroke="#000" stroke-width="1.7"/>
<text x="177.44" y="712.29" font-size="10.3" font-weight="bold" text-anchor="middle" fill="#000">8</text>
<line x1="199.8" y1="696.5" x2="199.8" y2="700.9" stroke="#000" stroke-width="1.7"/>
<text x="199.8" y="712.29" font-size="10.3" font-weight="bold" text-anchor="middle" fill="#000">10</text>
<text x="138.5" y="729.3" font-size="12" font-weight="bold" text-anchor="middle" fill="#000">Time (min)</text>
<text x="37.9" y="649.9" font-size="12" font-weight="bold" text-anchor="middle" fill="#000" transform="rotate(-90 37.9 645.6)">cAMP (RLU)</text>
<line x1="82.5" y1="596.8" x2="93.5" y2="596.8" stroke="#88878c" stroke-width="1.2"/>
<circle cx="88" cy="596.8" r="1.8" fill="#88878c" stroke="none" stroke-width="1"/>
<text x="98.5" y="600.31" font-size="9.8" font-weight="bold" text-anchor="start" fill="#000">WT</text>
<line x1="117.1" y1="596.8" x2="128.1" y2="596.8" stroke="#4cb3ea" stroke-width="1.2"/>
<circle cx="122.6" cy="596.8" r="1.8" fill="#4cb3ea" stroke="none" stroke-width="1"/>
<text x="133.1" y="600.31" font-size="9.8" font-weight="bold" text-anchor="start" fill="#000">S99I</text>
<line x1="155.5" y1="596.8" x2="166.5" y2="596.8" stroke="#f7931e" stroke-width="1.2"/>
<circle cx="161" cy="596.8" r="1.8" fill="#f7931e" stroke="none" stroke-width="1"/>
<text x="171.5" y="600.31" font-size="9.8" font-weight="bold" text-anchor="start" fill="#000">W139C</text>
<line x1="91.9" y1="610.9" x2="102.9" y2="610.9" stroke="#3cc43c" stroke-width="1.2"/>
<circle cx="97.4" cy="610.9" r="1.8" fill="#3cc43c" stroke="none" stroke-width="1"/>
<text x="107.9" y="614.41" font-size="9.8" font-weight="bold" text-anchor="start" fill="#000">L4132Δ</text>
<line x1="143.9" y1="610.9" x2="154.9" y2="610.9" stroke="#a545d8" stroke-width="1.2"/>
<circle cx="149.4" cy="610.9" r="1.8" fill="#a545d8" stroke="none" stroke-width="1"/>
<text x="159.9" y="614.41" font-size="9.8" font-weight="bold" text-anchor="start" fill="#000">S4213X</text>
<rect x="260.4" y="616.93" width="12" height="78.97" fill="#9a999e" stroke="#000" stroke-width="1.1"/>
<rect x="279" y="685.63" width="12" height="10.27" fill="#6ec6f2" stroke="#000" stroke-width="1.1"/>
<rect x="297.2" y="662.52" width="12" height="33.38" fill="#fba244" stroke="#000" stroke-width="1.1"/>
<rect x="315.2" y="663.16" width="12" height="32.74" fill="#5ed65e" stroke="#000" stroke-width="1.1"/>
<rect x="333.4" y="690.76" width="12" height="5.14" fill="#b65de6" stroke="#000" stroke-width="1.1"/>
<line x1="266.4" y1="609.23" x2="266.4" y2="624.64" stroke="#000" stroke-width="0.9"/>
<line x1="263.4" y1="609.23" x2="269.4" y2="609.23" stroke="#000" stroke-width="0.9"/>
<line x1="263.4" y1="624.64" x2="269.4" y2="624.64" stroke="#000" stroke-width="0.9"/>
<circle cx="266.1" cy="604.09" r="1.8" fill="#000" stroke="none" stroke-width="1"/>
<circle cx="263.9" cy="621.43" r="1.8" fill="#000" stroke="none" stroke-width="1"/>
<circle cx="268.9" cy="622.07" r="1.8" fill="#000" stroke="none" stroke-width="1"/>
<line x1="285" y1="683.06" x2="285" y2="688.2" stroke="#000" stroke-width="0.9"/>
<line x1="282" y1="683.06" x2="288" y2="683.06" stroke="#000" stroke-width="0.9"/>
<line x1="282" y1="688.2" x2="288" y2="688.2" stroke="#000" stroke-width="0.9"/>
<circle cx="284.7" cy="682.42" r="1.8" fill="#000" stroke="none" stroke-width="1"/>
<circle cx="282.5" cy="689.48" r="1.8" fill="#000" stroke="none" stroke-width="1"/>
<circle cx="287.5" cy="682.42" r="1.8" fill="#000" stroke="none" stroke-width="1"/>
<line x1="303.2" y1="657.38" x2="303.2" y2="667.65" stroke="#000" stroke-width="0.9"/>
<line x1="300.2" y1="657.38" x2="306.2" y2="657.38" stroke="#000" stroke-width="0.9"/>
<line x1="300.2" y1="667.65" x2="306.2" y2="667.65" stroke="#000" stroke-width="0.9"/>
<circle cx="302.9" cy="655.45" r="1.8" fill="#000" stroke="none" stroke-width="1"/>
<circle cx="300.7" cy="663.8" r="1.8" fill="#000" stroke="none" stroke-width="1"/>
<circle cx="305.7" cy="668.29" r="1.8" fill="#000" stroke="none" stroke-width="1"/>
<line x1="321.2" y1="659.31" x2="321.2" y2="667.01" stroke="#000" stroke-width="0.9"/>
<line x1="318.2" y1="659.31" x2="324.2" y2="659.31" stroke="#000" stroke-width="0.9"/>
<line x1="318.2" y1="667.01" x2="324.2" y2="667.01" stroke="#000" stroke-width="0.9"/>
<circle cx="320.9" cy="656.1" r="1.8" fill="#000" stroke="none" stroke-width="1"/>
<circle cx="318.7" cy="663.8" r="1.8" fill="#000" stroke="none" stroke-width="1"/>
<circle cx="323.7" cy="663.8" r="1.8" fill="#000" stroke="none" stroke-width="1"/>
<line x1="339.4" y1="684.99" x2="339.4" y2="695.9" stroke="#000" stroke-width="0.9"/>
<line x1="336.4" y1="684.99" x2="342.4" y2="684.99" stroke="#000" stroke-width="0.9"/>
<line x1="336.4" y1="696.54" x2="342.4" y2="696.54" stroke="#000" stroke-width="0.9"/>
<circle cx="339.1" cy="679.85" r="1.8" fill="#000" stroke="none" stroke-width="1"/>
<circle cx="336.9" cy="695.9" r="1.8" fill="#000" stroke="none" stroke-width="1"/>
<circle cx="341.9" cy="693.97" r="1.8" fill="#000" stroke="none" stroke-width="1"/>
<line x1="254.1" y1="599.6" x2="254.1" y2="696.75" stroke="#000" stroke-width="1.7"/>
<line x1="249.7" y1="695.9" x2="254.1" y2="695.9" stroke="#000" stroke-width="1.7"/>
<text x="248.5" y="700.19" font-size="10.3" font-weight="bold" text-anchor="end" fill="#000">0.00</text>
<line x1="249.7" y1="663.8" x2="254.1" y2="663.8" stroke="#000" stroke-width="1.7"/>
<text x="248.5" y="668.09" font-size="10.3" font-weight="bold" text-anchor="end" fill="#000">0.05</text>
<line x1="249.7" y1="631.7" x2="254.1" y2="631.7" stroke="#000" stroke-width="1.7"/>
<text x="248.5" y="635.99" font-size="10.3" font-weight="bold" text-anchor="end" fill="#000">0.10</text>
<line x1="249.7" y1="599.6" x2="254.1" y2="599.6" stroke="#000" stroke-width="1.7"/>
<text x="248.5" y="603.89" font-size="10.3" font-weight="bold" text-anchor="end" fill="#000">0.15</text>
<line x1="253.25" y1="695.9" x2="351.4" y2="695.9" stroke="#000" stroke-width="1.7"/>
<line x1="266.4" y1="695.9" x2="266.4" y2="700.3" stroke="#000" stroke-width="1.7"/>
<line x1="285" y1="695.9" x2="285" y2="700.3" stroke="#000" stroke-width="1.7"/>
<line x1="303.2" y1="695.9" x2="303.2" y2="700.3" stroke="#000" stroke-width="1.7"/>
<line x1="321.2" y1="695.9" x2="321.2" y2="700.3" stroke="#000" stroke-width="1.7"/>
<line x1="339.4" y1="695.9" x2="339.4" y2="700.3" stroke="#000" stroke-width="1.7"/>
<text x="267.2" y="712" font-size="10.6" font-weight="bold" text-anchor="end" transform="rotate(-40 267.2 708.3)">WT</text>
<text x="285.8" y="712" font-size="10.6" font-weight="bold" text-anchor="end" transform="rotate(-40 285.8 708.3)">S99I</text>
<text x="304" y="712" font-size="10.6" font-weight="bold" text-anchor="end" transform="rotate(-40 304 708.3)">W139C</text>
<text x="322" y="712" font-size="10.6" font-weight="bold" text-anchor="end" transform="rotate(-40 322 708.3)">L4132Δ</text>
<text x="340.2" y="712" font-size="10.6" font-weight="bold" text-anchor="end" transform="rotate(-40 340.2 708.3)">S4213X</text>
<text x="218.6" y="649.8" font-size="12" font-weight="bold" text-anchor="middle" fill="#000" transform="rotate(-90 218.6 645.5)">AUC</text>
<path d="M266.4,598.7 L266.4,593.4 L285,593.4 L285,598.7" stroke="#000" stroke-width="1.15" fill="none"/>
<text x="275.7" y="591.26" font-size="8" font-weight="bold" text-anchor="middle" fill="#000">&lt;0.0001</text>
<path d="M266.4,583 L266.4,577.7 L303.2,577.7 L303.2,583" stroke="#000" stroke-width="1.15" fill="none"/>
<text x="284.8" y="575.86" font-size="8" font-weight="bold" text-anchor="middle" fill="#000">0.0006</text>
<path d="M266.4,568.1 L266.4,562.8 L321.2,562.8 L321.2,568.1" stroke="#000" stroke-width="1.15" fill="none"/>
<text x="293.8" y="560.86" font-size="8" font-weight="bold" text-anchor="middle" fill="#000">0.0005</text>
<path d="M266.4,552.7 L266.4,547.4 L339.4,547.4 L339.4,552.7" stroke="#000" stroke-width="1.15" fill="none"/>
<text x="302.9" y="545.36" font-size="8" font-weight="bold" text-anchor="middle" fill="#000">&lt;0.0001</text>
<text x="31" y="762.25" font-size="15.5" font-weight="bold" text-anchor="start" fill="#000">g</text>
<text x="126" y="761.1" font-size="12" font-weight="bold" text-anchor="middle" fill="#000">HEK293T</text>
<rect x="83.25" y="808.42" width="9.5" height="91.58" fill="#9a999e" stroke="#000" stroke-width="1.1"/>
<rect x="98.55" y="809.38" width="9.5" height="90.62" fill="#f4545e" stroke="#000" stroke-width="1.1"/>
<rect x="113.75" y="808.42" width="9.5" height="91.58" fill="#fba244" stroke="#000" stroke-width="1.1"/>
<rect x="129.25" y="843.12" width="9.5" height="56.88" fill="#9a999e" stroke="#000" stroke-width="1.1"/>
<rect x="144.45" y="821.92" width="9.5" height="78.08" fill="#f4545e" stroke="#000" stroke-width="1.1"/>
<rect x="159.95" y="834.45" width="9.5" height="65.55" fill="#fba244" stroke="#000" stroke-width="1.1"/>
<line x1="88" y1="806.49" x2="88" y2="810.35" stroke="#000" stroke-width="0.9"/>
<line x1="85.5" y1="806.49" x2="90.5" y2="806.49" stroke="#000" stroke-width="0.9"/>
<circle cx="88" cy="806.49" r="1.8" fill="#000" stroke="none" stroke-width="1"/>
<circle cx="86" cy="810.35" r="1.8" fill="#000" stroke="none" stroke-width="1"/>
<circle cx="90" cy="811.31" r="1.8" fill="#000" stroke="none" stroke-width="1"/>
<line x1="103.3" y1="808.61" x2="103.3" y2="810.16" stroke="#000" stroke-width="0.9"/>
<line x1="100.8" y1="808.61" x2="105.8" y2="808.61" stroke="#000" stroke-width="0.9"/>
<circle cx="103.3" cy="808.42" r="1.8" fill="#000" stroke="none" stroke-width="1"/>
<circle cx="101.3" cy="809.38" r="1.8" fill="#000" stroke="none" stroke-width="1"/>
<circle cx="105.3" cy="810.35" r="1.8" fill="#000" stroke="none" stroke-width="1"/>
<line x1="118.5" y1="806.49" x2="118.5" y2="810.35" stroke="#000" stroke-width="0.9"/>
<line x1="116" y1="806.49" x2="121" y2="806.49" stroke="#000" stroke-width="0.9"/>
<circle cx="118.5" cy="804.56" r="1.8" fill="#000" stroke="none" stroke-width="1"/>
<circle cx="116.5" cy="809.38" r="1.8" fill="#000" stroke="none" stroke-width="1"/>
<circle cx="120.5" cy="811.31" r="1.8" fill="#000" stroke="none" stroke-width="1"/>
<line x1="134" y1="840.71" x2="134" y2="845.53" stroke="#000" stroke-width="0.9"/>
<line x1="131.5" y1="840.71" x2="136.5" y2="840.71" stroke="#000" stroke-width="0.9"/>
<circle cx="134" cy="839.27" r="1.8" fill="#000" stroke="none" stroke-width="1"/>
<circle cx="132" cy="844.09" r="1.8" fill="#000" stroke="none" stroke-width="1"/>
<circle cx="136" cy="845.05" r="1.8" fill="#000" stroke="none" stroke-width="1"/>
<line x1="149.2" y1="820.47" x2="149.2" y2="823.36" stroke="#000" stroke-width="0.9"/>
<line x1="146.7" y1="820.47" x2="151.7" y2="820.47" stroke="#000" stroke-width="0.9"/>
<circle cx="149.2" cy="819.99" r="1.8" fill="#000" stroke="none" stroke-width="1"/>
<circle cx="147.2" cy="822.88" r="1.8" fill="#000" stroke="none" stroke-width="1"/>
<circle cx="151.2" cy="821.92" r="1.8" fill="#000" stroke="none" stroke-width="1"/>
<line x1="164.7" y1="833" x2="164.7" y2="835.89" stroke="#000" stroke-width="0.9"/>
<line x1="162.2" y1="833" x2="167.2" y2="833" stroke="#000" stroke-width="0.9"/>
<circle cx="164.7" cy="831.56" r="1.8" fill="#000" stroke="none" stroke-width="1"/>
<circle cx="162.7" cy="835.41" r="1.8" fill="#000" stroke="none" stroke-width="1"/>
<circle cx="166.7" cy="835.41" r="1.8" fill="#000" stroke="none" stroke-width="1"/>
<line x1="78.2" y1="803.6" x2="78.2" y2="900.85" stroke="#000" stroke-width="1.7"/>
<line x1="73.8" y1="900" x2="78.2" y2="900" stroke="#000" stroke-width="1.7"/>
<text x="72.6" y="904.29" font-size="10.3" font-weight="bold" text-anchor="end" fill="#000">0</text>
<line x1="73.8" y1="875.9" x2="78.2" y2="875.9" stroke="#000" stroke-width="1.7"/>
<text x="72.6" y="880.19" font-size="10.3" font-weight="bold" text-anchor="end" fill="#000">25</text>
<line x1="73.8" y1="851.8" x2="78.2" y2="851.8" stroke="#000" stroke-width="1.7"/>
<text x="72.6" y="856.09" font-size="10.3" font-weight="bold" text-anchor="end" fill="#000">50</text>
<line x1="73.8" y1="827.7" x2="78.2" y2="827.7" stroke="#000" stroke-width="1.7"/>
<text x="72.6" y="831.99" font-size="10.3" font-weight="bold" text-anchor="end" fill="#000">75</text>
<line x1="73.8" y1="803.6" x2="78.2" y2="803.6" stroke="#000" stroke-width="1.7"/>
<text x="72.6" y="807.89" font-size="10.3" font-weight="bold" text-anchor="end" fill="#000">100</text>
<line x1="77.35" y1="900" x2="175.2" y2="900" stroke="#000" stroke-width="1.7"/>
<line x1="88" y1="900" x2="88" y2="904.4" stroke="#000" stroke-width="1.7"/>
<line x1="103.3" y1="900" x2="103.3" y2="904.4" stroke="#000" stroke-width="1.7"/>
<line x1="118.5" y1="900" x2="118.5" y2="904.4" stroke="#000" stroke-width="1.7"/>
<line x1="134" y1="900" x2="134" y2="904.4" stroke="#000" stroke-width="1.7"/>
<line x1="149.2" y1="900" x2="149.2" y2="904.4" stroke="#000" stroke-width="1.7"/>
<line x1="164.7" y1="900" x2="164.7" y2="904.4" stroke="#000" stroke-width="1.7"/>
<text x="30.8" y="854.8" font-size="12" font-weight="bold" text-anchor="middle" fill="#000" transform="rotate(-90 30.8 850.5)">RLU</text>
<text x="44.2" y="854.3" font-size="12" font-weight="bold" text-anchor="middle" fill="#000" transform="rotate(-90 44.2 850)">(% of control)</text>
<path d="M133.6,780.3 L133.6,775 L164.6,775 L164.6,780.3" stroke="#000" stroke-width="1.15" fill="none"/>
<text x="149.1" y="772.86" font-size="8" font-weight="bold" text-anchor="middle" fill="#000">0.0484</text>
<path d="M133.6,798.3 L133.6,793 L147.6,793 L147.6,798.3" stroke="#000" stroke-width="1.15" fill="none"/>
<text x="140.6" y="791.06" font-size="8" font-weight="bold" text-anchor="middle" fill="#000">&lt;0.0001</text>
<path d="M150.8,815.3 L150.8,810 L164.6,810 L164.6,815.3" stroke="#000" stroke-width="1.15" fill="none"/>
<text x="157.7" y="808.56" font-size="8" font-weight="bold" text-anchor="middle" fill="#000">0.0101</text>
<text x="34.5" y="916.86" font-size="10.5" font-weight="bold" text-anchor="start" fill="#000">Control</text>
<text x="88" y="916.86" font-size="10.5" font-weight="bold" text-anchor="middle" fill="#000">+</text>
<text x="103.3" y="916.86" font-size="10.5" font-weight="bold" text-anchor="middle" fill="#000">-</text>
<text x="118.5" y="916.86" font-size="10.5" font-weight="bold" text-anchor="middle" fill="#000">-</text>
<text x="134" y="916.86" font-size="10.5" font-weight="bold" text-anchor="middle" fill="#000">+</text>
<text x="149.2" y="916.86" font-size="10.5" font-weight="bold" text-anchor="middle" fill="#000">-</text>
<text x="164.7" y="916.86" font-size="10.5" font-weight="bold" text-anchor="middle" fill="#000">-</text>
<text x="34.5" y="929.16" font-size="10.5" font-weight="bold" text-anchor="start" fill="#000">KO</text>
<text x="88" y="929.16" font-size="10.5" font-weight="bold" text-anchor="middle" fill="#000">-</text>
<text x="103.3" y="929.16" font-size="10.5" font-weight="bold" text-anchor="middle" fill="#000">+</text>
<text x="118.5" y="929.16" font-size="10.5" font-weight="bold" text-anchor="middle" fill="#000">-</text>
<text x="134" y="929.16" font-size="10.5" font-weight="bold" text-anchor="middle" fill="#000">-</text>
<text x="149.2" y="929.16" font-size="10.5" font-weight="bold" text-anchor="middle" fill="#000">+</text>
<text x="164.7" y="929.16" font-size="10.5" font-weight="bold" text-anchor="middle" fill="#000">-</text>
<text x="34.5" y="941.46" font-size="10.5" font-weight="bold" text-anchor="start" fill="#000">KO+WT</text>
<text x="88" y="941.46" font-size="10.5" font-weight="bold" text-anchor="middle" fill="#000">-</text>
<text x="103.3" y="941.46" font-size="10.5" font-weight="bold" text-anchor="middle" fill="#000">-</text>
<text x="118.5" y="941.46" font-size="10.5" font-weight="bold" text-anchor="middle" fill="#000">+</text>
<text x="134" y="941.46" font-size="10.5" font-weight="bold" text-anchor="middle" fill="#000">-</text>
<text x="149.2" y="941.46" font-size="10.5" font-weight="bold" text-anchor="middle" fill="#000">-</text>
<text x="164.7" y="941.46" font-size="10.5" font-weight="bold" text-anchor="middle" fill="#000">+</text>
<line x1="86" y1="943.8" x2="121" y2="943.8" stroke="#686868" stroke-width="1.7"/>
<line x1="132" y1="943.8" x2="166.4" y2="943.8" stroke="#686868" stroke-width="1.7"/>
<text x="103.6" y="958.56" font-size="10.5" font-weight="bold" text-anchor="middle" fill="#000">Vehicle</text>
<text x="149" y="958.56" font-size="10.5" font-weight="bold" text-anchor="middle" fill="#000">WNT-9B</text>
<text x="205" y="775.85" font-size="15.5" font-weight="bold" text-anchor="start" fill="#000">h</text>
<text x="305.6" y="773.3" font-size="12" font-weight="bold" text-anchor="middle" fill="#000">mIMCD-3</text>
<rect x="264.9" y="819.27" width="13.4" height="92.83" fill="#9a999e" stroke="#000" stroke-width="1.1"/>
<rect x="287.4" y="819.27" width="13.4" height="92.83" fill="#f4545e" stroke="#000" stroke-width="1.1"/>
<rect x="309.7" y="845.38" width="13.4" height="66.72" fill="#9a999e" stroke="#000" stroke-width="1.1"/>
<rect x="331.8" y="829.9" width="13.4" height="82.2" fill="#f4545e" stroke="#000" stroke-width="1.1"/>
<line x1="271.6" y1="818.3" x2="271.6" y2="820.24" stroke="#000" stroke-width="0.9"/>
<line x1="268.6" y1="818.3" x2="274.6" y2="818.3" stroke="#000" stroke-width="0.9"/>
<line x1="268.6" y1="820.24" x2="274.6" y2="820.24" stroke="#000" stroke-width="0.9"/>
<circle cx="269.1" cy="818.3" r="1.8" fill="#000" stroke="none" stroke-width="1"/>
<circle cx="271.6" cy="820.24" r="1.8" fill="#000" stroke="none" stroke-width="1"/>
<circle cx="274.1" cy="818.3" r="1.8" fill="#000" stroke="none" stroke-width="1"/>
<line x1="294.1" y1="818.98" x2="294.1" y2="819.56" stroke="#000" stroke-width="0.9"/>
<line x1="291.1" y1="818.98" x2="297.1" y2="818.98" stroke="#000" stroke-width="0.9"/>
<line x1="291.1" y1="819.56" x2="297.1" y2="819.56" stroke="#000" stroke-width="0.9"/>
<circle cx="291.6" cy="819.27" r="1.8" fill="#000" stroke="none" stroke-width="1"/>
<circle cx="294.1" cy="819.27" r="1.8" fill="#000" stroke="none" stroke-width="1"/>
<circle cx="296.6" cy="819.27" r="1.8" fill="#000" stroke="none" stroke-width="1"/>
<line x1="316.4" y1="841.51" x2="316.4" y2="849.25" stroke="#000" stroke-width="0.9"/>
<line x1="313.4" y1="841.51" x2="319.4" y2="841.51" stroke="#000" stroke-width="0.9"/>
<line x1="313.4" y1="849.25" x2="319.4" y2="849.25" stroke="#000" stroke-width="0.9"/>
<circle cx="313.9" cy="838.61" r="1.8" fill="#000" stroke="none" stroke-width="1"/>
<circle cx="316.4" cy="852.15" r="1.8" fill="#000" stroke="none" stroke-width="1"/>
<circle cx="318.9" cy="844.41" r="1.8" fill="#000" stroke="none" stroke-width="1"/>
<line x1="338.5" y1="827" x2="338.5" y2="832.81" stroke="#000" stroke-width="0.9"/>
<line x1="335.5" y1="827" x2="341.5" y2="827" stroke="#000" stroke-width="0.9"/>
<line x1="335.5" y1="832.81" x2="341.5" y2="832.81" stroke="#000" stroke-width="0.9"/>
<circle cx="336" cy="826.04" r="1.8" fill="#000" stroke="none" stroke-width="1"/>
<circle cx="338.5" cy="828.94" r="1.8" fill="#000" stroke="none" stroke-width="1"/>
<circle cx="341" cy="832.81" r="1.8" fill="#000" stroke="none" stroke-width="1"/>
<line x1="257" y1="815.4" x2="257" y2="912.95" stroke="#000" stroke-width="1.7"/>
<line x1="252.6" y1="912.1" x2="257" y2="912.1" stroke="#000" stroke-width="1.7"/>
<text x="251.4" y="916.39" font-size="10.3" font-weight="bold" text-anchor="end" fill="#000">0</text>
<line x1="252.6" y1="887.93" x2="257" y2="887.93" stroke="#000" stroke-width="1.7"/>
<text x="251.4" y="892.21" font-size="10.3" font-weight="bold" text-anchor="end" fill="#000">25</text>
<line x1="252.6" y1="863.75" x2="257" y2="863.75" stroke="#000" stroke-width="1.7"/>
<text x="251.4" y="868.04" font-size="10.3" font-weight="bold" text-anchor="end" fill="#000">50</text>
<line x1="252.6" y1="839.58" x2="257" y2="839.58" stroke="#000" stroke-width="1.7"/>
<text x="251.4" y="843.86" font-size="10.3" font-weight="bold" text-anchor="end" fill="#000">75</text>
<line x1="252.6" y1="815.4" x2="257" y2="815.4" stroke="#000" stroke-width="1.7"/>
<text x="251.4" y="819.69" font-size="10.3" font-weight="bold" text-anchor="end" fill="#000">100</text>
<line x1="256.15" y1="912.1" x2="354.5" y2="912.1" stroke="#000" stroke-width="1.7"/>
<line x1="271.6" y1="912.1" x2="271.6" y2="916.5" stroke="#000" stroke-width="1.7"/>
<line x1="294.1" y1="912.1" x2="294.1" y2="916.5" stroke="#000" stroke-width="1.7"/>
<line x1="316.4" y1="912.1" x2="316.4" y2="916.5" stroke="#000" stroke-width="1.7"/>
<line x1="338.5" y1="912.1" x2="338.5" y2="916.5" stroke="#000" stroke-width="1.7"/>
<text x="209.8" y="867.1" font-size="12" font-weight="bold" text-anchor="middle" fill="#000" transform="rotate(-90 209.8 862.8)">RLU</text>
<text x="224.2" y="865.8" font-size="12" font-weight="bold" text-anchor="middle" fill="#000" transform="rotate(-90 224.2 861.5)">(% of control)</text>
<path d="M294.1,793.1 L294.1,787.8 L338.6,787.8 L338.6,793.1" stroke="#000" stroke-width="1.15" fill="none"/>
<text x="316.35" y="786.26" font-size="8" font-weight="bold" text-anchor="middle" fill="#000">0.0934</text>
<path d="M271.6,810.5 L271.6,805.2 L314.5,805.2 L314.5,810.5" stroke="#000" stroke-width="1.15" fill="none"/>
<text x="293.05" y="804.06" font-size="8" font-weight="bold" text-anchor="middle" fill="#000">0.0006</text>
<path d="M318.2,810.5 L318.2,805.2 L338.6,805.2 L338.6,810.5" stroke="#000" stroke-width="1.15" fill="none"/>
<text x="328.4" y="804.06" font-size="8" font-weight="bold" text-anchor="middle" fill="#000">0.0163</text>
<text x="214.2" y="928.16" font-size="10.5" font-weight="bold" text-anchor="start" fill="#000">Control</text>
<text x="271.6" y="928.16" font-size="10.5" font-weight="bold" text-anchor="middle" fill="#000">+</text>
<text x="294.1" y="928.16" font-size="10.5" font-weight="bold" text-anchor="middle" fill="#000">-</text>
<text x="316.4" y="928.16" font-size="10.5" font-weight="bold" text-anchor="middle" fill="#000">+</text>
<text x="338.5" y="928.16" font-size="10.5" font-weight="bold" text-anchor="middle" fill="#000">-</text>
<text x="214.2" y="940.06" font-size="10.5" font-weight="bold" text-anchor="start" fill="#000">KO</text>
<text x="271.6" y="940.06" font-size="10.5" font-weight="bold" text-anchor="middle" fill="#000">-</text>
<text x="294.1" y="940.06" font-size="10.5" font-weight="bold" text-anchor="middle" fill="#000">+</text>
<text x="316.4" y="940.06" font-size="10.5" font-weight="bold" text-anchor="middle" fill="#000">-</text>
<text x="338.5" y="940.06" font-size="10.5" font-weight="bold" text-anchor="middle" fill="#000">+</text>
<line x1="268" y1="943.8" x2="299.8" y2="943.8" stroke="#686868" stroke-width="1.7"/>
<line x1="311.6" y1="943.8" x2="343" y2="943.8" stroke="#686868" stroke-width="1.7"/>
<text x="282.5" y="956.56" font-size="10.5" font-weight="bold" text-anchor="middle" fill="#000">Vehicle</text>
<text x="328" y="956.56" font-size="10.5" font-weight="bold" text-anchor="middle" fill="#000">WNT-9B</text>
<text x="377" y="574.05" font-size="15.5" font-weight="bold" text-anchor="start" fill="#000">i</text>
<line x1="529.3" y1="588.1" x2="529.3" y2="864.6" stroke="#111" stroke-width="2.3" stroke-dasharray="4.1,4.98"/>
<rect x="402.4" y="587.4" width="84.8" height="24.6" fill="#fff" stroke="#111" stroke-width="1.6" rx="1.2"/>
<text x="444.8" y="604.07" font-size="13.6" font-weight="bold" text-anchor="middle" fill="#111">Normal</text>
<rect x="571.5" y="587.4" width="83.4" height="24.6" fill="#fbe3ea" stroke="#8e2a48" stroke-width="1.6" rx="1.2"/>
<text x="613.2" y="603.79" font-size="13.1" font-weight="bold" text-anchor="middle" fill="#111">ADPKD</text>
<path d="M392.98,685.36 L392.44,688.14 L393.18,690.92 L392.64,693.14 M394.32,685.36 L394.86,688.14 L394.12,690.92 L394.66,693.14 M392.98,701.24 L392.44,698.46 L393.18,695.68 L392.64,693.46 M394.32,701.24 L394.86,698.46 L394.12,695.68 L394.66,693.46 M397.48,685.36 L396.94,688.14 L397.68,690.92 L397.14,693.14 M398.82,685.36 L399.36,688.14 L398.62,690.92 L399.16,693.14 M397.48,701.24 L396.94,698.46 L397.68,695.68 L397.14,693.46 M398.82,701.24 L399.36,698.46 L398.62,695.68 L399.16,693.46 M401.98,685.36 L401.44,688.14 L402.18,690.92 L401.64,693.14 M403.32,685.36 L403.86,688.14 L403.12,690.92 L403.66,693.14 M401.98,701.24 L401.44,698.46 L402.18,695.68 L401.64,693.46 M403.32,701.24 L403.86,698.46 L403.12,695.68 L403.66,693.46 M406.48,685.36 L405.94,688.14 L406.68,690.92 L406.14,693.14 M407.82,685.36 L408.36,688.14 L407.62,690.92 L408.16,693.14 M406.48,701.24 L405.94,698.46 L406.68,695.68 L406.14,693.46 M407.82,701.24 L408.36,698.46 L407.62,695.68 L408.16,693.46 M410.98,685.36 L410.44,688.14 L411.18,690.92 L410.64,693.14 M412.32,685.36 L412.86,688.14 L412.12,690.92 L412.66,693.14 M410.98,701.24 L410.44,698.46 L411.18,695.68 L410.64,693.46 M412.32,701.24 L412.86,698.46 L412.12,695.68 L412.66,693.46 M415.48,685.36 L414.94,688.14 L415.68,690.92 L415.14,693.14 M416.82,685.36 L417.36,688.14 L416.62,690.92 L417.16,693.14 M415.48,701.24 L414.94,698.46 L415.68,695.68 L415.14,693.46 M416.82,701.24 L417.36,698.46 L416.62,695.68 L417.16,693.46 M419.98,685.36 L419.44,688.14 L420.18,690.92 L419.64,693.14 M421.32,685.36 L421.86,688.14 L421.12,690.92 L421.66,693.14 M419.98,701.24 L419.44,698.46 L420.18,695.68 L419.64,693.46 M421.32,701.24 L421.86,698.46 L421.12,695.68 L421.66,693.46 M424.48,685.36 L423.94,688.14 L424.68,690.92 L424.14,693.14 M425.82,685.36 L426.36,688.14 L425.62,690.92 L426.16,693.14 M424.48,701.24 L423.94,698.46 L424.68,695.68 L424.14,693.46 M425.82,701.24 L426.36,698.46 L425.62,695.68 L426.16,693.46 M428.98,685.36 L428.44,688.14 L429.18,690.92 L428.64,693.14 M430.32,685.36 L430.86,688.14 L430.12,690.92 L430.66,693.14 M428.98,701.24 L428.44,698.46 L429.18,695.68 L428.64,693.46 M430.32,701.24 L430.86,698.46 L430.12,695.68 L430.66,693.46 M433.48,685.36 L432.94,688.14 L433.68,690.92 L433.14,693.14 M434.82,685.36 L435.36,688.14 L434.62,690.92 L435.16,693.14 M433.48,701.24 L432.94,698.46 L433.68,695.68 L433.14,693.46 M434.82,701.24 L435.36,698.46 L434.62,695.68 L435.16,693.46 M437.98,685.36 L437.44,688.14 L438.18,690.92 L437.64,693.14 M439.32,685.36 L439.86,688.14 L439.12,690.92 L439.66,693.14 M437.98,701.24 L437.44,698.46 L438.18,695.68 L437.64,693.46 M439.32,701.24 L439.86,698.46 L439.12,695.68 L439.66,693.46 M442.48,685.36 L441.94,688.14 L442.68,690.92 L442.14,693.14 M443.82,685.36 L444.36,688.14 L443.62,690.92 L444.16,693.14 M442.48,701.24 L441.94,698.46 L442.68,695.68 L442.14,693.46 M443.82,701.24 L444.36,698.46 L443.62,695.68 L444.16,693.46 M446.98,685.36 L446.44,688.14 L447.18,690.92 L446.64,693.14 M448.32,685.36 L448.86,688.14 L448.12,690.92 L448.66,693.14 M446.98,701.24 L446.44,698.46 L447.18,695.68 L446.64,693.46 M448.32,701.24 L448.86,698.46 L448.12,695.68 L448.66,693.46 M451.48,685.36 L450.94,688.14 L451.68,690.92 L451.14,693.14 M452.82,685.36 L453.36,688.14 L452.62,690.92 L453.16,693.14 M451.48,701.24 L450.94,698.46 L451.68,695.68 L451.14,693.46 M452.82,701.24 L453.36,698.46 L452.62,695.68 L453.16,693.46 M455.98,685.36 L455.44,688.14 L456.18,690.92 L455.64,693.14 M457.32,685.36 L457.86,688.14 L457.12,690.92 L457.66,693.14 M455.98,701.24 L455.44,698.46 L456.18,695.68 L455.64,693.46 M457.32,701.24 L457.86,698.46 L457.12,695.68 L457.66,693.46 M460.48,685.36 L459.94,688.14 L460.68,690.92 L460.14,693.14 M461.82,685.36 L462.36,688.14 L461.62,690.92 L462.16,693.14 M460.48,701.24 L459.94,698.46 L460.68,695.68 L460.14,693.46 M461.82,701.24 L462.36,698.46 L461.62,695.68 L462.16,693.46 M464.98,685.36 L464.44,688.14 L465.18,690.92 L464.64,693.14 M466.32,685.36 L466.86,688.14 L466.12,690.92 L466.66,693.14 M464.98,701.24 L464.44,698.46 L465.18,695.68 L464.64,693.46 M466.32,701.24 L466.86,698.46 L466.12,695.68 L466.66,693.46 M469.48,685.36 L468.94,688.14 L469.68,690.92 L469.14,693.14 M470.82,685.36 L471.36,688.14 L470.62,690.92 L471.16,693.14 M469.48,701.24 L468.94,698.46 L469.68,695.68 L469.14,693.46 M470.82,701.24 L471.36,698.46 L470.62,695.68 L471.16,693.46 M473.98,685.36 L473.44,688.14 L474.18,690.92 L473.64,693.14 M475.32,685.36 L475.86,688.14 L475.12,690.92 L475.66,693.14 M473.98,701.24 L473.44,698.46 L474.18,695.68 L473.64,693.46 M475.32,701.24 L475.86,698.46 L475.12,695.68 L475.66,693.46 M478.48,685.36 L477.94,688.14 L478.68,690.92 L478.14,693.14 M479.82,685.36 L480.36,688.14 L479.62,690.92 L480.16,693.14 M478.48,701.24 L477.94,698.46 L478.68,695.68 L478.14,693.46 M479.82,701.24 L480.36,698.46 L479.62,695.68 L480.16,693.46 M482.98,685.36 L482.44,688.14 L483.18,690.92 L482.64,693.14 M484.32,685.36 L484.86,688.14 L484.12,690.92 L484.66,693.14 M482.98,701.24 L482.44,698.46 L483.18,695.68 L482.64,693.46 M484.32,701.24 L484.86,698.46 L484.12,695.68 L484.66,693.46 M487.48,685.36 L486.94,688.14 L487.68,690.92 L487.14,693.14 M488.82,685.36 L489.36,688.14 L488.62,690.92 L489.16,693.14 M487.48,701.24 L486.94,698.46 L487.68,695.68 L487.14,693.46 M488.82,701.24 L489.36,698.46 L488.62,695.68 L489.16,693.46 M491.98,685.36 L491.44,688.14 L492.18,690.92 L491.64,693.14 M493.32,685.36 L493.86,688.14 L493.12,690.92 L493.66,693.14 M491.98,701.24 L491.44,698.46 L492.18,695.68 L491.64,693.46 M493.32,701.24 L493.86,698.46 L493.12,695.68 L493.66,693.46 M496.48,685.36 L495.94,688.14 L496.68,690.92 L496.14,693.14 M497.82,685.36 L498.36,688.14 L497.62,690.92 L498.16,693.14 M496.48,701.24 L495.94,698.46 L496.68,695.68 L496.14,693.46 M497.82,701.24 L498.36,698.46 L497.62,695.68 L498.16,693.46 M500.98,685.36 L500.44,688.14 L501.18,690.92 L500.64,693.14 M502.32,685.36 L502.86,688.14 L502.12,690.92 L502.66,693.14 M500.98,701.24 L500.44,698.46 L501.18,695.68 L500.64,693.46 M502.32,701.24 L502.86,698.46 L502.12,695.68 L502.66,693.46" stroke="#d2d2d2" stroke-width="0.5" fill="none"/>
<g fill="#f3f3f3" stroke="#d6d6d6" stroke-width="0.55"><ellipse cx="393.65" cy="684" rx="2.1" ry="1.7"/><ellipse cx="393.65" cy="702.6" rx="2.1" ry="1.7"/><ellipse cx="398.15" cy="684" rx="2.1" ry="1.7"/><ellipse cx="398.15" cy="702.6" rx="2.1" ry="1.7"/><ellipse cx="402.65" cy="684" rx="2.1" ry="1.7"/><ellipse cx="402.65" cy="702.6" rx="2.1" ry="1.7"/><ellipse cx="407.15" cy="684" rx="2.1" ry="1.7"/><ellipse cx="407.15" cy="702.6" rx="2.1" ry="1.7"/><ellipse cx="411.65" cy="684" rx="2.1" ry="1.7"/><ellipse cx="411.65" cy="702.6" rx="2.1" ry="1.7"/><ellipse cx="416.15" cy="684" rx="2.1" ry="1.7"/><ellipse cx="416.15" cy="702.6" rx="2.1" ry="1.7"/><ellipse cx="420.65" cy="684" rx="2.1" ry="1.7"/><ellipse cx="420.65" cy="702.6" rx="2.1" ry="1.7"/><ellipse cx="425.15" cy="684" rx="2.1" ry="1.7"/><ellipse cx="425.15" cy="702.6" rx="2.1" ry="1.7"/><ellipse cx="429.65" cy="684" rx="2.1" ry="1.7"/><ellipse cx="429.65" cy="702.6" rx="2.1" ry="1.7"/><ellipse cx="434.15" cy="684" rx="2.1" ry="1.7"/><ellipse cx="434.15" cy="702.6" rx="2.1" ry="1.7"/><ellipse cx="438.65" cy="684" rx="2.1" ry="1.7"/><ellipse cx="438.65" cy="702.6" rx="2.1" ry="1.7"/><ellipse cx="443.15" cy="684" rx="2.1" ry="1.7"/><ellipse cx="443.15" cy="702.6" rx="2.1" ry="1.7"/><ellipse cx="447.65" cy="684" rx="2.1" ry="1.7"/><ellipse cx="447.65" cy="702.6" rx="2.1" ry="1.7"/><ellipse cx="452.15" cy="684" rx="2.1" ry="1.7"/><ellipse cx="452.15" cy="702.6" rx="2.1" ry="1.7"/><ellipse cx="456.65" cy="684" rx="2.1" ry="1.7"/><ellipse cx="456.65" cy="702.6" rx="2.1" ry="1.7"/><ellipse cx="461.15" cy="684" rx="2.1" ry="1.7"/><ellipse cx="461.15" cy="702.6" rx="2.1" ry="1.7"/><ellipse cx="465.65" cy="684" rx="2.1" ry="1.7"/><ellipse cx="465.65" cy="702.6" rx="2.1" ry="1.7"/><ellipse cx="470.15" cy="684" rx="2.1" ry="1.7"/><ellipse cx="470.15" cy="702.6" rx="2.1" ry="1.7"/><ellipse cx="474.65" cy="684" rx="2.1" ry="1.7"/><ellipse cx="474.65" cy="702.6" rx="2.1" ry="1.7"/><ellipse cx="479.15" cy="684" rx="2.1" ry="1.7"/><ellipse cx="479.15" cy="702.6" rx="2.1" ry="1.7"/><ellipse cx="483.65" cy="684" rx="2.1" ry="1.7"/><ellipse cx="483.65" cy="702.6" rx="2.1" ry="1.7"/><ellipse cx="488.15" cy="684" rx="2.1" ry="1.7"/><ellipse cx="488.15" cy="702.6" rx="2.1" ry="1.7"/><ellipse cx="492.65" cy="684" rx="2.1" ry="1.7"/><ellipse cx="492.65" cy="702.6" rx="2.1" ry="1.7"/><ellipse cx="497.15" cy="684" rx="2.1" ry="1.7"/><ellipse cx="497.15" cy="702.6" rx="2.1" ry="1.7"/><ellipse cx="501.65" cy="684" rx="2.1" ry="1.7"/><ellipse cx="501.65" cy="702.6" rx="2.1" ry="1.7"/></g>
<text x="392.8" y="629.93" font-size="6.5" font-weight="bold" text-anchor="middle" fill="#1c4f49">N</text>
<path d="M392.2,631.4 C390,634 384,635 380.5,638.5 C377,642 379,648 384,646.5 C388,645 391,643.5 393,642" stroke="#1c4f49" stroke-width="1.1" fill="none" transform="translate(0,0)"/>
<path d="M399,640.4 C404,640 407,643 404.5,647.5 C402,651 393,652 391.5,656.5 C390,661 396,663 401,660 C405,657.5 410,659 410.6,663.5 C411,668 404,673 400.5,677 C399.5,678.5 399.3,680 399.3,681.5" stroke="#1c4f49" stroke-width="1.1" fill="none" transform="translate(0,0)"/>
<circle cx="395" cy="642" r="4.7" fill="#5ec4f6" stroke="#8a8a8a" stroke-width="0.5"/>
<text x="410.4" y="637.57" font-size="11.1" font-weight="bold" text-anchor="middle" fill="#5ec4f6">WNT</text>
<text x="428" y="656.21" font-size="11.2" font-weight="bold" text-anchor="middle" fill="#2a8276">PKD1</text>
<text x="462.4" y="660.31" font-size="11.2" font-weight="bold" text-anchor="middle" fill="#1a1a1a">TRP</text>
<text x="495.3" y="656.31" font-size="11.2" font-weight="bold" text-anchor="middle" fill="#f7821b">PKD2</text>
<path d="M428.4,664.8 L428.4,662.5 L458.4,662.5 L458.4,664.8" stroke="#222" stroke-width="0.9" fill="none"/>
<path d="M465.3,664.8 L465.3,662.5 L497.4,662.5 L497.4,664.8" stroke="#222" stroke-width="0.9" fill="none"/>
<path d="M407.8,684 L407.8,679.4 A2.2,2.2 0 0 1 412.2,679.4 L412.2,684" stroke="#1c4f49" stroke-width="1" fill="none"/>
<path d="M420,684 L420,679.85 A2.65,2.65 0 0 1 425.3,679.85 L425.3,684" stroke="#1c4f49" stroke-width="1" fill="none"/>
<path d="M442.5,684 L442.5,679.5 A2.3,2.3 0 0 1 447.1,679.5 L447.1,684" stroke="#1c4f49" stroke-width="1" fill="none"/>
<path d="M452.2,684 L452.2,679.7 A2.5,2.5 0 0 1 457.2,679.7 L457.2,684" stroke="#1c4f49" stroke-width="1" fill="none"/>
<path d="M430,684 L430,668.9 A3.9,3.9 0 0 1 437.8,668.9 L437.8,684" stroke="#6e9e96" stroke-width="1" fill="none"/>
<path d="M399.2,702 L399.2,707.4 A4.3,4.3 0 0 0 407.8,707.4 L407.8,702" stroke="#1c4f49" stroke-width="1" fill="none"/>
<path d="M412.2,702 L412.2,715.6 A3.9,3.9 0 0 0 420,715.6 L420,702" stroke="#1c4f49" stroke-width="1" fill="none"/>
<path d="M425.3,702 L425.3,705.65 A2.35,2.35 0 0 0 430,705.65 L430,702" stroke="#1c4f49" stroke-width="1" fill="none"/>
<path d="M437.8,702 L437.8,705.65 A2.35,2.35 0 0 0 442.5,705.65 L442.5,702" stroke="#1c4f49" stroke-width="1" fill="none"/>
<path d="M447.1,702 L447.1,705.45 A2.55,2.55 0 0 0 452.2,705.45 L452.2,702" stroke="#1c4f49" stroke-width="1" fill="none"/>
<rect x="397.4" y="681.3" width="3.6" height="23.4" rx="1.8" fill="#2a8276" stroke="#1c4f49" stroke-width="0.5"/>
<rect x="406" y="681.3" width="3.6" height="23.4" rx="1.8" fill="#2a8276" stroke="#1c4f49" stroke-width="0.5"/>
<rect x="410.4" y="681.3" width="3.6" height="23.4" rx="1.8" fill="#2a8276" stroke="#1c4f49" stroke-width="0.5"/>
<rect x="418.2" y="681.3" width="3.6" height="23.4" rx="1.8" fill="#2a8276" stroke="#1c4f49" stroke-width="0.5"/>
<rect x="423.5" y="681.3" width="3.6" height="23.4" rx="1.8" fill="#2a8276" stroke="#1c4f49" stroke-width="0.5"/>
<rect x="428.2" y="681.3" width="3.6" height="23.4" rx="1.8" fill="#2a8276" stroke="#1c4f49" stroke-width="0.5"/>
<rect x="436" y="681.3" width="3.6" height="23.4" rx="1.8" fill="#2a8276" stroke="#1c4f49" stroke-width="0.5"/>
<rect x="440.7" y="681.3" width="3.6" height="23.4" rx="1.8" fill="#2a8276" stroke="#1c4f49" stroke-width="0.5"/>
<rect x="445.3" y="681.3" width="3.6" height="23.4" rx="1.8" fill="#2a8276" stroke="#1c4f49" stroke-width="0.5"/>
<rect x="450.4" y="681.3" width="3.6" height="23.4" rx="1.8" fill="#2a8276" stroke="#1c4f49" stroke-width="0.5"/>
<rect x="455.4" y="681.3" width="3.6" height="23.4" rx="1.8" fill="#2a8276" stroke="#1c4f49" stroke-width="0.5"/>
<path d="M466.9,684 L466.9,674 A1.7,1.7 0 0 1 470.3,674 L470.3,681.5 Q470.7,683.5 471.1,681.5 L471.1,674 A1.7,1.7 0 0 1 474.5,674 L474.5,684" stroke="#e0611a" stroke-width="0.9" fill="none"/>
<path d="M479.2,684 L479.2,680.35 A2.35,2.35 0 0 1 483.9,680.35 L483.9,684" stroke="#e0611a" stroke-width="0.9" fill="none"/>
<path d="M488.6,684 L488.6,672.3 A4.1,4.1 0 0 1 496.8,672.3 L496.8,684" stroke="#e0611a" stroke-width="0.9" fill="none"/>
<path d="M474.5,702 L474.5,705.95 A2.35,2.35 0 0 0 479.2,705.95 L479.2,702" stroke="#e0611a" stroke-width="0.9" fill="none"/>
<path d="M483.9,702 L483.9,705.95 A2.35,2.35 0 0 0 488.6,705.95 L488.6,702" stroke="#e0611a" stroke-width="0.9" fill="none"/>
<rect x="465.1" y="681.7" width="3.6" height="23.5" rx="1.8" fill="#f7821b" stroke="#e0611a" stroke-width="0.5"/>
<rect x="472.7" y="681.7" width="3.6" height="23.5" rx="1.8" fill="#f7821b" stroke="#e0611a" stroke-width="0.5"/>
<rect x="477.4" y="681.7" width="3.6" height="23.5" rx="1.8" fill="#f7821b" stroke="#e0611a" stroke-width="0.5"/>
<rect x="482.1" y="681.7" width="3.6" height="23.5" rx="1.8" fill="#f7821b" stroke="#e0611a" stroke-width="0.5"/>
<rect x="486.8" y="681.7" width="3.6" height="23.5" rx="1.8" fill="#f7821b" stroke="#e0611a" stroke-width="0.5"/>
<rect x="495" y="681.7" width="3.6" height="23.5" rx="1.8" fill="#f7821b" stroke="#e0611a" stroke-width="0.5"/>
<path d="M457.2,705 C457.4,708.5 460,709.5 460,711.5  C462,712.27 461.92,713.31 459.92,714.08 C457.92,714.86 457.83,715.89 459.83,716.67 C461.83,717.44 461.75,718.48 459.75,719.25 C457.75,720.02 457.67,721.06 459.67,721.83 C461.67,722.61 461.58,723.64 459.58,724.42 C457.58,725.19 457.5,726.23 459.5,727 C459,729.5 456,729.5 453.5,731" stroke="#1c4f49" stroke-width="1" fill="none"/>
<path d="M466.9,705 C466.9,708.5 463.5,710 462.5,711.5  C464.5,712.25 464.42,713.25 462.42,714 C460.42,714.75 460.33,715.75 462.33,716.5 C464.33,717.25 464.25,718.25 462.25,719 C460.25,719.75 460.17,720.75 462.17,721.5 C464.17,722.25 464.08,723.25 462.08,724 C460.08,724.75 460,725.75 462,726.5 C462.5,729 465,730.5 467.5,731" stroke="#e0611a" stroke-width="1" fill="none"/>
<text x="450.7" y="735.81" font-size="7" font-weight="bold" text-anchor="middle" fill="#1c4f49">C</text>
<text x="470.6" y="734.31" font-size="7" font-weight="bold" text-anchor="middle" fill="#e0611a">C</text>
<path d="M496.8,705 C496.8,709 499.5,711 499,713 C498.5,715 497,717 496,718" stroke="#e0611a" stroke-width="0.9" fill="none"/>
<text x="493.6" y="721.13" font-size="6.5" font-weight="bold" text-anchor="middle" fill="#e0611a">N</text>
<line x1="460.6" y1="734.5" x2="460.6" y2="760" stroke="#222" stroke-width="1.5"/>
<path d="M460.6,765.5 L457.68,759 L463.53,759 Z" stroke="none" stroke-width="0" fill="#222"/>
<path d="M460.8,738 C462,746 468,749 475,750.3" stroke="#222" stroke-width="1.5" fill="none"/>
<path d="M481,750.8 L474.27,753.15 L474.78,747.32 Z" stroke="none" stroke-width="0" fill="#222"/>
<rect x="482.6" y="739.8" width="30.4" height="20.2" rx="10" fill="#c8cde4" stroke="#333" stroke-width="0.9"/>
<text x="497.8" y="754.05" font-size="11.3" font-weight="bold" text-anchor="middle" fill="#111">Gβ/γ</text>
<rect x="443.6" y="766.2" width="35.7" height="23.4" rx="11" fill="#eef2fa" stroke="#333" stroke-width="0.9"/>
<text x="461.5" y="781.7" font-size="11" font-weight="bold" text-anchor="middle" fill="#111">Gα<tspan font-size="6" dy="2" font-weight="normal">i</tspan></text>
<line x1="460.6" y1="794" x2="460.6" y2="810" stroke="#222" stroke-width="1.4"/>
<line x1="454" y1="810.2" x2="467" y2="810.2" stroke="#222" stroke-width="1.6"/>
<text x="464.9" y="840.17" font-size="10.8" font-weight="bold" text-anchor="middle" fill="#111">cAMP</text>
<line x1="442.4" y1="828.5" x2="442.4" y2="840" stroke="#222" stroke-width="2.1"/>
<path d="M442.4,845.3 L439.25,838.3 L445.55,838.3 Z" stroke="none" stroke-width="0" fill="#222"/>
<circle cx="462.3" cy="822.3" r="4" fill="#8c1a1c" stroke="#4a0c0c" stroke-width="0.5"/>
<circle cx="487.3" cy="840" r="4" fill="#8c1a1c" stroke="#4a0c0c" stroke-width="0.5"/>
<circle cx="466.2" cy="849.4" r="4" fill="#8c1a1c" stroke="#4a0c0c" stroke-width="0.5"/>
<path d="M561.38,685.36 L560.84,688.14 L561.58,690.92 L561.04,693.14 M562.72,685.36 L563.26,688.14 L562.52,690.92 L563.06,693.14 M561.38,701.24 L560.84,698.46 L561.58,695.68 L561.04,693.46 M562.72,701.24 L563.26,698.46 L562.52,695.68 L563.06,693.46 M565.88,685.36 L565.34,688.14 L566.08,690.92 L565.54,693.14 M567.22,685.36 L567.76,688.14 L567.02,690.92 L567.56,693.14 M565.88,701.24 L565.34,698.46 L566.08,695.68 L565.54,693.46 M567.22,701.24 L567.76,698.46 L567.02,695.68 L567.56,693.46 M570.38,685.36 L569.84,688.14 L570.58,690.92 L570.04,693.14 M571.72,685.36 L572.26,688.14 L571.52,690.92 L572.06,693.14 M570.38,701.24 L569.84,698.46 L570.58,695.68 L570.04,693.46 M571.72,701.24 L572.26,698.46 L571.52,695.68 L572.06,693.46 M574.88,685.36 L574.34,688.14 L575.08,690.92 L574.54,693.14 M576.22,685.36 L576.76,688.14 L576.02,690.92 L576.56,693.14 M574.88,701.24 L574.34,698.46 L575.08,695.68 L574.54,693.46 M576.22,701.24 L576.76,698.46 L576.02,695.68 L576.56,693.46 M579.38,685.36 L578.84,688.14 L579.58,690.92 L579.04,693.14 M580.72,685.36 L581.26,688.14 L580.52,690.92 L581.06,693.14 M579.38,701.24 L578.84,698.46 L579.58,695.68 L579.04,693.46 M580.72,701.24 L581.26,698.46 L580.52,695.68 L581.06,693.46 M583.88,685.36 L583.34,688.14 L584.08,690.92 L583.54,693.14 M585.22,685.36 L585.76,688.14 L585.02,690.92 L585.56,693.14 M583.88,701.24 L583.34,698.46 L584.08,695.68 L583.54,693.46 M585.22,701.24 L585.76,698.46 L585.02,695.68 L585.56,693.46 M588.38,685.36 L587.84,688.14 L588.58,690.92 L588.04,693.14 M589.72,685.36 L590.26,688.14 L589.52,690.92 L590.06,693.14 M588.38,701.24 L587.84,698.46 L588.58,695.68 L588.04,693.46 M589.72,701.24 L590.26,698.46 L589.52,695.68 L590.06,693.46 M592.88,685.36 L592.34,688.14 L593.08,690.92 L592.54,693.14 M594.22,685.36 L594.76,688.14 L594.02,690.92 L594.56,693.14 M592.88,701.24 L592.34,698.46 L593.08,695.68 L592.54,693.46 M594.22,701.24 L594.76,698.46 L594.02,695.68 L594.56,693.46 M597.38,685.36 L596.84,688.14 L597.58,690.92 L597.04,693.14 M598.72,685.36 L599.26,688.14 L598.52,690.92 L599.06,693.14 M597.38,701.24 L596.84,698.46 L597.58,695.68 L597.04,693.46 M598.72,701.24 L599.26,698.46 L598.52,695.68 L599.06,693.46 M601.88,685.36 L601.34,688.14 L602.08,690.92 L601.54,693.14 M603.22,685.36 L603.76,688.14 L603.02,690.92 L603.56,693.14 M601.88,701.24 L601.34,698.46 L602.08,695.68 L601.54,693.46 M603.22,701.24 L603.76,698.46 L603.02,695.68 L603.56,693.46 M606.38,685.36 L605.84,688.14 L606.58,690.92 L606.04,693.14 M607.72,685.36 L608.26,688.14 L607.52,690.92 L608.06,693.14 M606.38,701.24 L605.84,698.46 L606.58,695.68 L606.04,693.46 M607.72,701.24 L608.26,698.46 L607.52,695.68 L608.06,693.46 M610.88,685.36 L610.34,688.14 L611.08,690.92 L610.54,693.14 M612.22,685.36 L612.76,688.14 L612.02,690.92 L612.56,693.14 M610.88,701.24 L610.34,698.46 L611.08,695.68 L610.54,693.46 M612.22,701.24 L612.76,698.46 L612.02,695.68 L612.56,693.46 M615.38,685.36 L614.84,688.14 L615.58,690.92 L615.04,693.14 M616.72,685.36 L617.26,688.14 L616.52,690.92 L617.06,693.14 M615.38,701.24 L614.84,698.46 L615.58,695.68 L615.04,693.46 M616.72,701.24 L617.26,698.46 L616.52,695.68 L617.06,693.46 M619.88,685.36 L619.34,688.14 L620.08,690.92 L619.54,693.14 M621.22,685.36 L621.76,688.14 L621.02,690.92 L621.56,693.14 M619.88,701.24 L619.34,698.46 L620.08,695.68 L619.54,693.46 M621.22,701.24 L621.76,698.46 L621.02,695.68 L621.56,693.46 M624.38,685.36 L623.84,688.14 L624.58,690.92 L624.04,693.14 M625.72,685.36 L626.26,688.14 L625.52,690.92 L626.06,693.14 M624.38,701.24 L623.84,698.46 L624.58,695.68 L624.04,693.46 M625.72,701.24 L626.26,698.46 L625.52,695.68 L626.06,693.46 M628.88,685.36 L628.34,688.14 L629.08,690.92 L628.54,693.14 M630.22,685.36 L630.76,688.14 L630.02,690.92 L630.56,693.14 M628.88,701.24 L628.34,698.46 L629.08,695.68 L628.54,693.46 M630.22,701.24 L630.76,698.46 L630.02,695.68 L630.56,693.46 M633.38,685.36 L632.84,688.14 L633.58,690.92 L633.04,693.14 M634.72,685.36 L635.26,688.14 L634.52,690.92 L635.06,693.14 M633.38,701.24 L632.84,698.46 L633.58,695.68 L633.04,693.46 M634.72,701.24 L635.26,698.46 L634.52,695.68 L635.06,693.46 M637.88,685.36 L637.34,688.14 L638.08,690.92 L637.54,693.14 M639.22,685.36 L639.76,688.14 L639.02,690.92 L639.56,693.14 M637.88,701.24 L637.34,698.46 L638.08,695.68 L637.54,693.46 M639.22,701.24 L639.76,698.46 L639.02,695.68 L639.56,693.46 M642.38,685.36 L641.84,688.14 L642.58,690.92 L642.04,693.14 M643.72,685.36 L644.26,688.14 L643.52,690.92 L644.06,693.14 M642.38,701.24 L641.84,698.46 L642.58,695.68 L642.04,693.46 M643.72,701.24 L644.26,698.46 L643.52,695.68 L644.06,693.46 M646.88,685.36 L646.34,688.14 L647.08,690.92 L646.54,693.14 M648.22,685.36 L648.76,688.14 L648.02,690.92 L648.56,693.14 M646.88,701.24 L646.34,698.46 L647.08,695.68 L646.54,693.46 M648.22,701.24 L648.76,698.46 L648.02,695.68 L648.56,693.46 M651.38,685.36 L650.84,688.14 L651.58,690.92 L651.04,693.14 M652.72,685.36 L653.26,688.14 L652.52,690.92 L653.06,693.14 M651.38,701.24 L650.84,698.46 L651.58,695.68 L651.04,693.46 M652.72,701.24 L653.26,698.46 L652.52,695.68 L653.06,693.46 M655.88,685.36 L655.34,688.14 L656.08,690.92 L655.54,693.14 M657.22,685.36 L657.76,688.14 L657.02,690.92 L657.56,693.14 M655.88,701.24 L655.34,698.46 L656.08,695.68 L655.54,693.46 M657.22,701.24 L657.76,698.46 L657.02,695.68 L657.56,693.46 M660.38,685.36 L659.84,688.14 L660.58,690.92 L660.04,693.14 M661.72,685.36 L662.26,688.14 L661.52,690.92 L662.06,693.14 M660.38,701.24 L659.84,698.46 L660.58,695.68 L660.04,693.46 M661.72,701.24 L662.26,698.46 L661.52,695.68 L662.06,693.46 M664.88,685.36 L664.34,688.14 L665.08,690.92 L664.54,693.14 M666.22,685.36 L666.76,688.14 L666.02,690.92 L666.56,693.14 M664.88,701.24 L664.34,698.46 L665.08,695.68 L664.54,693.46 M666.22,701.24 L666.76,698.46 L666.02,695.68 L666.56,693.46 M669.38,685.36 L668.84,688.14 L669.58,690.92 L669.04,693.14 M670.72,685.36 L671.26,688.14 L670.52,690.92 L671.06,693.14 M669.38,701.24 L668.84,698.46 L669.58,695.68 L669.04,693.46 M670.72,701.24 L671.26,698.46 L670.52,695.68 L671.06,693.46" stroke="#d2d2d2" stroke-width="0.5" fill="none"/>
<g fill="#f3f3f3" stroke="#d6d6d6" stroke-width="0.55"><ellipse cx="562.05" cy="684" rx="2.1" ry="1.7"/><ellipse cx="562.05" cy="702.6" rx="2.1" ry="1.7"/><ellipse cx="566.55" cy="684" rx="2.1" ry="1.7"/><ellipse cx="566.55" cy="702.6" rx="2.1" ry="1.7"/><ellipse cx="571.05" cy="684" rx="2.1" ry="1.7"/><ellipse cx="571.05" cy="702.6" rx="2.1" ry="1.7"/><ellipse cx="575.55" cy="684" rx="2.1" ry="1.7"/><ellipse cx="575.55" cy="702.6" rx="2.1" ry="1.7"/><ellipse cx="580.05" cy="684" rx="2.1" ry="1.7"/><ellipse cx="580.05" cy="702.6" rx="2.1" ry="1.7"/><ellipse cx="584.55" cy="684" rx="2.1" ry="1.7"/><ellipse cx="584.55" cy="702.6" rx="2.1" ry="1.7"/><ellipse cx="589.05" cy="684" rx="2.1" ry="1.7"/><ellipse cx="589.05" cy="702.6" rx="2.1" ry="1.7"/><ellipse cx="593.55" cy="684" rx="2.1" ry="1.7"/><ellipse cx="593.55" cy="702.6" rx="2.1" ry="1.7"/><ellipse cx="598.05" cy="684" rx="2.1" ry="1.7"/><ellipse cx="598.05" cy="702.6" rx="2.1" ry="1.7"/><ellipse cx="602.55" cy="684" rx="2.1" ry="1.7"/><ellipse cx="602.55" cy="702.6" rx="2.1" ry="1.7"/><ellipse cx="607.05" cy="684" rx="2.1" ry="1.7"/><ellipse cx="607.05" cy="702.6" rx="2.1" ry="1.7"/><ellipse cx="611.55" cy="684" rx="2.1" ry="1.7"/><ellipse cx="611.55" cy="702.6" rx="2.1" ry="1.7"/><ellipse cx="616.05" cy="684" rx="2.1" ry="1.7"/><ellipse cx="616.05" cy="702.6" rx="2.1" ry="1.7"/><ellipse cx="620.55" cy="684" rx="2.1" ry="1.7"/><ellipse cx="620.55" cy="702.6" rx="2.1" ry="1.7"/><ellipse cx="625.05" cy="684" rx="2.1" ry="1.7"/><ellipse cx="625.05" cy="702.6" rx="2.1" ry="1.7"/><ellipse cx="629.55" cy="684" rx="2.1" ry="1.7"/><ellipse cx="629.55" cy="702.6" rx="2.1" ry="1.7"/><ellipse cx="634.05" cy="684" rx="2.1" ry="1.7"/><ellipse cx="634.05" cy="702.6" rx="2.1" ry="1.7"/><ellipse cx="638.55" cy="684" rx="2.1" ry="1.7"/><ellipse cx="638.55" cy="702.6" rx="2.1" ry="1.7"/><ellipse cx="643.05" cy="684" rx="2.1" ry="1.7"/><ellipse cx="643.05" cy="702.6" rx="2.1" ry="1.7"/><ellipse cx="647.55" cy="684" rx="2.1" ry="1.7"/><ellipse cx="647.55" cy="702.6" rx="2.1" ry="1.7"/><ellipse cx="652.05" cy="684" rx="2.1" ry="1.7"/><ellipse cx="652.05" cy="702.6" rx="2.1" ry="1.7"/><ellipse cx="656.55" cy="684" rx="2.1" ry="1.7"/><ellipse cx="656.55" cy="702.6" rx="2.1" ry="1.7"/><ellipse cx="661.05" cy="684" rx="2.1" ry="1.7"/><ellipse cx="661.05" cy="702.6" rx="2.1" ry="1.7"/><ellipse cx="665.55" cy="684" rx="2.1" ry="1.7"/><ellipse cx="665.55" cy="702.6" rx="2.1" ry="1.7"/><ellipse cx="670.05" cy="684" rx="2.1" ry="1.7"/><ellipse cx="670.05" cy="702.6" rx="2.1" ry="1.7"/></g>
<text x="561.2" y="629.93" font-size="6.5" font-weight="bold" text-anchor="middle" fill="#1c4f49">N</text>
<path d="M392.2,631.4 C390,634 384,635 380.5,638.5 C377,642 379,648 384,646.5 C388,645 391,643.5 393,642" stroke="#1c4f49" stroke-width="1.1" fill="none" transform="translate(168.4,0)"/>
<path d="M399,640.4 C404,640 407,643 404.5,647.5 C402,651 393,652 391.5,656.5 C390,661 396,663 401,660 C405,657.5 410,659 410.6,663.5 C411,668 404,673 400.5,677 C399.5,678.5 399.3,680 399.3,681.5" stroke="#1c4f49" stroke-width="1.1" fill="none" transform="translate(168.4,0)"/>
<circle cx="563.4" cy="642" r="4.7" fill="#5ec4f6" stroke="#8a8a8a" stroke-width="0.5"/>
<text x="578.8" y="637.57" font-size="11.1" font-weight="bold" text-anchor="middle" fill="#5ec4f6">WNT</text>
<text x="596.4" y="656.21" font-size="11.2" font-weight="bold" text-anchor="middle" fill="#2a8276">PKD1</text>
<text x="630.8" y="660.31" font-size="11.2" font-weight="bold" text-anchor="middle" fill="#1a1a1a">TRP</text>
<text x="663.7" y="656.31" font-size="11.2" font-weight="bold" text-anchor="middle" fill="#f7821b">PKD2</text>
<path d="M596.8,664.8 L596.8,662.5 L626.8,662.5 L626.8,664.8" stroke="#222" stroke-width="0.9" fill="none"/>
<path d="M633.7,664.8 L633.7,662.5 L665.8,662.5 L665.8,664.8" stroke="#222" stroke-width="0.9" fill="none"/>
<path d="M576.2,684 L576.2,679.4 A2.2,2.2 0 0 1 580.6,679.4 L580.6,684" stroke="#1c4f49" stroke-width="1" fill="none"/>
<path d="M588.4,684 L588.4,679.85 A2.65,2.65 0 0 1 593.7,679.85 L593.7,684" stroke="#1c4f49" stroke-width="1" fill="none"/>
<path d="M610.9,684 L610.9,679.5 A2.3,2.3 0 0 1 615.5,679.5 L615.5,684" stroke="#1c4f49" stroke-width="1" fill="none"/>
<path d="M620.6,684 L620.6,679.7 A2.5,2.5 0 0 1 625.6,679.7 L625.6,684" stroke="#1c4f49" stroke-width="1" fill="none"/>
<path d="M598.4,684 L598.4,668.9 A3.9,3.9 0 0 1 606.2,668.9 L606.2,684" stroke="#6e9e96" stroke-width="1" fill="none"/>
<path d="M567.6,702 L567.6,707.4 A4.3,4.3 0 0 0 576.2,707.4 L576.2,702" stroke="#1c4f49" stroke-width="1" fill="none"/>
<path d="M580.6,702 L580.6,715.6 A3.9,3.9 0 0 0 588.4,715.6 L588.4,702" stroke="#1c4f49" stroke-width="1" fill="none"/>
<path d="M593.7,702 L593.7,705.65 A2.35,2.35 0 0 0 598.4,705.65 L598.4,702" stroke="#1c4f49" stroke-width="1" fill="none"/>
<path d="M606.2,702 L606.2,705.65 A2.35,2.35 0 0 0 610.9,705.65 L610.9,702" stroke="#1c4f49" stroke-width="1" fill="none"/>
<path d="M615.5,702 L615.5,705.45 A2.55,2.55 0 0 0 620.6,705.45 L620.6,702" stroke="#1c4f49" stroke-width="1" fill="none"/>
<rect x="565.8" y="681.3" width="3.6" height="23.4" rx="1.8" fill="#2a8276" stroke="#1c4f49" stroke-width="0.5"/>
<rect x="574.4" y="681.3" width="3.6" height="23.4" rx="1.8" fill="#2a8276" stroke="#1c4f49" stroke-width="0.5"/>
<rect x="578.8" y="681.3" width="3.6" height="23.4" rx="1.8" fill="#2a8276" stroke="#1c4f49" stroke-width="0.5"/>
<rect x="586.6" y="681.3" width="3.6" height="23.4" rx="1.8" fill="#2a8276" stroke="#1c4f49" stroke-width="0.5"/>
<rect x="591.9" y="681.3" width="3.6" height="23.4" rx="1.8" fill="#2a8276" stroke="#1c4f49" stroke-width="0.5"/>
<rect x="596.6" y="681.3" width="3.6" height="23.4" rx="1.8" fill="#2a8276" stroke="#1c4f49" stroke-width="0.5"/>
<rect x="604.4" y="681.3" width="3.6" height="23.4" rx="1.8" fill="#2a8276" stroke="#1c4f49" stroke-width="0.5"/>
<rect x="609.1" y="681.3" width="3.6" height="23.4" rx="1.8" fill="#2a8276" stroke="#1c4f49" stroke-width="0.5"/>
<rect x="613.7" y="681.3" width="3.6" height="23.4" rx="1.8" fill="#2a8276" stroke="#1c4f49" stroke-width="0.5"/>
<rect x="618.8" y="681.3" width="3.6" height="23.4" rx="1.8" fill="#2a8276" stroke="#1c4f49" stroke-width="0.5"/>
<rect x="623.8" y="681.3" width="3.6" height="23.4" rx="1.8" fill="#2a8276" stroke="#1c4f49" stroke-width="0.5"/>
<path d="M635.3,684 L635.3,674 A1.7,1.7 0 0 1 638.7,674 L638.7,681.5 Q639.1,683.5 639.5,681.5 L639.5,674 A1.7,1.7 0 0 1 642.9,674 L642.9,684" stroke="#e0611a" stroke-width="0.9" fill="none"/>
<path d="M647.6,684 L647.6,680.35 A2.35,2.35 0 0 1 652.3,680.35 L652.3,684" stroke="#e0611a" stroke-width="0.9" fill="none"/>
<path d="M657,684 L657,672.3 A4.1,4.1 0 0 1 665.2,672.3 L665.2,684" stroke="#e0611a" stroke-width="0.9" fill="none"/>
<path d="M642.9,702 L642.9,705.95 A2.35,2.35 0 0 0 647.6,705.95 L647.6,702" stroke="#e0611a" stroke-width="0.9" fill="none"/>
<path d="M652.3,702 L652.3,705.95 A2.35,2.35 0 0 0 657,705.95 L657,702" stroke="#e0611a" stroke-width="0.9" fill="none"/>
<rect x="633.5" y="681.7" width="3.6" height="23.5" rx="1.8" fill="#f7821b" stroke="#e0611a" stroke-width="0.5"/>
<rect x="641.1" y="681.7" width="3.6" height="23.5" rx="1.8" fill="#f7821b" stroke="#e0611a" stroke-width="0.5"/>
<rect x="645.8" y="681.7" width="3.6" height="23.5" rx="1.8" fill="#f7821b" stroke="#e0611a" stroke-width="0.5"/>
<rect x="650.5" y="681.7" width="3.6" height="23.5" rx="1.8" fill="#f7821b" stroke="#e0611a" stroke-width="0.5"/>
<rect x="655.2" y="681.7" width="3.6" height="23.5" rx="1.8" fill="#f7821b" stroke="#e0611a" stroke-width="0.5"/>
<rect x="663.4" y="681.7" width="3.6" height="23.5" rx="1.8" fill="#f7821b" stroke="#e0611a" stroke-width="0.5"/>
<path d="M625.6,705 C625.8,708.5 628.4,709.5 628.4,711.5  C630.4,712.27 630.32,713.31 628.32,714.08 C626.32,714.86 626.23,715.89 628.23,716.67 C630.23,717.44 630.15,718.48 628.15,719.25 C626.15,720.02 626.07,721.06 628.07,721.83 C630.07,722.61 629.98,723.64 627.98,724.42 C625.98,725.19 625.9,726.23 627.9,727 C627.4,729.5 624.4,729.5 621.9,731" stroke="#1c4f49" stroke-width="1" fill="none"/>
<path d="M635.3,705 C635.3,708.5 631.9,710 630.9,711.5  C632.9,712.25 632.82,713.25 630.82,714 C628.82,714.75 628.73,715.75 630.73,716.5 C632.73,717.25 632.65,718.25 630.65,719 C628.65,719.75 628.57,720.75 630.57,721.5 C632.57,722.25 632.48,723.25 630.48,724 C628.48,724.75 628.4,725.75 630.4,726.5 C630.9,729 633.4,730.5 635.9,731" stroke="#e0611a" stroke-width="1" fill="none"/>
<text x="619.1" y="735.81" font-size="7" font-weight="bold" text-anchor="middle" fill="#1c4f49">C</text>
<text x="639" y="734.31" font-size="7" font-weight="bold" text-anchor="middle" fill="#e0611a">C</text>
<path d="M665.2,705 C665.2,709 667.9,711 667.4,713 C666.9,715 665.4,717 664.4,718" stroke="#e0611a" stroke-width="0.9" fill="none"/>
<text x="662" y="721.13" font-size="6.5" font-weight="bold" text-anchor="middle" fill="#e0611a">N</text>
<line x1="629" y1="734.5" x2="629" y2="760" stroke="#222" stroke-width="1.5"/>
<path d="M629,765.5 L626.08,759 L631.92,759 Z" stroke="none" stroke-width="0" fill="#222"/>
<path d="M629.2,738 C630.4,746 636.4,749 643.4,750.3" stroke="#222" stroke-width="1.5" fill="none"/>
<path d="M649.4,750.8 L642.67,753.15 L643.18,747.32 Z" stroke="none" stroke-width="0" fill="#222"/>
<rect x="651" y="739.8" width="30.4" height="20.2" rx="10" fill="#c8cde4" stroke="#333" stroke-width="0.9"/>
<text x="666.2" y="754.05" font-size="11.3" font-weight="bold" text-anchor="middle" fill="#111">Gβ/γ</text>
<rect x="612" y="766.2" width="35.7" height="23.4" rx="11" fill="#eef2fa" stroke="#333" stroke-width="0.9"/>
<text x="629.9" y="781.7" font-size="11" font-weight="bold" text-anchor="middle" fill="#111">Gα<tspan font-size="6" dy="2" font-weight="normal">i</tspan></text>
<line x1="629" y1="794" x2="629" y2="810" stroke="#222" stroke-width="1.4"/>
<line x1="622.4" y1="810.2" x2="635.4" y2="810.2" stroke="#222" stroke-width="1.6"/>
<text x="633.3" y="840.17" font-size="10.8" font-weight="bold" text-anchor="middle" fill="#111">cAMP</text>
<line x1="611" y1="845.5" x2="611" y2="834" stroke="#222" stroke-width="2.1"/>
<path d="M611,828 L614.15,835 L607.85,835 Z" stroke="none" stroke-width="0" fill="#222"/>
<circle cx="609.6" cy="821.4" r="4" fill="#8c1a1c" stroke="#4a0c0c" stroke-width="0.5"/>
<circle cx="630.6" cy="822.3" r="4" fill="#8c1a1c" stroke="#4a0c0c" stroke-width="0.5"/>
<circle cx="648.8" cy="819.5" r="4" fill="#8c1a1c" stroke="#4a0c0c" stroke-width="0.5"/>
<circle cx="598.6" cy="836.3" r="4" fill="#8c1a1c" stroke="#4a0c0c" stroke-width="0.5"/>
<circle cx="655.8" cy="840" r="4" fill="#8c1a1c" stroke="#4a0c0c" stroke-width="0.5"/>
<circle cx="607.9" cy="853.4" r="4" fill="#8c1a1c" stroke="#4a0c0c" stroke-width="0.5"/>
<circle cx="634.3" cy="849.4" r="4" fill="#8c1a1c" stroke="#4a0c0c" stroke-width="0.5"/>
<circle cx="646.5" cy="856.4" r="4" fill="#8c1a1c" stroke="#4a0c0c" stroke-width="0.5"/>
<circle cx="627.8" cy="860.2" r="4" fill="#8c1a1c" stroke="#4a0c0c" stroke-width="0.5"/>
<line x1="610.9" y1="677.3" x2="648.9" y2="715.1" stroke="#e61d1d" stroke-width="5.3" stroke-linecap="round"/>
<line x1="648.9" y1="677.3" x2="610.9" y2="715.1" stroke="#e61d1d" stroke-width="5.3" stroke-linecap="round"/>
<line x1="620.8" y1="741.1" x2="638.1" y2="757.7" stroke="#e61d1d" stroke-width="2.5"/>
<line x1="638.1" y1="741.1" x2="620.8" y2="757.7" stroke="#e61d1d" stroke-width="2.5"/>
<line x1="620.8" y1="792.9" x2="638.1" y2="809.5" stroke="#e61d1d" stroke-width="2.5"/>
<line x1="638.1" y1="792.9" x2="620.8" y2="809.5" stroke="#e61d1d" stroke-width="2.5"/>
</svg></body></html>
